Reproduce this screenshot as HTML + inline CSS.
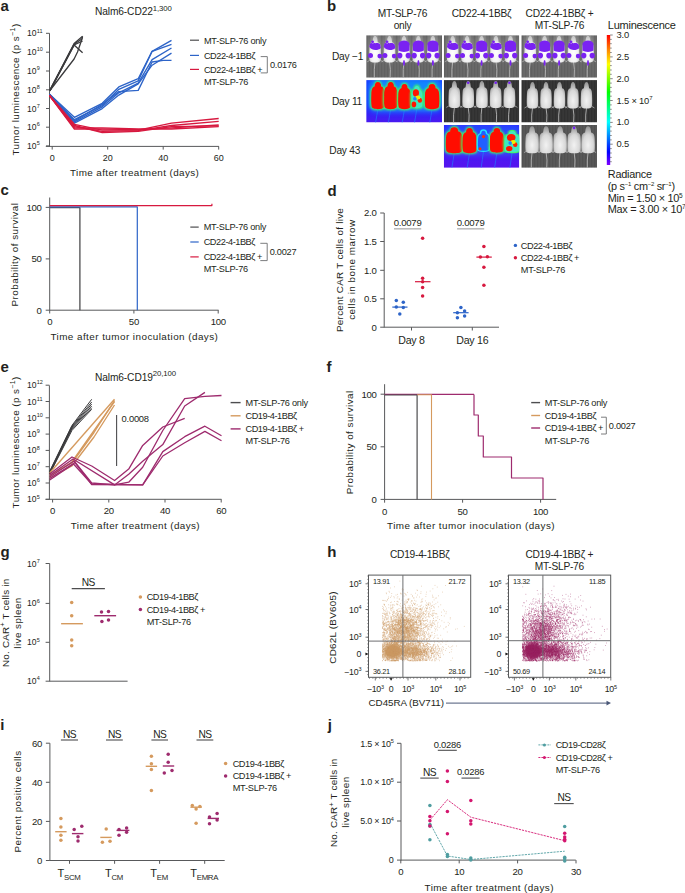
<!DOCTYPE html>
<html><head><meta charset="utf-8"><style>
html,body{margin:0;padding:0;background:#fff;width:685px;height:893px;overflow:hidden}
svg{display:block;font-family:"Liberation Sans",sans-serif;fill:#231f20}

</style></head><body>
<svg width="685" height="893" viewBox="0 0 685 893">
<text x="0.5" y="10.8" font-size="15" font-weight="bold">a</text>
<text x="94.9" y="15" font-size="10.2" letter-spacing="-0.1">Nalm6-CD22<tspan font-size="7.8" dy="-4.3">1,300</tspan></text>
<line x1="49.5" y1="33.3" x2="49.5" y2="146.9" stroke="#58595b" stroke-width="1"/>
<line x1="45.8" y1="146.4" x2="218.9" y2="146.4" stroke="#58595b" stroke-width="1"/>
<line x1="46.0" y1="33.3" x2="49.5" y2="33.3" stroke="#58595b" stroke-width="1"/>
<text x="36.5" y="36.3" font-size="8.6" text-anchor="end">10</text>
<text x="36.8" y="32.5" font-size="5.5">11</text>
<line x1="46.0" y1="52.2" x2="49.5" y2="52.2" stroke="#58595b" stroke-width="1"/>
<text x="36.5" y="55.2" font-size="8.6" text-anchor="end">10</text>
<text x="36.8" y="51.4" font-size="5.5">10</text>
<line x1="46.0" y1="71.0" x2="49.5" y2="71.0" stroke="#58595b" stroke-width="1"/>
<text x="36.5" y="74.0" font-size="8.6" text-anchor="end">10</text>
<text x="36.8" y="70.2" font-size="5.5">9</text>
<line x1="46.0" y1="89.8" x2="49.5" y2="89.8" stroke="#58595b" stroke-width="1"/>
<text x="36.5" y="92.8" font-size="8.6" text-anchor="end">10</text>
<text x="36.8" y="89.0" font-size="5.5">8</text>
<line x1="46.0" y1="108.5" x2="49.5" y2="108.5" stroke="#58595b" stroke-width="1"/>
<text x="36.5" y="111.5" font-size="8.6" text-anchor="end">10</text>
<text x="36.8" y="107.7" font-size="5.5">7</text>
<line x1="46.0" y1="127.2" x2="49.5" y2="127.2" stroke="#58595b" stroke-width="1"/>
<text x="36.5" y="130.2" font-size="8.6" text-anchor="end">10</text>
<text x="36.8" y="126.4" font-size="5.5">6</text>
<line x1="46.0" y1="145.9" x2="49.5" y2="145.9" stroke="#58595b" stroke-width="1"/>
<text x="36.5" y="148.9" font-size="8.6" text-anchor="end">10</text>
<text x="36.8" y="145.1" font-size="5.5">5</text>
<line x1="52.2" y1="146.4" x2="52.2" y2="149.6" stroke="#58595b" stroke-width="1"/>
<text x="52.2" y="161.0" font-size="9" text-anchor="middle">0</text>
<line x1="107.7" y1="146.4" x2="107.7" y2="149.6" stroke="#58595b" stroke-width="1"/>
<text x="107.7" y="161.0" font-size="9" text-anchor="middle">20</text>
<line x1="163.2" y1="146.4" x2="163.2" y2="149.6" stroke="#58595b" stroke-width="1"/>
<text x="163.2" y="161.0" font-size="9" text-anchor="middle">40</text>
<line x1="218.7" y1="146.4" x2="218.7" y2="149.6" stroke="#58595b" stroke-width="1"/>
<text x="218.7" y="161.0" font-size="9" text-anchor="middle">60</text>
<text transform="translate(18.5,89.7) rotate(-90)" x="0.20" y="0" font-size="9.9" letter-spacing="0.4" text-anchor="middle">Tumor luminescence (p s<tspan font-size="7" dy="-3.5">−1</tspan><tspan dy="3.5">)</tspan></text>
<text x="70.0" y="175.9" font-size="9.9" letter-spacing="0.39">Time after treatment (days)</text>
<polyline points="49.9,90.0 74.1,43.6 82.6,36.2" fill="none" stroke="#3a3a3c" stroke-width="1.3" stroke-linejoin="round"/>
<polyline points="49.9,90.3 74.1,44.2 82.6,38.5" fill="none" stroke="#3a3a3c" stroke-width="1.3" stroke-linejoin="round"/>
<polyline points="49.9,90.6 74.1,44.8 82.6,41.0" fill="none" stroke="#3a3a3c" stroke-width="1.3" stroke-linejoin="round"/>
<polyline points="49.9,91.0 74.1,45.1 82.6,52.8" fill="none" stroke="#3a3a3c" stroke-width="1.3" stroke-linejoin="round"/>
<polyline points="49.9,90.5 74.1,59.0 77.5,52.0 80.8,42.5 82.6,36.5" fill="none" stroke="#3a3a3c" stroke-width="1.3" stroke-linejoin="round"/>
<polyline points="49.5,94.3 74.4,117.3 102.2,103.3 118.8,86.9 138.2,78.7 152.1,51.3 171.5,40.4" fill="none" stroke="#2d64c8" stroke-width="1.35" stroke-linejoin="round"/>
<polyline points="49.5,94.3 74.4,119.6 102.2,105.6 118.8,89.3 138.2,80.9 152.1,51.3 171.5,44.4" fill="none" stroke="#2d64c8" stroke-width="1.35" stroke-linejoin="round"/>
<polyline points="49.5,94.3 74.4,121.9 102.2,106.8 118.8,92.8 138.2,83.1 152.1,59.7 171.5,48.0" fill="none" stroke="#2d64c8" stroke-width="1.35" stroke-linejoin="round"/>
<polyline points="49.5,94.3 74.4,123.1 102.2,108.6 118.8,95.1 138.2,83.8 152.1,65.2 171.5,53.1" fill="none" stroke="#2d64c8" stroke-width="1.35" stroke-linejoin="round"/>
<polyline points="49.5,94.3 74.4,120.8 102.2,104.4 118.8,91.6 138.2,90.4 152.1,62.0 163.2,60.4 171.5,60.4" fill="none" stroke="#2d64c8" stroke-width="1.35" stroke-linejoin="round"/>
<polyline points="49.5,95.5 74.4,124.3 102.2,130.1 138.2,130.1 171.5,123.1 218.7,118.5" fill="none" stroke="#d7193f" stroke-width="1.35" stroke-linejoin="round"/>
<polyline points="49.5,95.5 74.4,126.6 102.2,131.3 138.2,130.6 171.5,125.5 218.7,121.3" fill="none" stroke="#d7193f" stroke-width="1.35" stroke-linejoin="round"/>
<polyline points="49.5,95.5 74.4,129.0 102.2,129.0 138.2,129.7 171.5,127.8 218.7,125.0" fill="none" stroke="#d7193f" stroke-width="1.35" stroke-linejoin="round"/>
<polyline points="49.5,95.5 74.4,125.5 102.2,132.5 138.2,131.3 171.5,126.6 218.7,125.9" fill="none" stroke="#d7193f" stroke-width="1.35" stroke-linejoin="round"/>
<polyline points="49.5,95.5 74.4,127.8 102.2,127.8 138.2,129.0 171.5,129.0 218.7,126.6" fill="none" stroke="#d7193f" stroke-width="1.35" stroke-linejoin="round"/>
<line x1="190.0" y1="40.2" x2="199.0" y2="40.2" stroke="#4d4d4f" stroke-width="1.2"/>
<line x1="190.0" y1="55.4" x2="199.0" y2="55.4" stroke="#2d64c8" stroke-width="1.2"/>
<line x1="190.0" y1="69.4" x2="199.0" y2="69.4" stroke="#d7193f" stroke-width="1.2"/>
<text x="203.9" y="43.5" font-size="9.2" letter-spacing="-0.25">MT-SLP-76 only</text>
<text x="203.9" y="58.7" font-size="9.2" letter-spacing="-0.45">CD22-4-1BBζ</text>
<text x="203.9" y="72.7" font-size="9.2" letter-spacing="-0.45">CD22-4-1BBζ +</text>
<text x="203.9" y="85.0" font-size="9.2" letter-spacing="-0.25">MT-SLP-76</text>
<polyline points="260.7,56.6 267.3,56.6 267.3,72.9 260.7,72.9" fill="none" stroke="#6d6e71" stroke-width="0.9" stroke-linejoin="round"/>
<text x="270.0" y="68.3" font-size="9.2" letter-spacing="-0.25">0.0176</text>
<defs>
<filter id="bl05" x="-20%" y="-20%" width="140%" height="140%"><feGaussianBlur stdDeviation="0.45"/></filter>
<filter id="bl1" x="-30%" y="-30%" width="160%" height="160%"><feGaussianBlur stdDeviation="0.9"/></filter>
<filter id="bl2" x="-50%" y="-50%" width="200%" height="200%"><feGaussianBlur stdDeviation="2"/></filter>
<filter id="bl3" x="-50%" y="-50%" width="200%" height="200%"><feGaussianBlur stdDeviation="2.5"/></filter>
<pattern id="streak" x="0" y="0" width="3" height="10" patternUnits="userSpaceOnUse">
<rect x="0" y="0" width="1" height="10" fill="#000" opacity="0.05"/><rect x="1.8" y="0" width="0.8" height="10" fill="#fff" opacity="0.03"/></pattern>
<radialGradient id="mbody" cx="0.5" cy="0.7" r="0.7"><stop offset="0" stop-color="#f2f2f2"/><stop offset="0.55" stop-color="#d8d8d8"/><stop offset="1" stop-color="#909090"/></radialGradient>
<radialGradient id="mbody1" cx="0.5" cy="0.65" r="0.6"><stop offset="0" stop-color="#ffffff"/><stop offset="0.6" stop-color="#f2f2f2"/><stop offset="1" stop-color="#c8c8c8"/></radialGradient>
<linearGradient id="heat1" x1="0" x2="0" y1="0" y2="1"><stop offset="0" stop-color="#1a38ff"/><stop offset="0.55" stop-color="#1a30ff"/><stop offset="1" stop-color="#4a18f0"/></linearGradient>
<linearGradient id="heat2" x1="0" x2="0" y1="0" y2="1"><stop offset="0" stop-color="#3020ff"/><stop offset="1" stop-color="#5514ee"/></linearGradient>
<linearGradient id="cbar" x1="0" x2="0" y1="0" y2="1">
<stop offset="0" stop-color="#ff0000"/><stop offset="0.11" stop-color="#ff8000"/><stop offset="0.225" stop-color="#ffff00"/>
<stop offset="0.44" stop-color="#00ff00"/><stop offset="0.67" stop-color="#00ffff"/><stop offset="0.9" stop-color="#0000ff"/><stop offset="1" stop-color="#8000ff"/></linearGradient>
</defs>
<text x="327.0" y="10.8" font-size="15" font-weight="bold">b</text>
<text x="402.5" y="17.4" font-size="10.2" text-anchor="middle" letter-spacing="-0.25">MT-SLP-76</text>
<text x="402.5" y="29.3" font-size="10.2" text-anchor="middle" letter-spacing="-0.25">only</text>
<text x="481.5" y="17.4" font-size="10.2" text-anchor="middle" letter-spacing="-0.25">CD22-4-1BBζ</text>
<text x="559.5" y="17.4" font-size="10.2" text-anchor="middle" letter-spacing="-0.25">CD22-4-1BBζ +</text>
<text x="559.5" y="29.3" font-size="10.2" text-anchor="middle" letter-spacing="-0.25">MT-SLP-76</text>
<text x="332.0" y="60.2" font-size="10.2" letter-spacing="-0.25">Day −1</text>
<text x="332.0" y="105.2" font-size="10.2" letter-spacing="-0.25">Day 11</text>
<text x="329.3" y="154.1" font-size="10.2" letter-spacing="-0.25">Day 43</text>
<svg x="366.2" y="35.2" width="75.8" height="42.5" viewBox="366.2 35.2 75.8 42.5" overflow="hidden">
<rect x="366.2" y="35.2" width="75.8" height="42.5" fill="#666"/>
<rect x="366.2" y="35.2" width="75.8" height="42.5" fill="url(#streak)"/>
<path d="M375.1,61.5 q-1.2,7.6 -0.8,17.2" stroke="#b8b8b8" stroke-width="0.9" fill="none"/>
<ellipse cx="375.1" cy="47.9" rx="5.5" ry="14.6" fill="#fff" opacity="0.35" filter="url(#bl2)"/>
<path d="M369.6,60.4 l-2.5,1.5 M380.6,60.4 l2.5,1.5" stroke="#b0b0b0" stroke-width="0.8" fill="none"/>
<path transform="translate(375.1,36.0) scale(0.933,0.946)" d="M0,0 C1.4,0 2.4,1.8 2.5,4.2 L2.8,6.5 C5.2,7 5.9,9 6,12 C6.2,16 6.4,21 6.1,25 C5.7,27.5 3.5,28 0,28 C-3.5,28 -5.7,27.5 -6.1,25 C-6.4,21 -6.2,16 -6,12 C-5.9,9 -5.2,7 -2.8,6.5 L-2.5,4.2 C-2.4,1.8 -1.4,0 0,0 Z" fill="url(#mbody1)" filter="url(#bl05)"/>
<g filter="url(#bl05)" fill="#7a22f2">
<path d="M369.3,47.1 L369.9,44.0 C371.1,41.3 373.1,45.0 373.9,42.4 C375.1,44.5 377.1,41.3 380.3,44.5 L380.9,47.9 C378.1,50.8 372.1,50.8 369.3,47.1 Z"/>
<circle cx="372.6" cy="41.8" r="1.4"/>
<circle cx="370.5" cy="55.6" r="2.5"/>
<circle cx="379.7" cy="56.1" r="2.3"/>
</g>
<path d="M389.5,61.5 q1.5,7.6 0.6,17.2" stroke="#b8b8b8" stroke-width="0.9" fill="none"/>
<ellipse cx="389.5" cy="47.9" rx="5.5" ry="14.6" fill="#fff" opacity="0.35" filter="url(#bl2)"/>
<path d="M384.0,60.4 l-2.5,1.5 M395.0,60.4 l2.5,1.5" stroke="#b0b0b0" stroke-width="0.8" fill="none"/>
<path transform="translate(389.5,36.0) scale(0.933,0.946)" d="M0,0 C1.4,0 2.4,1.8 2.5,4.2 L2.8,6.5 C5.2,7 5.9,9 6,12 C6.2,16 6.4,21 6.1,25 C5.7,27.5 3.5,28 0,28 C-3.5,28 -5.7,27.5 -6.1,25 C-6.4,21 -6.2,16 -6,12 C-5.9,9 -5.2,7 -2.8,6.5 L-2.5,4.2 C-2.4,1.8 -1.4,0 0,0 Z" fill="url(#mbody1)" filter="url(#bl05)"/>
<g filter="url(#bl05)" fill="#7a22f2">
<path d="M383.7,47.1 L384.3,44.0 C385.5,41.3 387.5,45.0 388.3,42.4 C389.5,44.5 391.5,41.3 394.7,44.5 L395.3,47.9 C392.5,50.8 386.5,50.8 383.7,47.1 Z"/>
<circle cx="387.0" cy="41.8" r="1.4"/>
<circle cx="384.9" cy="55.6" r="2.5"/>
<circle cx="394.1" cy="56.1" r="2.3"/>
</g>
<path d="M404.0,61.5 q-1.2,7.6 -0.8,17.2" stroke="#b8b8b8" stroke-width="0.9" fill="none"/>
<ellipse cx="404.0" cy="47.9" rx="5.5" ry="14.6" fill="#fff" opacity="0.35" filter="url(#bl2)"/>
<path d="M398.5,60.4 l-2.5,1.5 M409.5,60.4 l2.5,1.5" stroke="#b0b0b0" stroke-width="0.8" fill="none"/>
<path transform="translate(404.0,36.0) scale(0.933,0.946)" d="M0,0 C1.4,0 2.4,1.8 2.5,4.2 L2.8,6.5 C5.2,7 5.9,9 6,12 C6.2,16 6.4,21 6.1,25 C5.7,27.5 3.5,28 0,28 C-3.5,28 -5.7,27.5 -6.1,25 C-6.4,21 -6.2,16 -6,12 C-5.9,9 -5.2,7 -2.8,6.5 L-2.5,4.2 C-2.4,1.8 -1.4,0 0,0 Z" fill="url(#mbody1)" filter="url(#bl05)"/>
<g filter="url(#bl05)" fill="#7a22f2">
<path d="M398.5,44.0 C399.0,39.2 409.0,39.2 409.5,44.0 L409.5,50.6 C407.0,52.4 401.0,52.4 398.5,50.6 Z"/>
<ellipse cx="399.8" cy="55.6" rx="2.6" ry="2.8"/>
<ellipse cx="408.2" cy="55.6" rx="2.6" ry="2.8"/>
<ellipse cx="404.0" cy="63.0" rx="1" ry="3"/>
</g>
<path d="M418.4,61.5 q1.5,7.6 0.6,17.2" stroke="#b8b8b8" stroke-width="0.9" fill="none"/>
<ellipse cx="418.4" cy="47.9" rx="5.5" ry="14.6" fill="#fff" opacity="0.35" filter="url(#bl2)"/>
<path d="M412.9,60.4 l-2.5,1.5 M423.9,60.4 l2.5,1.5" stroke="#b0b0b0" stroke-width="0.8" fill="none"/>
<path transform="translate(418.4,36.0) scale(0.933,0.946)" d="M0,0 C1.4,0 2.4,1.8 2.5,4.2 L2.8,6.5 C5.2,7 5.9,9 6,12 C6.2,16 6.4,21 6.1,25 C5.7,27.5 3.5,28 0,28 C-3.5,28 -5.7,27.5 -6.1,25 C-6.4,21 -6.2,16 -6,12 C-5.9,9 -5.2,7 -2.8,6.5 L-2.5,4.2 C-2.4,1.8 -1.4,0 0,0 Z" fill="url(#mbody1)" filter="url(#bl05)"/>
<g filter="url(#bl05)" fill="#7a22f2">
<path d="M412.9,44.0 C413.4,39.2 423.4,39.2 423.9,44.0 L423.9,50.6 C421.4,52.4 415.4,52.4 412.9,50.6 Z"/>
<ellipse cx="414.2" cy="55.6" rx="2.6" ry="2.8"/>
<ellipse cx="422.6" cy="55.6" rx="2.6" ry="2.8"/>
<ellipse cx="418.4" cy="63.0" rx="1" ry="3"/>
</g>
<path d="M432.9,61.5 q-1.2,7.6 -0.8,17.2" stroke="#b8b8b8" stroke-width="0.9" fill="none"/>
<ellipse cx="432.9" cy="47.9" rx="5.5" ry="14.6" fill="#fff" opacity="0.35" filter="url(#bl2)"/>
<path d="M427.4,60.4 l-2.5,1.5 M438.4,60.4 l2.5,1.5" stroke="#b0b0b0" stroke-width="0.8" fill="none"/>
<path transform="translate(432.9,36.0) scale(0.933,0.946)" d="M0,0 C1.4,0 2.4,1.8 2.5,4.2 L2.8,6.5 C5.2,7 5.9,9 6,12 C6.2,16 6.4,21 6.1,25 C5.7,27.5 3.5,28 0,28 C-3.5,28 -5.7,27.5 -6.1,25 C-6.4,21 -6.2,16 -6,12 C-5.9,9 -5.2,7 -2.8,6.5 L-2.5,4.2 C-2.4,1.8 -1.4,0 0,0 Z" fill="url(#mbody1)" filter="url(#bl05)"/>
<g filter="url(#bl05)" fill="#7a22f2">
<path d="M427.4,44.0 C427.9,39.2 437.9,39.2 438.4,44.0 L438.4,50.6 C435.9,52.4 429.9,52.4 427.4,50.6 Z"/>
<ellipse cx="428.7" cy="55.6" rx="2.6" ry="2.8"/>
<ellipse cx="437.1" cy="55.6" rx="2.6" ry="2.8"/>
<ellipse cx="432.9" cy="63.0" rx="1" ry="3"/>
</g>
</svg>
<svg x="443.8" y="35.2" width="75.5" height="42.5" viewBox="443.8 35.2 75.5 42.5" overflow="hidden">
<rect x="443.8" y="35.2" width="75.5" height="42.5" fill="#666"/>
<rect x="443.8" y="35.2" width="75.5" height="42.5" fill="url(#streak)"/>
<path d="M452.7,61.5 q-1.2,7.6 -0.8,17.2" stroke="#b8b8b8" stroke-width="0.9" fill="none"/>
<ellipse cx="452.7" cy="47.9" rx="5.5" ry="14.6" fill="#fff" opacity="0.35" filter="url(#bl2)"/>
<path d="M447.2,60.4 l-2.5,1.5 M458.2,60.4 l2.5,1.5" stroke="#b0b0b0" stroke-width="0.8" fill="none"/>
<path transform="translate(452.7,36.0) scale(0.933,0.946)" d="M0,0 C1.4,0 2.4,1.8 2.5,4.2 L2.8,6.5 C5.2,7 5.9,9 6,12 C6.2,16 6.4,21 6.1,25 C5.7,27.5 3.5,28 0,28 C-3.5,28 -5.7,27.5 -6.1,25 C-6.4,21 -6.2,16 -6,12 C-5.9,9 -5.2,7 -2.8,6.5 L-2.5,4.2 C-2.4,1.8 -1.4,0 0,0 Z" fill="url(#mbody1)" filter="url(#bl05)"/>
<g filter="url(#bl05)" fill="#7a22f2">
<path d="M446.9,47.1 L447.5,44.0 C448.7,41.3 450.7,45.0 451.5,42.4 C452.7,44.5 454.7,41.3 457.9,44.5 L458.5,47.9 C455.7,50.8 449.7,50.8 446.9,47.1 Z"/>
<circle cx="450.2" cy="41.8" r="1.4"/>
<circle cx="448.1" cy="55.6" r="2.5"/>
<circle cx="457.3" cy="56.1" r="2.3"/>
</g>
<path d="M467.1,61.5 q1.5,7.6 0.6,17.2" stroke="#b8b8b8" stroke-width="0.9" fill="none"/>
<ellipse cx="467.1" cy="47.9" rx="5.5" ry="14.6" fill="#fff" opacity="0.35" filter="url(#bl2)"/>
<path d="M461.6,60.4 l-2.5,1.5 M472.6,60.4 l2.5,1.5" stroke="#b0b0b0" stroke-width="0.8" fill="none"/>
<path transform="translate(467.1,36.0) scale(0.933,0.946)" d="M0,0 C1.4,0 2.4,1.8 2.5,4.2 L2.8,6.5 C5.2,7 5.9,9 6,12 C6.2,16 6.4,21 6.1,25 C5.7,27.5 3.5,28 0,28 C-3.5,28 -5.7,27.5 -6.1,25 C-6.4,21 -6.2,16 -6,12 C-5.9,9 -5.2,7 -2.8,6.5 L-2.5,4.2 C-2.4,1.8 -1.4,0 0,0 Z" fill="url(#mbody1)" filter="url(#bl05)"/>
<g filter="url(#bl05)" fill="#7a22f2">
<path d="M461.3,47.1 L461.9,44.0 C463.1,41.3 465.1,45.0 465.9,42.4 C467.1,44.5 469.1,41.3 472.3,44.5 L472.9,47.9 C470.1,50.8 464.1,50.8 461.3,47.1 Z"/>
<circle cx="464.6" cy="41.8" r="1.4"/>
<circle cx="462.5" cy="55.6" r="2.5"/>
<circle cx="471.8" cy="56.1" r="2.3"/>
</g>
<path d="M481.6,61.5 q-1.2,7.6 -0.8,17.2" stroke="#b8b8b8" stroke-width="0.9" fill="none"/>
<ellipse cx="481.6" cy="47.9" rx="5.5" ry="14.6" fill="#fff" opacity="0.35" filter="url(#bl2)"/>
<path d="M476.1,60.4 l-2.5,1.5 M487.1,60.4 l2.5,1.5" stroke="#b0b0b0" stroke-width="0.8" fill="none"/>
<path transform="translate(481.6,36.0) scale(0.933,0.946)" d="M0,0 C1.4,0 2.4,1.8 2.5,4.2 L2.8,6.5 C5.2,7 5.9,9 6,12 C6.2,16 6.4,21 6.1,25 C5.7,27.5 3.5,28 0,28 C-3.5,28 -5.7,27.5 -6.1,25 C-6.4,21 -6.2,16 -6,12 C-5.9,9 -5.2,7 -2.8,6.5 L-2.5,4.2 C-2.4,1.8 -1.4,0 0,0 Z" fill="url(#mbody1)" filter="url(#bl05)"/>
<g filter="url(#bl05)" fill="#7a22f2">
<path d="M476.1,44.0 C476.6,39.2 486.6,39.2 487.1,44.0 L487.1,50.6 C484.6,52.4 478.6,52.4 476.1,50.6 Z"/>
<ellipse cx="477.4" cy="55.6" rx="2.6" ry="2.8"/>
<ellipse cx="485.8" cy="55.6" rx="2.6" ry="2.8"/>
<ellipse cx="481.6" cy="63.0" rx="1" ry="3"/>
</g>
<path d="M496.0,61.5 q1.5,7.6 0.6,17.2" stroke="#b8b8b8" stroke-width="0.9" fill="none"/>
<ellipse cx="496.0" cy="47.9" rx="5.5" ry="14.6" fill="#fff" opacity="0.35" filter="url(#bl2)"/>
<path d="M490.5,60.4 l-2.5,1.5 M501.5,60.4 l2.5,1.5" stroke="#b0b0b0" stroke-width="0.8" fill="none"/>
<path transform="translate(496.0,36.0) scale(0.933,0.946)" d="M0,0 C1.4,0 2.4,1.8 2.5,4.2 L2.8,6.5 C5.2,7 5.9,9 6,12 C6.2,16 6.4,21 6.1,25 C5.7,27.5 3.5,28 0,28 C-3.5,28 -5.7,27.5 -6.1,25 C-6.4,21 -6.2,16 -6,12 C-5.9,9 -5.2,7 -2.8,6.5 L-2.5,4.2 C-2.4,1.8 -1.4,0 0,0 Z" fill="url(#mbody1)" filter="url(#bl05)"/>
<g filter="url(#bl05)" fill="#7a22f2">
<path d="M490.2,47.1 L490.8,44.0 C492.0,41.3 494.0,45.0 494.8,42.4 C496.0,44.5 498.0,41.3 501.2,44.5 L501.8,47.9 C499.0,50.8 493.0,50.8 490.2,47.1 Z"/>
<circle cx="493.5" cy="41.8" r="1.4"/>
<circle cx="491.4" cy="55.6" r="2.5"/>
<circle cx="500.6" cy="56.1" r="2.3"/>
</g>
<path d="M510.5,61.5 q-1.2,7.6 -0.8,17.2" stroke="#b8b8b8" stroke-width="0.9" fill="none"/>
<ellipse cx="510.5" cy="47.9" rx="5.5" ry="14.6" fill="#fff" opacity="0.35" filter="url(#bl2)"/>
<path d="M505.0,60.4 l-2.5,1.5 M516.0,60.4 l2.5,1.5" stroke="#b0b0b0" stroke-width="0.8" fill="none"/>
<path transform="translate(510.5,36.0) scale(0.933,0.946)" d="M0,0 C1.4,0 2.4,1.8 2.5,4.2 L2.8,6.5 C5.2,7 5.9,9 6,12 C6.2,16 6.4,21 6.1,25 C5.7,27.5 3.5,28 0,28 C-3.5,28 -5.7,27.5 -6.1,25 C-6.4,21 -6.2,16 -6,12 C-5.9,9 -5.2,7 -2.8,6.5 L-2.5,4.2 C-2.4,1.8 -1.4,0 0,0 Z" fill="url(#mbody1)" filter="url(#bl05)"/>
<g filter="url(#bl05)" fill="#7a22f2">
<path d="M505.0,44.0 C505.5,39.2 515.5,39.2 516.0,44.0 L516.0,50.6 C513.5,52.4 507.5,52.4 505.0,50.6 Z"/>
<ellipse cx="506.3" cy="55.6" rx="2.6" ry="2.8"/>
<ellipse cx="514.7" cy="55.6" rx="2.6" ry="2.8"/>
<ellipse cx="510.5" cy="63.0" rx="1" ry="3"/>
</g>
</svg>
<svg x="521.3" y="35.2" width="75.7" height="42.5" viewBox="521.3 35.2 75.7 42.5" overflow="hidden">
<rect x="521.3" y="35.2" width="75.7" height="42.5" fill="#666"/>
<rect x="521.3" y="35.2" width="75.7" height="42.5" fill="url(#streak)"/>
<path d="M530.2,61.5 q-1.2,7.6 -0.8,17.2" stroke="#b8b8b8" stroke-width="0.9" fill="none"/>
<ellipse cx="530.2" cy="47.9" rx="5.5" ry="14.6" fill="#fff" opacity="0.35" filter="url(#bl2)"/>
<path d="M524.7,60.4 l-2.5,1.5 M535.7,60.4 l2.5,1.5" stroke="#b0b0b0" stroke-width="0.8" fill="none"/>
<path transform="translate(530.2,36.0) scale(0.933,0.946)" d="M0,0 C1.4,0 2.4,1.8 2.5,4.2 L2.8,6.5 C5.2,7 5.9,9 6,12 C6.2,16 6.4,21 6.1,25 C5.7,27.5 3.5,28 0,28 C-3.5,28 -5.7,27.5 -6.1,25 C-6.4,21 -6.2,16 -6,12 C-5.9,9 -5.2,7 -2.8,6.5 L-2.5,4.2 C-2.4,1.8 -1.4,0 0,0 Z" fill="url(#mbody1)" filter="url(#bl05)"/>
<g filter="url(#bl05)" fill="#7a22f2">
<path d="M524.4,47.1 L525.0,44.0 C526.2,41.3 528.2,45.0 529.0,42.4 C530.2,44.5 532.2,41.3 535.4,44.5 L536.0,47.9 C533.2,50.8 527.2,50.8 524.4,47.1 Z"/>
<circle cx="527.7" cy="41.8" r="1.4"/>
<circle cx="525.6" cy="55.6" r="2.5"/>
<circle cx="534.8" cy="56.1" r="2.3"/>
</g>
<path d="M544.6,61.5 q1.5,7.6 0.6,17.2" stroke="#b8b8b8" stroke-width="0.9" fill="none"/>
<ellipse cx="544.6" cy="47.9" rx="5.5" ry="14.6" fill="#fff" opacity="0.35" filter="url(#bl2)"/>
<path d="M539.1,60.4 l-2.5,1.5 M550.1,60.4 l2.5,1.5" stroke="#b0b0b0" stroke-width="0.8" fill="none"/>
<path transform="translate(544.6,36.0) scale(0.933,0.946)" d="M0,0 C1.4,0 2.4,1.8 2.5,4.2 L2.8,6.5 C5.2,7 5.9,9 6,12 C6.2,16 6.4,21 6.1,25 C5.7,27.5 3.5,28 0,28 C-3.5,28 -5.7,27.5 -6.1,25 C-6.4,21 -6.2,16 -6,12 C-5.9,9 -5.2,7 -2.8,6.5 L-2.5,4.2 C-2.4,1.8 -1.4,0 0,0 Z" fill="url(#mbody1)" filter="url(#bl05)"/>
<g filter="url(#bl05)" fill="#7a22f2">
<path d="M539.1,44.0 C539.6,39.2 549.6,39.2 550.1,44.0 L550.1,50.6 C547.6,52.4 541.6,52.4 539.1,50.6 Z"/>
<ellipse cx="540.4" cy="55.6" rx="2.6" ry="2.8"/>
<ellipse cx="548.9" cy="55.6" rx="2.6" ry="2.8"/>
<ellipse cx="544.6" cy="63.0" rx="1" ry="3"/>
</g>
<path d="M559.1,61.5 q-1.2,7.6 -0.8,17.2" stroke="#b8b8b8" stroke-width="0.9" fill="none"/>
<ellipse cx="559.1" cy="47.9" rx="5.5" ry="14.6" fill="#fff" opacity="0.35" filter="url(#bl2)"/>
<path d="M553.6,60.4 l-2.5,1.5 M564.6,60.4 l2.5,1.5" stroke="#b0b0b0" stroke-width="0.8" fill="none"/>
<path transform="translate(559.1,36.0) scale(0.933,0.946)" d="M0,0 C1.4,0 2.4,1.8 2.5,4.2 L2.8,6.5 C5.2,7 5.9,9 6,12 C6.2,16 6.4,21 6.1,25 C5.7,27.5 3.5,28 0,28 C-3.5,28 -5.7,27.5 -6.1,25 C-6.4,21 -6.2,16 -6,12 C-5.9,9 -5.2,7 -2.8,6.5 L-2.5,4.2 C-2.4,1.8 -1.4,0 0,0 Z" fill="url(#mbody1)" filter="url(#bl05)"/>
<g filter="url(#bl05)" fill="#7a22f2">
<path d="M553.6,44.0 C554.1,39.2 564.1,39.2 564.6,44.0 L564.6,50.6 C562.1,52.4 556.1,52.4 553.6,50.6 Z"/>
<ellipse cx="554.9" cy="55.6" rx="2.6" ry="2.8"/>
<ellipse cx="563.3" cy="55.6" rx="2.6" ry="2.8"/>
<ellipse cx="559.1" cy="63.0" rx="1" ry="3"/>
</g>
<path d="M573.5,61.5 q1.5,7.6 0.6,17.2" stroke="#b8b8b8" stroke-width="0.9" fill="none"/>
<ellipse cx="573.5" cy="47.9" rx="5.5" ry="14.6" fill="#fff" opacity="0.35" filter="url(#bl2)"/>
<path d="M568.0,60.4 l-2.5,1.5 M579.0,60.4 l2.5,1.5" stroke="#b0b0b0" stroke-width="0.8" fill="none"/>
<path transform="translate(573.5,36.0) scale(0.933,0.946)" d="M0,0 C1.4,0 2.4,1.8 2.5,4.2 L2.8,6.5 C5.2,7 5.9,9 6,12 C6.2,16 6.4,21 6.1,25 C5.7,27.5 3.5,28 0,28 C-3.5,28 -5.7,27.5 -6.1,25 C-6.4,21 -6.2,16 -6,12 C-5.9,9 -5.2,7 -2.8,6.5 L-2.5,4.2 C-2.4,1.8 -1.4,0 0,0 Z" fill="url(#mbody1)" filter="url(#bl05)"/>
<g filter="url(#bl05)" fill="#7a22f2">
<path d="M567.8,47.1 L568.3,44.0 C569.5,41.3 571.5,45.0 572.3,42.4 C573.5,44.5 575.5,41.3 578.8,44.5 L579.3,47.9 C576.5,50.8 570.5,50.8 567.8,47.1 Z"/>
<circle cx="571.0" cy="41.8" r="1.4"/>
<circle cx="568.9" cy="55.6" r="2.5"/>
<circle cx="578.1" cy="56.1" r="2.3"/>
</g>
<path d="M588.0,61.5 q-1.2,7.6 -0.8,17.2" stroke="#b8b8b8" stroke-width="0.9" fill="none"/>
<ellipse cx="588.0" cy="47.9" rx="5.5" ry="14.6" fill="#fff" opacity="0.35" filter="url(#bl2)"/>
<path d="M582.5,60.4 l-2.5,1.5 M593.5,60.4 l2.5,1.5" stroke="#b0b0b0" stroke-width="0.8" fill="none"/>
<path transform="translate(588.0,36.0) scale(0.933,0.946)" d="M0,0 C1.4,0 2.4,1.8 2.5,4.2 L2.8,6.5 C5.2,7 5.9,9 6,12 C6.2,16 6.4,21 6.1,25 C5.7,27.5 3.5,28 0,28 C-3.5,28 -5.7,27.5 -6.1,25 C-6.4,21 -6.2,16 -6,12 C-5.9,9 -5.2,7 -2.8,6.5 L-2.5,4.2 C-2.4,1.8 -1.4,0 0,0 Z" fill="url(#mbody1)" filter="url(#bl05)"/>
<g filter="url(#bl05)" fill="#7a22f2">
<path d="M582.5,44.0 C583.0,39.2 593.0,39.2 593.5,44.0 L593.5,50.6 C591.0,52.4 585.0,52.4 582.5,50.6 Z"/>
<ellipse cx="583.8" cy="55.6" rx="2.6" ry="2.8"/>
<ellipse cx="592.2" cy="55.6" rx="2.6" ry="2.8"/>
<ellipse cx="588.0" cy="63.0" rx="1" ry="3"/>
</g>
</svg>
<svg x="366.2" y="80.1" width="75.8" height="42.4" viewBox="366.2 80.1 75.8 42.4" overflow="hidden">
<rect x="366.2" y="80.1" width="75.8" height="42.4" fill="url(#heat1)"/>
<rect x="368.5" y="79.0" width="73.5" height="33.0" rx="8" fill="#10c8ff" opacity="0.55" filter="url(#bl3)"/>
<path d="M377.9,109.0 q-1,6.2 -2.5,14.5" stroke="#1890ff" stroke-width="0.8" fill="none" opacity="0.7"/>
<path transform="translate(377.9,80.8) scale(1.162,1.079)" d="M0,0 C2.2,0 3.2,1.5 3.3,4.5 C5.8,5 6.6,8 6.7,12 C6.9,17 6.9,21 6.4,24.5 C5.8,28 -5.8,28 -6.4,24.5 C-6.9,21 -6.9,17 -6.7,12 C-6.6,8 -5.8,5 -3.3,4.5 C-3.2,1.5 -2.2,0 0,0 Z" fill="#40ff60" filter="url(#bl1)"/>
<path transform="translate(377.9,82.0) scale(0.977,1.000)" d="M0,0 C2.2,0 3.2,1.5 3.3,4.5 C5.8,5 6.6,8 6.7,12 C6.9,17 6.9,21 6.4,24.5 C5.8,28 -5.8,28 -6.4,24.5 C-6.9,21 -6.9,17 -6.7,12 C-6.6,8 -5.8,5 -3.3,4.5 C-3.2,1.5 -2.2,0 0,0 Z" fill="#ff0800" filter="url(#bl05)"/>
<path d="M390.7,109.0 q-1,6.2 -2.5,14.5" stroke="#1890ff" stroke-width="0.8" fill="none" opacity="0.7"/>
<path transform="translate(390.7,80.8) scale(1.154,1.079)" d="M0,0 C2.2,0 3.2,1.5 3.3,4.5 C5.8,5 6.6,8 6.7,12 C6.9,17 6.9,21 6.4,24.5 C5.8,28 -5.8,28 -6.4,24.5 C-6.9,21 -6.9,17 -6.7,12 C-6.6,8 -5.8,5 -3.3,4.5 C-3.2,1.5 -2.2,0 0,0 Z" fill="#40ff60" filter="url(#bl1)"/>
<path transform="translate(390.7,82.0) scale(0.969,1.000)" d="M0,0 C2.2,0 3.2,1.5 3.3,4.5 C5.8,5 6.6,8 6.7,12 C6.9,17 6.9,21 6.4,24.5 C5.8,28 -5.8,28 -6.4,24.5 C-6.9,21 -6.9,17 -6.7,12 C-6.6,8 -5.8,5 -3.3,4.5 C-3.2,1.5 -2.2,0 0,0 Z" fill="#ff0800" filter="url(#bl05)"/>
<path d="M404.5,109.0 q-1,6.2 -2.5,14.5" stroke="#1890ff" stroke-width="0.8" fill="none" opacity="0.7"/>
<path transform="translate(404.5,82.8) scale(1.108,1.007)" d="M0,0 C2.2,0 3.2,1.5 3.3,4.5 C5.8,5 6.6,8 6.7,12 C6.9,17 6.9,21 6.4,24.5 C5.8,28 -5.8,28 -6.4,24.5 C-6.9,21 -6.9,17 -6.7,12 C-6.6,8 -5.8,5 -3.3,4.5 C-3.2,1.5 -2.2,0 0,0 Z" fill="#40ff60" filter="url(#bl1)"/>
<path transform="translate(404.5,84.0) scale(0.923,0.929)" d="M0,0 C2.2,0 3.2,1.5 3.3,4.5 C5.8,5 6.6,8 6.7,12 C6.9,17 6.9,21 6.4,24.5 C5.8,28 -5.8,28 -6.4,24.5 C-6.9,21 -6.9,17 -6.7,12 C-6.6,8 -5.8,5 -3.3,4.5 C-3.2,1.5 -2.2,0 0,0 Z" fill="#ff0800" filter="url(#bl05)"/>
<path d="M416.9,108.0 q-1,6.8 -2.5,15.5" stroke="#1890ff" stroke-width="0.8" fill="none" opacity="0.7"/>
<path transform="translate(416.9,84.8) scale(0.992,0.900)" d="M0,0 C2.2,0 3.2,1.5 3.3,4.5 C5.8,5 6.6,8 6.7,12 C6.9,17 6.9,21 6.4,24.5 C5.8,28 -5.8,28 -6.4,24.5 C-6.9,21 -6.9,17 -6.7,12 C-6.6,8 -5.8,5 -3.3,4.5 C-3.2,1.5 -2.2,0 0,0 Z" fill="#40ff60" filter="url(#bl1)"/>
<path transform="translate(416.9,86.0) scale(0.808,0.821)" d="M0,0 C2.2,0 3.2,1.5 3.3,4.5 C5.8,5 6.6,8 6.7,12 C6.9,17 6.9,21 6.4,24.5 C5.8,28 -5.8,28 -6.4,24.5 C-6.9,21 -6.9,17 -6.7,12 C-6.6,8 -5.8,5 -3.3,4.5 C-3.2,1.5 -2.2,0 0,0 Z" fill="#40e8c0" filter="url(#bl05)"/>
<ellipse cx="415.9" cy="92.9" rx="3.1" ry="3.7" fill="#ff1800" filter="url(#bl05)"/>
<ellipse cx="413.9" cy="104.4" rx="2.3" ry="2.8" fill="#ff1800" filter="url(#bl05)"/>
<ellipse cx="419.9" cy="100.3" rx="2.2" ry="2.5" fill="#ff2000" filter="url(#bl05)"/>
<ellipse cx="417.9" cy="97.5" rx="2.6" ry="2" fill="#f0f000" filter="url(#bl05)"/>
<ellipse cx="414.9" cy="98.7" rx="1.8" ry="1.8" fill="#2080ff" filter="url(#bl05)"/>
<path d="M432.1,109.0 q-1,6.2 -2.5,14.5" stroke="#1890ff" stroke-width="0.8" fill="none" opacity="0.7"/>
<path transform="translate(432.1,82.8) scale(1.246,1.007)" d="M0,0 C2.2,0 3.2,1.5 3.3,4.5 C5.8,5 6.6,8 6.7,12 C6.9,17 6.9,21 6.4,24.5 C5.8,28 -5.8,28 -6.4,24.5 C-6.9,21 -6.9,17 -6.7,12 C-6.6,8 -5.8,5 -3.3,4.5 C-3.2,1.5 -2.2,0 0,0 Z" fill="#40ff60" filter="url(#bl1)"/>
<path transform="translate(432.1,84.0) scale(1.062,0.929)" d="M0,0 C2.2,0 3.2,1.5 3.3,4.5 C5.8,5 6.6,8 6.7,12 C6.9,17 6.9,21 6.4,24.5 C5.8,28 -5.8,28 -6.4,24.5 C-6.9,21 -6.9,17 -6.7,12 C-6.6,8 -5.8,5 -3.3,4.5 C-3.2,1.5 -2.2,0 0,0 Z" fill="#ff0800" filter="url(#bl05)"/>
</svg>
<svg x="443.8" y="80.1" width="75.5" height="42.4" viewBox="443.8 80.1 75.5 42.4" overflow="hidden">
<rect x="443.8" y="80.1" width="75.5" height="42.4" fill="#333"/>
<rect x="443.8" y="80.1" width="75.5" height="42.4" fill="url(#streak)"/>
<path d="M454.4,107.1 q-1.2,7.2 -0.8,16.4" stroke="#b8b8b8" stroke-width="0.9" fill="none"/>
<path d="M448.9,105.9 l-2.5,1.5 M459.9,105.9 l2.5,1.5" stroke="#b0b0b0" stroke-width="0.8" fill="none"/>
<path transform="translate(454.4,81.1) scale(0.942,0.964)" d="M0,0 C1.4,0 2.4,1.8 2.5,4.2 L2.8,6.5 C5.2,7 5.9,9 6,12 C6.2,16 6.4,21 6.1,25 C5.7,27.5 3.5,28 0,28 C-3.5,28 -5.7,27.5 -6.1,25 C-6.4,21 -6.2,16 -6,12 C-5.9,9 -5.2,7 -2.8,6.5 L-2.5,4.2 C-2.4,1.8 -1.4,0 0,0 Z" fill="url(#mbody)" filter="url(#bl05)"/>
<path d="M468.2,107.1 q1.5,7.2 0.6,16.4" stroke="#b8b8b8" stroke-width="0.9" fill="none"/>
<path d="M462.7,105.9 l-2.5,1.5 M473.7,105.9 l2.5,1.5" stroke="#b0b0b0" stroke-width="0.8" fill="none"/>
<path transform="translate(468.2,81.1) scale(0.942,0.964)" d="M0,0 C1.4,0 2.4,1.8 2.5,4.2 L2.8,6.5 C5.2,7 5.9,9 6,12 C6.2,16 6.4,21 6.1,25 C5.7,27.5 3.5,28 0,28 C-3.5,28 -5.7,27.5 -6.1,25 C-6.4,21 -6.2,16 -6,12 C-5.9,9 -5.2,7 -2.8,6.5 L-2.5,4.2 C-2.4,1.8 -1.4,0 0,0 Z" fill="url(#mbody)" filter="url(#bl05)"/>
<circle cx="468.2" cy="82.7" r="1.3" fill="#7320f0" filter="url(#bl05)"/>
<path d="M481.9,107.1 q-1.2,7.2 -0.8,16.4" stroke="#b8b8b8" stroke-width="0.9" fill="none"/>
<path d="M476.4,105.9 l-2.5,1.5 M487.4,105.9 l2.5,1.5" stroke="#b0b0b0" stroke-width="0.8" fill="none"/>
<path transform="translate(481.9,81.1) scale(0.942,0.964)" d="M0,0 C1.4,0 2.4,1.8 2.5,4.2 L2.8,6.5 C5.2,7 5.9,9 6,12 C6.2,16 6.4,21 6.1,25 C5.7,27.5 3.5,28 0,28 C-3.5,28 -5.7,27.5 -6.1,25 C-6.4,21 -6.2,16 -6,12 C-5.9,9 -5.2,7 -2.8,6.5 L-2.5,4.2 C-2.4,1.8 -1.4,0 0,0 Z" fill="url(#mbody)" filter="url(#bl05)"/>
<path d="M495.7,107.1 q1.5,7.2 0.6,16.4" stroke="#b8b8b8" stroke-width="0.9" fill="none"/>
<path d="M490.2,105.9 l-2.5,1.5 M501.2,105.9 l2.5,1.5" stroke="#b0b0b0" stroke-width="0.8" fill="none"/>
<path transform="translate(495.7,81.1) scale(0.942,0.964)" d="M0,0 C1.4,0 2.4,1.8 2.5,4.2 L2.8,6.5 C5.2,7 5.9,9 6,12 C6.2,16 6.4,21 6.1,25 C5.7,27.5 3.5,28 0,28 C-3.5,28 -5.7,27.5 -6.1,25 C-6.4,21 -6.2,16 -6,12 C-5.9,9 -5.2,7 -2.8,6.5 L-2.5,4.2 C-2.4,1.8 -1.4,0 0,0 Z" fill="url(#mbody)" filter="url(#bl05)"/>
<circle cx="495.7" cy="82.7" r="1.3" fill="#7320f0" filter="url(#bl05)"/>
<path d="M509.4,107.1 q-1.2,7.2 -0.8,16.4" stroke="#b8b8b8" stroke-width="0.9" fill="none"/>
<path d="M503.9,105.9 l-2.5,1.5 M514.9,105.9 l2.5,1.5" stroke="#b0b0b0" stroke-width="0.8" fill="none"/>
<path transform="translate(509.4,81.1) scale(0.942,0.964)" d="M0,0 C1.4,0 2.4,1.8 2.5,4.2 L2.8,6.5 C5.2,7 5.9,9 6,12 C6.2,16 6.4,21 6.1,25 C5.7,27.5 3.5,28 0,28 C-3.5,28 -5.7,27.5 -6.1,25 C-6.4,21 -6.2,16 -6,12 C-5.9,9 -5.2,7 -2.8,6.5 L-2.5,4.2 C-2.4,1.8 -1.4,0 0,0 Z" fill="url(#mbody)" filter="url(#bl05)"/>
<circle cx="509.4" cy="82.7" r="1.3" fill="#7320f0" filter="url(#bl05)"/>
</svg>
<svg x="521.3" y="80.1" width="75.7" height="42.4" viewBox="521.3 80.1 75.7 42.4" overflow="hidden">
<rect x="521.3" y="80.1" width="75.7" height="42.4" fill="#333"/>
<rect x="521.3" y="80.1" width="75.7" height="42.4" fill="url(#streak)"/>
<path d="M532.5,107.6 q-1.2,7.0 -0.8,15.9" stroke="#b8b8b8" stroke-width="0.9" fill="none"/>
<path d="M527.0,106.5 l-2.5,1.5 M538.0,106.5 l2.5,1.5" stroke="#b0b0b0" stroke-width="0.8" fill="none"/>
<path transform="translate(532.5,82.1) scale(0.917,0.946)" d="M0,0 C1.4,0 2.4,1.8 2.5,4.2 L2.8,6.5 C5.2,7 5.9,9 6,12 C6.2,16 6.4,21 6.1,25 C5.7,27.5 3.5,28 0,28 C-3.5,28 -5.7,27.5 -6.1,25 C-6.4,21 -6.2,16 -6,12 C-5.9,9 -5.2,7 -2.8,6.5 L-2.5,4.2 C-2.4,1.8 -1.4,0 0,0 Z" fill="url(#mbody)" filter="url(#bl05)"/>
<path d="M546.0,107.6 q1.5,7.0 0.6,15.9" stroke="#b8b8b8" stroke-width="0.9" fill="none"/>
<path d="M540.5,106.5 l-2.5,1.5 M551.5,106.5 l2.5,1.5" stroke="#b0b0b0" stroke-width="0.8" fill="none"/>
<path transform="translate(546.0,82.1) scale(0.917,0.946)" d="M0,0 C1.4,0 2.4,1.8 2.5,4.2 L2.8,6.5 C5.2,7 5.9,9 6,12 C6.2,16 6.4,21 6.1,25 C5.7,27.5 3.5,28 0,28 C-3.5,28 -5.7,27.5 -6.1,25 C-6.4,21 -6.2,16 -6,12 C-5.9,9 -5.2,7 -2.8,6.5 L-2.5,4.2 C-2.4,1.8 -1.4,0 0,0 Z" fill="url(#mbody)" filter="url(#bl05)"/>
<path d="M559.5,107.6 q-1.2,7.0 -0.8,15.9" stroke="#b8b8b8" stroke-width="0.9" fill="none"/>
<path d="M554.0,106.5 l-2.5,1.5 M565.0,106.5 l2.5,1.5" stroke="#b0b0b0" stroke-width="0.8" fill="none"/>
<path transform="translate(559.5,82.1) scale(0.917,0.946)" d="M0,0 C1.4,0 2.4,1.8 2.5,4.2 L2.8,6.5 C5.2,7 5.9,9 6,12 C6.2,16 6.4,21 6.1,25 C5.7,27.5 3.5,28 0,28 C-3.5,28 -5.7,27.5 -6.1,25 C-6.4,21 -6.2,16 -6,12 C-5.9,9 -5.2,7 -2.8,6.5 L-2.5,4.2 C-2.4,1.8 -1.4,0 0,0 Z" fill="url(#mbody)" filter="url(#bl05)"/>
<path d="M573.0,107.6 q1.5,7.0 0.6,15.9" stroke="#b8b8b8" stroke-width="0.9" fill="none"/>
<path d="M567.5,106.5 l-2.5,1.5 M578.5,106.5 l2.5,1.5" stroke="#b0b0b0" stroke-width="0.8" fill="none"/>
<path transform="translate(573.0,82.1) scale(0.917,0.946)" d="M0,0 C1.4,0 2.4,1.8 2.5,4.2 L2.8,6.5 C5.2,7 5.9,9 6,12 C6.2,16 6.4,21 6.1,25 C5.7,27.5 3.5,28 0,28 C-3.5,28 -5.7,27.5 -6.1,25 C-6.4,21 -6.2,16 -6,12 C-5.9,9 -5.2,7 -2.8,6.5 L-2.5,4.2 C-2.4,1.8 -1.4,0 0,0 Z" fill="url(#mbody)" filter="url(#bl05)"/>
<path d="M586.5,107.6 q-1.2,7.0 -0.8,15.9" stroke="#b8b8b8" stroke-width="0.9" fill="none"/>
<path d="M581.0,106.5 l-2.5,1.5 M592.0,106.5 l2.5,1.5" stroke="#b0b0b0" stroke-width="0.8" fill="none"/>
<path transform="translate(586.5,82.1) scale(0.917,0.946)" d="M0,0 C1.4,0 2.4,1.8 2.5,4.2 L2.8,6.5 C5.2,7 5.9,9 6,12 C6.2,16 6.4,21 6.1,25 C5.7,27.5 3.5,28 0,28 C-3.5,28 -5.7,27.5 -6.1,25 C-6.4,21 -6.2,16 -6,12 C-5.9,9 -5.2,7 -2.8,6.5 L-2.5,4.2 C-2.4,1.8 -1.4,0 0,0 Z" fill="url(#mbody)" filter="url(#bl05)"/>
</svg>
<svg x="443.8" y="124.9" width="75.5" height="42.9" viewBox="443.8 124.9 75.5 42.9" overflow="hidden">
<rect x="443.8" y="124.9" width="75.5" height="42.9" fill="url(#heat2)"/>
<rect x="443.2" y="124.3" width="79.3" height="31.7" rx="8" fill="#10c8ff" opacity="0.25" filter="url(#bl3)"/>
<path d="M454.2,153.0 q-1,6.9 -2.5,15.8" stroke="#1890ff" stroke-width="0.8" fill="none" opacity="0.7"/>
<path transform="translate(454.2,126.1) scale(1.415,1.032)" d="M0,0 C2.2,0 3.2,1.5 3.3,4.5 C5.8,5 6.6,8 6.7,12 C6.9,17 6.9,21 6.4,24.5 C5.8,28 -5.8,28 -6.4,24.5 C-6.9,21 -6.9,17 -6.7,12 C-6.6,8 -5.8,5 -3.3,4.5 C-3.2,1.5 -2.2,0 0,0 Z" fill="#40ff60" filter="url(#bl1)"/>
<path transform="translate(454.2,127.3) scale(1.231,0.954)" d="M0,0 C2.2,0 3.2,1.5 3.3,4.5 C5.8,5 6.6,8 6.7,12 C6.9,17 6.9,21 6.4,24.5 C5.8,28 -5.8,28 -6.4,24.5 C-6.9,21 -6.9,17 -6.7,12 C-6.6,8 -5.8,5 -3.3,4.5 C-3.2,1.5 -2.2,0 0,0 Z" fill="#ff0800" filter="url(#bl05)"/>
<path d="M469.5,153.0 q-1,6.9 -2.5,15.8" stroke="#1890ff" stroke-width="0.8" fill="none" opacity="0.7"/>
<path transform="translate(469.5,126.8) scale(1.215,1.007)" d="M0,0 C2.2,0 3.2,1.5 3.3,4.5 C5.8,5 6.6,8 6.7,12 C6.9,17 6.9,21 6.4,24.5 C5.8,28 -5.8,28 -6.4,24.5 C-6.9,21 -6.9,17 -6.7,12 C-6.6,8 -5.8,5 -3.3,4.5 C-3.2,1.5 -2.2,0 0,0 Z" fill="#40ff60" filter="url(#bl1)"/>
<path transform="translate(469.5,128.0) scale(1.031,0.929)" d="M0,0 C2.2,0 3.2,1.5 3.3,4.5 C5.8,5 6.6,8 6.7,12 C6.9,17 6.9,21 6.4,24.5 C5.8,28 -5.8,28 -6.4,24.5 C-6.9,21 -6.9,17 -6.7,12 C-6.6,8 -5.8,5 -3.3,4.5 C-3.2,1.5 -2.2,0 0,0 Z" fill="#ff0800" filter="url(#bl05)"/>
<path d="M483.5,151.0 q-1,7.9 -2.5,17.8" stroke="#1890ff" stroke-width="0.8" fill="none" opacity="0.7"/>
<path transform="translate(483.5,130.0) scale(0.923,0.786)" d="M0,0 C2.2,0 3.2,1.5 3.3,4.5 C5.8,5 6.6,8 6.7,12 C6.9,17 6.9,21 6.4,24.5 C5.8,28 -5.8,28 -6.4,24.5 C-6.9,21 -6.9,17 -6.7,12 C-6.6,8 -5.8,5 -3.3,4.5 C-3.2,1.5 -2.2,0 0,0 Z" fill="#2060ff" stroke="#20e0ff" stroke-width="1.6" filter="url(#bl05)"/>
<circle cx="483.5" cy="136.6" r="1.6" fill="#ff3000" filter="url(#bl05)"/>
<circle cx="480.0" cy="148.7" r="1.5" fill="#ff3000" filter="url(#bl05)"/>
<path d="M496.9,152.5 q-1,7.2 -2.5,16.3" stroke="#1890ff" stroke-width="0.8" fill="none" opacity="0.7"/>
<path transform="translate(496.9,126.8) scale(1.215,0.989)" d="M0,0 C2.2,0 3.2,1.5 3.3,4.5 C5.8,5 6.6,8 6.7,12 C6.9,17 6.9,21 6.4,24.5 C5.8,28 -5.8,28 -6.4,24.5 C-6.9,21 -6.9,17 -6.7,12 C-6.6,8 -5.8,5 -3.3,4.5 C-3.2,1.5 -2.2,0 0,0 Z" fill="#40ff60" filter="url(#bl1)"/>
<path transform="translate(496.9,128.0) scale(1.031,0.911)" d="M0,0 C2.2,0 3.2,1.5 3.3,4.5 C5.8,5 6.6,8 6.7,12 C6.9,17 6.9,21 6.4,24.5 C5.8,28 -5.8,28 -6.4,24.5 C-6.9,21 -6.9,17 -6.7,12 C-6.6,8 -5.8,5 -3.3,4.5 C-3.2,1.5 -2.2,0 0,0 Z" fill="#ff0800" filter="url(#bl05)"/>
<path d="M512.2,152.0 q-1,7.4 -2.5,16.8" stroke="#1890ff" stroke-width="0.8" fill="none" opacity="0.7"/>
<path transform="translate(512.2,129.8) scale(1.300,0.864)" d="M0,0 C2.2,0 3.2,1.5 3.3,4.5 C5.8,5 6.6,8 6.7,12 C6.9,17 6.9,21 6.4,24.5 C5.8,28 -5.8,28 -6.4,24.5 C-6.9,21 -6.9,17 -6.7,12 C-6.6,8 -5.8,5 -3.3,4.5 C-3.2,1.5 -2.2,0 0,0 Z" fill="#40ff60" filter="url(#bl1)"/>
<path transform="translate(512.2,131.0) scale(1.115,0.786)" d="M0,0 C2.2,0 3.2,1.5 3.3,4.5 C5.8,5 6.6,8 6.7,12 C6.9,17 6.9,21 6.4,24.5 C5.8,28 -5.8,28 -6.4,24.5 C-6.9,21 -6.9,17 -6.7,12 C-6.6,8 -5.8,5 -3.3,4.5 C-3.2,1.5 -2.2,0 0,0 Z" fill="#40e8c0" filter="url(#bl05)"/>
<ellipse cx="511.2" cy="137.6" rx="4.3" ry="3.5" fill="#ff1800" filter="url(#bl05)"/>
<ellipse cx="509.2" cy="148.6" rx="3.2" ry="2.6" fill="#ff1800" filter="url(#bl05)"/>
<ellipse cx="515.2" cy="144.6" rx="2.2" ry="2.5" fill="#ff2000" filter="url(#bl05)"/>
<ellipse cx="513.2" cy="142.0" rx="2.6" ry="2" fill="#f0f000" filter="url(#bl05)"/>
<ellipse cx="510.2" cy="143.1" rx="1.8" ry="1.8" fill="#2080ff" filter="url(#bl05)"/>
</svg>
<svg x="521.3" y="124.9" width="75.7" height="42.9" viewBox="521.3 124.9 75.7 42.9" overflow="hidden">
<rect x="521.3" y="124.9" width="75.7" height="42.9" fill="#555"/>
<rect x="521.3" y="124.9" width="75.7" height="42.9" fill="url(#streak)"/>
<path d="M532.1,152.3 q-1.2,7.2 -0.8,16.5" stroke="#b8b8b8" stroke-width="0.9" fill="none"/>
<path d="M526.6,151.1 l-2.5,1.5 M537.6,151.1 l2.5,1.5" stroke="#b0b0b0" stroke-width="0.8" fill="none"/>
<path transform="translate(532.1,126.3) scale(1.083,0.964)" d="M0,0 C1.4,0 2.4,1.8 2.5,4.2 L2.8,6.5 C5.2,7 5.9,9 6,12 C6.2,16 6.4,21 6.1,25 C5.7,27.5 3.5,28 0,28 C-3.5,28 -5.7,27.5 -6.1,25 C-6.4,21 -6.2,16 -6,12 C-5.9,9 -5.2,7 -2.8,6.5 L-2.5,4.2 C-2.4,1.8 -1.4,0 0,0 Z" fill="url(#mbody)" filter="url(#bl05)"/>
<path d="M546.1,152.3 q1.5,7.2 0.6,16.5" stroke="#b8b8b8" stroke-width="0.9" fill="none"/>
<path d="M540.6,151.1 l-2.5,1.5 M551.6,151.1 l2.5,1.5" stroke="#b0b0b0" stroke-width="0.8" fill="none"/>
<path transform="translate(546.1,126.3) scale(1.083,0.964)" d="M0,0 C1.4,0 2.4,1.8 2.5,4.2 L2.8,6.5 C5.2,7 5.9,9 6,12 C6.2,16 6.4,21 6.1,25 C5.7,27.5 3.5,28 0,28 C-3.5,28 -5.7,27.5 -6.1,25 C-6.4,21 -6.2,16 -6,12 C-5.9,9 -5.2,7 -2.8,6.5 L-2.5,4.2 C-2.4,1.8 -1.4,0 0,0 Z" fill="url(#mbody)" filter="url(#bl05)"/>
<path d="M560.1,152.3 q-1.2,7.2 -0.8,16.5" stroke="#b8b8b8" stroke-width="0.9" fill="none"/>
<path d="M554.6,151.1 l-2.5,1.5 M565.6,151.1 l2.5,1.5" stroke="#b0b0b0" stroke-width="0.8" fill="none"/>
<path transform="translate(560.1,126.3) scale(1.083,0.964)" d="M0,0 C1.4,0 2.4,1.8 2.5,4.2 L2.8,6.5 C5.2,7 5.9,9 6,12 C6.2,16 6.4,21 6.1,25 C5.7,27.5 3.5,28 0,28 C-3.5,28 -5.7,27.5 -6.1,25 C-6.4,21 -6.2,16 -6,12 C-5.9,9 -5.2,7 -2.8,6.5 L-2.5,4.2 C-2.4,1.8 -1.4,0 0,0 Z" fill="url(#mbody)" filter="url(#bl05)"/>
<path d="M574.1,152.3 q1.5,7.2 0.6,16.5" stroke="#b8b8b8" stroke-width="0.9" fill="none"/>
<path d="M568.6,151.1 l-2.5,1.5 M579.6,151.1 l2.5,1.5" stroke="#b0b0b0" stroke-width="0.8" fill="none"/>
<path transform="translate(574.1,126.3) scale(1.083,0.964)" d="M0,0 C1.4,0 2.4,1.8 2.5,4.2 L2.8,6.5 C5.2,7 5.9,9 6,12 C6.2,16 6.4,21 6.1,25 C5.7,27.5 3.5,28 0,28 C-3.5,28 -5.7,27.5 -6.1,25 C-6.4,21 -6.2,16 -6,12 C-5.9,9 -5.2,7 -2.8,6.5 L-2.5,4.2 C-2.4,1.8 -1.4,0 0,0 Z" fill="url(#mbody)" filter="url(#bl05)"/>
<circle cx="574.1" cy="127.9" r="1.3" fill="#7320f0" filter="url(#bl05)"/>
<path d="M588.1,152.3 q-1.2,7.2 -0.8,16.5" stroke="#b8b8b8" stroke-width="0.9" fill="none"/>
<path d="M582.6,151.1 l-2.5,1.5 M593.6,151.1 l2.5,1.5" stroke="#b0b0b0" stroke-width="0.8" fill="none"/>
<path transform="translate(588.1,126.3) scale(1.083,0.964)" d="M0,0 C1.4,0 2.4,1.8 2.5,4.2 L2.8,6.5 C5.2,7 5.9,9 6,12 C6.2,16 6.4,21 6.1,25 C5.7,27.5 3.5,28 0,28 C-3.5,28 -5.7,27.5 -6.1,25 C-6.4,21 -6.2,16 -6,12 C-5.9,9 -5.2,7 -2.8,6.5 L-2.5,4.2 C-2.4,1.8 -1.4,0 0,0 Z" fill="url(#mbody)" filter="url(#bl05)"/>
</svg>
<rect x="606.8" y="35" width="3.4" height="130" fill="url(#cbar)"/>
<line x1="610.1" y1="35.0" x2="612.7" y2="35.0" stroke="#555" stroke-width="0.7"/>
<line x1="610.1" y1="39.4" x2="611.7" y2="39.4" stroke="#555" stroke-width="0.7"/>
<line x1="610.1" y1="43.7" x2="611.7" y2="43.7" stroke="#555" stroke-width="0.7"/>
<line x1="610.1" y1="48.1" x2="611.7" y2="48.1" stroke="#555" stroke-width="0.7"/>
<line x1="610.1" y1="52.5" x2="611.7" y2="52.5" stroke="#555" stroke-width="0.7"/>
<line x1="610.1" y1="56.9" x2="612.7" y2="56.9" stroke="#555" stroke-width="0.7"/>
<line x1="610.1" y1="61.2" x2="611.7" y2="61.2" stroke="#555" stroke-width="0.7"/>
<line x1="610.1" y1="65.6" x2="611.7" y2="65.6" stroke="#555" stroke-width="0.7"/>
<line x1="610.1" y1="70.0" x2="611.7" y2="70.0" stroke="#555" stroke-width="0.7"/>
<line x1="610.1" y1="74.3" x2="611.7" y2="74.3" stroke="#555" stroke-width="0.7"/>
<line x1="610.1" y1="78.7" x2="612.7" y2="78.7" stroke="#555" stroke-width="0.7"/>
<line x1="610.1" y1="83.1" x2="611.7" y2="83.1" stroke="#555" stroke-width="0.7"/>
<line x1="610.1" y1="87.4" x2="611.7" y2="87.4" stroke="#555" stroke-width="0.7"/>
<line x1="610.1" y1="91.8" x2="611.7" y2="91.8" stroke="#555" stroke-width="0.7"/>
<line x1="610.1" y1="96.2" x2="611.7" y2="96.2" stroke="#555" stroke-width="0.7"/>
<line x1="610.1" y1="100.5" x2="612.7" y2="100.5" stroke="#555" stroke-width="0.7"/>
<line x1="610.1" y1="104.9" x2="611.7" y2="104.9" stroke="#555" stroke-width="0.7"/>
<line x1="610.1" y1="109.3" x2="611.7" y2="109.3" stroke="#555" stroke-width="0.7"/>
<line x1="610.1" y1="113.7" x2="611.7" y2="113.7" stroke="#555" stroke-width="0.7"/>
<line x1="610.1" y1="118.0" x2="611.7" y2="118.0" stroke="#555" stroke-width="0.7"/>
<line x1="610.1" y1="122.4" x2="612.7" y2="122.4" stroke="#555" stroke-width="0.7"/>
<line x1="610.1" y1="126.8" x2="611.7" y2="126.8" stroke="#555" stroke-width="0.7"/>
<line x1="610.1" y1="131.1" x2="611.7" y2="131.1" stroke="#555" stroke-width="0.7"/>
<line x1="610.1" y1="135.5" x2="611.7" y2="135.5" stroke="#555" stroke-width="0.7"/>
<line x1="610.1" y1="139.9" x2="611.7" y2="139.9" stroke="#555" stroke-width="0.7"/>
<line x1="610.1" y1="144.2" x2="612.7" y2="144.2" stroke="#555" stroke-width="0.7"/>
<line x1="610.1" y1="148.6" x2="611.7" y2="148.6" stroke="#555" stroke-width="0.7"/>
<line x1="610.1" y1="153.0" x2="611.7" y2="153.0" stroke="#555" stroke-width="0.7"/>
<line x1="610.1" y1="157.4" x2="611.7" y2="157.4" stroke="#555" stroke-width="0.7"/>
<line x1="610.1" y1="161.7" x2="611.7" y2="161.7" stroke="#555" stroke-width="0.7"/>
<text x="607.8" y="29.1" font-size="11" letter-spacing="-0.25">Luminescence</text>
<text x="616.6" y="38.1" font-size="9.4" letter-spacing="-0.2">3.0</text>
<text x="616.6" y="60.4" font-size="9.4" letter-spacing="-0.2">2.5</text>
<text x="616.6" y="82.2" font-size="9.4" letter-spacing="-0.2">2.0</text>
<text x="616.6" y="103.8" font-size="9.4" letter-spacing="-0.2">1.5 × 10<tspan font-size="6" dy="-3.5">7</tspan></text>
<text x="616.6" y="125.3" font-size="9.4" letter-spacing="-0.2">1.0</text>
<text x="616.6" y="147.2" font-size="9.4" letter-spacing="-0.2">0.5</text>
<text x="607.8" y="178.4" font-size="10.9" letter-spacing="-0.25">Radiance</text>
<text x="607.8" y="189.7" font-size="10.9" letter-spacing="-0.3">(p s<tspan font-size="6" dy="-3.5">−1</tspan><tspan dy="3.5"> cm</tspan><tspan font-size="6" dy="-3.5">−2</tspan><tspan dy="3.5"> sr</tspan><tspan font-size="6" dy="-3.5">−1</tspan><tspan dy="3.5">)</tspan></text>
<text x="607.8" y="201.5" font-size="10.9" letter-spacing="-0.3">Min = 1.50 × 10<tspan font-size="6.5" dy="-3.8">5</tspan></text>
<text x="607.8" y="213.0" font-size="10.9" letter-spacing="-0.3">Max = 3.00 × 10<tspan font-size="6.5" dy="-3.8">7</tspan></text>
<text x="0.5" y="195.4" font-size="15" font-weight="bold">c</text>
<line x1="49.7" y1="197.5" x2="49.7" y2="310.6" stroke="#58595b" stroke-width="1"/>
<line x1="49.7" y1="310.2" x2="218.6" y2="310.2" stroke="#58595b" stroke-width="1"/>
<line x1="45.7" y1="207.4" x2="49.7" y2="207.4" stroke="#58595b" stroke-width="1"/>
<text x="41.5" y="210.8" font-size="9.6" text-anchor="end" letter-spacing="-0.3">100</text>
<line x1="45.7" y1="258.9" x2="49.7" y2="258.9" stroke="#58595b" stroke-width="1"/>
<text x="41.5" y="262.3" font-size="9.6" text-anchor="end" letter-spacing="-0.3">50</text>
<line x1="45.7" y1="310.2" x2="49.7" y2="310.2" stroke="#58595b" stroke-width="1"/>
<text x="41.5" y="313.6" font-size="9.6" text-anchor="end" letter-spacing="-0.3">0</text>
<line x1="49.7" y1="310.2" x2="49.7" y2="313.5" stroke="#58595b" stroke-width="1"/>
<text x="49.7" y="325.4" font-size="9.6" text-anchor="middle" letter-spacing="-0.3">0</text>
<line x1="133.9" y1="310.2" x2="133.9" y2="313.5" stroke="#58595b" stroke-width="1"/>
<text x="133.9" y="325.4" font-size="9.6" text-anchor="middle" letter-spacing="-0.3">50</text>
<line x1="218.2" y1="310.2" x2="218.2" y2="313.5" stroke="#58595b" stroke-width="1"/>
<text x="218.2" y="325.4" font-size="9.6" text-anchor="middle" letter-spacing="-0.3">100</text>
<text transform="translate(18.1,254.8) rotate(-90)" x="0.23" y="0" font-size="9.9" letter-spacing="0.46" text-anchor="middle">Probability of survival</text>
<text x="50.4" y="339.9" font-size="9.9" letter-spacing="0.45">Time after tumor inoculation (days)</text>
<polyline points="49.7,207.7 79.9,207.7 79.9,310.2" fill="none" stroke="#4d4d4f" stroke-width="1.3" stroke-linejoin="round"/>
<polyline points="49.7,206.8 137.3,206.8 137.3,310.2" fill="none" stroke="#2d64c8" stroke-width="1.2" stroke-linejoin="round"/>
<polyline points="49.7,205.6 211.9,205.6 211.9,203.8" fill="none" stroke="#d7193f" stroke-width="1.2" stroke-linejoin="round"/>
<line x1="190.3" y1="227.1" x2="198.7" y2="227.1" stroke="#4d4d4f" stroke-width="1.2"/>
<text x="203.7" y="230.4" font-size="9.2" letter-spacing="-0.25">MT-SLP-76 only</text>
<line x1="190.3" y1="242.0" x2="198.7" y2="242.0" stroke="#2d64c8" stroke-width="1.2"/>
<text x="203.7" y="245.3" font-size="9.2" letter-spacing="-0.45">CD22-4-1BBζ</text>
<line x1="190.3" y1="256.9" x2="198.7" y2="256.9" stroke="#d7193f" stroke-width="1.2"/>
<text x="203.7" y="260.2" font-size="9.2" letter-spacing="-0.45">CD22-4-1BBζ +</text>
<text x="203.7" y="271.9" font-size="9.2" letter-spacing="-0.25">MT-SLP-76</text>
<polyline points="260.3,243.3 267.2,243.3 267.2,260.6 260.3,260.6" fill="none" stroke="#6d6e71" stroke-width="0.9" stroke-linejoin="round"/>
<text x="269.7" y="255.3" font-size="9.2" letter-spacing="-0.25">0.0027</text>
<text x="327.5" y="196.0" font-size="15" font-weight="bold">d</text>
<line x1="384.2" y1="213.0" x2="384.2" y2="327.6" stroke="#58595b" stroke-width="1"/>
<line x1="384.2" y1="327.2" x2="499.0" y2="327.2" stroke="#58595b" stroke-width="1"/>
<line x1="380.2" y1="213.0" x2="384.2" y2="213.0" stroke="#58595b" stroke-width="1"/>
<text x="376.5" y="216.4" font-size="9.6" text-anchor="end" letter-spacing="-0.3">2.0</text>
<line x1="380.2" y1="241.5" x2="384.2" y2="241.5" stroke="#58595b" stroke-width="1"/>
<text x="376.5" y="244.9" font-size="9.6" text-anchor="end" letter-spacing="-0.3">1.5</text>
<line x1="380.2" y1="270.3" x2="384.2" y2="270.3" stroke="#58595b" stroke-width="1"/>
<text x="376.5" y="273.7" font-size="9.6" text-anchor="end" letter-spacing="-0.3">1.0</text>
<line x1="380.2" y1="298.8" x2="384.2" y2="298.8" stroke="#58595b" stroke-width="1"/>
<text x="376.5" y="302.2" font-size="9.6" text-anchor="end" letter-spacing="-0.3">0.5</text>
<line x1="380.2" y1="327.2" x2="384.2" y2="327.2" stroke="#58595b" stroke-width="1"/>
<text x="376.5" y="330.6" font-size="9.6" text-anchor="end" letter-spacing="-0.3">0</text>
<line x1="411.5" y1="327.2" x2="411.5" y2="330.5" stroke="#58595b" stroke-width="1"/>
<text x="411.5" y="343.6" font-size="10.6" text-anchor="middle" letter-spacing="-0.25">Day 8</text>
<line x1="472.3" y1="327.2" x2="472.3" y2="330.5" stroke="#58595b" stroke-width="1"/>
<text x="472.3" y="343.6" font-size="10.6" text-anchor="middle" letter-spacing="-0.25">Day 16</text>
<text transform="translate(343.3,270.1) rotate(-90)" x="0.13" y="0" font-size="9.9" letter-spacing="0.26" text-anchor="middle">Percent CAR T cells of live</text>
<text transform="translate(355.2,269.8) rotate(-90)" x="0.25" y="0" font-size="9.9" letter-spacing="0.5" text-anchor="middle">cells in bone marrow</text>
<line x1="394.0" y1="228.8" x2="421.2" y2="228.8" stroke="#bdbdbd" stroke-width="1.6"/>
<text x="407.6" y="225.8" font-size="9.6" text-anchor="middle" letter-spacing="-0.25">0.0079</text>
<line x1="457.1" y1="228.8" x2="484.2" y2="228.8" stroke="#bdbdbd" stroke-width="1.6"/>
<text x="470.6" y="225.8" font-size="9.6" text-anchor="middle" letter-spacing="-0.25">0.0079</text>
<circle cx="396.3" cy="300.6" r="1.75" fill="#2d64c8"/>
<circle cx="403.3" cy="302.3" r="1.75" fill="#2d64c8"/>
<circle cx="396.3" cy="307.1" r="1.75" fill="#2d64c8"/>
<circle cx="403.3" cy="307.6" r="1.75" fill="#2d64c8"/>
<circle cx="399.8" cy="314.1" r="1.75" fill="#2d64c8"/>
<line x1="392.3" y1="307.1" x2="407.5" y2="307.1" stroke="#2d64c8" stroke-width="1.2"/>
<circle cx="422.6" cy="238.2" r="1.75" fill="#d7193f"/>
<circle cx="422.6" cy="278.3" r="1.75" fill="#d7193f"/>
<circle cx="422.6" cy="281.7" r="1.75" fill="#d7193f"/>
<circle cx="422.6" cy="287.6" r="1.75" fill="#d7193f"/>
<circle cx="422.6" cy="296.0" r="1.75" fill="#d7193f"/>
<line x1="415.0" y1="281.7" x2="430.5" y2="281.7" stroke="#d7193f" stroke-width="1.2"/>
<circle cx="460.9" cy="307.6" r="1.75" fill="#2d64c8"/>
<circle cx="457.4" cy="312.7" r="1.75" fill="#2d64c8"/>
<circle cx="464.6" cy="311.1" r="1.75" fill="#2d64c8"/>
<circle cx="457.4" cy="317.8" r="1.75" fill="#2d64c8"/>
<circle cx="464.6" cy="316.0" r="1.75" fill="#2d64c8"/>
<line x1="453.2" y1="312.7" x2="468.6" y2="312.7" stroke="#2d64c8" stroke-width="1.2"/>
<circle cx="483.9" cy="246.5" r="1.75" fill="#d7193f"/>
<circle cx="480.4" cy="257.1" r="1.75" fill="#d7193f"/>
<circle cx="487.4" cy="256.8" r="1.75" fill="#d7193f"/>
<circle cx="483.9" cy="267.3" r="1.75" fill="#d7193f"/>
<circle cx="483.9" cy="285.2" r="1.75" fill="#d7193f"/>
<line x1="476.4" y1="257.1" x2="491.8" y2="257.1" stroke="#d7193f" stroke-width="1.2"/>
<circle cx="515.4" cy="245.4" r="1.7" fill="#2d64c8"/>
<circle cx="515.4" cy="257.7" r="1.7" fill="#d7193f"/>
<text x="520.8" y="248.7" font-size="9.2" letter-spacing="-0.45">CD22-4-1BBζ</text>
<text x="520.8" y="261.0" font-size="9.2" letter-spacing="-0.45">CD22-4-1BBζ +</text>
<text x="520.8" y="273.1" font-size="9.2" letter-spacing="-0.25">MT-SLP-76</text>
<text x="0.5" y="372.3" font-size="15" font-weight="bold">e</text>
<text x="94.9" y="380.5" font-size="10.2" letter-spacing="-0.1">Nalm6-CD19<tspan font-size="7.8" dy="-4.3">20,100</tspan></text>
<line x1="49.4" y1="385.4" x2="49.4" y2="499.7" stroke="#58595b" stroke-width="1"/>
<line x1="45.6" y1="499.3" x2="221.5" y2="499.3" stroke="#58595b" stroke-width="1"/>
<line x1="45.6" y1="499.3" x2="49.4" y2="499.3" stroke="#58595b" stroke-width="1"/>
<text x="36.5" y="502.3" font-size="8.6" text-anchor="end">10</text>
<text x="36.8" y="498.5" font-size="5.5">5</text>
<line x1="45.6" y1="483.0" x2="49.4" y2="483.0" stroke="#58595b" stroke-width="1"/>
<text x="36.5" y="486.0" font-size="8.6" text-anchor="end">10</text>
<text x="36.8" y="482.2" font-size="5.5">6</text>
<line x1="45.6" y1="466.7" x2="49.4" y2="466.7" stroke="#58595b" stroke-width="1"/>
<text x="36.5" y="469.7" font-size="8.6" text-anchor="end">10</text>
<text x="36.8" y="465.9" font-size="5.5">7</text>
<line x1="45.6" y1="450.4" x2="49.4" y2="450.4" stroke="#58595b" stroke-width="1"/>
<text x="36.5" y="453.4" font-size="8.6" text-anchor="end">10</text>
<text x="36.8" y="449.6" font-size="5.5">8</text>
<line x1="45.6" y1="434.1" x2="49.4" y2="434.1" stroke="#58595b" stroke-width="1"/>
<text x="36.5" y="437.1" font-size="8.6" text-anchor="end">10</text>
<text x="36.8" y="433.3" font-size="5.5">9</text>
<line x1="45.6" y1="417.8" x2="49.4" y2="417.8" stroke="#58595b" stroke-width="1"/>
<text x="36.5" y="420.8" font-size="8.6" text-anchor="end">10</text>
<text x="36.8" y="417.0" font-size="5.5">10</text>
<line x1="45.6" y1="401.5" x2="49.4" y2="401.5" stroke="#58595b" stroke-width="1"/>
<text x="36.5" y="404.5" font-size="8.6" text-anchor="end">10</text>
<text x="36.8" y="400.7" font-size="5.5">11</text>
<line x1="45.6" y1="385.2" x2="49.4" y2="385.2" stroke="#58595b" stroke-width="1"/>
<text x="36.5" y="388.2" font-size="8.6" text-anchor="end">10</text>
<text x="36.8" y="384.4" font-size="5.5">12</text>
<line x1="52.6" y1="499.3" x2="52.6" y2="502.5" stroke="#58595b" stroke-width="1"/>
<text x="52.6" y="514.4" font-size="9.6" text-anchor="middle" letter-spacing="-0.3">0</text>
<line x1="108.8" y1="499.3" x2="108.8" y2="502.5" stroke="#58595b" stroke-width="1"/>
<text x="108.8" y="514.4" font-size="9.6" text-anchor="middle" letter-spacing="-0.3">20</text>
<line x1="165.0" y1="499.3" x2="165.0" y2="502.5" stroke="#58595b" stroke-width="1"/>
<text x="165.0" y="514.4" font-size="9.6" text-anchor="middle" letter-spacing="-0.3">40</text>
<line x1="221.2" y1="499.3" x2="221.2" y2="502.5" stroke="#58595b" stroke-width="1"/>
<text x="221.2" y="514.4" font-size="9.6" text-anchor="middle" letter-spacing="-0.3">60</text>
<text transform="translate(18.5,442.5) rotate(-90)" x="0.20" y="0" font-size="9.9" letter-spacing="0.4" text-anchor="middle">Tumor luminescence (p s<tspan font-size="7" dy="-3.5">−1</tspan><tspan dy="3.5">)</tspan></text>
<text x="70.8" y="528.7" font-size="9.9" letter-spacing="0.39">Time after treatment (days)</text>
<polyline points="49.7,471.2 71.9,425.5 91.7,399.3" fill="none" stroke="#3a3a3c" stroke-width="1.0" stroke-linejoin="round"/>
<polyline points="49.7,471.8 71.9,426.3 91.7,402.0" fill="none" stroke="#3a3a3c" stroke-width="1.0" stroke-linejoin="round"/>
<polyline points="49.7,472.4 71.9,427.2 91.7,404.0" fill="none" stroke="#3a3a3c" stroke-width="1.0" stroke-linejoin="round"/>
<polyline points="49.7,473.0 71.9,428.0 91.7,406.0" fill="none" stroke="#3a3a3c" stroke-width="1.0" stroke-linejoin="round"/>
<polyline points="49.7,473.5 71.9,429.0 91.7,407.8" fill="none" stroke="#3a3a3c" stroke-width="1.0" stroke-linejoin="round"/>
<polyline points="49.7,474.0 71.9,430.5 91.7,409.3" fill="none" stroke="#3a3a3c" stroke-width="1.0" stroke-linejoin="round"/>
<polyline points="49.7,473.0 114.5,399.3" fill="none" stroke="#d59a5e" stroke-width="1.35" stroke-linejoin="round"/>
<polyline points="49.7,476.0 71.9,462.0 114.5,401.5" fill="none" stroke="#d59a5e" stroke-width="1.35" stroke-linejoin="round"/>
<polyline points="49.7,478.0 71.9,466.0 94.0,437.0 114.5,405.0" fill="none" stroke="#d59a5e" stroke-width="1.35" stroke-linejoin="round"/>
<polyline points="49.7,475.0 71.9,463.0 94.0,432.5 114.5,400.5" fill="none" stroke="#d59a5e" stroke-width="1.35" stroke-linejoin="round"/>
<polyline points="49.7,474.0 72.0,457.0 91.7,466.0 114.6,480.5 128.7,469.1 142.7,445.4 162.8,427.0 184.7,418.3" fill="none" stroke="#9e2b6e" stroke-width="1.3" stroke-linejoin="round"/>
<polyline points="49.7,475.5 73.0,459.0 114.6,484.9 128.7,474.3 142.7,461.2 162.8,444.6 184.7,406.0 204.9,392.4" fill="none" stroke="#9e2b6e" stroke-width="1.3" stroke-linejoin="round"/>
<polyline points="49.7,477.0 74.0,461.0 91.7,483.0 114.6,484.9 128.7,482.2 142.7,467.3 162.8,430.5 184.7,398.7 204.9,396.4 221.5,395.5" fill="none" stroke="#9e2b6e" stroke-width="1.3" stroke-linejoin="round"/>
<polyline points="49.7,478.5 75.0,462.5 91.7,484.5 142.7,484.9 162.8,451.6 184.7,436.7 204.9,426.2 221.5,435.8" fill="none" stroke="#9e2b6e" stroke-width="1.3" stroke-linejoin="round"/>
<polyline points="49.7,480.0 73.5,464.0 91.7,484.0 142.7,484.9 162.8,456.0 184.7,442.8 204.9,431.4 221.5,440.7" fill="none" stroke="#9e2b6e" stroke-width="1.3" stroke-linejoin="round"/>
<line x1="116.6" y1="415.0" x2="116.6" y2="466.1" stroke="#4d4d4f" stroke-width="1.1"/>
<text x="121.6" y="421.6" font-size="9.4" letter-spacing="-0.25">0.0008</text>
<line x1="230.6" y1="402.6" x2="240.6" y2="402.6" stroke="#4d4d4f" stroke-width="1.4"/>
<text x="245.5" y="405.9" font-size="9.2" letter-spacing="-0.25">MT-SLP-76 only</text>
<line x1="230.6" y1="415.8" x2="240.6" y2="415.8" stroke="#d59a5e" stroke-width="1.4"/>
<text x="245.5" y="419.1" font-size="9.2" letter-spacing="-0.45">CD19-4-1BBζ</text>
<line x1="230.6" y1="428.9" x2="240.6" y2="428.9" stroke="#9e2b6e" stroke-width="1.4"/>
<text x="245.5" y="432.2" font-size="9.2" letter-spacing="-0.45">CD19-4-1BBζ +</text>
<text x="245.5" y="443.9" font-size="9.2" letter-spacing="-0.25">MT-SLP-76</text>
<text x="326.5" y="371.8" font-size="15" font-weight="bold">f</text>
<line x1="384.6" y1="384.2" x2="384.6" y2="499.8" stroke="#58595b" stroke-width="1"/>
<line x1="384.6" y1="499.4" x2="556.2" y2="499.4" stroke="#58595b" stroke-width="1"/>
<line x1="380.6" y1="394.2" x2="384.6" y2="394.2" stroke="#58595b" stroke-width="1"/>
<text x="376.5" y="397.6" font-size="9.6" text-anchor="end" letter-spacing="-0.3">100</text>
<line x1="380.6" y1="446.8" x2="384.6" y2="446.8" stroke="#58595b" stroke-width="1"/>
<text x="376.5" y="450.2" font-size="9.6" text-anchor="end" letter-spacing="-0.3">50</text>
<line x1="380.6" y1="499.4" x2="384.6" y2="499.4" stroke="#58595b" stroke-width="1"/>
<text x="376.5" y="502.8" font-size="9.6" text-anchor="end" letter-spacing="-0.3">0</text>
<line x1="384.6" y1="499.4" x2="384.6" y2="502.7" stroke="#58595b" stroke-width="1"/>
<text x="384.6" y="514.7" font-size="9.6" text-anchor="middle" letter-spacing="-0.3">0</text>
<line x1="462.6" y1="499.4" x2="462.6" y2="502.7" stroke="#58595b" stroke-width="1"/>
<text x="462.6" y="514.7" font-size="9.6" text-anchor="middle" letter-spacing="-0.3">50</text>
<line x1="540.6" y1="499.4" x2="540.6" y2="502.7" stroke="#58595b" stroke-width="1"/>
<text x="540.6" y="514.7" font-size="9.6" text-anchor="middle" letter-spacing="-0.3">100</text>
<text transform="translate(353.4,442.5) rotate(-90)" x="0.23" y="0" font-size="9.9" letter-spacing="0.46" text-anchor="middle">Probability of survival</text>
<text x="387.1" y="528.6" font-size="9.9" letter-spacing="0.45">Time after tumor inoculation (days)</text>
<polyline points="384.6,394.4 474.0,394.4" fill="none" stroke="#9e2b6e" stroke-width="1.2" stroke-linejoin="round"/>
<polyline points="384.6,395.0 417.1,395.0 417.1,499.4" fill="none" stroke="#4d4d4f" stroke-width="1.2" stroke-linejoin="round"/>
<polyline points="417.1,394.8 431.5,394.8 431.5,499.4" fill="none" stroke="#d59a5e" stroke-width="1.1" stroke-linejoin="round"/>
<polyline points="474.0,394.4 474.0,415.0 478.3,415.0 478.3,436.0 483.3,436.0 483.3,457.0 511.5,457.0 511.5,478.0 543.0,478.0 543.0,499.4" fill="none" stroke="#9e2b6e" stroke-width="1.2" stroke-linejoin="round"/>
<line x1="531.2" y1="402.6" x2="540.1" y2="402.6" stroke="#4d4d4f" stroke-width="1.4"/>
<text x="544.8" y="405.9" font-size="9.2" letter-spacing="-0.25">MT-SLP-76 only</text>
<line x1="531.2" y1="415.5" x2="540.1" y2="415.5" stroke="#d59a5e" stroke-width="1.4"/>
<text x="544.8" y="418.8" font-size="9.2" letter-spacing="-0.45">CD19-4-1BBζ</text>
<line x1="531.2" y1="428.0" x2="540.1" y2="428.0" stroke="#9e2b6e" stroke-width="1.4"/>
<text x="544.8" y="431.3" font-size="9.2" letter-spacing="-0.45">CD19-4-1BBζ +</text>
<text x="544.8" y="443.8" font-size="9.2" letter-spacing="-0.25">MT-SLP-76</text>
<polyline points="601.0,417.2 606.3,417.2 606.3,434.0 601.0,434.0" fill="none" stroke="#6d6e71" stroke-width="0.9" stroke-linejoin="round"/>
<text x="608.8" y="428.8" font-size="9.2" letter-spacing="-0.25">0.0027</text>
<text x="0.5" y="557.2" font-size="15" font-weight="bold">g</text>
<line x1="49.7" y1="563.5" x2="49.7" y2="681.6" stroke="#58595b" stroke-width="1"/>
<line x1="49.7" y1="681.2" x2="127.6" y2="681.2" stroke="#58595b" stroke-width="1"/>
<line x1="45.6" y1="563.5" x2="49.7" y2="563.5" stroke="#58595b" stroke-width="1"/>
<text x="36.5" y="566.5" font-size="8.6" text-anchor="end">10</text>
<text x="36.8" y="562.7" font-size="5.5">7</text>
<line x1="45.6" y1="603.4" x2="49.7" y2="603.4" stroke="#58595b" stroke-width="1"/>
<text x="36.5" y="606.4" font-size="8.6" text-anchor="end">10</text>
<text x="36.8" y="602.6" font-size="5.5">6</text>
<line x1="45.6" y1="642.3" x2="49.7" y2="642.3" stroke="#58595b" stroke-width="1"/>
<text x="36.5" y="645.3" font-size="8.6" text-anchor="end">10</text>
<text x="36.8" y="641.5" font-size="5.5">5</text>
<line x1="45.6" y1="681.2" x2="49.7" y2="681.2" stroke="#58595b" stroke-width="1"/>
<text x="36.5" y="684.2" font-size="8.6" text-anchor="end">10</text>
<text x="36.8" y="680.4" font-size="5.5">4</text>
<line x1="71.7" y1="588.6" x2="104.9" y2="588.6" stroke="#4d4d4f" stroke-width="1.1"/>
<text x="88.2" y="585.5" font-size="10.2" text-anchor="middle" letter-spacing="-0.6">NS</text>
<circle cx="71.7" cy="602.4" r="1.75" fill="#d59a5e"/>
<circle cx="71.7" cy="615.7" r="1.75" fill="#d59a5e"/>
<circle cx="71.7" cy="640.0" r="1.75" fill="#d59a5e"/>
<circle cx="71.7" cy="645.7" r="1.75" fill="#d59a5e"/>
<line x1="61.1" y1="623.7" x2="82.9" y2="623.7" stroke="#d59a5e" stroke-width="1.4"/>
<circle cx="101.5" cy="612.0" r="1.75" fill="#9e2b6e"/>
<circle cx="108.5" cy="611.4" r="1.75" fill="#9e2b6e"/>
<circle cx="101.9" cy="621.4" r="1.75" fill="#9e2b6e"/>
<circle cx="108.5" cy="619.9" r="1.75" fill="#9e2b6e"/>
<line x1="94.3" y1="615.7" x2="116.1" y2="615.7" stroke="#9e2b6e" stroke-width="1.4"/>
<text transform="translate(8.8,622.9) rotate(-90)" x="0.11" y="0" font-size="9.9" letter-spacing="0.22" text-anchor="middle">No. CAR<tspan font-size="7" dy="-3.5">+</tspan><tspan dy="3.5"> T cells in</tspan></text>
<text transform="translate(20.6,623.2) rotate(-90)" x="0.22" y="0" font-size="9.9" letter-spacing="0.44" text-anchor="middle">live spleen</text>
<circle cx="140.4" cy="597.1" r="1.75" fill="#d59a5e"/>
<circle cx="140.4" cy="609.5" r="1.75" fill="#9e2b6e"/>
<text x="146.7" y="600.4" font-size="9.2" letter-spacing="-0.45">CD19-4-1BBζ</text>
<text x="146.7" y="612.8" font-size="9.2" letter-spacing="-0.45">CD19-4-1BBζ +</text>
<text x="146.7" y="624.9" font-size="9.2" letter-spacing="-0.25">MT-SLP-76</text>
<text x="327.2" y="556.9" font-size="15" font-weight="bold">h</text>
<text x="419.7" y="557.7" font-size="10.2" text-anchor="middle" letter-spacing="-0.25">CD19-4-1BBζ</text>
<text x="559.3" y="557.8" font-size="10.2" text-anchor="middle" letter-spacing="-0.25">CD19-4-1BBζ +</text>
<text x="559.3" y="570.0" font-size="10.2" text-anchor="middle" letter-spacing="-0.25">MT-SLP-76</text>
<ellipse cx="393" cy="651" rx="8" ry="7" fill="#c9a070" opacity="0.85" filter="url(#bl1)"/>
<ellipse cx="410" cy="651" rx="10" ry="5.5" fill="#c9a070" opacity="0.5" filter="url(#bl1)"/>
<ellipse cx="403" cy="632" rx="12" ry="9" fill="#c9a070" opacity="0.2" filter="url(#bl1)"/>
<path d="M390.7 653.3h.6M390.9 649.6h.6M387.3 650.0h.6M397.6 652.9h.6M397.2 652.1h.6M394.0 651.8h.6M383.7 654.8h.6M394.5 653.2h.6M383.5 643.2h.6M387.6 648.9h.6M393.5 650.8h.6M394.6 648.1h.6M393.5 652.8h.6M388.7 658.7h.6M394.8 656.4h.6M388.9 647.7h.6M390.3 650.5h.6M395.2 652.1h.6M389.8 646.7h.6M389.4 656.5h.6M388.0 652.1h.6M394.1 644.3h.6M392.2 656.9h.6M382.0 649.6h.6M391.5 647.3h.6M394.5 650.7h.6M384.7 654.7h.6M395.3 655.3h.6M399.2 652.6h.6M392.6 645.2h.6M395.1 648.2h.6M389.7 645.3h.6M387.2 648.6h.6M398.4 641.9h.6M384.7 652.1h.6M399.2 653.6h.6M382.5 639.7h.6M393.8 647.7h.6M386.4 655.4h.6M397.5 651.7h.6M393.2 653.0h.6M400.0 653.8h.6M394.6 653.5h.6M384.2 656.8h.6M396.8 653.4h.6M382.1 648.1h.6M396.2 642.8h.6M391.1 655.6h.6M385.4 658.2h.6M394.8 650.3h.6M393.6 653.9h.6M392.6 656.2h.6M388.7 649.1h.6M397.2 651.1h.6M387.6 655.3h.6M399.3 649.0h.6M385.1 650.4h.6M391.3 649.7h.6M399.0 646.4h.6M398.3 645.3h.6M388.1 653.8h.6M397.6 654.9h.6M393.7 651.6h.6M392.8 653.6h.6M391.1 652.2h.6M394.9 651.0h.6M395.8 653.5h.6M402.1 652.5h.6M389.9 649.3h.6M391.9 655.2h.6M390.3 652.7h.6M401.2 639.5h.6M386.4 652.1h.6M394.0 652.1h.6M389.8 653.9h.6M393.4 648.7h.6M404.2 652.6h.6M389.2 650.6h.6M390.9 650.7h.6M384.2 648.8h.6M397.0 645.7h.6M391.7 655.3h.6M396.3 657.7h.6M383.5 649.4h.6M390.3 653.8h.6M397.5 638.9h.6M397.4 644.5h.6M395.4 644.3h.6M392.9 656.4h.6M391.3 651.9h.6M396.0 651.6h.6M391.6 657.9h.6M397.2 649.7h.6M405.7 645.8h.6M396.6 649.8h.6M392.7 654.2h.6M393.1 653.9h.6M384.4 644.2h.6M395.1 646.7h.6M386.9 644.4h.6M398.3 654.4h.6M399.4 646.8h.6M392.0 645.9h.6M395.8 658.2h.6M387.5 658.0h.6M396.9 650.2h.6M382.1 657.3h.6M391.5 648.3h.6M394.0 652.8h.6M399.5 646.4h.6M397.7 657.7h.6M399.3 650.2h.6M388.3 655.6h.6M392.6 651.6h.6M399.1 649.8h.6M382.9 649.3h.6M382.7 654.7h.6M393.6 648.2h.6M392.0 654.7h.6M392.4 657.0h.6M391.7 655.7h.6M399.5 658.2h.6M388.6 655.0h.6M382.6 646.1h.6M382.2 655.8h.6M385.8 650.9h.6M391.0 650.9h.6M389.0 652.1h.6M401.0 651.2h.6M394.7 655.5h.6M391.0 645.3h.6M389.2 655.8h.6M383.8 648.3h.6M397.0 654.6h.6M392.0 654.6h.6M392.8 645.7h.6M384.2 648.1h.6M396.6 648.5h.6M387.5 647.5h.6M384.3 650.5h.6M386.1 652.6h.6M383.1 652.5h.6M388.8 642.3h.6M395.6 649.8h.6M382.7 647.1h.6M393.5 648.9h.6M395.9 654.4h.6M395.3 652.5h.6M398.7 654.0h.6M394.3 641.6h.6M396.5 656.9h.6M390.5 648.9h.6M401.7 643.1h.6M394.3 660.6h.6M387.4 654.1h.6M401.4 650.5h.6M394.8 655.1h.6M387.5 650.6h.6M393.5 654.7h.6M391.8 650.1h.6M386.9 649.4h.6M396.5 651.5h.6M387.7 647.2h.6M405.3 656.1h.6M395.2 639.3h.6M395.1 653.2h.6M400.4 652.9h.6M391.7 653.4h.6M382.3 655.6h.6M393.6 647.8h.6M398.6 659.1h.6M385.0 648.0h.6M393.5 651.8h.6M390.0 646.6h.6M402.6 655.7h.6M386.0 644.9h.6M400.5 655.5h.6M401.1 654.6h.6M387.6 652.2h.6M382.5 647.6h.6M391.7 653.4h.6M388.4 650.4h.6M394.3 652.7h.6M395.2 651.9h.6M390.4 654.6h.6M392.2 647.3h.6M388.9 651.0h.6M391.5 651.7h.6M392.0 651.8h.6M391.3 645.3h.6M394.1 655.7h.6M394.2 650.1h.6M394.2 646.7h.6M382.5 651.3h.6M387.3 654.3h.6M386.6 639.2h.6M386.8 658.1h.6M390.1 644.8h.6M388.2 653.3h.6M394.5 651.8h.6M399.4 654.2h.6M391.9 653.7h.6M400.3 655.4h.6M397.1 646.1h.6M391.3 654.3h.6M390.5 655.8h.6M395.0 655.1h.6M390.9 660.3h.6M398.2 650.0h.6M392.5 660.2h.6M390.3 654.9h.6M396.9 651.0h.6M386.2 651.8h.6M393.8 656.1h.6M395.9 651.1h.6M396.3 653.4h.6M393.0 651.2h.6M390.8 654.1h.6M386.7 648.2h.6M392.0 644.4h.6M389.8 642.0h.6M388.6 653.6h.6M394.8 650.8h.6M390.8 644.6h.6M401.1 653.3h.6M397.5 647.0h.6M391.1 642.8h.6M395.9 655.2h.6M382.5 650.8h.6M395.2 643.1h.6M382.9 646.2h.6M388.9 644.7h.6M392.2 652.1h.6M395.2 654.2h.6M399.5 656.2h.6M385.4 648.7h.6M386.7 646.2h.6M391.6 651.0h.6M394.5 643.9h.6M385.8 650.9h.6M391.0 649.6h.6M391.7 647.6h.6M395.5 652.6h.6M391.6 648.0h.6M391.1 638.8h.6M387.1 651.2h.6M384.5 651.9h.6M392.7 644.8h.6M390.7 649.6h.6M394.3 653.8h.6M391.8 647.2h.6M391.3 650.7h.6M395.7 652.3h.6M388.4 644.9h.6M390.1 647.7h.6M386.4 650.5h.6M389.5 651.5h.6M394.6 649.1h.6M403.6 649.6h.6M397.5 651.5h.6M397.6 640.3h.6M388.2 652.1h.6M395.0 660.8h.6M393.6 656.8h.6M395.8 655.3h.6M394.6 650.3h.6M394.5 646.1h.6M397.9 646.4h.6M393.2 660.5h.6M390.9 651.1h.6M397.8 651.1h.6M388.0 652.2h.6M394.9 654.2h.6M388.1 658.9h.6M400.3 651.1h.6M393.3 649.1h.6M399.1 647.8h.6M395.4 648.8h.6M388.5 654.2h.6M398.7 651.0h.6M388.6 654.7h.6M391.8 652.4h.6M399.6 656.1h.6M389.4 660.9h.6M392.0 654.5h.6M388.8 650.8h.6M383.3 659.0h.6M398.8 645.5h.6M384.5 643.7h.6M397.9 648.9h.6M391.7 649.6h.6M391.4 646.1h.6M392.1 644.5h.6M391.6 652.4h.6M394.3 650.0h.6M387.5 651.7h.6M389.6 658.0h.6M395.8 650.5h.6M389.6 647.8h.6M387.3 649.4h.6M393.5 653.3h.6M394.8 660.4h.6M388.5 651.1h.6M406.0 642.6h.6M389.4 651.8h.6M392.8 652.8h.6M390.8 652.6h.6M392.3 654.5h.6M382.5 647.0h.6M392.0 646.4h.6M386.8 653.8h.6M388.8 653.9h.6M395.7 652.4h.6M394.5 650.5h.6M385.0 650.9h.6M394.3 648.6h.6M391.5 654.4h.6M387.6 653.9h.6M401.3 648.5h.6M392.7 650.3h.6M399.7 652.4h.6M396.5 647.9h.6M391.9 651.0h.6M383.1 657.5h.6M396.5 643.1h.6M395.7 650.4h.6M394.2 652.6h.6M384.5 650.0h.6M399.5 648.4h.6M386.9 644.9h.6M385.9 652.5h.6M400.5 652.9h.6M393.2 661.0h.6M389.4 648.0h.6M394.6 653.5h.6M386.9 645.7h.6M393.5 652.1h.6M385.5 650.1h.6M389.3 653.1h.6M391.4 650.6h.6M390.2 655.7h.6M399.0 649.3h.6M396.2 647.6h.6M392.4 654.4h.6M399.6 649.3h.6M391.6 651.9h.6M384.5 651.1h.6M388.6 652.7h.6M386.4 642.1h.6M392.2 652.2h.6M389.3 655.0h.6M390.6 648.3h.6M394.4 643.9h.6M388.6 650.9h.6M396.2 650.3h.6M393.5 648.1h.6M393.5 658.5h.6M388.6 660.7h.6M388.8 651.1h.6M392.9 655.6h.6M385.8 641.5h.6M395.0 654.6h.6M395.1 660.2h.6M393.0 652.1h.6M396.6 652.7h.6M400.3 645.4h.6M390.1 635.5h.6M396.1 649.3h.6M396.6 660.7h.6M392.0 649.9h.6M389.5 647.2h.6M388.8 653.9h.6M392.2 651.3h.6M391.1 655.1h.6M394.5 650.4h.6M395.3 650.3h.6M386.2 657.5h.6M394.3 646.7h.6M397.4 652.6h.6M384.2 658.2h.6M393.7 655.0h.6M393.0 650.3h.6M384.3 655.4h.6M392.2 649.7h.6M393.8 651.4h.6M395.4 649.3h.6M391.8 641.4h.6M389.9 654.0h.6M398.7 649.4h.6M391.4 658.1h.6M390.4 654.3h.6M400.4 651.2h.6M398.1 647.8h.6M393.0 650.7h.6M392.6 656.1h.6M403.9 648.0h.6M389.1 653.2h.6M386.7 653.2h.6M394.9 649.8h.6M394.7 644.0h.6M395.8 644.0h.6M388.5 648.5h.6M390.0 654.9h.6M392.4 649.2h.6M394.7 658.1h.6M392.0 652.6h.6M398.2 652.2h.6M385.6 660.5h.6M403.0 642.1h.6M391.8 652.9h.6M396.8 654.0h.6M390.6 646.3h.6M392.5 655.7h.6M386.6 646.4h.6M391.9 642.3h.6M390.7 649.0h.6M394.3 647.8h.6M387.6 649.2h.6M391.8 648.0h.6M392.1 654.4h.6M397.9 658.7h.6M388.1 649.1h.6M383.4 659.5h.6M388.4 650.8h.6M394.6 644.9h.6M394.3 650.9h.6M382.9 652.3h.6M398.0 642.6h.6M396.0 651.9h.6M394.4 653.0h.6M398.5 650.0h.6M396.4 649.2h.6M395.6 647.3h.6M391.5 658.8h.6M394.2 650.3h.6M386.3 647.4h.6M393.0 655.2h.6M394.1 653.4h.6M391.8 657.1h.6M390.0 648.5h.6M396.4 651.3h.6M390.6 648.4h.6M390.7 653.8h.6M393.8 645.6h.6M394.1 651.8h.6M387.0 654.5h.6M390.6 649.5h.6M396.0 656.9h.6M388.6 653.0h.6M387.6 660.8h.6M389.5 656.4h.6M388.8 654.7h.6M403.1 639.6h.6M389.8 653.3h.6M391.5 648.0h.6M402.8 651.4h.6M383.8 654.8h.6M383.4 656.2h.6M389.1 651.7h.6M398.3 651.5h.6M385.0 643.4h.6M397.9 654.3h.6M387.9 654.9h.6M394.5 653.9h.6M382.8 649.6h.6M396.5 654.3h.6M396.4 639.9h.6M392.8 653.2h.6M404.8 646.7h.6M390.4 651.2h.6M396.4 649.0h.6M397.7 647.5h.6M393.3 648.6h.6M392.8 647.9h.6M384.0 655.9h.6M393.5 648.5h.6M393.0 655.5h.6M387.1 650.5h.6M394.7 653.4h.6M390.3 641.5h.6M398.2 652.5h.6M392.1 649.7h.6M393.3 649.1h.6M386.9 647.7h.6M389.0 648.2h.6M386.2 653.9h.6M385.5 654.0h.6M386.9 652.6h.6M398.9 651.9h.6M388.3 651.2h.6M392.7 643.2h.6M389.0 651.7h.6M389.7 651.4h.6M395.7 654.4h.6M396.5 653.6h.6M390.6 650.9h.6M390.6 649.6h.6M391.1 643.2h.6M390.3 650.9h.6M387.1 650.9h.6M394.6 650.3h.6M402.4 639.3h.6M391.0 642.8h.6M396.9 660.1h.6M383.5 651.6h.6M394.6 649.6h.6M394.8 640.9h.6M396.3 652.7h.6M392.1 648.4h.6M395.2 648.8h.6M393.1 648.7h.6M382.7 650.9h.6M393.0 654.4h.6M387.6 650.9h.6M395.1 651.7h.6M398.2 660.0h.6M387.5 642.4h.6M396.3 657.9h.6M396.6 654.7h.6M388.9 647.8h.6M396.4 646.9h.6M382.9 646.5h.6M404.5 659.7h.6M388.6 647.7h.6M393.2 647.6h.6M398.6 650.6h.6M386.6 656.9h.6M389.1 652.0h.6M391.9 649.6h.6M393.6 647.9h.6M382.8 641.1h.6M385.7 647.6h.6M391.9 651.2h.6M394.8 651.5h.6M388.0 647.8h.6M382.4 650.2h.6M394.4 653.4h.6M391.4 650.2h.6M396.7 651.1h.6M395.7 653.6h.6M393.1 656.9h.6M389.1 649.4h.6M388.0 647.4h.6M399.8 658.9h.6M392.1 653.6h.6M397.9 654.6h.6M398.0 645.3h.6M388.8 653.0h.6M399.2 651.5h.6M387.7 649.4h.6M388.7 647.1h.6M399.5 648.2h.6M392.1 660.7h.6M397.9 652.5h.6M388.9 652.8h.6M400.1 653.8h.6M398.3 651.4h.6M394.6 650.1h.6M394.1 656.9h.6M384.8 650.7h.6M393.2 648.4h.6M390.5 654.5h.6M402.0 653.8h.6M393.6 644.0h.6M401.6 651.3h.6M391.8 646.0h.6M391.7 646.1h.6M392.4 653.1h.6M392.2 652.3h.6M387.7 657.4h.6M388.7 642.8h.6M391.1 647.6h.6M387.0 649.4h.6M393.5 645.7h.6M391.3 657.4h.6M395.4 650.3h.6M392.6 650.5h.6M391.8 654.3h.6M391.5 640.2h.6M391.9 647.0h.6M395.3 648.3h.6M392.7 660.8h.6M386.8 645.9h.6M384.9 640.2h.6M382.6 652.6h.6M388.8 642.6h.6M384.6 653.8h.6M388.1 649.3h.6M393.7 657.1h.6M401.7 655.6h.6M392.7 651.8h.6M401.0 657.4h.6M390.4 653.1h.6M393.4 651.2h.6M389.5 645.0h.6M389.3 644.1h.6M398.1 653.4h.6M386.0 657.3h.6M396.5 642.4h.6M401.2 654.6h.6M402.3 645.5h.6M394.7 652.9h.6M393.0 651.8h.6M397.3 644.3h.6M385.8 644.7h.6M389.2 648.3h.6M393.8 652.2h.6M392.2 648.0h.6M389.8 655.3h.6M395.8 651.5h.6M390.4 658.0h.6M389.0 653.9h.6M397.8 649.8h.6M396.1 646.0h.6M397.1 651.9h.6M384.1 654.0h.6M387.5 656.8h.6M388.6 650.3h.6M393.4 649.5h.6M393.3 648.5h.6M395.4 651.0h.6M393.1 638.6h.6M397.8 651.1h.6M383.1 651.4h.6M394.3 655.8h.6M386.6 658.0h.6M391.2 660.7h.6M391.3 654.1h.6M390.2 646.0h.6M397.5 655.1h.6M399.7 654.9h.6M389.1 643.5h.6M388.7 648.0h.6M387.9 653.6h.6M393.6 649.8h.6M392.9 650.3h.6M393.1 654.4h.6M396.8 647.9h.6M384.5 657.4h.6M392.6 656.0h.6M383.8 649.5h.6M392.1 644.5h.6M389.4 654.3h.6M397.4 658.2h.6M387.7 644.7h.6M394.6 655.2h.6M393.0 645.1h.6M395.9 654.6h.6M394.8 648.8h.6M393.5 654.6h.6M389.2 642.7h.6M393.6 653.2h.6M392.1 655.0h.6M389.1 650.6h.6M390.5 653.6h.6M400.0 649.9h.6M402.3 657.9h.6M396.0 653.6h.6M400.9 650.2h.6M391.4 646.2h.6M394.4 657.1h.6M394.7 652.9h.6M391.0 651.8h.6M384.9 655.7h.6M390.0 646.0h.6M388.2 647.3h.6M396.3 655.8h.6M385.2 655.2h.6M396.4 648.4h.6M384.6 647.6h.6M388.8 652.5h.6M390.2 641.9h.6M393.2 644.1h.6M396.5 645.6h.6M388.5 647.2h.6M389.3 656.8h.6M396.3 653.7h.6M393.6 644.0h.6M389.4 648.5h.6M387.1 653.3h.6M388.3 647.8h.6M386.8 641.7h.6M395.0 657.0h.6M392.9 646.6h.6M384.1 651.8h.6M398.1 652.3h.6M396.6 657.7h.6M397.6 649.0h.6M397.3 654.5h.6M384.3 649.2h.6M384.9 650.5h.6M394.9 646.2h.6M382.2 656.8h.6M393.9 657.6h.6M385.4 655.8h.6M402.4 660.0h.6M390.9 652.2h.6M391.2 655.5h.6M397.2 651.4h.6M385.2 654.3h.6M389.7 653.8h.6M393.3 658.3h.6M397.7 649.0h.6M393.7 658.9h.6M389.3 653.0h.6M398.0 656.7h.6M394.6 645.1h.6M385.7 652.1h.6M393.9 660.3h.6M387.7 656.1h.6M395.9 643.5h.6M387.9 651.7h.6M389.5 650.3h.6M394.4 647.4h.6M394.3 648.1h.6M389.3 653.4h.6M389.1 652.3h.6M400.0 651.1h.6M391.3 654.3h.6M390.2 655.9h.6M385.6 653.8h.6M389.4 647.4h.6M400.8 647.2h.6M400.8 654.0h.6M399.3 646.6h.6M398.0 657.6h.6M391.4 650.4h.6M404.3 651.8h.6M389.9 648.2h.6M394.2 652.5h.6M392.9 658.7h.6M390.4 653.1h.6M399.3 646.5h.6M397.2 659.2h.6M385.2 646.1h.6M386.8 642.7h.6M394.3 642.6h.6M394.5 657.5h.6M383.9 649.6h.6M382.4 654.5h.6M388.3 649.8h.6M392.3 653.5h.6M390.3 651.1h.6M389.3 651.5h.6M386.1 651.3h.6M382.3 648.8h.6M401.6 651.4h.6M385.7 652.2h.6M387.1 643.6h.6M388.3 654.3h.6M393.9 650.6h.6M387.4 646.1h.6M398.7 652.1h.6M387.2 641.5h.6M385.2 660.5h.6M386.3 650.7h.6M393.1 650.3h.6M390.6 644.8h.6M386.7 658.6h.6M388.2 654.8h.6M383.5 649.8h.6M393.3 655.7h.6M386.4 653.7h.6M393.9 647.7h.6M394.4 647.0h.6M388.0 650.9h.6M384.1 650.5h.6M387.0 644.4h.6M389.9 654.4h.6M390.0 656.7h.6M386.2 645.1h.6M399.8 652.8h.6M396.7 647.3h.6M396.0 652.2h.6M395.2 651.1h.6M398.0 648.1h.6M387.2 644.4h.6M397.8 647.7h.6M386.8 646.8h.6M389.8 645.3h.6M390.5 648.2h.6M389.2 646.7h.6M392.2 648.9h.6M392.6 652.1h.6M393.7 641.1h.6M389.3 647.4h.6M395.9 643.9h.6M388.4 649.7h.6M390.3 655.5h.6M389.8 655.3h.6M384.7 642.8h.6M398.1 653.0h.6M394.4 651.6h.6M394.4 645.5h.6M396.7 648.6h.6M396.9 651.4h.6M382.1 645.2h.6M397.6 650.4h.6M390.0 652.1h.6M389.9 648.5h.6M392.5 651.6h.6M399.6 651.2h.6M401.4 659.1h.6M400.6 655.8h.6M392.7 651.6h.6M391.3 647.7h.6M391.7 648.1h.6M400.2 653.4h.6M389.8 642.4h.6M391.7 649.1h.6M386.6 645.9h.6M382.8 653.6h.6M391.7 660.3h.6M391.8 650.3h.6M399.2 651.6h.6M392.8 649.3h.6M389.0 657.7h.6M397.0 658.7h.6M390.3 651.1h.6M387.6 655.4h.6M385.0 653.5h.6M397.5 657.4h.6M387.3 655.9h.6M388.4 647.6h.6M385.4 656.2h.6M400.2 648.3h.6M388.2 649.5h.6M404.5 655.5h.6M389.3 642.9h.6M388.6 656.3h.6M401.3 649.8h.6M388.5 648.7h.6M382.6 655.1h.6M386.6 655.8h.6M383.5 645.3h.6M393.4 647.6h.6M395.9 651.0h.6M386.1 653.8h.6M396.2 642.4h.6M401.1 653.2h.6M395.8 642.6h.6M388.4 649.4h.6M397.4 644.4h.6M387.6 641.9h.6M390.8 652.6h.6M383.6 648.3h.6M394.6 658.1h.6M395.3 649.6h.6M386.1 646.8h.6M388.7 651.7h.6M391.8 658.5h.6M393.4 646.2h.6M399.7 655.3h.6M392.5 647.8h.6M382.6 646.4h.6M396.6 647.4h.6M385.4 651.9h.6M393.2 653.7h.6M395.3 657.3h.6M387.8 655.4h.6M387.1 654.1h.6M392.9 652.1h.6M396.8 650.9h.6M397.6 654.9h.6M392.7 648.4h.6M388.2 648.6h.6M391.0 650.9h.6M406.9 653.9h.6M395.8 647.1h.6M388.4 649.6h.6M393.0 646.3h.6M400.1 648.5h.6M397.4 640.5h.6M392.0 652.3h.6M393.0 653.7h.6M393.4 651.7h.6M382.5 647.8h.6M383.0 653.8h.6M393.5 650.1h.6M387.9 648.4h.6M401.2 658.8h.6M391.7 656.8h.6M384.1 642.3h.6M389.6 647.1h.6M389.2 651.8h.6M407.1 648.0h.6M392.2 652.2h.6M391.8 655.2h.6M400.9 645.4h.6M392.8 649.8h.6M393.8 644.1h.6M383.2 640.6h.6M394.6 651.9h.6M392.4 640.4h.6M390.1 647.6h.6M384.9 646.9h.6M395.5 653.4h.6M391.9 653.3h.6M389.0 651.3h.6M392.2 653.5h.6M391.7 650.4h.6M391.3 648.1h.6M403.2 653.3h.6M394.1 660.9h.6M399.0 644.0h.6M395.5 654.8h.6M401.4 656.9h.6M395.9 645.7h.6M387.6 652.2h.6M394.5 646.4h.6M390.1 649.2h.6M392.3 652.5h.6M390.6 645.4h.6M398.2 658.2h.6M391.5 655.6h.6M394.2 654.0h.6M394.4 647.6h.6M394.9 655.5h.6M387.5 659.8h.6M402.4 659.2h.6M401.9 654.3h.6M390.3 648.3h.6M387.9 651.5h.6M391.8 654.0h.6M382.1 660.8h.6M403.4 650.9h.6M395.4 653.1h.6M393.4 650.1h.6M391.4 647.3h.6M392.9 650.9h.6M393.6 647.2h.6M392.2 651.2h.6M395.0 646.2h.6M394.1 655.4h.6M395.0 649.3h.6M389.5 649.9h.6M395.6 658.0h.6M391.2 648.1h.6M393.9 651.9h.6M387.5 647.7h.6M391.5 654.0h.6M386.0 646.4h.6M394.5 645.5h.6M392.5 652.6h.6M391.4 646.4h.6M391.7 649.5h.6M393.7 647.2h.6M397.5 643.5h.6M391.1 651.0h.6M396.8 648.3h.6M394.7 648.4h.6M395.7 658.8h.6M390.0 653.0h.6M387.4 655.4h.6M398.1 651.2h.6M386.3 652.8h.6M397.7 655.9h.6M396.1 642.8h.6M388.6 657.4h.6M385.9 656.1h.6M401.4 654.4h.6M397.6 649.5h.6M385.9 650.5h.6M391.0 650.8h.6M395.5 650.3h.6M393.0 652.9h.6M392.0 659.3h.6M394.2 651.4h.6M391.0 648.2h.6M398.7 651.7h.6M386.6 648.5h.6M391.3 649.0h.6M397.4 645.8h.6M394.5 651.6h.6M386.1 651.2h.6M391.5 653.3h.6M389.7 652.4h.6M383.7 646.1h.6M395.9 655.7h.6M391.9 648.3h.6M397.4 641.6h.6M388.0 654.0h.6M395.3 646.4h.6M382.6 657.5h.6M392.8 647.0h.6M392.3 655.1h.6M383.8 656.0h.6M395.7 641.6h.6M395.9 643.0h.6M397.7 652.8h.6M403.3 648.3h.6M392.0 655.7h.6M388.8 647.8h.6M390.1 650.7h.6M386.6 653.2h.6M394.7 651.3h.6M400.5 649.5h.6M398.5 648.5h.6M395.8 642.3h.6M393.0 650.2h.6M389.5 648.3h.6M390.3 647.8h.6M382.6 648.3h.6M389.3 648.6h.6M386.7 650.4h.6M395.9 649.9h.6M389.5 657.1h.6M396.9 655.1h.6M397.8 649.5h.6M391.4 656.0h.6M389.2 650.5h.6M393.9 652.7h.6M390.6 655.4h.6M391.1 654.3h.6M397.4 654.0h.6M395.7 645.8h.6M385.4 648.2h.6M394.4 657.8h.6M385.9 652.4h.6M387.7 647.7h.6M390.6 654.1h.6M393.1 656.3h.6M387.1 655.0h.6M396.7 651.3h.6M394.4 648.5h.6M386.6 649.2h.6M388.8 659.6h.6M389.6 658.4h.6M393.0 652.4h.6M395.7 647.5h.6M396.6 652.7h.6M384.4 653.7h.6M394.8 653.0h.6M399.9 649.1h.6M394.6 654.4h.6M387.5 656.4h.6M384.7 645.1h.6M394.6 646.1h.6M391.4 643.6h.6M392.3 645.9h.6M393.7 644.1h.6M394.2 649.8h.6M392.3 650.7h.6M392.7 645.1h.6M383.7 651.2h.6M387.3 649.0h.6M394.1 642.1h.6M388.2 648.3h.6M386.7 652.5h.6M391.3 647.3h.6M387.1 654.6h.6M388.7 653.6h.6M394.2 642.5h.6M386.6 651.0h.6M393.7 654.5h.6M396.0 655.7h.6M390.1 650.1h.6M395.9 649.1h.6M397.3 643.8h.6M395.3 650.2h.6M382.2 655.4h.6M393.6 651.1h.6M386.6 648.9h.6M399.6 647.3h.6M386.4 647.1h.6M386.0 650.4h.6M390.0 646.9h.6M387.8 655.7h.6M384.8 659.8h.6M389.3 646.1h.6M395.9 653.5h.6M386.8 654.4h.6M382.8 646.8h.6M397.6 649.8h.6M385.5 653.3h.6M396.6 650.9h.6M383.0 649.4h.6M394.1 654.5h.6M401.3 649.9h.6M389.6 650.8h.6M398.0 646.8h.6M398.5 638.6h.6M396.0 648.0h.6M394.3 654.1h.6M386.1 650.6h.6M393.2 653.6h.6M387.3 646.5h.6M382.4 660.4h.6M391.0 650.0h.6M384.5 655.2h.6M389.3 657.5h.6M396.3 651.1h.6M395.6 646.0h.6M390.4 648.4h.6M385.7 651.1h.6M391.3 657.5h.6M386.1 648.0h.6M387.4 648.9h.6M394.1 652.8h.6M392.1 648.9h.6M394.5 652.6h.6M382.8 649.8h.6M385.1 645.7h.6M392.7 651.3h.6M392.6 647.1h.6M391.0 646.9h.6M393.9 654.1h.6M400.8 656.7h.6M388.0 648.9h.6M387.3 652.4h.6M401.9 654.2h.6M382.6 645.3h.6M385.5 653.3h.6M392.0 652.3h.6M400.9 647.3h.6M387.8 659.8h.6M393.7 647.5h.6M382.1 644.1h.6M383.3 651.3h.6M392.2 655.5h.6M391.3 647.9h.6M388.3 659.6h.6M383.2 651.8h.6M392.1 653.8h.6M390.0 653.2h.6M396.1 650.3h.6M389.7 650.2h.6M387.2 650.1h.6M390.5 651.9h.6M398.7 656.9h.6M389.8 653.7h.6M393.5 654.4h.6M392.1 652.2h.6M389.7 647.5h.6M396.4 656.8h.6M395.3 653.0h.6M393.3 649.0h.6M383.1 654.0h.6M393.0 648.5h.6M387.2 656.8h.6M383.0 658.9h.6M395.2 660.7h.6M388.4 650.9h.6M389.5 651.7h.6M391.0 647.6h.6M397.4 647.5h.6M389.5 653.5h.6M389.3 649.0h.6M393.8 649.3h.6M385.8 650.5h.6M390.9 658.7h.6M386.5 655.4h.6M388.1 649.4h.6M390.4 652.2h.6M396.3 658.9h.6M388.8 657.0h.6M397.0 654.7h.6M388.2 655.1h.6M391.5 652.6h.6M390.7 654.0h.6M397.6 656.1h.6M391.0 655.5h.6M399.3 646.8h.6M399.4 645.0h.6M394.7 653.7h.6M399.4 652.3h.6M389.6 647.4h.6M385.7 654.4h.6M390.8 647.8h.6M394.7 647.6h.6M389.8 648.9h.6M400.3 657.6h.6M391.2 643.9h.6M393.4 651.3h.6M393.7 653.5h.6M390.4 655.2h.6M396.2 651.9h.6M390.0 648.8h.6M395.5 646.1h.6M391.2 647.6h.6M385.0 653.7h.6M391.9 651.2h.6M396.4 644.3h.6M391.7 652.3h.6M396.2 646.1h.6M395.6 652.0h.6M398.8 656.1h.6M394.7 660.7h.6M392.0 649.1h.6M390.3 646.8h.6M391.9 642.5h.6M391.6 652.9h.6M397.0 649.4h.6M398.9 648.1h.6M391.3 642.6h.6M388.2 647.4h.6M399.3 653.3h.6M386.6 653.3h.6M394.4 650.0h.6M392.1 649.7h.6M389.4 643.2h.6M391.6 656.6h.6M399.0 649.8h.6M388.4 650.1h.6M396.4 652.5h.6M389.2 652.6h.6M391.0 653.3h.6M390.0 644.5h.6M392.3 654.3h.6M386.6 650.5h.6M396.3 649.4h.6M388.8 659.9h.6M396.0 655.5h.6M387.4 658.2h.6M383.9 648.7h.6M395.6 656.8h.6M387.5 648.1h.6M393.0 642.6h.6M395.1 653.5h.6M389.8 653.4h.6M395.8 652.4h.6M394.5 657.6h.6M389.7 651.7h.6M389.5 655.5h.6M390.0 653.1h.6M392.7 651.3h.6M400.3 650.6h.6M398.9 654.6h.6M398.4 650.3h.6M396.5 654.3h.6M389.0 652.2h.6M391.4 650.8h.6M398.3 647.9h.6M383.9 643.4h.6M389.8 648.2h.6M392.1 653.5h.6M400.5 652.3h.6M394.2 647.8h.6M394.8 656.9h.6M398.5 642.5h.6M396.3 657.9h.6M396.0 644.5h.6M390.5 653.5h.6M394.0 647.5h.6M387.7 655.2h.6M385.6 657.2h.6M392.1 652.3h.6M385.6 648.4h.6M395.3 644.6h.6M402.0 644.9h.6M386.1 651.2h.6M394.3 654.2h.6M390.2 650.1h.6M390.9 648.5h.6M383.4 655.2h.6M393.2 651.7h.6M389.0 652.1h.6M391.9 650.7h.6M397.3 643.6h.6M393.2 646.4h.6M390.5 657.5h.6M386.8 650.6h.6M389.2 655.1h.6M387.3 643.7h.6M394.5 649.5h.6M390.5 655.7h.6M387.7 649.4h.6M392.7 652.8h.6M389.5 655.5h.6M402.8 649.2h.6M401.0 641.9h.6M398.8 649.5h.6M392.7 649.5h.6M388.9 645.5h.6M390.1 656.6h.6M397.5 649.5h.6M389.5 648.0h.6M386.2 658.8h.6M395.2 651.5h.6M389.6 646.6h.6M398.3 654.4h.6M387.4 655.3h.6M386.7 653.8h.6M387.4 649.2h.6M394.4 652.9h.6M396.9 647.4h.6M399.6 656.8h.6M392.0 653.0h.6M388.3 650.3h.6M385.7 651.4h.6M393.0 656.8h.6M396.5 654.5h.6M390.3 650.0h.6M390.4 652.0h.6M382.7 654.3h.6M384.5 648.8h.6M392.1 648.8h.6M400.0 650.6h.6M399.5 656.1h.6M389.6 652.7h.6M398.2 649.6h.6M392.4 648.6h.6M392.3 649.5h.6M392.4 655.3h.6M398.7 651.6h.6M393.0 654.7h.6M390.6 646.4h.6M397.3 647.0h.6M396.5 646.8h.6M400.8 646.5h.6M396.1 657.5h.6M387.4 657.4h.6M388.0 643.4h.6M395.5 654.0h.6M391.0 640.1h.6M391.7 649.7h.6M390.2 649.7h.6M383.4 648.6h.6M400.6 657.7h.6M390.3 647.9h.6M393.9 655.6h.6M395.5 645.9h.6M392.8 651.6h.6M398.9 656.2h.6M394.5 656.3h.6M390.1 657.6h.6M390.0 652.7h.6M396.4 647.1h.6M388.6 643.4h.6M392.8 650.8h.6M390.4 653.2h.6M382.1 650.9h.6M392.4 649.9h.6M395.8 658.6h.6M389.9 646.9h.6M389.1 651.4h.6M394.8 647.3h.6M396.8 646.6h.6M396.0 652.8h.6M394.2 660.3h.6M390.7 650.3h.6M394.3 654.7h.6M385.6 652.2h.6M388.4 653.7h.6M398.6 651.2h.6M391.5 651.8h.6M384.5 654.3h.6M394.7 651.7h.6M390.1 647.8h.6M391.1 656.2h.6M391.5 656.8h.6M383.4 649.0h.6M393.3 650.9h.6M384.0 648.1h.6M398.0 645.4h.6M387.2 646.3h.6M389.4 653.8h.6M394.9 642.2h.6M399.0 648.4h.6M389.2 658.2h.6M391.6 645.6h.6M388.9 647.9h.6M387.2 649.6h.6M396.2 652.5h.6M385.4 660.1h.6M387.2 651.5h.6M392.2 654.3h.6M390.4 653.0h.6M402.1 651.4h.6M386.8 652.4h.6M388.1 649.4h.6M392.9 652.5h.6M390.6 654.7h.6M391.1 645.4h.6M396.2 649.4h.6M397.8 648.2h.6M394.7 652.4h.6M383.8 644.5h.6M386.6 657.1h.6M382.9 654.9h.6M397.2 653.1h.6M395.2 648.9h.6M391.9 652.0h.6M394.0 654.1h.6M391.0 648.0h.6M389.3 652.8h.6M384.0 645.6h.6M390.0 648.6h.6M390.7 639.5h.6M390.4 649.9h.6M395.7 642.4h.6M390.5 653.1h.6M394.3 656.2h.6M397.1 646.5h.6M395.1 649.6h.6M388.1 657.6h.6M389.0 647.3h.6M390.0 647.3h.6M396.8 652.6h.6M398.7 652.8h.6M389.0 655.5h.6M388.9 649.0h.6M391.2 651.2h.6M397.7 648.4h.6M393.7 650.9h.6M385.9 646.3h.6M390.9 652.8h.6M393.5 653.1h.6M392.2 649.1h.6M394.1 646.7h.6M385.5 649.6h.6M385.1 648.8h.6M388.4 648.6h.6M391.8 647.5h.6M390.0 643.6h.6M392.7 647.2h.6M393.9 638.7h.6M388.1 652.1h.6M383.1 649.4h.6M392.5 651.4h.6M384.8 652.0h.6M392.7 646.8h.6M395.6 650.8h.6M392.1 649.0h.6M394.6 651.4h.6M397.5 653.0h.6M389.0 650.0h.6M396.4 649.4h.6M393.8 653.3h.6M391.1 640.9h.6M392.6 651.9h.6M392.7 647.7h.6M397.8 650.4h.6M389.0 647.9h.6M393.7 646.3h.6M387.2 659.7h.6M398.3 655.6h.6M398.6 653.6h.6M383.9 656.2h.6M398.0 653.1h.6M382.5 656.4h.6M398.6 648.9h.6M392.6 654.4h.6M391.6 655.8h.6M392.4 654.0h.6M392.4 644.6h.6M387.2 659.3h.6M393.4 656.7h.6M397.5 658.5h.6M394.7 648.4h.6M392.1 642.6h.6M391.1 655.0h.6M382.3 651.9h.6M396.0 656.8h.6M387.5 648.2h.6M382.9 646.6h.6M394.6 660.0h.6M386.4 657.0h.6M394.1 648.8h.6M402.6 640.0h.6M391.7 652.0h.6M402.3 658.9h.6M403.0 651.6h.6M396.8 657.0h.6M394.5 652.6h.6M391.1 649.2h.6M386.0 659.5h.6M389.8 641.9h.6M393.3 650.9h.6M392.9 658.9h.6M391.5 649.8h.6M388.4 650.9h.6M389.9 651.9h.6M407.2 652.7h.6M387.8 659.4h.6M396.2 654.6h.6M395.5 654.6h.6M395.3 657.2h.6M396.9 656.9h.6M389.6 651.0h.6M388.5 655.2h.6M396.0 649.0h.6M394.8 660.3h.6M398.0 646.1h.6M391.6 653.8h.6M391.8 652.7h.6M397.7 652.4h.6M386.7 654.1h.6M391.5 651.5h.6M389.2 644.9h.6M385.9 649.5h.6M386.8 639.1h.6M397.6 645.9h.6M388.5 653.3h.6M383.0 656.9h.6M388.3 653.9h.6M389.7 652.3h.6M392.5 651.0h.6M383.1 644.6h.6M391.8 657.2h.6M389.3 653.3h.6M392.8 653.1h.6M396.8 644.4h.6M393.3 650.2h.6M390.5 647.3h.6M388.2 646.5h.6M386.7 660.5h.6M400.3 651.0h.6M395.6 646.7h.6M384.1 643.0h.6M392.7 657.3h.6M391.8 646.6h.6M390.8 646.6h.6M385.2 650.0h.6M390.1 647.4h.6M387.7 646.9h.6M393.2 657.1h.6M391.0 660.8h.6M384.1 652.2h.6M386.4 650.3h.6M392.5 653.5h.6M397.5 648.6h.6M385.9 650.2h.6M393.4 647.9h.6M396.4 658.4h.6M385.1 652.6h.6M397.0 642.6h.6M393.0 650.0h.6M385.1 656.8h.6M393.1 648.9h.6M394.2 653.8h.6M395.7 653.5h.6M394.0 645.8h.6M389.9 651.6h.6M384.1 660.3h.6M390.2 646.4h.6M383.1 652.1h.6M392.2 648.4h.6M390.0 647.1h.6M388.3 650.6h.6M388.9 654.0h.6M391.3 651.6h.6M394.0 656.6h.6M394.9 652.0h.6M391.2 647.5h.6M390.3 654.0h.6M393.1 649.3h.6M385.5 644.3h.6M393.6 655.5h.6M393.8 645.0h.6M391.0 652.0h.6M387.5 652.5h.6M391.0 647.3h.6M385.9 654.6h.6M393.7 647.1h.6M387.1 654.9h.6M394.9 649.7h.6M399.8 649.7h.6M386.9 655.8h.6M391.1 652.5h.6M392.2 646.6h.6M386.2 650.1h.6M398.8 646.6h.6M398.6 652.0h.6M386.6 652.2h.6M394.8 647.1h.6M382.2 652.6h.6M386.6 652.9h.6M382.7 650.4h.6M388.1 644.5h.6M390.8 651.8h.6M389.3 645.8h.6M393.0 643.3h.6M394.6 653.1h.6M400.2 654.9h.6M393.7 652.2h.6M392.1 645.2h.6M399.1 653.3h.6M390.6 646.0h.6M399.2 653.3h.6M386.2 653.9h.6M401.2 650.9h.6M393.9 649.2h.6M388.9 655.7h.6M407.0 651.5h.6M391.4 654.5h.6M390.5 654.2h.6M396.0 646.6h.6M386.8 650.7h.6M396.0 652.2h.6M398.0 645.0h.6M394.4 648.3h.6M392.5 652.4h.6M387.3 650.0h.6M386.4 652.2h.6M387.9 648.8h.6M393.1 648.1h.6M397.6 648.2h.6M396.1 652.2h.6M387.0 650.0h.6M387.9 649.4h.6M390.7 658.9h.6M390.0 657.8h.6M394.2 645.3h.6M382.7 654.0h.6M382.4 654.1h.6M397.0 652.7h.6M391.0 649.9h.6M393.3 649.7h.6M389.4 649.4h.6M397.7 648.3h.6M393.8 646.0h.6M388.5 645.0h.6M391.0 654.0h.6M393.5 648.9h.6M395.0 649.5h.6M393.8 652.2h.6M394.6 640.2h.6M385.7 654.4h.6M391.5 660.8h.6M390.9 648.6h.6M399.2 653.4h.6M401.2 653.2h.6M391.0 654.2h.6M388.2 649.1h.6M389.3 650.0h.6M395.8 648.9h.6M393.6 648.8h.6M396.3 639.0h.6M391.0 651.7h.6M386.8 655.4h.6M393.0 656.6h.6M396.6 653.8h.6M391.3 646.3h.6M390.9 649.0h.6M393.2 649.0h.6M406.8 644.1h.6M397.7 649.0h.6M390.8 655.0h.6M392.0 645.7h.6M394.0 650.2h.6M382.1 651.9h.6M386.9 647.8h.6M394.3 652.3h.6M390.6 660.4h.6M394.0 648.3h.6M393.1 650.5h.6M382.4 644.2h.6M385.3 660.0h.6M391.1 649.8h.6M389.3 655.3h.6M392.1 658.4h.6M395.8 658.1h.6M391.4 652.6h.6M389.9 650.3h.6M383.7 648.5h.6M387.4 648.2h.6M397.9 652.1h.6M397.9 654.7h.6M396.4 655.4h.6M389.1 654.5h.6M390.4 648.7h.6M397.8 660.4h.6M387.3 658.5h.6M396.0 647.3h.6M393.3 652.6h.6M393.8 649.5h.6M385.8 651.1h.6M396.2 654.4h.6M395.2 655.8h.6M387.2 650.8h.6M393.6 655.3h.6M392.8 653.2h.6M392.6 660.1h.6M382.3 650.9h.6M403.9 652.0h.6M383.2 651.6h.6M385.1 648.1h.6M393.1 658.4h.6M394.2 653.9h.6M396.9 651.9h.6M387.9 650.6h.6M393.6 649.8h.6M388.8 649.4h.6M384.8 646.6h.6M391.6 649.4h.6M392.2 657.1h.6M393.4 650.9h.6M386.4 646.3h.6M393.8 647.2h.6M394.1 646.3h.6M392.6 650.7h.6M396.8 649.3h.6M390.2 652.1h.6M392.3 658.3h.6M390.8 648.7h.6M390.5 653.1h.6M393.1 654.0h.6M385.3 660.7h.6M400.9 650.9h.6M386.2 651.7h.6M394.0 641.3h.6M392.1 644.6h.6M394.2 657.0h.6M397.0 644.5h.6M398.6 654.9h.6M390.3 653.2h.6M399.3 649.6h.6M391.9 648.6h.6M397.6 641.7h.6M398.8 646.8h.6M396.5 644.0h.6M387.5 648.4h.6M396.0 644.0h.6M394.9 648.2h.6M398.0 649.7h.6M394.3 650.3h.6M400.6 649.4h.6M391.9 659.6h.6M392.4 654.0h.6M388.5 651.9h.6M382.5 651.5h.6M388.9 644.5h.6M385.2 655.9h.6M394.1 644.4h.6M400.7 648.0h.6M390.2 652.1h.6M386.5 644.0h.6M388.4 656.1h.6M396.6 644.2h.6M397.8 651.1h.6M394.4 651.2h.6M394.0 646.7h.6M387.6 648.0h.6M390.2 653.7h.6M386.1 657.9h.6M389.0 648.5h.6M395.4 652.9h.6M390.4 646.4h.6M387.2 644.1h.6M397.5 655.7h.6M401.0 653.2h.6M393.6 654.3h.6M396.6 649.9h.6M393.7 660.3h.6M383.8 644.9h.6M387.4 654.3h.6M426.7 650.4h.6M420.8 651.8h.6M416.5 649.4h.6M412.7 652.0h.6M426.1 660.2h.6M392.0 654.6h.6M412.9 656.7h.6M425.3 655.8h.6M422.3 647.4h.6M393.3 660.0h.6M427.0 647.4h.6M427.9 655.2h.6M384.6 656.3h.6M401.6 657.6h.6M405.1 648.4h.6M395.1 651.0h.6M424.8 648.8h.6M391.5 660.4h.6M434.3 655.3h.6M406.8 646.2h.6M394.1 654.7h.6M428.0 646.9h.6M413.0 650.7h.6M410.0 654.4h.6M437.2 648.9h.6M422.8 657.2h.6M409.7 651.3h.6M397.5 657.2h.6M406.9 648.8h.6M413.8 647.9h.6M400.9 650.6h.6M430.2 651.0h.6M419.1 644.9h.6M390.5 660.8h.6M408.4 644.6h.6M411.8 654.9h.6M393.0 647.7h.6M416.0 647.6h.6M422.2 656.6h.6M418.1 649.9h.6M412.5 648.9h.6M411.5 653.5h.6M409.5 656.7h.6M443.0 649.4h.6M417.0 656.0h.6M420.5 650.9h.6M407.4 656.8h.6M420.2 654.4h.6M403.7 655.0h.6M422.2 651.1h.6M420.5 660.3h.6M391.2 654.9h.6M399.4 645.4h.6M410.3 654.6h.6M413.6 646.4h.6M396.3 649.3h.6M413.2 648.0h.6M395.6 660.5h.6M403.3 651.2h.6M406.6 649.2h.6M413.5 650.6h.6M420.2 646.3h.6M395.7 660.8h.6M412.1 655.7h.6M426.7 654.7h.6M413.4 644.5h.6M394.4 656.7h.6M420.9 654.8h.6M393.7 641.7h.6M400.7 646.3h.6M414.9 647.1h.6M431.4 649.0h.6M406.5 656.2h.6M416.8 647.6h.6M422.6 660.9h.6M398.7 650.8h.6M400.5 642.6h.6M420.3 655.4h.6M424.3 654.1h.6M389.5 651.9h.6M405.2 646.3h.6M400.1 655.7h.6M409.5 660.8h.6M418.5 642.7h.6M423.4 658.1h.6M413.4 646.1h.6M433.6 645.6h.6M412.0 642.7h.6M398.4 643.7h.6M425.7 657.7h.6M408.3 645.4h.6M412.3 653.8h.6M395.2 646.4h.6M411.8 655.4h.6M413.9 654.2h.6M398.4 639.9h.6M416.6 647.5h.6M411.5 650.2h.6M418.6 648.2h.6M429.9 652.2h.6M419.2 655.1h.6M425.1 654.0h.6M392.5 648.9h.6M434.8 654.3h.6M419.6 654.3h.6M405.5 648.7h.6M405.4 657.7h.6M417.3 660.7h.6M418.8 660.9h.6M418.4 646.2h.6M433.4 653.7h.6M427.0 653.1h.6M409.2 652.8h.6M399.8 646.1h.6M402.6 649.4h.6M397.0 651.5h.6M416.6 660.6h.6M434.7 651.8h.6M423.4 650.9h.6M417.6 651.8h.6M406.6 652.4h.6M395.6 654.2h.6M409.6 646.7h.6M408.8 654.7h.6M405.0 654.3h.6M419.7 659.7h.6M400.2 651.5h.6M419.0 659.4h.6M416.1 655.7h.6M395.7 649.1h.6M432.6 650.6h.6M438.6 648.4h.6M409.7 644.1h.6M420.5 653.3h.6M436.9 652.8h.6M410.0 645.1h.6M412.0 656.7h.6M421.8 658.1h.6M423.2 651.8h.6M420.2 652.9h.6M397.2 660.4h.6M417.4 646.8h.6M417.6 653.4h.6M424.8 659.1h.6M385.0 654.7h.6M431.2 647.3h.6M391.0 653.4h.6M417.0 653.7h.6M399.8 649.7h.6M415.3 655.7h.6M439.0 653.5h.6M405.8 640.3h.6M425.8 651.3h.6M411.7 647.1h.6M421.7 643.1h.6M414.3 652.6h.6M416.6 658.5h.6M411.8 652.5h.6M423.2 644.3h.6M409.5 652.3h.6M424.4 648.0h.6M422.6 653.9h.6M395.3 644.7h.6M395.9 652.7h.6M415.5 655.6h.6M422.8 649.3h.6M425.7 656.1h.6M418.6 654.4h.6M397.7 653.8h.6M400.7 646.1h.6M408.8 652.7h.6M412.4 650.4h.6M401.1 652.9h.6M404.2 645.0h.6M414.1 659.2h.6M408.2 646.7h.6M429.5 660.5h.6M409.5 651.0h.6M415.5 658.4h.6M414.6 656.9h.6M418.3 642.9h.6M399.8 645.9h.6M418.2 652.5h.6M434.4 650.7h.6M416.7 652.4h.6M414.7 659.9h.6M416.4 659.3h.6M428.5 649.0h.6M421.2 650.1h.6M414.3 652.8h.6M413.3 649.7h.6M431.6 650.7h.6M421.4 660.4h.6M420.5 657.1h.6M429.6 657.4h.6M433.6 644.9h.6M436.4 652.1h.6M392.1 648.8h.6M396.3 651.9h.6M395.2 647.0h.6M416.5 652.8h.6M403.5 650.8h.6M411.8 652.4h.6M412.9 650.9h.6M423.5 644.0h.6M407.1 652.7h.6M408.2 649.2h.6M407.8 653.0h.6M427.9 651.1h.6M409.8 653.8h.6M410.1 642.3h.6M416.2 650.1h.6M406.1 655.1h.6M413.5 649.2h.6M386.9 643.4h.6M413.2 651.4h.6M418.3 653.1h.6M407.3 645.7h.6M399.9 651.3h.6M399.2 655.8h.6M397.1 643.0h.6M410.7 643.1h.6M432.5 647.0h.6M412.4 650.8h.6M403.2 643.2h.6M390.7 656.3h.6M425.3 660.2h.6M395.5 654.8h.6M412.8 656.2h.6M406.8 655.6h.6M423.7 655.0h.6M430.4 651.1h.6M431.5 648.5h.6M433.0 638.3h.6M413.2 648.0h.6M413.0 657.2h.6M421.6 652.5h.6M433.4 644.6h.6M403.2 659.5h.6M416.9 641.6h.6M417.1 646.1h.6M430.7 657.7h.6M406.4 658.5h.6M403.0 656.6h.6M419.9 651.4h.6M395.9 650.6h.6M385.5 649.2h.6M390.8 658.1h.6M401.4 639.8h.6M420.0 653.8h.6M406.9 660.3h.6M422.3 652.3h.6M405.3 637.2h.6M418.8 656.8h.6M405.9 644.9h.6M412.5 643.6h.6M413.1 655.9h.6M431.1 653.3h.6M415.4 655.7h.6M429.8 650.4h.6M398.3 648.0h.6M397.9 647.6h.6M411.6 653.7h.6M414.9 652.3h.6M408.7 654.1h.6M423.6 655.8h.6M431.0 650.5h.6M410.0 660.5h.6M415.4 654.1h.6M409.0 656.8h.6M408.2 647.0h.6M412.3 649.8h.6M423.0 650.1h.6M414.5 650.9h.6M417.1 648.8h.6M426.3 644.9h.6M408.4 648.5h.6M420.8 652.2h.6M418.8 650.3h.6M404.4 646.4h.6M409.0 649.3h.6M416.4 653.8h.6M424.7 651.5h.6M404.0 646.7h.6M413.7 653.8h.6M436.4 652.9h.6M434.1 660.8h.6M400.4 658.1h.6M426.6 658.7h.6M412.9 656.8h.6M407.2 651.6h.6M413.2 660.9h.6M410.4 656.8h.6M413.8 648.5h.6M415.9 655.3h.6M404.5 655.2h.6M404.5 647.6h.6M415.6 650.8h.6M401.2 643.9h.6M413.3 653.2h.6M407.5 652.9h.6M394.7 654.0h.6M418.0 653.4h.6M405.6 652.4h.6M414.6 657.3h.6M416.3 653.3h.6M404.3 656.3h.6M427.1 649.5h.6M420.7 653.5h.6M412.4 645.6h.6M434.1 642.7h.6M416.6 650.1h.6M426.7 649.9h.6M413.5 655.1h.6M418.5 649.4h.6M421.2 654.0h.6M424.9 649.4h.6M412.4 650.0h.6M403.0 653.3h.6M417.9 659.1h.6M409.1 653.9h.6M426.7 651.4h.6M413.8 652.7h.6M404.7 647.1h.6M426.4 652.9h.6M412.1 645.8h.6M414.4 657.8h.6M399.2 647.6h.6M426.3 659.1h.6M431.6 649.2h.6M420.2 648.3h.6M419.2 650.2h.6M415.3 658.7h.6M417.0 650.8h.6M413.7 653.3h.6M406.9 653.0h.6M420.2 659.8h.6M388.4 646.1h.6M398.2 656.4h.6M442.1 653.0h.6M414.4 657.7h.6M383.9 651.1h.6M385.7 652.8h.6M406.9 649.6h.6M417.1 649.1h.6M426.3 652.0h.6M417.5 659.4h.6M407.7 656.6h.6M403.1 658.2h.6M424.5 652.7h.6M424.8 660.0h.6M429.4 652.0h.6M412.3 657.5h.6M395.5 649.0h.6M418.8 654.8h.6M435.1 660.7h.6M416.9 654.2h.6M397.3 651.1h.6M416.1 650.9h.6M413.7 655.0h.6M401.7 649.2h.6M391.9 657.7h.6M400.5 643.6h.6M422.2 650.9h.6M424.5 650.2h.6M438.2 655.5h.6M414.8 652.6h.6M410.6 656.0h.6M436.7 649.9h.6M400.1 655.0h.6M425.7 644.6h.6M404.8 647.1h.6M419.7 654.5h.6M404.3 646.4h.6M421.1 641.8h.6M420.6 651.2h.6M435.7 656.9h.6M406.1 650.6h.6M409.7 648.4h.6M414.0 656.8h.6M395.2 650.9h.6M430.7 655.7h.6M403.4 648.0h.6M402.9 644.1h.6M426.6 652.3h.6M404.8 644.9h.6M408.5 649.5h.6M433.3 649.7h.6M414.4 657.3h.6M420.9 651.1h.6M387.2 658.9h.6M420.1 649.9h.6M412.0 647.3h.6M402.4 644.7h.6M418.9 654.5h.6M415.1 655.8h.6M419.3 652.6h.6M402.6 654.9h.6M427.0 655.1h.6M427.7 649.7h.6M401.5 658.1h.6M406.1 653.2h.6M410.8 652.1h.6M409.8 649.4h.6M392.0 660.8h.6M415.4 642.6h.6M402.3 646.5h.6M404.3 639.5h.6M419.8 660.0h.6M410.1 655.6h.6M420.1 645.9h.6M427.3 643.7h.6M406.2 650.2h.6M427.8 652.6h.6M411.5 648.1h.6M414.1 652.2h.6M421.6 658.8h.6M421.7 652.1h.6M411.2 659.8h.6M415.4 651.9h.6M434.1 659.7h.6M419.7 651.5h.6M405.5 657.2h.6M407.7 656.7h.6M403.8 652.5h.6M417.7 652.7h.6M415.7 653.9h.6M399.8 646.6h.6M411.3 660.8h.6M411.5 647.5h.6M405.3 652.2h.6M426.9 649.2h.6M419.6 652.9h.6M408.8 647.4h.6M411.2 648.5h.6M419.3 643.4h.6M426.2 655.7h.6M419.8 659.3h.6M420.1 643.7h.6M413.6 654.2h.6M405.0 646.5h.6M418.1 654.5h.6M408.0 650.8h.6M407.1 649.2h.6M412.3 657.2h.6M394.1 650.3h.6M431.9 653.5h.6M414.8 656.1h.6M401.3 646.1h.6M393.6 644.9h.6M415.9 656.1h.6M408.1 648.7h.6M417.7 655.0h.6M416.0 642.7h.6M406.6 639.7h.6M415.8 647.9h.6M405.3 659.3h.6M428.5 654.3h.6M416.2 652.8h.6M406.2 651.8h.6M435.3 647.7h.6M405.3 652.8h.6M423.4 656.1h.6M401.7 651.4h.6M409.9 646.0h.6M413.9 649.7h.6M423.7 654.1h.6M403.9 652.4h.6M408.8 648.9h.6M407.3 657.2h.6M408.2 643.7h.6M404.0 655.9h.6M438.1 646.9h.6M408.9 650.4h.6M396.6 654.0h.6M412.4 653.4h.6M439.1 650.7h.6M422.3 656.1h.6M405.6 649.1h.6M431.2 655.5h.6M414.7 646.7h.6M423.3 654.6h.6M438.6 659.2h.6M422.4 653.3h.6M413.7 649.3h.6M416.6 653.2h.6M420.6 657.3h.6M416.6 649.4h.6M422.4 659.5h.6M403.3 654.0h.6M419.4 654.6h.6M418.9 651.6h.6M411.8 660.2h.6M433.2 645.2h.6M383.4 654.1h.6M405.1 649.5h.6M394.4 653.7h.6M412.4 649.4h.6M423.5 659.7h.6M430.2 657.7h.6M408.2 655.2h.6M412.6 657.6h.6M419.8 651.8h.6M419.4 648.5h.6M422.2 659.3h.6M408.8 654.7h.6M393.6 656.6h.6M423.2 647.0h.6M433.3 652.6h.6M392.8 645.4h.6M423.2 650.7h.6M425.9 644.5h.6M411.9 656.7h.6M405.1 655.3h.6M408.8 653.7h.6M416.8 660.2h.6M398.6 655.8h.6M428.3 646.5h.6M414.0 660.0h.6M425.2 637.6h.6M410.2 643.7h.6M416.5 648.5h.6M406.5 647.9h.6M416.4 649.7h.6M402.5 650.9h.6M417.7 647.8h.6M426.0 643.9h.6M417.8 650.1h.6M431.3 648.9h.6M405.3 645.5h.6M436.2 655.0h.6M400.4 650.4h.6M401.8 659.4h.6M417.9 642.1h.6M415.4 656.4h.6M413.0 654.3h.6M411.7 653.0h.6M415.5 648.6h.6M417.1 652.8h.6M412.6 648.7h.6M401.2 653.2h.6M422.6 640.3h.6M406.8 658.6h.6M423.7 648.5h.6M428.8 647.2h.6M403.8 660.8h.6M407.9 650.9h.6M393.8 647.1h.6M399.3 651.3h.6M391.6 657.2h.6M408.9 649.1h.6M405.6 655.6h.6M430.9 650.0h.6M431.8 659.8h.6M428.7 653.5h.6M395.6 655.3h.6M408.2 652.9h.6M391.0 650.6h.6M415.7 647.4h.6M416.4 660.1h.6M415.7 648.7h.6M440.8 641.5h.6M402.3 654.0h.6M406.1 640.8h.6M416.0 656.0h.6M403.7 659.1h.6M418.8 657.8h.6M395.2 652.0h.6M431.7 660.6h.6M428.4 652.0h.6M415.1 648.9h.6M425.8 648.6h.6M414.4 641.9h.6M395.4 660.7h.6M413.7 653.0h.6M387.3 651.8h.6M437.2 644.7h.6M385.2 651.2h.6M406.8 651.0h.6M398.3 645.4h.6M398.5 655.1h.6M412.4 656.0h.6M400.4 654.9h.6M407.8 652.4h.6M423.9 652.2h.6M408.9 643.9h.6M413.7 655.8h.6M405.6 651.7h.6M392.3 645.5h.6M417.7 658.3h.6M409.4 643.8h.6M408.5 644.3h.6M409.8 660.8h.6M416.5 651.3h.6M425.2 650.1h.6M416.9 653.0h.6M418.2 644.8h.6M421.4 656.3h.6M386.2 638.7h.6M402.5 659.3h.6M413.2 655.3h.6M419.5 656.4h.6M405.5 649.1h.6M417.4 655.0h.6M419.8 653.7h.6M407.3 657.4h.6M418.6 657.2h.6M383.0 657.0h.6M384.2 653.0h.6M405.2 652.6h.6M407.4 650.5h.6M415.3 653.7h.6M403.6 639.5h.6M403.8 654.7h.6M403.0 654.1h.6M408.6 647.4h.6M426.8 660.2h.6M411.8 651.8h.6M424.3 645.5h.6M402.7 657.6h.6M423.7 649.6h.6M403.8 653.7h.6M396.3 649.5h.6M410.3 639.8h.6M420.0 655.8h.6M425.7 644.9h.6M397.8 648.0h.6M397.5 660.5h.6M401.4 650.5h.6M415.4 654.3h.6M430.2 646.6h.6M423.5 652.7h.6M399.1 652.7h.6M396.3 660.0h.6M404.3 657.0h.6M428.5 648.9h.6M402.3 652.6h.6M400.5 656.5h.6M415.1 648.2h.6M404.8 655.6h.6M395.7 660.4h.6M403.6 651.0h.6M402.0 660.1h.6M422.8 658.5h.6M420.8 652.4h.6M433.2 655.3h.6M418.2 654.9h.6M421.8 653.4h.6M411.0 644.1h.6M437.6 645.5h.6M387.3 648.5h.6M436.1 658.1h.6M405.8 653.3h.6M412.7 642.1h.6M409.0 653.5h.6M427.0 646.0h.6M386.0 644.1h.6M417.0 652.4h.6M414.8 652.7h.6M408.6 645.2h.6M418.4 653.9h.6M419.9 658.2h.6M398.2 640.3h.6M391.6 660.2h.6M402.0 654.0h.6M412.8 655.6h.6M451.5 649.4h.6M411.0 649.0h.6M415.9 654.6h.6M401.4 658.6h.6M426.8 654.2h.6M411.7 650.8h.6M393.3 655.3h.6M401.3 649.5h.6M425.0 647.4h.6M406.7 656.3h.6M435.3 648.5h.6M426.2 648.7h.6M417.7 654.4h.6M399.3 657.1h.6M434.6 652.3h.6M416.2 646.1h.6M434.5 652.3h.6M397.7 655.8h.6M395.5 648.6h.6M387.4 658.9h.6M439.5 648.8h.6M405.2 649.1h.6M406.2 654.8h.6M430.5 647.0h.6M418.3 643.0h.6M431.3 651.6h.6M404.6 659.7h.6M411.7 658.8h.6M425.9 660.3h.6M403.4 652.3h.6M417.4 651.0h.6M431.3 648.4h.6M425.0 658.8h.6M389.6 647.2h.6M402.2 649.3h.6M417.7 651.1h.6M413.9 649.7h.6M412.0 654.4h.6M421.9 648.1h.6M411.6 648.2h.6M410.9 644.8h.6M424.5 655.4h.6M411.5 648.6h.6M407.5 648.7h.6M394.5 660.2h.6M452.5 645.9h.6M399.0 654.9h.6M420.3 644.1h.6M389.9 654.7h.6M389.1 659.1h.6M407.1 652.4h.6M413.0 649.2h.6M411.3 650.5h.6M427.9 651.5h.6M412.6 649.4h.6M405.4 648.3h.6M413.1 660.9h.6M426.4 653.2h.6M433.0 657.1h.6M415.5 651.2h.6M399.8 653.2h.6M409.2 644.1h.6M397.6 660.7h.6M415.6 654.5h.6M415.4 649.7h.6M418.5 657.4h.6M409.3 654.6h.6M425.3 649.6h.6M415.0 648.3h.6M420.2 650.2h.6M426.8 648.2h.6M433.3 650.4h.6M402.9 647.5h.6M421.0 647.7h.6M434.7 658.4h.6M419.2 644.9h.6M412.7 648.4h.6M391.3 654.1h.6M439.4 649.3h.6M422.7 658.4h.6M401.5 650.3h.6M416.2 654.4h.6M399.3 653.1h.6M411.7 656.8h.6M393.8 649.2h.6M407.0 650.4h.6M421.7 648.9h.6M445.9 648.5h.6M423.1 657.1h.6M424.6 651.0h.6M403.0 650.7h.6M421.0 652.6h.6M420.0 654.9h.6M402.4 647.3h.6M430.3 649.6h.6M394.0 660.9h.6M403.0 647.3h.6M424.6 646.3h.6M402.5 657.2h.6M403.2 659.4h.6M414.2 659.0h.6M414.6 652.3h.6M405.3 650.9h.6M407.0 651.9h.6M422.3 645.6h.6M402.0 641.5h.6M431.0 651.6h.6M412.8 651.7h.6M425.1 653.6h.6M423.2 651.2h.6M411.5 651.7h.6M390.7 657.4h.6M394.1 647.0h.6M421.1 652.3h.6M422.8 660.5h.6M435.3 658.9h.6M410.3 660.4h.6M402.4 651.6h.6M425.0 650.9h.6M411.5 650.2h.6M429.4 639.7h.6M428.3 657.3h.6M412.1 654.8h.6M401.4 657.5h.6M449.7 647.4h.6M429.8 651.7h.6M408.9 649.6h.6M410.7 645.7h.6M396.7 660.3h.6M412.8 654.8h.6M416.7 654.4h.6M394.7 647.3h.6M420.6 657.0h.6M399.3 649.1h.6M400.2 655.3h.6M417.1 652.2h.6M405.2 653.7h.6M413.4 648.3h.6M417.0 648.7h.6M424.4 655.1h.6M404.7 654.9h.6M413.8 648.5h.6M402.0 643.7h.6M399.4 653.7h.6M427.5 648.9h.6M414.9 653.7h.6M422.4 654.2h.6M427.7 655.8h.6M403.9 654.0h.6M384.9 651.1h.6M413.2 654.9h.6M409.4 656.2h.6M428.9 647.8h.6M406.5 653.3h.6M418.9 652.7h.6M423.0 646.1h.6M422.3 657.8h.6M426.3 654.1h.6M410.1 654.0h.6M412.1 644.1h.6M405.7 651.8h.6M406.8 647.3h.6M410.2 650.1h.6M413.8 651.8h.6M415.1 657.0h.6M414.6 654.0h.6M398.3 637.3h.6M408.2 655.4h.6M408.9 648.9h.6M398.1 656.5h.6M406.7 653.2h.6M426.6 654.7h.6M439.9 651.3h.6M424.5 655.5h.6M405.1 652.2h.6M406.2 646.9h.6M416.6 648.1h.6M433.2 648.3h.6M406.5 652.5h.6M406.8 652.3h.6M405.7 644.9h.6M384.0 645.6h.6M431.3 654.2h.6M414.8 649.7h.6M411.3 653.5h.6M396.3 648.0h.6M402.3 658.3h.6M400.3 657.9h.6M407.4 658.9h.6M412.1 652.2h.6M429.2 656.4h.6M424.3 646.7h.6M426.6 660.4h.6M411.8 649.6h.6M399.9 657.1h.6M416.5 652.0h.6M398.2 660.1h.6M423.5 651.9h.6M430.7 647.2h.6M423.6 647.0h.6M429.9 650.6h.6M427.7 649.9h.6M417.8 657.7h.6M402.2 652.5h.6M402.9 656.3h.6M405.8 650.1h.6M410.6 657.8h.6M400.5 651.9h.6M409.1 649.3h.6M403.6 651.2h.6M415.4 644.3h.6M415.8 646.1h.6M413.2 659.9h.6M401.4 651.7h.6M409.9 656.9h.6M407.3 643.1h.6M393.7 652.9h.6M416.0 657.3h.6M406.6 655.3h.6M400.2 658.5h.6M412.1 648.6h.6M415.1 660.7h.6M402.8 645.8h.6M400.8 646.2h.6M412.4 653.8h.6M411.0 653.0h.6M427.2 650.6h.6M398.0 640.6h.6M415.9 648.6h.6M410.0 654.0h.6M418.6 644.2h.6M401.5 652.4h.6M411.3 657.7h.6M407.0 641.7h.6M427.0 643.8h.6M401.4 653.9h.6M400.3 659.5h.6M415.9 654.7h.6M407.8 660.1h.6M419.5 648.4h.6M428.1 643.6h.6M406.0 653.4h.6M414.7 647.2h.6M432.0 659.4h.6M401.8 653.9h.6M405.4 649.8h.6M424.8 652.6h.6M411.7 652.5h.6M398.9 658.1h.6M404.0 658.5h.6M407.5 649.7h.6M430.8 653.0h.6M405.3 649.3h.6M420.3 660.8h.6M420.4 650.0h.6M399.5 648.6h.6M411.6 653.2h.6M405.1 658.4h.6M401.5 648.4h.6M419.0 654.4h.6M408.3 656.8h.6M396.1 660.2h.6M439.2 660.7h.6M414.4 660.6h.6M413.6 658.6h.6M410.6 653.0h.6M419.3 643.3h.6M410.5 660.6h.6M384.4 653.9h.6M424.1 653.6h.6M415.3 658.9h.6M417.0 642.5h.6M401.7 650.5h.6M414.7 649.8h.6M411.7 660.3h.6M384.5 657.8h.6M424.2 655.0h.6M413.2 652.3h.6M417.4 653.2h.6M404.3 655.9h.6M403.1 651.8h.6M408.7 646.2h.6M420.3 651.7h.6M399.0 651.6h.6M396.5 659.2h.6M419.2 660.6h.6M406.2 655.5h.6M401.4 647.7h.6M411.9 654.1h.6M424.1 650.7h.6M426.2 656.8h.6M402.5 651.1h.6M402.0 660.5h.6M406.4 656.4h.6M423.9 650.7h.6M407.2 653.7h.6M403.7 645.7h.6M401.4 653.7h.6M415.3 660.8h.6M391.2 654.5h.6M399.2 657.8h.6M421.3 652.6h.6M430.6 650.1h.6M406.7 646.8h.6M405.2 652.6h.6M421.0 658.4h.6M409.8 648.4h.6M409.0 649.9h.6M407.4 650.0h.6M402.6 651.7h.6M406.9 651.2h.6M396.5 652.7h.6M419.8 655.2h.6M406.5 646.3h.6M397.5 646.2h.6M405.3 650.5h.6M391.9 655.3h.6M394.7 648.6h.6M404.4 656.1h.6M434.9 650.2h.6M409.7 650.1h.6M410.6 651.2h.6M442.4 646.6h.6M411.7 648.1h.6M417.2 649.4h.6M419.8 646.6h.6M438.1 653.0h.6M392.0 655.5h.6M407.4 646.3h.6M418.2 649.4h.6M421.8 649.3h.6M423.7 652.7h.6M417.2 652.8h.6M408.7 650.2h.6M418.4 655.5h.6M408.2 660.1h.6M433.1 646.3h.6M425.9 651.7h.6M415.8 648.1h.6M432.6 647.9h.6M412.0 648.4h.6M435.9 658.2h.6M397.4 649.8h.6M417.3 649.9h.6M408.8 646.7h.6M416.0 646.6h.6M422.9 659.7h.6M409.1 660.1h.6M417.4 648.7h.6M408.9 647.3h.6M414.4 655.5h.6M424.0 650.6h.6M398.9 651.6h.6M432.8 653.4h.6M412.3 641.8h.6M407.9 654.7h.6M401.8 658.6h.6M406.3 647.7h.6M406.1 651.6h.6M424.8 649.2h.6M391.9 651.6h.6M419.2 659.6h.6M399.7 659.3h.6M421.0 654.2h.6M403.9 647.7h.6M401.7 656.6h.6M415.6 657.3h.6M434.5 652.1h.6M412.4 660.8h.6M397.6 649.8h.6M408.6 650.2h.6M414.7 647.9h.6M426.7 645.3h.6M403.4 643.7h.6M396.5 654.9h.6M420.4 651.1h.6M423.0 655.0h.6M406.2 651.8h.6M417.3 660.6h.6M407.8 653.8h.6M419.4 658.0h.6M418.0 657.3h.6M400.4 650.7h.6M390.2 651.8h.6M440.5 653.2h.6M414.1 653.3h.6M414.7 645.5h.6M404.8 651.2h.6M415.0 647.8h.6M411.8 648.4h.6M397.4 648.8h.6M403.5 656.1h.6M428.8 654.9h.6M410.5 649.3h.6M394.5 649.5h.6M431.5 657.7h.6M415.7 650.8h.6M413.1 654.1h.6M412.9 654.1h.6M403.9 652.3h.6M408.9 657.3h.6M398.4 658.4h.6M412.0 649.6h.6M413.3 652.6h.6M410.3 654.1h.6M406.2 643.8h.6M421.2 651.9h.6M432.6 653.9h.6M389.4 658.1h.6M404.9 654.7h.6M439.2 657.4h.6M400.1 651.6h.6M394.1 655.3h.6M419.6 647.0h.6M418.3 656.6h.6M422.5 648.8h.6M404.8 646.6h.6M397.8 653.6h.6M413.5 658.4h.6M416.2 650.5h.6M396.2 659.6h.6M414.9 651.9h.6M401.2 646.9h.6M420.5 647.3h.6M419.9 655.1h.6M408.5 644.1h.6M417.8 658.9h.6M403.3 645.9h.6M425.8 652.7h.6M405.7 658.0h.6M409.7 654.2h.6M408.3 648.4h.6M415.6 647.9h.6M392.1 649.4h.6M427.5 657.4h.6M438.6 656.9h.6M432.0 653.3h.6M407.9 654.3h.6M401.8 655.6h.6M407.7 653.3h.6M403.0 651.4h.6M424.5 651.0h.6M405.1 653.4h.6M423.4 651.1h.6M399.2 644.5h.6M397.2 657.2h.6M412.0 654.4h.6M425.6 653.4h.6M418.7 649.6h.6M394.0 655.1h.6M411.9 654.8h.6M400.5 651.4h.6M436.7 648.0h.6M414.2 658.4h.6M410.3 652.7h.6M387.9 655.8h.6M407.8 658.3h.6M411.9 650.3h.6M418.1 650.9h.6M406.9 659.5h.6M424.6 652.6h.6M422.5 656.0h.6M419.8 652.3h.6M413.9 654.0h.6M419.6 653.8h.6M406.5 651.7h.6M418.4 647.3h.6M412.9 655.7h.6M415.0 650.7h.6M412.7 649.7h.6M424.6 650.3h.6M393.4 646.3h.6M416.5 653.1h.6M407.5 645.8h.6M411.2 648.0h.6M405.3 652.1h.6M404.0 653.6h.6M404.3 649.8h.6M410.3 659.1h.6M431.5 656.6h.6M404.4 652.1h.6M423.7 655.9h.6M393.9 651.8h.6M404.3 655.7h.6M420.5 649.5h.6M438.2 650.7h.6M441.7 651.3h.6M412.0 660.9h.6M406.8 649.8h.6M430.3 651.9h.6M418.6 646.1h.6M434.0 656.8h.6M417.2 655.5h.6M407.1 649.8h.6M394.5 653.8h.6M427.5 656.2h.6M423.8 655.5h.6M402.2 645.8h.6M420.5 652.9h.6M424.6 650.8h.6M402.6 654.2h.6M406.5 644.3h.6M405.9 647.9h.6M399.9 649.5h.6M424.1 660.0h.6M433.3 650.1h.6M426.4 651.7h.6M417.7 648.9h.6M412.1 644.1h.6M434.0 648.4h.6M419.9 649.3h.6M416.2 646.5h.6M408.6 656.4h.6M420.0 642.8h.6M423.0 645.8h.6M416.4 654.6h.6M405.5 650.6h.6M410.1 654.0h.6M423.7 658.6h.6M416.8 660.7h.6M401.9 660.5h.6M409.9 655.7h.6M411.5 652.5h.6M402.2 653.9h.6M436.8 652.8h.6M412.8 652.1h.6M421.4 651.1h.6M413.0 653.1h.6M428.3 656.6h.6M400.6 649.1h.6M413.2 656.1h.6M424.4 651.1h.6M438.0 651.3h.6M429.5 658.8h.6M431.7 653.0h.6M419.8 644.8h.6M392.1 649.2h.6M421.5 657.1h.6M411.8 657.0h.6M419.8 659.3h.6M394.3 648.1h.6M401.8 647.1h.6M432.4 647.7h.6M403.3 650.2h.6M423.4 649.9h.6M421.7 654.7h.6M405.5 640.9h.6M402.2 646.2h.6M432.2 648.7h.6M400.4 653.9h.6M413.6 647.6h.6M425.9 656.4h.6M416.3 648.5h.6M402.7 642.3h.6M417.5 653.9h.6M402.2 652.2h.6M451.5 646.7h.6M392.9 655.0h.6M408.0 649.7h.6M420.3 651.5h.6M424.7 654.5h.6M426.7 652.6h.6M387.6 658.5h.6M393.0 657.0h.6M416.0 645.5h.6M413.8 656.3h.6M401.0 652.3h.6M404.3 647.3h.6M405.7 658.1h.6M421.1 651.9h.6M412.0 652.7h.6M416.4 652.9h.6M392.8 656.4h.6M402.9 639.7h.6M421.3 646.3h.6M411.3 651.6h.6M406.0 654.6h.6M409.8 650.7h.6M401.8 650.7h.6M400.8 652.3h.6M428.6 656.9h.6M418.0 645.6h.6M425.1 656.5h.6M437.3 641.4h.6M413.2 650.5h.6M425.8 646.9h.6M408.5 660.1h.6M424.7 642.6h.6M413.2 658.6h.6M405.7 654.9h.6M414.2 645.1h.6M405.6 657.4h.6M427.0 649.2h.6M426.3 648.7h.6M415.9 651.9h.6M398.3 653.6h.6M408.4 639.0h.6M403.2 648.0h.6M403.1 647.4h.6M404.9 640.4h.6M423.5 652.4h.6M416.0 650.8h.6M413.8 650.8h.6M400.1 644.8h.6M413.9 656.9h.6M415.8 659.7h.6M396.9 650.8h.6M405.7 657.9h.6M433.0 649.5h.6M421.6 650.9h.6M401.2 651.5h.6M400.7 659.4h.6M420.0 657.7h.6M417.2 640.4h.6M422.5 652.5h.6M384.9 652.5h.6M424.9 660.2h.6M400.9 655.8h.6M416.9 651.2h.6M409.7 654.6h.6M419.8 655.2h.6M408.2 645.7h.6M428.6 658.2h.6M406.3 651.9h.6M422.5 643.6h.6M418.9 659.8h.6M416.2 648.6h.6M437.1 652.1h.6M415.5 650.0h.6M415.1 643.4h.6M397.9 645.0h.6M423.6 651.6h.6M426.6 642.3h.6M405.9 659.0h.6M403.7 643.1h.6M404.2 650.4h.6M412.8 658.3h.6M428.7 659.4h.6M419.9 649.6h.6M407.2 644.9h.6M428.0 658.0h.6M414.1 647.7h.6M421.0 654.4h.6M414.8 646.4h.6M415.8 649.3h.6M421.7 654.9h.6M418.2 650.0h.6M431.0 655.7h.6M428.0 656.0h.6M420.8 653.9h.6M400.4 643.3h.6M402.0 655.0h.6M423.7 652.9h.6M414.1 660.8h.6M408.3 643.5h.6M394.8 650.5h.6M421.3 655.5h.6M410.4 655.9h.6M412.4 648.5h.6M408.5 655.6h.6M424.2 646.6h.6M401.4 652.6h.6M438.0 646.4h.6M398.2 654.0h.6M419.0 649.1h.6M412.7 654.3h.6M392.5 651.9h.6M420.1 656.4h.6M426.7 651.7h.6M396.0 658.4h.6M422.1 649.0h.6M425.2 657.0h.6M411.4 640.7h.6M407.5 648.4h.6M403.2 651.6h.6M400.3 653.9h.6M435.2 646.3h.6M425.2 649.5h.6M419.4 651.4h.6M428.1 648.6h.6M421.6 648.3h.6M415.7 651.9h.6M425.8 644.4h.6M397.1 658.7h.6M417.5 660.1h.6M400.9 653.0h.6M420.1 660.5h.6M412.4 649.9h.6M421.4 651.5h.6M404.2 655.7h.6M390.6 647.1h.6M429.0 649.6h.6M409.2 653.8h.6M426.2 654.5h.6M401.7 649.3h.6M425.3 651.4h.6M405.6 656.2h.6M426.4 660.4h.6M400.4 648.6h.6M404.9 653.7h.6M407.4 657.3h.6M382.3 656.6h.6M405.5 650.7h.6M419.7 653.0h.6M401.1 659.2h.6M419.8 649.6h.6M415.5 646.7h.6M398.6 650.6h.6M417.3 652.5h.6M403.9 645.4h.6M393.3 659.7h.6M417.3 648.2h.6M426.9 654.6h.6M408.2 649.1h.6M426.3 653.6h.6M432.2 653.7h.6M406.2 649.1h.6M404.8 653.2h.6M416.0 654.9h.6M418.3 647.0h.6M410.6 647.5h.6M418.6 645.7h.6M406.2 647.9h.6M405.8 650.8h.6M430.7 650.8h.6M396.2 650.6h.6M421.8 654.7h.6M415.8 660.8h.6M426.0 652.4h.6M427.2 645.6h.6M411.0 647.8h.6M415.1 659.8h.6M407.2 659.6h.6M401.1 658.8h.6M393.2 647.9h.6M424.7 651.6h.6M414.7 651.9h.6M415.1 651.1h.6M401.6 650.6h.6M414.3 647.7h.6M418.5 660.5h.6M393.9 649.4h.6M409.7 652.1h.6M414.1 648.5h.6M412.6 652.0h.6M412.0 659.4h.6M414.5 644.9h.6M394.7 654.8h.6M409.0 649.0h.6M397.2 650.5h.6M411.9 648.7h.6M408.9 656.3h.6M422.2 654.6h.6M411.0 645.5h.6M422.1 659.2h.6M427.9 657.6h.6M416.2 653.8h.6M412.8 658.0h.6M409.9 660.4h.6M422.1 650.5h.6M413.0 644.3h.6M404.5 650.6h.6M441.6 648.1h.6M423.7 652.4h.6M409.6 655.0h.6M389.8 656.5h.6M435.6 653.4h.6M412.3 652.8h.6M420.7 649.7h.6M414.4 654.4h.6M408.9 653.9h.6M416.9 655.4h.6M401.5 649.4h.6M408.0 657.7h.6M415.9 644.1h.6M398.1 660.9h.6M417.0 645.8h.6M402.4 652.7h.6M429.6 659.8h.6M408.8 650.6h.6M435.4 647.3h.6M431.2 653.6h.6M414.1 658.2h.6M418.6 648.0h.6M395.2 652.1h.6M419.0 658.6h.6M382.6 658.4h.6M420.2 659.3h.6M422.3 653.0h.6M418.0 653.9h.6M405.7 651.5h.6M414.5 649.8h.6M395.9 645.1h.6M418.9 654.5h.6M414.3 646.4h.6M422.9 650.1h.6M388.8 659.5h.6M395.6 660.2h.6M419.2 649.9h.6M385.6 648.6h.6M430.3 658.5h.6M416.0 643.8h.6M408.6 650.6h.6M418.4 651.4h.6M417.0 644.2h.6M405.5 658.9h.6M396.1 656.4h.6M439.9 655.1h.6M396.8 658.0h.6M391.4 653.6h.6M408.2 658.0h.6M426.7 652.9h.6M433.9 656.7h.6M407.4 647.3h.6M441.7 650.1h.6M417.8 651.4h.6M407.5 644.3h.6M411.3 651.4h.6M424.4 649.5h.6M394.8 646.8h.6M412.5 653.2h.6M421.4 650.2h.6M419.3 652.7h.6M432.7 651.7h.6M414.7 654.7h.6M427.2 647.6h.6M407.5 650.7h.6M388.2 658.3h.6M425.5 652.1h.6M452.2 658.1h.6M436.6 659.6h.6M423.6 645.2h.6M430.9 654.0h.6M399.1 652.3h.6M421.8 656.7h.6M415.0 649.5h.6M421.9 648.3h.6M412.1 655.7h.6M396.2 653.8h.6M390.2 647.5h.6M398.7 651.6h.6M421.3 651.8h.6M423.7 652.5h.6M410.6 654.4h.6M410.2 652.7h.6M425.1 649.3h.6M426.4 646.7h.6M410.4 643.6h.6M406.8 659.7h.6M417.2 658.1h.6M395.9 647.1h.6M418.4 656.0h.6M422.8 643.9h.6M419.0 651.7h.6M414.4 654.3h.6M409.7 643.8h.6M400.5 645.0h.6M397.7 651.4h.6M428.3 648.6h.6M404.1 646.5h.6M392.8 652.3h.6M407.3 650.8h.6M401.8 654.3h.6M399.0 654.6h.6M405.3 655.8h.6M402.6 654.1h.6M418.1 651.6h.6M432.1 652.8h.6M402.6 655.3h.6M403.4 649.4h.6M413.1 652.9h.6M421.3 615.8h.6M400.2 640.8h.6M401.3 633.8h.6M419.3 620.3h.6M403.5 637.9h.6M396.7 615.8h.6M392.3 632.7h.6M405.0 647.0h.6M417.2 617.6h.6M414.1 639.0h.6M420.4 629.7h.6M397.0 632.3h.6M419.6 636.4h.6M421.2 637.8h.6M396.7 622.2h.6M422.8 617.8h.6M399.3 628.2h.6M393.2 626.0h.6M403.1 651.7h.6M402.3 626.4h.6M404.3 639.2h.6M394.3 627.5h.6M384.3 637.1h.6M410.3 644.1h.6M390.2 649.9h.6M412.4 628.6h.6M398.8 628.3h.6M390.0 637.7h.6M396.5 624.7h.6M408.5 632.0h.6M396.7 629.0h.6M397.7 642.7h.6M413.7 624.7h.6M402.6 642.9h.6M399.9 646.5h.6M407.8 636.8h.6M382.8 638.4h.6M406.6 636.1h.6M408.2 635.6h.6M397.6 638.8h.6M403.7 621.9h.6M392.1 632.4h.6M406.6 611.8h.6M382.7 640.2h.6M402.9 655.8h.6M386.6 628.8h.6M396.6 635.9h.6M418.1 645.1h.6M392.2 641.8h.6M390.0 633.7h.6M404.8 636.4h.6M394.4 642.7h.6M402.3 630.8h.6M400.1 621.7h.6M410.7 633.9h.6M407.9 647.3h.6M393.7 628.5h.6M403.1 638.5h.6M401.1 639.2h.6M407.9 615.7h.6M395.7 613.3h.6M399.9 627.4h.6M409.3 632.5h.6M402.3 642.0h.6M409.4 620.3h.6M395.6 633.9h.6M421.3 629.3h.6M401.2 633.3h.6M411.4 630.2h.6M406.2 627.3h.6M397.1 624.1h.6M410.1 626.1h.6M408.9 634.5h.6M413.5 607.6h.6M392.6 620.3h.6M401.2 638.0h.6M430.2 644.5h.6M417.6 634.3h.6M398.8 635.7h.6M383.4 639.1h.6M403.1 636.4h.6M391.9 621.4h.6M396.1 630.6h.6M406.8 627.9h.6M406.8 636.9h.6M390.5 630.1h.6M386.3 626.2h.6M412.7 624.8h.6M423.0 635.4h.6M412.6 631.9h.6M412.3 640.6h.6M404.2 626.4h.6M397.1 647.9h.6M401.0 627.0h.6M395.4 616.3h.6M397.6 633.8h.6M397.8 624.4h.6M407.4 635.0h.6M398.3 633.7h.6M392.5 638.5h.6M392.4 628.1h.6M404.5 627.3h.6M390.7 649.4h.6M419.3 615.7h.6M404.3 619.9h.6M406.4 619.6h.6M409.2 635.7h.6M421.4 641.5h.6M398.1 639.3h.6M398.1 630.0h.6M397.6 615.6h.6M409.5 613.2h.6M400.5 635.6h.6M404.2 617.2h.6M396.0 637.0h.6M414.8 645.0h.6M383.5 635.0h.6M397.8 637.7h.6M384.9 629.8h.6M410.6 625.4h.6M399.1 622.4h.6M415.0 619.4h.6M393.2 628.1h.6M399.6 649.5h.6M406.0 623.7h.6M409.2 634.0h.6M406.0 630.4h.6M408.0 620.7h.6M390.1 627.3h.6M391.1 637.1h.6M423.9 641.8h.6M407.8 634.0h.6M395.6 619.6h.6M408.9 618.0h.6M406.2 629.8h.6M411.1 631.4h.6M404.1 625.9h.6M384.5 628.0h.6M410.5 640.2h.6M417.8 622.3h.6M392.9 637.1h.6M398.1 653.5h.6M406.4 617.7h.6M397.0 644.8h.6M383.4 632.3h.6M388.1 645.0h.6M398.2 622.0h.6M384.6 624.8h.6M385.9 626.8h.6M426.4 631.9h.6M400.1 620.8h.6M406.7 626.9h.6M393.9 643.1h.6M407.7 623.2h.6M418.9 630.5h.6M408.4 632.3h.6M415.7 636.4h.6M399.3 637.3h.6M398.8 632.2h.6M420.6 621.7h.6M391.9 627.5h.6M397.6 642.4h.6M385.9 651.1h.6M420.0 627.1h.6M405.0 627.8h.6M410.2 636.8h.6M411.1 637.7h.6M423.8 629.5h.6M410.5 629.4h.6M403.4 632.9h.6M402.4 634.0h.6M393.8 629.7h.6M396.5 620.8h.6M395.4 626.6h.6M401.4 617.3h.6M400.2 621.1h.6M394.2 632.7h.6M414.9 633.5h.6M397.7 627.1h.6M417.4 616.7h.6M415.3 617.8h.6M396.2 631.4h.6M400.6 645.6h.6M408.3 630.6h.6M413.3 631.3h.6M394.3 640.9h.6M419.1 642.2h.6M390.4 647.7h.6M398.5 637.7h.6M415.8 651.9h.6M385.6 622.0h.6M415.7 635.3h.6M399.6 605.3h.6M407.7 629.4h.6M386.3 654.5h.6M385.6 626.1h.6M402.9 633.0h.6M411.1 628.7h.6M393.3 627.8h.6M383.0 621.2h.6M424.3 625.0h.6M402.1 647.7h.6M414.3 632.1h.6M410.9 628.6h.6M393.2 639.8h.6M404.4 645.1h.6M400.2 627.7h.6M406.7 629.3h.6M399.6 623.1h.6M405.7 633.8h.6M422.7 630.8h.6M384.1 635.1h.6M427.7 627.1h.6M394.4 629.5h.6M387.9 628.1h.6M401.0 617.7h.6M409.2 623.3h.6M383.1 624.7h.6M409.8 647.9h.6M416.5 632.7h.6M397.5 628.7h.6M413.4 626.4h.6M407.5 639.5h.6M393.2 625.8h.6M407.8 631.1h.6M401.7 626.3h.6M402.3 647.3h.6M417.7 616.8h.6M403.5 631.8h.6M403.4 618.8h.6M401.6 632.3h.6M395.6 633.8h.6M385.2 617.7h.6M404.1 634.4h.6M401.2 627.0h.6M405.0 640.5h.6M412.7 630.3h.6M398.0 640.4h.6M408.8 638.8h.6M400.0 623.4h.6M405.0 625.5h.6M415.4 638.5h.6M383.5 636.9h.6M417.4 640.1h.6M397.9 623.4h.6M413.5 639.9h.6M403.6 620.8h.6M386.5 633.4h.6M394.1 625.0h.6M407.8 640.2h.6M382.8 625.1h.6M417.0 630.6h.6M399.3 636.6h.6M390.7 620.2h.6M403.2 644.8h.6M414.0 631.0h.6M413.9 627.4h.6M390.3 616.2h.6M405.9 638.9h.6M407.0 630.7h.6M398.7 640.6h.6M402.5 618.3h.6M417.8 625.3h.6M407.2 631.0h.6M414.4 633.2h.6M416.2 632.9h.6M398.0 626.5h.6M410.0 623.7h.6M413.0 628.9h.6M393.0 623.3h.6M401.4 646.6h.6M411.3 631.2h.6M393.2 647.8h.6M400.0 631.0h.6M398.4 642.8h.6M404.9 627.0h.6M405.0 622.2h.6M391.6 629.6h.6M388.1 641.4h.6M424.5 621.2h.6M401.5 617.1h.6M404.9 632.9h.6M411.0 619.2h.6M396.5 625.3h.6M400.3 651.2h.6M400.8 630.6h.6M397.5 638.0h.6M430.7 641.3h.6M419.6 621.5h.6M414.4 631.2h.6M416.5 640.3h.6M410.1 616.2h.6M404.4 626.6h.6M407.8 631.3h.6M414.3 616.9h.6M395.0 630.3h.6M406.5 627.4h.6M402.7 631.5h.6M414.3 630.0h.6M405.6 615.0h.6M386.4 618.1h.6M406.9 610.6h.6M407.4 630.2h.6M403.0 624.6h.6M398.5 638.3h.6M406.9 630.8h.6M397.7 632.9h.6M415.9 630.8h.6M399.0 620.6h.6M404.1 622.9h.6M387.5 638.7h.6M396.3 613.0h.6M395.2 647.3h.6M401.8 619.3h.6M391.1 637.4h.6M407.4 632.9h.6M400.9 635.3h.6M419.7 635.3h.6M401.2 618.6h.6M407.8 644.9h.6M410.0 619.9h.6M405.0 642.5h.6M396.1 635.4h.6M416.1 645.5h.6M385.8 615.6h.6M407.1 637.2h.6M399.2 630.8h.6M398.6 641.6h.6M383.8 633.3h.6M389.1 625.0h.6M386.4 623.0h.6M402.7 631.2h.6M422.4 629.0h.6M406.7 634.1h.6M405.8 644.0h.6M404.5 632.3h.6M401.8 631.0h.6M402.4 639.8h.6M403.2 631.6h.6M402.5 637.7h.6M397.9 639.3h.6M396.8 637.1h.6M423.8 633.1h.6M402.1 620.5h.6M411.0 631.1h.6M412.9 625.2h.6M408.6 647.0h.6M407.4 628.1h.6M388.9 630.9h.6M410.1 636.3h.6M390.9 621.9h.6M392.4 622.0h.6M400.0 633.4h.6M423.9 632.7h.6M418.8 616.3h.6M419.7 638.1h.6M407.8 638.3h.6M409.7 648.0h.6M411.7 615.6h.6M384.0 645.3h.6M402.1 642.7h.6M399.3 625.2h.6M399.3 633.8h.6M405.0 625.5h.6M408.8 636.5h.6M393.0 621.1h.6M382.2 628.3h.6M403.1 624.8h.6M396.5 629.8h.6M403.3 636.1h.6M412.0 634.9h.6M415.2 622.4h.6M409.6 634.3h.6M391.7 625.0h.6M407.8 631.7h.6M389.3 626.1h.6M419.6 638.5h.6M403.9 643.0h.6M393.1 629.5h.6M413.4 628.0h.6M390.9 636.2h.6M420.4 608.4h.6M404.7 619.9h.6M399.8 618.4h.6M431.3 625.0h.6M403.5 624.7h.6M392.2 627.0h.6M405.3 646.6h.6M406.1 644.9h.6M391.4 631.6h.6M398.2 617.1h.6M443.5 628.8h.6M405.7 624.3h.6M396.7 621.8h.6M414.1 627.4h.6M401.4 632.6h.6M389.7 633.1h.6M401.1 635.0h.6M398.8 631.3h.6M408.6 639.6h.6M395.5 639.6h.6M392.3 629.3h.6M404.4 632.3h.6M385.7 622.3h.6M401.0 639.2h.6M395.3 644.4h.6M383.4 631.7h.6M408.9 631.2h.6M405.9 639.3h.6M394.2 636.2h.6M414.6 628.9h.6M384.5 620.4h.6M393.7 621.6h.6M407.7 623.8h.6M430.0 636.1h.6M388.8 628.5h.6M419.6 637.0h.6M391.9 640.2h.6M397.8 650.7h.6M397.0 636.3h.6M409.1 627.0h.6M401.3 641.3h.6M408.4 630.5h.6M407.8 646.5h.6M413.1 635.2h.6M406.6 617.1h.6M404.5 626.7h.6M411.0 625.6h.6M407.9 621.6h.6M412.7 624.5h.6M402.7 636.1h.6M399.5 631.1h.6M414.5 646.7h.6M383.4 623.0h.6M410.3 639.4h.6M397.8 631.8h.6M400.9 651.2h.6M400.8 620.4h.6M386.1 619.6h.6M417.2 627.5h.6M424.2 636.7h.6M407.2 636.7h.6M411.6 639.2h.6M392.4 626.0h.6M397.0 631.9h.6M400.3 620.0h.6M395.5 646.9h.6M426.1 623.4h.6M407.1 630.7h.6M393.8 637.3h.6M402.2 645.8h.6M408.0 628.2h.6M386.7 630.1h.6M412.2 624.7h.6M412.6 637.1h.6M383.8 629.3h.6M406.5 637.7h.6M404.7 630.9h.6M399.2 628.4h.6M403.0 621.6h.6M410.0 628.1h.6M408.7 626.5h.6M407.5 632.1h.6M412.7 635.1h.6M413.1 629.5h.6M402.4 628.7h.6M389.4 629.9h.6M414.8 637.8h.6M393.8 633.7h.6M411.2 618.9h.6M406.8 633.9h.6M411.1 633.3h.6M384.1 613.1h.6M424.6 627.5h.6M416.8 642.2h.6M404.0 620.8h.6M417.9 630.7h.6M408.6 635.2h.6M413.4 640.0h.6M387.6 618.5h.6M404.5 631.1h.6M411.5 629.8h.6M401.0 649.0h.6M417.9 641.3h.6M414.3 624.0h.6M402.1 630.4h.6M391.1 623.3h.6M404.7 620.2h.6M408.9 635.2h.6M400.4 628.0h.6M409.5 635.3h.6M407.0 620.2h.6M385.4 649.2h.6M395.9 627.8h.6M383.2 623.9h.6M395.0 638.1h.6M386.6 618.6h.6M398.5 626.6h.6M394.6 627.1h.6M385.9 633.4h.6M416.0 632.4h.6M397.2 642.2h.6M408.3 621.9h.6M396.8 625.6h.6M402.5 641.7h.6M395.3 629.7h.6M404.2 620.5h.6M397.8 636.4h.6M415.3 614.4h.6M410.7 628.4h.6M417.0 636.5h.6M424.4 633.7h.6M398.7 623.6h.6M387.4 635.9h.6M408.6 638.2h.6M406.8 617.8h.6M398.6 628.9h.6M404.7 637.8h.6M418.4 633.5h.6M382.9 622.0h.6M383.3 624.2h.6M390.0 633.1h.6M400.6 640.9h.6M414.7 627.0h.6M413.3 631.1h.6M408.0 642.9h.6M390.5 630.4h.6M419.7 624.3h.6M405.3 632.2h.6M398.5 619.4h.6M395.5 622.3h.6M414.8 633.2h.6M410.6 620.5h.6M408.5 632.3h.6M414.4 624.6h.6M411.8 643.1h.6M422.6 622.8h.6M390.8 618.1h.6M413.5 636.3h.6M406.7 623.4h.6M416.6 645.2h.6M402.6 629.9h.6M415.9 635.5h.6M417.6 627.4h.6M406.7 628.0h.6M396.8 628.4h.6M399.9 635.5h.6M399.7 631.6h.6M394.2 620.2h.6M418.5 622.3h.6M422.7 639.3h.6M384.3 625.4h.6M398.5 631.2h.6M401.1 625.7h.6M416.6 629.9h.6M413.5 625.0h.6M395.5 642.8h.6M399.9 621.3h.6M401.2 640.3h.6M401.3 624.7h.6M409.9 639.7h.6M400.8 628.2h.6M399.0 654.8h.6M401.0 646.4h.6M401.4 634.6h.6M382.7 632.6h.6M403.6 628.2h.6M398.6 619.0h.6M386.8 632.5h.6M396.1 630.2h.6M401.1 626.5h.6M395.1 647.4h.6M391.0 626.5h.6M399.8 620.8h.6M392.6 638.6h.6M413.1 632.2h.6M438.2 638.3h.6M416.4 623.8h.6M414.8 645.8h.6M398.9 646.9h.6M394.3 621.0h.6M402.5 623.9h.6M409.9 621.3h.6M403.9 613.8h.6M402.7 640.3h.6M400.2 633.8h.6M414.9 621.4h.6M389.2 631.7h.6M406.0 628.7h.6M392.5 641.7h.6M390.4 628.7h.6M402.6 637.4h.6M398.2 623.8h.6M424.9 623.6h.6M411.7 629.7h.6M397.9 630.6h.6M400.3 633.7h.6M386.0 630.8h.6M403.8 622.5h.6M398.8 651.6h.6M423.1 636.6h.6M405.6 628.3h.6M418.1 627.1h.6M394.1 637.1h.6M392.5 624.1h.6M418.8 616.9h.6M402.3 632.1h.6M405.8 618.2h.6M400.6 628.1h.6M423.9 639.8h.6M394.8 638.7h.6M410.1 630.0h.6M400.4 628.6h.6M386.3 625.5h.6M413.2 643.7h.6M423.2 627.7h.6M409.7 609.9h.6M400.1 619.9h.6M412.0 616.4h.6M391.7 621.3h.6M407.3 638.4h.6M393.1 646.8h.6M404.8 623.7h.6M406.8 630.9h.6M412.1 634.0h.6M426.8 641.3h.6M396.1 637.9h.6M411.3 622.2h.6M394.9 623.9h.6M385.5 636.6h.6M400.7 641.8h.6M397.0 631.7h.6M410.9 639.5h.6M406.5 621.9h.6M427.0 638.6h.6M417.8 645.2h.6M418.3 634.7h.6M408.2 636.6h.6M386.7 638.1h.6M392.5 634.7h.6M392.1 637.3h.6M397.8 652.8h.6M405.1 635.5h.6M393.2 628.5h.6M402.4 628.5h.6M398.3 623.3h.6M411.3 627.6h.6M394.2 634.2h.6M394.3 629.5h.6M397.5 622.9h.6M400.6 623.8h.6M389.5 634.1h.6M399.9 618.2h.6M398.8 632.6h.6M407.7 634.3h.6M405.8 636.2h.6M397.7 624.0h.6M409.7 627.4h.6M403.2 636.7h.6M413.3 641.7h.6M395.6 627.8h.6M409.1 618.5h.6M389.4 636.3h.6M396.4 622.9h.6M411.8 635.7h.6M413.0 628.1h.6M400.0 628.0h.6M406.3 613.2h.6M395.6 637.2h.6M394.6 630.4h.6M404.4 635.6h.6M397.9 621.1h.6M430.1 624.7h.6M421.6 615.6h.6M404.3 629.3h.6M423.6 648.9h.6M413.7 622.1h.6M394.4 624.4h.6M397.5 633.3h.6M394.6 628.9h.6M419.0 643.6h.6M382.9 622.7h.6M399.1 642.4h.6M399.5 647.7h.6M407.0 643.6h.6M393.8 628.3h.6M414.1 636.0h.6M382.9 628.6h.6M405.0 636.5h.6M396.2 646.2h.6M404.7 643.7h.6M407.5 631.7h.6M399.7 620.8h.6M412.5 637.6h.6M413.2 627.7h.6M392.2 627.7h.6M399.7 630.9h.6M413.7 623.0h.6M397.8 637.0h.6M412.9 650.3h.6M408.8 623.6h.6M391.9 624.1h.6M403.9 633.2h.6M402.4 625.7h.6M401.1 630.3h.6M409.5 631.7h.6M394.4 620.8h.6M419.1 630.3h.6M401.2 630.8h.6M415.3 628.3h.6M405.0 628.9h.6M409.4 622.2h.6M405.3 640.0h.6M415.9 636.4h.6M406.3 644.7h.6M410.8 643.2h.6M390.2 621.4h.6M411.8 628.7h.6M398.5 622.7h.6M419.2 620.6h.6M404.3 618.9h.6M401.3 650.6h.6M429.4 626.7h.6M392.2 645.2h.6M393.9 615.5h.6M406.9 621.6h.6M387.5 640.8h.6M395.3 621.7h.6M405.0 629.4h.6M415.3 631.8h.6M420.3 640.9h.6M422.3 640.8h.6M403.9 635.8h.6M403.4 617.5h.6M390.5 637.5h.6M384.6 623.8h.6M389.3 630.5h.6M392.0 633.2h.6M401.0 626.9h.6M394.0 611.7h.6M404.0 619.8h.6M400.0 634.2h.6M414.5 637.1h.6M419.1 618.7h.6M410.4 644.7h.6M407.4 621.4h.6M407.4 626.5h.6M396.2 640.3h.6M401.3 621.3h.6M395.9 648.1h.6M394.1 636.9h.6M405.1 641.2h.6M400.2 622.8h.6M396.3 622.1h.6M431.1 632.7h.6M399.7 642.0h.6M410.2 629.4h.6M409.9 633.4h.6M415.3 645.4h.6M399.8 630.7h.6M401.2 641.7h.6M407.3 637.8h.6M412.8 625.5h.6M404.6 643.1h.6M413.1 638.1h.6M400.2 627.9h.6M394.0 628.7h.6M402.5 618.6h.6M415.7 624.4h.6M405.9 636.3h.6M397.3 615.3h.6M413.6 634.6h.6M400.5 640.9h.6M412.8 622.7h.6M402.3 615.7h.6M400.4 643.3h.6M394.2 638.2h.6M387.0 628.5h.6M413.3 646.0h.6M408.1 637.6h.6M421.6 609.8h.6M384.8 647.5h.6M429.7 636.2h.6M403.9 633.3h.6M403.5 625.7h.6M403.0 629.9h.6M410.4 636.9h.6M413.7 636.1h.6M392.8 643.1h.6M386.5 632.0h.6M406.7 626.4h.6M423.3 621.5h.6M390.6 626.6h.6M407.7 637.9h.6M404.4 636.8h.6M395.7 625.8h.6M404.6 619.3h.6M405.2 627.6h.6M410.5 622.2h.6M397.5 626.1h.6M399.3 622.3h.6M400.4 619.3h.6M408.9 636.9h.6M403.0 629.4h.6M393.7 622.7h.6M400.8 623.2h.6M390.6 632.5h.6M403.0 627.5h.6M394.5 630.6h.6M395.8 627.3h.6M405.2 637.3h.6M411.3 625.7h.6M416.1 621.0h.6M401.3 642.4h.6M428.5 632.1h.6M399.3 627.8h.6M390.2 629.8h.6M398.7 624.5h.6M416.0 624.3h.6M421.2 638.3h.6M410.0 625.9h.6M397.8 613.7h.6M406.1 628.7h.6M407.3 625.2h.6M408.4 618.0h.6M383.3 635.2h.6M414.6 603.7h.6M416.9 628.0h.6M401.4 617.6h.6M392.5 637.2h.6M395.3 630.7h.6M401.5 648.3h.6M412.7 619.5h.6M398.1 621.0h.6M388.4 625.1h.6M414.9 631.4h.6M410.3 629.8h.6M398.7 631.7h.6M402.4 647.8h.6M422.3 634.3h.6M409.6 613.7h.6M401.9 651.8h.6M394.7 638.1h.6M416.1 627.6h.6M400.8 627.1h.6M411.6 631.2h.6M419.1 641.3h.6M403.1 653.6h.6M399.9 625.7h.6M400.6 623.4h.6M398.7 630.4h.6M412.6 617.3h.6M388.3 624.3h.6M399.9 635.0h.6M394.8 644.2h.6M397.5 629.1h.6M403.7 641.2h.6M406.3 631.2h.6M397.4 632.5h.6M407.4 628.0h.6M402.9 615.0h.6M397.5 641.3h.6M418.2 630.4h.6M383.1 647.0h.6M401.3 653.4h.6M398.8 639.8h.6M396.6 643.0h.6M415.4 621.7h.6M416.9 655.9h.6M400.8 620.5h.6M406.1 627.5h.6M387.2 621.9h.6M405.7 617.7h.6M414.6 634.9h.6M401.2 643.2h.6M393.3 637.0h.6M388.8 628.2h.6M409.9 626.3h.6M401.9 636.7h.6M419.3 642.4h.6M408.0 628.7h.6M387.8 646.0h.6M423.0 612.2h.6M412.3 630.6h.6M410.6 633.8h.6M401.1 631.0h.6M402.7 641.2h.6M400.3 626.3h.6M410.0 636.6h.6M407.7 633.5h.6M418.7 640.7h.6M405.4 629.2h.6M410.1 614.7h.6M397.6 624.8h.6M404.9 627.6h.6M429.2 637.5h.6M407.4 650.7h.6M403.1 628.2h.6M416.1 638.3h.6M412.9 641.6h.6M399.3 625.2h.6M395.5 631.9h.6M413.7 621.8h.6M397.5 619.3h.6M424.3 638.0h.6M405.4 620.4h.6M392.2 625.4h.6M403.5 619.9h.6M400.7 641.7h.6M403.2 631.9h.6M382.6 628.6h.6M401.6 624.9h.6M388.5 630.4h.6M392.3 626.2h.6M386.2 630.2h.6M412.7 623.6h.6M406.5 617.7h.6M409.2 635.8h.6M399.0 638.8h.6M393.8 631.4h.6M420.9 630.8h.6M391.2 641.1h.6M408.8 628.6h.6M383.9 614.5h.6M387.0 644.0h.6M406.2 623.5h.6M415.3 643.8h.6M394.2 635.2h.6M385.7 634.3h.6M422.3 618.6h.6M403.7 625.4h.6M402.1 631.8h.6M406.1 638.8h.6M408.5 640.2h.6M413.8 640.6h.6M396.0 634.6h.6M399.2 623.6h.6M423.8 633.6h.6M403.6 612.5h.6M400.7 637.8h.6M401.0 626.2h.6M418.7 628.3h.6M399.6 630.1h.6M400.6 640.2h.6M409.1 630.4h.6M399.3 629.0h.6M420.9 628.3h.6M410.0 617.2h.6M406.5 637.0h.6M416.5 633.8h.6M409.2 633.8h.6M414.4 649.0h.6M405.2 623.8h.6M409.4 630.0h.6M409.8 637.8h.6M404.7 627.1h.6M406.3 620.1h.6M406.0 623.2h.6M407.8 632.1h.6M400.8 620.4h.6M403.6 625.0h.6M401.6 637.1h.6M413.1 619.7h.6M413.0 643.0h.6M415.0 633.4h.6M402.2 646.3h.6M399.7 617.6h.6M404.1 633.5h.6M392.2 620.3h.6M424.0 632.0h.6M411.3 625.9h.6M387.2 629.4h.6M417.2 625.1h.6M384.3 629.5h.6M400.2 631.1h.6M392.1 628.3h.6M397.4 638.8h.6M404.7 638.7h.6M402.6 612.3h.6M382.5 635.7h.6M412.3 638.7h.6M402.3 615.3h.6M397.9 634.6h.6M417.6 628.0h.6M397.2 624.2h.6M413.8 638.6h.6M383.9 641.7h.6M393.4 618.1h.6M386.3 624.6h.6M427.5 653.4h.6M390.0 625.1h.6M404.8 634.7h.6M398.1 617.1h.6M398.8 625.0h.6M384.3 632.3h.6M387.7 615.7h.6M419.1 639.3h.6M418.4 632.0h.6M398.8 630.2h.6M388.7 637.5h.6M406.0 628.3h.6M383.4 630.0h.6M420.3 643.7h.6M412.3 627.9h.6M404.6 635.9h.6M405.2 640.2h.6M396.1 610.6h.6M384.6 623.0h.6M388.6 636.8h.6M414.5 631.0h.6M408.8 631.7h.6M405.0 626.9h.6M398.9 641.5h.6M400.3 630.6h.6M415.7 639.7h.6M399.0 633.2h.6M392.5 632.2h.6M406.4 631.0h.6M404.8 634.2h.6M385.3 623.8h.6M403.9 626.7h.6M393.0 628.9h.6M420.1 629.0h.6M396.3 626.8h.6M390.6 635.3h.6M392.7 639.0h.6M412.7 636.0h.6M414.1 630.3h.6M384.6 630.4h.6M409.9 617.4h.6M390.3 640.6h.6M407.7 642.9h.6M410.2 631.6h.6M407.6 638.5h.6M402.8 629.2h.6M406.4 628.2h.6M428.5 624.3h.6M387.1 619.6h.6M414.2 627.4h.6M404.8 629.1h.6M406.1 618.2h.6M404.0 626.0h.6M414.6 636.5h.6M389.8 622.5h.6M409.1 641.5h.6M411.2 629.7h.6M414.9 610.3h.6M397.5 622.4h.6M392.2 636.0h.6M406.1 633.5h.6M401.7 636.5h.6M411.4 626.0h.6M413.0 622.8h.6M421.8 619.5h.6M400.1 621.5h.6M403.6 642.6h.6M395.2 646.6h.6M418.1 634.4h.6M396.9 639.0h.6M387.5 624.3h.6M413.3 630.7h.6M429.5 625.1h.6M389.0 629.1h.6M409.3 646.0h.6M384.4 632.4h.6M416.6 625.1h.6M398.3 620.3h.6M411.3 638.3h.6M409.4 633.2h.6M413.7 629.9h.6M410.8 638.2h.6M417.0 635.5h.6M404.0 637.2h.6M386.7 615.5h.6M420.4 632.2h.6M391.9 625.9h.6M401.6 631.6h.6M395.0 639.8h.6M385.0 655.8h.6M391.6 645.7h.6M410.3 616.1h.6M390.1 631.5h.6M406.1 627.3h.6M403.3 632.4h.6M390.9 631.5h.6M427.4 625.3h.6M392.3 636.9h.6M417.5 640.2h.6M396.4 630.3h.6M405.3 629.1h.6M407.4 640.6h.6M409.0 630.9h.6M401.0 646.8h.6M390.0 648.7h.6M411.1 631.8h.6M395.2 647.3h.6M416.2 639.1h.6M425.5 615.1h.6M404.2 628.3h.6M395.3 631.7h.6M408.9 635.7h.6M401.7 619.3h.6M409.2 636.4h.6M426.0 639.3h.6M403.3 620.8h.6M432.5 625.0h.6M405.3 637.6h.6M408.6 642.8h.6M392.0 624.9h.6M405.0 620.1h.6M396.5 643.3h.6M406.3 630.1h.6M397.0 631.4h.6M402.8 621.4h.6M411.7 619.6h.6M417.0 628.0h.6M384.1 617.2h.6M406.3 623.3h.6M422.8 643.3h.6M426.0 638.9h.6M417.8 625.6h.6M417.3 627.1h.6M402.6 618.9h.6M403.8 634.6h.6M402.5 621.1h.6M413.0 639.1h.6M402.2 638.0h.6M413.9 622.2h.6M402.8 614.4h.6M391.9 634.8h.6M393.6 634.5h.6M407.1 612.6h.6M397.8 644.5h.6M403.3 632.1h.6M395.5 616.7h.6M385.8 656.7h.6M401.1 623.2h.6M404.4 613.7h.6M418.4 646.3h.6M394.9 633.9h.6M393.3 638.7h.6M393.9 629.7h.6M417.4 635.7h.6M399.6 617.4h.6M385.7 641.8h.6M408.8 631.5h.6M416.9 632.3h.6M395.2 630.1h.6M402.1 630.9h.6M430.5 636.2h.6M406.1 628.8h.6M395.7 622.1h.6M382.5 626.9h.6M386.5 614.4h.6M392.8 612.8h.6M418.2 642.2h.6M392.5 649.4h.6M410.4 608.4h.6M403.4 622.0h.6M384.0 628.7h.6M415.8 635.0h.6M387.1 625.1h.6M394.8 641.3h.6M402.1 622.2h.6M393.1 613.3h.6M393.8 639.0h.6M382.1 632.7h.6M401.9 638.3h.6M390.5 639.2h.6M420.2 651.6h.6M385.2 630.7h.6M400.8 632.1h.6M392.2 638.7h.6M428.9 644.5h.6M392.6 625.8h.6M411.1 632.2h.6M394.7 642.1h.6M408.8 640.2h.6M401.2 642.5h.6M398.0 620.9h.6M403.0 618.4h.6M416.9 637.6h.6M384.5 632.5h.6M412.4 627.8h.6M407.7 625.7h.6M402.3 630.2h.6M408.4 622.3h.6M390.6 634.0h.6M397.5 635.7h.6M397.5 619.2h.6M411.2 633.4h.6M411.2 627.9h.6M399.1 642.4h.6M384.4 646.7h.6M408.7 630.5h.6M404.1 636.4h.6M394.5 633.5h.6M392.5 614.3h.6M405.3 631.9h.6M410.2 636.0h.6M410.8 638.1h.6M391.4 642.0h.6M432.7 625.9h.6M389.1 637.2h.6M413.2 640.1h.6M420.0 618.5h.6M407.2 635.2h.6M416.9 623.0h.6M403.3 627.7h.6M401.3 629.7h.6M401.4 615.0h.6M402.6 631.6h.6M398.8 599.0h.6M395.4 625.1h.6M393.4 645.5h.6M413.3 629.3h.6M409.7 660.7h.6M392.3 635.3h.6M396.4 644.4h.6M415.3 629.9h.6M409.8 623.8h.6M385.5 638.6h.6M421.1 628.3h.6M397.2 614.8h.6M426.8 620.2h.6M392.3 629.2h.6M416.4 631.5h.6M402.8 631.2h.6M412.4 630.7h.6M404.8 630.3h.6M390.7 643.1h.6M395.4 619.1h.6M398.2 631.3h.6M412.1 617.7h.6M389.0 632.6h.6M407.3 621.1h.6M390.5 632.6h.6M401.4 616.4h.6M393.3 644.4h.6M391.3 640.5h.6M386.1 644.4h.6M420.7 625.3h.6M395.5 636.7h.6M389.3 636.0h.6M416.5 633.4h.6M406.6 629.6h.6M414.1 623.6h.6M420.6 630.8h.6M399.4 616.2h.6M398.2 633.1h.6M416.8 616.4h.6M401.6 624.8h.6M389.8 631.0h.6M394.6 638.9h.6M387.3 637.7h.6M382.0 613.4h.6M408.8 627.9h.6M404.4 622.3h.6M391.4 624.3h.6M402.4 623.4h.6M398.4 623.2h.6M405.6 620.7h.6M383.2 607.3h.6M402.8 631.9h.6M413.6 624.3h.6M390.4 617.5h.6M411.4 625.4h.6M413.9 630.3h.6M400.0 614.2h.6M395.5 638.1h.6M396.3 637.1h.6M384.8 640.2h.6M433.8 641.1h.6M406.6 619.8h.6M397.2 625.1h.6M405.1 612.8h.6M393.5 638.2h.6M404.6 637.7h.6M412.4 620.7h.6M388.1 635.2h.6M403.4 631.7h.6M394.0 640.2h.6M408.5 641.3h.6M399.1 637.3h.6M402.4 622.5h.6M402.1 616.0h.6M401.0 632.6h.6M410.7 621.5h.6M388.3 624.4h.6M383.1 625.1h.6M431.9 632.3h.6M394.6 624.9h.6M422.5 620.5h.6M401.7 630.3h.6M394.9 624.5h.6M384.5 623.4h.6M417.3 643.8h.6M399.9 637.4h.6M408.1 632.0h.6M401.5 642.0h.6M409.3 629.0h.6M400.4 639.4h.6M396.4 624.5h.6M400.0 626.5h.6M416.9 634.2h.6M402.0 626.2h.6M418.6 635.0h.6M426.0 639.2h.6M400.6 626.0h.6M399.9 632.6h.6M411.7 635.4h.6M420.3 617.3h.6M403.3 618.2h.6M391.6 625.6h.6M395.8 622.2h.6M386.2 641.3h.6M399.5 639.7h.6M390.8 610.1h.6M396.4 638.9h.6M396.8 634.6h.6M391.1 643.6h.6M407.8 640.5h.6M399.9 642.6h.6M403.8 626.6h.6M395.9 631.5h.6M393.0 620.2h.6M404.4 637.4h.6M399.8 638.6h.6M420.5 619.6h.6M405.8 622.3h.6M395.9 632.6h.6M385.1 636.5h.6M412.3 635.9h.6M410.1 647.4h.6M399.0 640.9h.6M419.0 635.4h.6M383.3 629.6h.6M399.8 616.4h.6M402.3 637.8h.6M400.1 629.4h.6M419.2 625.4h.6M392.6 631.3h.6M415.4 636.3h.6M403.8 626.5h.6M416.6 639.0h.6M383.9 634.0h.6M385.3 644.5h.6M409.7 625.3h.6M388.8 628.3h.6M383.7 636.1h.6M397.4 615.0h.6M402.8 641.7h.6M389.0 627.8h.6M423.0 632.7h.6M396.9 632.7h.6M411.6 621.9h.6M401.9 616.3h.6M385.5 617.1h.6M412.3 633.8h.6M411.1 642.0h.6M403.5 633.1h.6M407.5 635.2h.6M391.3 628.5h.6M401.3 631.3h.6M394.7 629.8h.6M406.2 632.7h.6M409.5 638.4h.6M409.1 639.7h.6M412.3 643.6h.6M409.9 625.4h.6M428.7 641.2h.6M416.8 637.6h.6M403.5 620.7h.6M407.8 627.8h.6M398.6 611.7h.6M420.1 620.5h.6M390.9 635.2h.6M409.2 623.8h.6M402.9 633.3h.6M404.7 635.7h.6M411.5 627.7h.6M385.1 650.5h.6M398.7 622.1h.6M411.3 636.3h.6M396.2 652.2h.6M385.0 642.5h.6M402.6 633.8h.6M406.5 628.9h.6M406.5 619.2h.6M398.6 647.7h.6M386.5 642.1h.6M384.2 623.3h.6M412.7 627.3h.6M396.6 617.4h.6M401.7 629.4h.6M395.9 616.9h.6M404.7 634.8h.6M415.6 635.6h.6M419.8 641.8h.6M388.1 646.0h.6M401.8 621.5h.6M407.8 639.7h.6M385.9 619.8h.6M410.6 626.0h.6M419.1 632.9h.6M396.9 619.0h.6M409.6 615.5h.6M388.6 619.1h.6M421.8 646.4h.6M400.5 627.5h.6M410.7 642.2h.6M394.1 650.9h.6M400.7 641.2h.6M385.1 630.5h.6M395.3 648.9h.6M400.6 619.5h.6M424.5 624.8h.6M403.0 619.7h.6M410.5 632.7h.6M399.8 627.4h.6M396.7 624.5h.6M387.4 641.9h.6M412.9 618.4h.6M390.1 634.7h.6M428.0 629.1h.6M399.5 628.7h.6M405.7 629.4h.6M415.0 639.9h.6M409.1 645.2h.6M400.4 626.0h.6M435.9 613.5h.6M385.8 609.7h.6M406.9 621.3h.6M414.7 612.0h.6M401.5 627.5h.6M391.1 641.1h.6M398.6 635.1h.6M397.2 632.3h.6M398.0 631.7h.6M401.9 624.8h.6M407.8 629.3h.6M392.3 621.5h.6M407.9 643.0h.6M388.5 627.2h.6M408.0 640.4h.6M410.9 620.3h.6M403.4 639.1h.6M405.6 629.0h.6M389.9 632.5h.6M402.3 631.3h.6M419.6 641.7h.6M394.2 633.1h.6M399.6 631.9h.6M421.0 639.3h.6M403.4 625.0h.6M401.2 634.3h.6M397.5 640.9h.6M403.2 620.3h.6M425.6 604.8h.6M400.0 629.9h.6M413.9 641.1h.6M419.1 645.1h.6M406.5 632.0h.6M414.2 630.8h.6M389.1 626.9h.6M410.3 636.5h.6M390.8 641.8h.6M406.4 617.4h.6M408.2 640.1h.6M408.9 628.2h.6M394.1 641.1h.6M405.5 630.9h.6M398.6 621.7h.6M382.3 627.9h.6M415.2 637.9h.6M395.5 644.8h.6M400.5 621.9h.6M413.8 643.5h.6M398.7 620.0h.6M402.3 609.1h.6M403.6 644.8h.6M406.0 624.4h.6M410.8 626.5h.6M417.0 627.8h.6M425.5 627.8h.6M405.1 622.5h.6M388.9 634.1h.6M406.9 622.2h.6M409.2 627.3h.6M396.9 630.3h.6M407.4 637.6h.6M416.7 634.4h.6M395.0 624.8h.6M407.1 620.2h.6M401.1 627.5h.6M401.9 632.6h.6M414.5 645.8h.6M412.8 640.1h.6M391.2 640.4h.6M417.3 618.8h.6M430.9 625.9h.6M385.2 646.9h.6M403.7 623.8h.6M396.7 640.7h.6M405.8 627.6h.6M415.7 622.5h.6M393.6 625.9h.6M394.7 637.2h.6M400.5 621.5h.6M397.9 613.1h.6M404.8 631.9h.6M409.7 628.9h.6M407.4 622.6h.6M403.3 632.4h.6M389.6 636.3h.6M404.6 631.5h.6M397.7 649.1h.6M403.0 624.1h.6M393.6 636.3h.6M400.7 623.9h.6M395.0 639.4h.6M403.9 640.5h.6M402.8 620.3h.6M412.6 633.9h.6M395.8 628.2h.6M392.3 638.5h.6M398.4 635.3h.6M405.9 628.7h.6M407.1 628.8h.6M390.0 627.2h.6M390.0 637.8h.6M410.2 625.7h.6M409.8 633.2h.6M413.7 622.6h.6M403.3 622.1h.6M395.5 643.3h.6M382.7 622.8h.6M408.4 638.0h.6M394.4 612.7h.6M384.1 634.3h.6M415.1 639.2h.6M394.9 643.2h.6M400.9 636.5h.6M400.9 645.3h.6M397.3 611.7h.6M399.5 632.7h.6M406.1 624.5h.6M400.4 620.8h.6M400.4 631.8h.6M405.6 645.8h.6M382.6 635.7h.6M407.8 620.6h.6M403.8 630.9h.6M392.0 637.5h.6M424.0 637.1h.6M411.5 640.6h.6M401.6 639.7h.6M394.1 632.6h.6M410.7 642.7h.6M399.8 628.4h.6M408.1 630.3h.6M404.5 638.2h.6M394.6 638.9h.6M407.2 628.6h.6M389.3 625.3h.6M402.5 639.4h.6M382.4 637.4h.6M405.1 620.9h.6M412.4 634.6h.6M407.8 622.2h.6M390.9 639.1h.6M418.4 634.3h.6M400.9 627.0h.6M384.2 639.8h.6M402.0 642.0h.6M395.1 640.4h.6M395.2 636.2h.6M418.0 624.7h.6M412.9 630.9h.6M392.7 632.8h.6M410.1 624.6h.6M400.1 625.9h.6M394.6 629.1h.6M412.0 626.6h.6M416.6 627.6h.6M395.5 640.6h.6M418.3 625.2h.6M409.4 620.6h.6M398.6 627.7h.6M410.7 619.8h.6M397.4 624.8h.6M404.1 620.0h.6M388.4 656.2h.6M405.3 617.6h.6M412.1 619.3h.6M382.5 645.9h.6M416.6 623.5h.6M391.1 635.2h.6M425.1 636.3h.6M410.2 620.4h.6M383.6 634.4h.6M414.0 632.2h.6M402.9 643.3h.6M393.8 640.8h.6M412.0 625.4h.6M404.3 632.0h.6M409.3 622.3h.6M400.5 631.8h.6M403.3 631.2h.6M405.7 629.3h.6M397.6 640.2h.6M396.0 628.2h.6M393.4 620.8h.6M407.9 630.6h.6M401.5 635.0h.6M401.1 637.0h.6M422.6 634.1h.6M400.1 645.7h.6M410.7 616.2h.6M417.4 632.9h.6M412.2 620.8h.6M393.8 625.2h.6M409.0 621.0h.6M395.3 639.4h.6M396.0 632.0h.6M393.3 615.9h.6M402.1 629.9h.6M387.5 639.6h.6M411.9 638.8h.6M397.5 620.8h.6M402.0 632.5h.6M401.1 625.8h.6M392.2 624.5h.6M402.1 626.7h.6M421.0 628.6h.6M407.9 626.9h.6M401.0 622.4h.6M397.8 617.7h.6M382.9 642.8h.6M391.6 634.8h.6M401.6 626.0h.6M410.8 626.1h.6M407.7 627.7h.6M413.5 639.4h.6M403.7 640.7h.6M408.4 644.7h.6M401.7 617.3h.6M405.3 633.1h.6M399.1 629.2h.6M400.1 619.9h.6M421.5 624.1h.6M391.4 617.0h.6M393.9 630.6h.6M418.9 636.3h.6M395.1 620.0h.6M390.9 630.3h.6M412.3 626.7h.6M420.3 648.0h.6M404.7 611.9h.6M414.7 630.1h.6M410.2 639.7h.6M392.1 631.6h.6M404.9 624.3h.6M410.5 629.8h.6M398.6 647.6h.6M404.8 645.4h.6M401.3 640.1h.6M394.9 632.3h.6M414.6 611.8h.6M408.8 628.6h.6M414.7 632.6h.6M402.2 619.7h.6M434.6 624.5h.6M399.5 624.6h.6M399.7 632.9h.6M388.6 640.3h.6M400.2 636.3h.6M383.0 626.4h.6M399.8 627.6h.6M395.8 633.7h.6M407.3 622.3h.6M382.1 637.4h.6M399.5 640.4h.6M412.3 630.1h.6M387.6 627.8h.6M395.1 641.9h.6M384.7 639.0h.6M386.4 625.9h.6M387.8 624.8h.6M398.2 634.2h.6M396.6 637.0h.6M421.8 632.4h.6M390.6 629.4h.6M401.8 627.8h.6M415.3 641.2h.6M424.5 635.6h.6M386.6 629.8h.6M410.1 623.9h.6M396.5 639.0h.6M404.5 621.1h.6M396.7 603.8h.6M402.9 620.2h.6M402.4 620.5h.6M393.0 626.4h.6M432.8 620.5h.6M390.2 626.2h.6M414.3 638.0h.6M410.4 628.1h.6M404.3 624.2h.6M401.0 623.9h.6M387.3 622.2h.6M423.6 634.5h.6M394.9 630.0h.6M398.1 641.7h.6M402.6 625.4h.6M410.2 633.8h.6M395.6 624.2h.6M404.4 616.5h.6M393.1 639.9h.6M412.2 640.8h.6M398.1 625.7h.6M400.0 626.7h.6M416.6 629.0h.6M417.4 624.7h.6M406.9 645.3h.6M394.9 625.2h.6M396.5 616.8h.6M399.7 625.3h.6M426.6 626.8h.6M383.2 639.3h.6M413.1 630.7h.6M406.0 637.3h.6M396.9 631.3h.6M404.4 645.6h.6M418.0 632.4h.6M388.5 638.7h.6M402.3 641.3h.6M403.5 632.6h.6M409.9 624.5h.6M395.8 651.2h.6M393.6 639.2h.6M410.2 638.2h.6M417.5 619.2h.6M413.1 612.8h.6M403.4 633.9h.6M413.9 640.5h.6M392.9 628.6h.6M401.2 624.8h.6M394.1 625.1h.6M415.2 643.0h.6M410.9 645.8h.6M403.8 621.4h.6M395.9 632.8h.6M413.9 641.7h.6M393.3 639.4h.6M397.2 636.2h.6M412.7 644.0h.6M397.2 633.1h.6M407.4 627.3h.6M403.8 636.2h.6M385.2 625.3h.6M427.6 635.0h.6M396.9 614.8h.6M392.6 635.5h.6M410.1 634.9h.6M409.2 625.7h.6M419.9 621.1h.6M408.3 628.6h.6M384.6 638.9h.6M399.9 637.2h.6M416.5 632.4h.6M395.8 629.1h.6M402.1 643.7h.6M412.0 645.0h.6M411.0 624.2h.6M412.8 639.5h.6M401.5 635.1h.6M399.4 619.9h.6M401.9 637.7h.6M399.0 611.2h.6M394.3 640.6h.6M405.3 640.9h.6M394.8 627.3h.6M392.1 624.1h.6M408.3 632.2h.6M397.7 633.6h.6M388.9 627.5h.6M386.8 617.7h.6M388.3 621.3h.6M419.7 643.1h.6M416.3 625.9h.6M409.5 621.0h.6M397.0 633.1h.6M385.7 632.7h.6M409.4 612.7h.6M385.2 628.5h.6M401.5 632.3h.6M390.7 636.0h.6M404.1 624.5h.6M420.4 633.3h.6M410.8 647.4h.6M397.6 629.0h.6M384.2 629.0h.6M407.5 653.2h.6M408.8 632.8h.6M389.3 623.4h.6M383.0 618.8h.6M404.0 633.6h.6M393.0 629.1h.6M394.2 636.5h.6M409.7 626.0h.6M397.9 620.1h.6M397.8 650.4h.6M402.7 638.6h.6M409.0 644.1h.6M399.3 623.0h.6M413.9 639.2h.6M395.7 640.7h.6M402.7 630.6h.6M422.5 635.7h.6M406.2 628.2h.6M405.0 640.4h.6M407.7 624.3h.6M407.6 629.9h.6M406.1 629.3h.6M383.5 616.7h.6M398.7 611.4h.6M386.7 649.0h.6M410.2 626.9h.6M406.3 611.1h.6M405.5 639.7h.6M404.8 619.3h.6M413.2 626.3h.6M396.7 632.7h.6M399.6 649.1h.6M401.3 650.1h.6M407.7 619.9h.6M402.8 631.5h.6M418.2 642.4h.6M430.2 625.1h.6M398.1 651.8h.6M393.2 634.2h.6M420.1 622.0h.6M399.1 624.3h.6M408.5 634.6h.6M402.4 636.9h.6M394.4 627.6h.6M407.8 649.0h.6M402.4 631.5h.6M416.9 631.7h.6M416.8 633.1h.6M415.2 632.6h.6M392.9 623.4h.6M407.4 647.8h.6M422.9 628.2h.6M429.7 621.0h.6M393.7 639.3h.6M386.4 639.2h.6M406.9 636.6h.6M389.9 634.4h.6M412.9 630.5h.6M413.9 631.2h.6M406.5 628.2h.6M388.2 629.6h.6M408.2 624.2h.6M382.1 617.1h.6M417.0 629.0h.6M394.6 642.1h.6M401.0 617.5h.6M398.1 623.1h.6M400.8 622.8h.6M403.6 635.1h.6M396.7 629.2h.6M401.1 638.4h.6M395.1 637.7h.6M416.3 629.3h.6M392.4 628.2h.6M383.7 626.1h.6M389.9 629.5h.6M398.8 635.6h.6M404.1 634.8h.6M402.3 633.5h.6M390.6 636.9h.6M416.9 641.0h.6M388.3 634.8h.6M385.3 637.8h.6M400.6 626.9h.6M394.8 628.9h.6M402.8 622.3h.6M403.5 633.3h.6M408.5 630.6h.6M402.8 651.8h.6M413.7 633.9h.6M387.8 636.6h.6M409.0 607.1h.6M401.1 634.4h.6M403.2 631.9h.6M401.2 643.4h.6M407.0 628.5h.6M400.4 649.8h.6M393.5 626.3h.6M406.4 632.3h.6M406.1 643.2h.6M415.1 634.8h.6M403.3 630.4h.6M400.3 640.0h.6M389.2 621.7h.6M397.9 622.3h.6M394.9 641.7h.6M384.1 636.2h.6M388.6 628.8h.6M396.6 622.1h.6M386.8 631.6h.6M388.7 611.9h.6M398.6 640.9h.6M422.9 628.4h.6M394.2 628.4h.6M407.9 639.4h.6M392.5 635.3h.6M402.5 641.3h.6M398.4 629.1h.6M393.6 619.1h.6M405.8 637.4h.6M415.1 633.4h.6M397.9 622.7h.6M390.3 624.5h.6M406.5 631.8h.6M384.4 630.1h.6M399.7 621.6h.6M402.6 635.8h.6M391.6 618.8h.6M399.4 633.4h.6M400.1 644.9h.6M404.5 622.0h.6M411.3 625.2h.6M410.4 631.9h.6M416.3 622.0h.6M410.7 634.8h.6M393.1 637.3h.6M427.5 634.2h.6M394.6 629.6h.6M417.0 633.3h.6M419.0 625.1h.6M417.1 616.8h.6M401.1 628.3h.6M397.6 642.0h.6M396.3 634.2h.6M423.1 638.4h.6M398.4 624.4h.6M382.6 634.4h.6M412.6 641.0h.6M405.5 650.4h.6M411.3 610.2h.6M393.3 638.2h.6M398.6 638.5h.6M430.9 624.1h.6M427.0 630.3h.6M386.9 631.9h.6M412.8 625.8h.6M420.1 623.1h.6M400.8 639.3h.6M400.6 626.0h.6M402.7 636.9h.6M421.8 643.2h.6M423.4 630.7h.6M384.8 630.6h.6M398.4 622.0h.6M397.3 630.4h.6M403.5 639.3h.6M392.9 641.3h.6M403.4 637.6h.6M416.5 619.9h.6M420.4 624.5h.6M407.3 640.8h.6M413.0 616.9h.6M404.7 641.2h.6M401.6 630.3h.6M403.7 645.8h.6M397.0 622.5h.6M390.8 626.2h.6M400.4 634.1h.6M402.0 615.5h.6M385.7 637.1h.6M410.9 618.8h.6M413.2 609.1h.6M428.4 636.3h.6M384.8 635.6h.6M402.6 626.9h.6M398.9 629.0h.6M401.9 622.9h.6M396.7 636.0h.6M408.8 619.0h.6M397.6 645.1h.6M410.8 645.9h.6M388.1 621.6h.6M383.7 613.5h.6M398.8 621.5h.6M391.0 624.7h.6M400.9 638.5h.6M409.1 615.2h.6M419.4 628.0h.6M392.0 630.7h.6M398.6 618.5h.6M420.1 625.8h.6M396.4 635.9h.6M421.4 635.4h.6M393.1 635.0h.6M415.2 634.4h.6M410.1 626.7h.6M402.2 615.8h.6M395.1 620.8h.6M403.1 644.5h.6M384.3 619.1h.6M392.8 630.2h.6M415.8 624.0h.6M394.3 641.9h.6M407.1 635.8h.6M412.2 624.3h.6M405.5 625.1h.6M395.0 632.2h.6M407.8 619.5h.6M394.5 636.5h.6M404.8 637.0h.6M399.5 623.8h.6M411.6 636.4h.6M388.2 638.8h.6M394.6 637.0h.6M420.3 628.5h.6M392.3 633.3h.6M404.0 636.1h.6M387.5 633.2h.6M412.8 637.3h.6M409.9 641.8h.6M393.9 642.0h.6M405.3 622.0h.6M399.7 633.5h.6M406.6 643.2h.6M405.1 626.4h.6M427.1 628.0h.6M393.9 639.4h.6M398.4 623.9h.6M391.3 641.7h.6M391.3 631.9h.6M398.0 629.3h.6M394.0 632.4h.6M409.7 640.5h.6M399.0 620.5h.6M386.6 631.1h.6M385.8 643.0h.6M403.3 632.1h.6M387.6 625.2h.6M394.8 637.1h.6M398.5 636.6h.6M408.7 613.7h.6M400.4 642.4h.6M397.3 632.2h.6M401.6 620.0h.6M427.1 629.8h.6M410.0 627.0h.6M418.5 641.4h.6M416.0 639.6h.6M410.8 643.6h.6M407.4 632.3h.6M411.9 623.0h.6M386.2 638.4h.6M404.7 624.7h.6M400.0 622.5h.6M393.7 632.8h.6M404.3 638.6h.6M402.0 636.8h.6M410.5 624.7h.6M384.4 624.9h.6M400.2 626.3h.6M427.4 624.9h.6M408.2 624.2h.6M410.6 619.7h.6M413.5 632.7h.6M398.6 620.3h.6M421.4 625.9h.6M418.9 609.4h.6M389.7 647.4h.6M422.7 631.2h.6M414.0 636.6h.6M399.0 632.3h.6M390.3 619.0h.6M404.4 637.7h.6M404.8 620.1h.6M412.4 631.9h.6M411.3 628.5h.6M400.1 640.6h.6M418.1 620.3h.6M390.8 639.8h.6M407.0 631.6h.6M392.2 640.2h.6M405.1 633.1h.6M407.3 626.4h.6M416.0 617.7h.6M420.8 620.7h.6M390.7 607.7h.6M406.0 630.1h.6M400.2 629.7h.6M426.2 626.6h.6M443.9 616.0h.6M414.8 630.8h.6M416.1 628.1h.6M408.0 633.1h.6M415.3 593.2h.6M426.3 613.9h.6M396.7 612.6h.6M405.8 629.9h.6M415.0 615.3h.6M409.8 605.4h.6M400.4 610.6h.6M406.6 602.2h.6M404.0 628.2h.6M416.8 616.2h.6M415.2 613.3h.6M392.1 626.7h.6M443.8 622.3h.6M420.3 645.6h.6M391.8 622.5h.6M404.9 612.9h.6M385.1 615.2h.6M416.0 597.1h.6M406.7 610.3h.6M394.9 623.7h.6M434.7 621.2h.6M425.5 625.3h.6M409.0 623.1h.6M430.0 611.1h.6M407.8 599.7h.6M382.0 606.4h.6M423.5 620.5h.6M413.9 631.9h.6M383.4 632.6h.6M411.3 625.4h.6M430.8 606.5h.6M396.9 621.0h.6M409.1 609.2h.6M408.1 607.5h.6M412.0 611.6h.6M435.6 603.7h.6M418.7 617.1h.6M433.8 604.6h.6M403.0 636.8h.6M400.1 611.6h.6M404.1 604.5h.6M428.4 634.2h.6M407.7 607.2h.6M389.6 624.0h.6M402.0 622.7h.6M387.0 611.1h.6M419.4 621.1h.6M391.1 619.7h.6M411.9 615.9h.6M404.9 610.9h.6M412.2 622.2h.6M393.8 616.0h.6M424.0 613.5h.6M428.4 605.1h.6M438.8 627.6h.6M403.9 648.9h.6M431.7 635.0h.6M392.0 614.8h.6M417.1 628.7h.6M411.1 600.7h.6M428.4 614.2h.6M416.6 612.4h.6M408.3 599.8h.6M420.1 608.7h.6M383.3 621.1h.6M409.5 627.6h.6M422.4 601.7h.6M407.3 616.1h.6M411.3 603.6h.6M411.1 627.8h.6M428.7 633.5h.6M421.4 586.2h.6M405.9 609.7h.6M391.4 634.5h.6M423.7 616.1h.6M415.4 621.9h.6M406.7 632.5h.6M437.5 625.9h.6M401.6 619.1h.6M424.7 624.7h.6M399.7 627.5h.6M420.9 623.1h.6M403.7 615.8h.6M382.4 615.8h.6M403.3 612.6h.6M405.8 612.3h.6M411.3 617.3h.6M400.8 614.6h.6M408.6 622.0h.6M416.6 611.9h.6M397.6 596.7h.6M391.2 621.0h.6M396.2 635.2h.6M407.6 611.6h.6M407.6 609.7h.6M400.5 616.9h.6M388.2 617.7h.6M408.6 605.4h.6M425.5 620.4h.6M426.3 608.2h.6M391.3 602.1h.6M386.3 593.7h.6M433.6 610.5h.6M412.9 609.8h.6M407.8 634.8h.6M383.9 604.4h.6M412.0 605.4h.6M420.4 631.5h.6M423.4 625.0h.6M407.6 628.0h.6M397.9 602.0h.6M406.1 613.1h.6M428.4 604.4h.6M427.2 606.9h.6M391.0 596.0h.6M409.5 599.0h.6M413.2 616.7h.6M404.0 593.3h.6M402.2 621.4h.6M383.2 624.3h.6M410.3 609.7h.6M413.1 623.8h.6M409.7 606.9h.6M421.8 608.0h.6M415.4 627.6h.6M429.7 635.0h.6M425.4 617.8h.6M407.0 618.3h.6M417.9 651.5h.6M419.9 606.3h.6M432.9 597.2h.6M425.1 600.9h.6M393.6 610.1h.6M405.7 600.1h.6M419.3 614.7h.6M430.2 604.0h.6M382.8 624.2h.6M406.6 627.6h.6M386.3 601.3h.6M411.4 639.2h.6M391.5 593.5h.6M403.2 632.8h.6M433.8 599.9h.6M400.8 594.2h.6M397.3 604.6h.6M416.4 629.6h.6M445.9 611.8h.6M422.3 618.7h.6M411.9 639.0h.6M420.6 634.6h.6M414.5 626.3h.6M417.6 614.9h.6M399.5 611.3h.6M410.2 611.5h.6M404.9 607.7h.6M422.9 613.2h.6M408.2 613.5h.6M429.7 609.7h.6M431.2 605.8h.6M433.0 623.3h.6M402.6 621.5h.6M427.1 604.8h.6M406.6 619.8h.6M406.9 612.6h.6M410.3 619.8h.6M421.7 633.6h.6M405.2 650.9h.6M405.1 637.1h.6M408.1 598.8h.6M403.5 612.0h.6M426.1 592.1h.6M400.5 614.5h.6M419.9 620.7h.6M422.9 614.2h.6M406.5 630.4h.6M435.9 620.6h.6M412.4 605.9h.6M441.6 620.8h.6M419.3 597.0h.6M419.1 644.9h.6M407.6 613.6h.6M433.1 613.8h.6M422.7 639.1h.6M392.5 606.2h.6M420.2 617.4h.6M410.7 614.1h.6M412.0 620.3h.6M402.9 612.8h.6M413.5 603.2h.6M416.7 590.0h.6M419.6 614.6h.6M392.4 632.1h.6M392.5 640.6h.6M399.1 630.4h.6M409.1 635.2h.6M406.7 628.3h.6M405.3 593.8h.6M415.9 621.7h.6M416.1 635.9h.6M399.0 599.1h.6M413.9 607.8h.6M408.5 616.0h.6M397.8 629.0h.6M408.3 637.3h.6M413.8 628.6h.6M405.7 608.2h.6M402.2 605.6h.6M416.8 617.7h.6M393.9 597.8h.6M397.2 594.4h.6M396.8 598.0h.6M420.6 602.3h.6M401.3 614.6h.6M410.6 621.1h.6M421.5 623.7h.6M404.9 630.9h.6M415.6 607.6h.6M432.4 602.0h.6M417.1 631.0h.6M411.8 620.2h.6M411.9 624.0h.6M413.4 616.1h.6M420.6 593.5h.6M413.8 612.5h.6M439.3 619.5h.6M400.3 623.8h.6M404.4 601.9h.6M405.9 622.0h.6M427.8 628.5h.6M413.5 614.1h.6M413.1 630.4h.6M408.2 629.8h.6M398.3 615.9h.6M421.6 624.4h.6M413.1 609.9h.6M383.4 610.8h.6M397.5 611.3h.6M433.5 606.9h.6M422.7 615.8h.6M393.7 617.3h.6M421.2 601.9h.6M392.9 611.5h.6M420.8 608.9h.6M416.3 621.5h.6M410.3 621.4h.6M428.9 613.8h.6M414.9 603.4h.6M399.4 614.9h.6M422.1 608.1h.6M389.5 627.0h.6M445.2 585.5h.6M394.4 617.5h.6M417.3 604.8h.6M415.0 629.1h.6M406.0 624.7h.6M412.0 605.0h.6M401.0 608.8h.6M429.7 629.8h.6M413.6 597.5h.6M402.8 611.3h.6M382.2 615.8h.6M414.3 600.3h.6M403.8 610.6h.6M437.3 623.9h.6M421.4 617.1h.6M391.2 627.0h.6M400.1 593.2h.6M420.8 611.9h.6M410.1 622.1h.6M406.6 620.9h.6M429.0 612.2h.6M404.8 616.2h.6M419.6 611.3h.6M411.3 607.9h.6M408.9 622.5h.6M398.0 613.9h.6M388.6 607.7h.6M411.2 622.3h.6M394.9 614.8h.6M396.4 619.8h.6M413.9 621.3h.6M407.0 599.2h.6M401.8 600.2h.6M400.1 615.3h.6M425.9 608.4h.6M398.7 618.4h.6M383.3 639.6h.6M387.5 628.0h.6M424.4 627.4h.6M408.5 624.7h.6M405.0 627.4h.6M400.5 606.4h.6M415.6 610.7h.6M419.9 605.9h.6M414.0 604.4h.6M408.5 641.4h.6M394.3 601.5h.6M386.6 613.3h.6M433.7 610.7h.6M423.6 613.8h.6M400.8 639.8h.6M425.8 594.3h.6M395.8 620.9h.6M419.5 613.4h.6M414.6 622.4h.6M404.9 627.8h.6M397.6 624.9h.6M423.4 618.4h.6M405.0 615.8h.6M384.6 619.0h.6M389.3 592.2h.6M421.2 605.2h.6M415.2 616.6h.6M384.4 605.4h.6M406.1 621.6h.6M411.1 601.1h.6M402.3 617.3h.6M391.5 610.8h.6M402.1 590.9h.6M435.1 626.4h.6M403.3 627.2h.6M394.8 634.1h.6M404.6 617.7h.6M401.6 617.1h.6M414.8 616.4h.6M398.0 625.0h.6M418.1 616.0h.6M425.3 607.3h.6M428.6 614.1h.6M432.1 610.8h.6M406.3 618.5h.6M425.9 633.0h.6M403.4 607.4h.6M421.1 630.7h.6M420.3 612.1h.6M428.5 615.7h.6M412.5 623.4h.6M401.8 589.3h.6M413.2 624.5h.6M416.4 622.4h.6M412.4 628.3h.6M411.7 633.6h.6M410.8 625.4h.6M402.0 619.6h.6M416.2 617.7h.6M432.4 616.5h.6M426.3 620.2h.6M425.9 605.4h.6M404.7 627.4h.6M398.2 620.7h.6M418.3 618.3h.6M416.4 622.4h.6M406.6 620.9h.6M402.5 610.7h.6M387.0 614.8h.6M385.3 616.4h.6M413.1 603.2h.6M411.0 619.4h.6M405.0 605.2h.6M408.4 620.9h.6M423.5 638.9h.6M382.4 620.1h.6M416.3 608.5h.6M414.7 640.8h.6M411.7 632.2h.6M425.5 610.8h.6M385.3 629.7h.6M432.4 595.2h.6M407.1 607.8h.6M413.0 616.7h.6M426.6 609.0h.6M438.0 595.8h.6M413.2 647.7h.6M408.6 623.5h.6M403.2 655.1h.6M423.0 611.9h.6M382.2 618.5h.6M420.7 591.8h.6M402.9 622.6h.6M386.1 613.7h.6M387.0 600.1h.6M415.9 629.5h.6M426.9 608.2h.6M417.4 595.0h.6M388.5 622.5h.6M404.2 603.9h.6M382.9 613.2h.6M442.4 592.1h.6M394.8 629.3h.6M382.2 608.6h.6M411.0 629.4h.6M408.9 637.6h.6M409.6 614.7h.6M416.4 620.2h.6M388.2 604.8h.6M406.6 620.1h.6M392.2 607.5h.6M399.2 620.0h.6M403.8 623.2h.6M415.7 605.1h.6M405.7 601.3h.6M411.6 625.6h.6M395.7 595.0h.6M417.5 612.6h.6M409.6 621.5h.6M415.5 627.0h.6M403.4 589.8h.6M402.9 612.4h.6M404.0 620.7h.6M406.4 631.4h.6M400.8 615.9h.6M404.8 641.2h.6M396.1 604.1h.6M404.5 625.1h.6M410.2 613.9h.6M388.7 591.3h.6M406.9 613.2h.6M435.7 620.4h.6M416.2 627.5h.6M396.9 601.3h.6M404.6 633.7h.6M424.4 609.0h.6M391.9 627.1h.6M426.0 602.9h.6M433.5 606.8h.6M421.0 613.5h.6M405.2 608.7h.6M420.1 623.4h.6M421.8 612.7h.6M397.6 641.6h.6M435.1 613.7h.6M393.2 633.9h.6M412.0 616.7h.6M422.5 620.2h.6M411.6 639.7h.6M382.3 623.7h.6M395.6 616.9h.6M407.5 619.2h.6M386.4 624.3h.6M444.2 611.1h.6M423.2 623.5h.6M414.4 610.0h.6M419.3 619.2h.6M431.3 625.9h.6M399.6 581.1h.6M432.2 621.8h.6M412.5 608.8h.6M446.9 632.0h.6M411.4 611.6h.6M418.5 632.2h.6M417.7 627.3h.6M413.9 620.3h.6M391.3 617.5h.6M410.8 615.1h.6M406.5 619.7h.6M401.5 613.7h.6M390.7 643.6h.6M396.8 601.6h.6M402.1 611.0h.6M394.1 586.8h.6M434.3 628.2h.6M404.4 622.7h.6M393.6 596.6h.6M415.0 622.9h.6M399.9 616.0h.6M392.5 614.4h.6M425.6 618.0h.6M412.7 622.9h.6M383.7 600.6h.6M391.2 618.9h.6M400.7 593.4h.6M423.2 613.8h.6M424.7 640.0h.6M385.5 600.7h.6M426.0 632.9h.6M415.9 620.3h.6M420.3 623.8h.6M391.1 624.9h.6M424.7 611.2h.6M396.4 610.2h.6M401.3 622.3h.6M421.5 616.3h.6M405.4 594.8h.6M403.7 604.1h.6M401.8 620.1h.6M412.4 657.9h.6M397.0 609.6h.6M393.0 612.9h.6M405.7 628.0h.6M382.6 626.9h.6M419.6 609.7h.6M399.8 618.3h.6M417.8 614.1h.6M407.7 616.2h.6M393.9 619.2h.6M418.6 616.6h.6M393.0 616.0h.6M408.4 619.8h.6M403.8 625.9h.6M426.1 625.8h.6M413.5 630.5h.6M409.4 614.0h.6M388.6 616.2h.6M428.1 604.7h.6M421.6 600.9h.6M414.4 637.7h.6M410.6 602.1h.6M414.2 614.3h.6M421.8 609.8h.6M384.2 610.4h.6M418.7 628.2h.6M414.1 616.3h.6M420.2 613.7h.6M403.2 618.7h.6M426.2 610.1h.6M417.3 608.4h.6M399.0 618.1h.6M390.1 606.0h.6M392.2 608.9h.6M396.4 643.5h.6M419.0 616.9h.6M390.0 588.0h.6M416.5 608.6h.6M425.5 611.4h.6M390.5 608.5h.6M387.2 599.4h.6M420.5 609.8h.6M420.2 609.4h.6M406.4 609.6h.6M401.8 608.3h.6M432.2 615.4h.6M382.7 636.0h.6M428.6 629.2h.6M408.3 614.2h.6M402.8 617.5h.6M416.9 616.0h.6M397.6 604.7h.6M434.7 635.8h.6M391.4 608.5h.6M409.3 622.9h.6M408.2 618.8h.6M415.3 629.4h.6M390.4 628.9h.6M416.4 622.3h.6M387.4 613.3h.6M406.0 623.5h.6M420.1 624.1h.6M390.6 630.7h.6M410.8 626.9h.6M409.7 607.8h.6M449.0 623.7h.6M421.2 610.6h.6M406.5 629.0h.6M416.5 636.4h.6M427.8 603.5h.6M386.8 629.6h.6M418.8 613.0h.6M405.5 609.6h.6M436.6 614.1h.6M389.2 626.6h.6M408.5 620.2h.6M404.1 615.6h.6M382.2 622.3h.6M399.6 611.6h.6M414.5 630.9h.6M384.6 614.5h.6M418.0 627.8h.6M396.2 619.8h.6M415.8 626.9h.6M400.5 613.9h.6M402.1 629.3h.6M426.0 610.9h.6M407.7 618.6h.6M396.3 614.8h.6M422.7 625.0h.6M399.6 608.6h.6M408.0 599.1h.6M414.4 617.5h.6M389.8 613.4h.6M399.9 613.0h.6M396.7 631.8h.6M395.3 624.9h.6M412.9 632.7h.6M408.9 616.1h.6M410.8 594.4h.6M445.7 613.7h.6M405.0 603.1h.6M407.7 634.6h.6M398.4 621.2h.6M425.2 627.0h.6M403.7 596.1h.6M415.8 622.7h.6M404.9 611.2h.6M436.0 598.0h.6M402.1 609.2h.6M386.4 608.2h.6M397.8 630.4h.6M383.6 600.4h.6M413.6 598.4h.6M383.4 609.0h.6M391.7 605.0h.6M407.3 621.3h.6M400.1 613.0h.6M420.4 614.4h.6M420.7 609.4h.6M417.0 630.7h.6M389.0 650.3h.6M404.9 612.3h.6M407.3 621.4h.6M391.6 616.6h.6M401.0 632.4h.6M383.9 623.5h.6M405.0 607.6h.6M411.8 613.4h.6M410.3 618.9h.6M427.7 611.5h.6M434.7 585.4h.6M437.0 630.0h.6M433.1 618.4h.6M414.0 604.6h.6M429.7 603.0h.6M397.8 616.1h.6M413.2 620.0h.6M392.3 612.2h.6M417.0 629.6h.6M421.2 620.9h.6M405.8 610.0h.6M402.0 615.1h.6M417.6 610.4h.6M440.5 604.8h.6M421.9 613.9h.6M407.6 611.8h.6M432.7 612.8h.6M418.0 617.5h.6M420.9 622.8h.6M434.4 607.9h.6M397.4 635.4h.6M428.8 617.0h.6M405.4 619.0h.6M429.2 607.5h.6M431.4 615.5h.6M404.3 611.7h.6M384.2 619.8h.6M390.0 609.8h.6M396.3 618.8h.6M420.5 616.6h.6M412.6 620.8h.6M433.7 622.7h.6M433.2 615.5h.6M415.0 608.8h.6M418.6 606.5h.6M416.8 609.0h.6M404.4 630.0h.6M411.9 625.2h.6M406.1 595.0h.6M431.7 614.1h.6M400.0 626.9h.6M392.8 607.7h.6M426.9 608.3h.6M426.6 612.7h.6M406.6 617.0h.6M402.3 628.3h.6M426.1 616.9h.6M418.8 622.3h.6M434.9 598.2h.6M425.0 626.5h.6M405.0 616.3h.6M404.6 630.2h.6M392.6 623.0h.6M428.9 622.7h.6M402.6 611.0h.6M384.4 604.6h.6M426.1 605.5h.6M385.2 613.4h.6M387.5 621.4h.6M396.7 627.0h.6M408.0 600.2h.6M398.2 608.9h.6M397.1 630.2h.6M394.7 620.3h.6M401.0 622.9h.6M388.4 598.5h.6M417.4 632.3h.6M389.1 612.7h.6M402.1 605.6h.6M424.2 616.8h.6M389.0 613.8h.6M429.7 608.2h.6M402.0 606.9h.6M412.2 609.9h.6M423.1 606.8h.6M388.0 621.3h.6M393.8 605.5h.6M414.0 619.0h.6M401.1 611.2h.6M417.6 658.3h.6M397.7 614.2h.6M402.9 622.4h.6M409.9 622.5h.6M434.2 613.1h.6M405.4 620.4h.6M441.1 612.1h.6M435.0 629.6h.6M389.9 605.0h.6M395.1 620.7h.6M429.6 616.8h.6M412.2 640.7h.6M415.1 640.5h.6M396.4 634.8h.6M402.2 588.8h.6M397.4 610.8h.6M409.1 624.8h.6M420.1 622.1h.6M398.6 636.4h.6M427.7 616.6h.6M401.2 615.7h.6M406.4 608.3h.6M409.6 608.7h.6M419.4 608.8h.6M417.1 619.8h.6M412.3 622.1h.6M394.4 645.3h.6M399.4 624.5h.6M410.1 611.3h.6M435.8 628.7h.6M405.7 622.6h.6M420.0 634.1h.6M425.0 614.3h.6M406.0 603.0h.6M413.7 626.0h.6M403.9 623.7h.6M411.8 611.0h.6M391.5 628.8h.6M447.8 622.4h.6M393.6 604.5h.6M413.6 623.6h.6M432.6 588.8h.6M437.5 618.1h.6M411.9 620.6h.6M404.5 612.9h.6M425.6 596.5h.6M408.1 622.5h.6M385.1 614.4h.6M432.8 620.4h.6M420.4 624.2h.6M413.1 620.2h.6M397.6 613.8h.6M437.5 602.2h.6M407.3 601.8h.6M401.8 607.4h.6M391.5 618.9h.6M395.7 622.2h.6M436.9 587.1h.6M407.4 592.4h.6M408.0 620.4h.6M413.0 629.9h.6M412.2 596.6h.6M432.4 605.4h.6M408.5 619.9h.6M396.7 617.2h.6M432.3 597.0h.6M384.9 611.1h.6M407.4 601.6h.6M386.0 626.6h.6M415.7 601.1h.6M418.5 615.4h.6M412.3 600.9h.6M406.6 621.6h.6M383.6 604.2h.6M424.4 638.9h.6M419.8 615.4h.6M393.6 611.5h.6M406.1 621.2h.6M406.1 644.4h.6M429.8 591.1h.6M392.4 616.1h.6M424.7 620.8h.6M390.0 597.4h.6M430.2 622.9h.6M448.4 625.3h.6M416.9 633.6h.6M403.2 609.9h.6M394.7 619.0h.6M416.5 626.9h.6M431.7 623.3h.6M428.4 613.3h.6M395.5 624.5h.6M425.2 631.5h.6M407.5 610.8h.6M404.5 620.3h.6M409.2 614.0h.6M413.8 612.8h.6M415.0 609.3h.6M386.7 612.6h.6M438.4 606.8h.6M423.7 631.6h.6M401.8 619.1h.6M385.8 622.7h.6M433.1 618.3h.6M383.2 609.5h.6M398.8 617.4h.6M414.3 611.4h.6M405.3 606.7h.6M418.6 618.4h.6M415.2 610.3h.6M417.4 612.7h.6M414.4 614.3h.6M400.0 603.5h.6M382.0 600.4h.6M416.9 653.6h.6M385.3 606.7h.6M409.8 657.2h.6M406.9 602.7h.6M416.3 640.1h.6M390.4 602.6h.6M428.6 602.7h.6M408.4 608.8h.6M421.5 599.3h.6M414.6 618.6h.6M418.5 621.0h.6M412.3 595.6h.6M405.1 605.2h.6M418.0 613.4h.6M412.3 628.8h.6M408.4 635.5h.6M422.5 598.9h.6M401.2 630.2h.6M402.5 629.9h.6M403.7 638.3h.6M435.6 617.3h.6M416.5 633.5h.6M418.4 659.3h.6M424.8 620.5h.6M434.2 633.5h.6M418.3 656.8h.6M408.8 653.9h.6M418.6 627.0h.6M408.8 620.4h.6M438.7 642.4h.6M434.4 623.9h.6M432.0 622.8h.6M420.6 639.9h.6M403.2 644.5h.6M415.7 627.5h.6M400.1 621.2h.6M442.4 642.2h.6M407.7 650.1h.6M397.7 623.2h.6M422.1 660.1h.6M421.0 642.3h.6M449.9 617.6h.6M413.5 620.6h.6M390.7 636.6h.6M463.9 626.4h.6M402.7 643.9h.6M394.6 636.3h.6M431.4 608.4h.6M409.0 635.8h.6M404.7 638.3h.6M383.8 633.6h.6M404.6 625.1h.6M440.3 657.4h.6M431.0 627.4h.6M443.4 647.3h.6M398.6 648.8h.6M403.4 648.3h.6M433.4 656.8h.6M393.9 638.2h.6M415.1 622.3h.6M423.3 650.1h.6M387.4 632.0h.6M392.9 621.5h.6M393.7 660.0h.6M401.7 634.3h.6M434.8 654.9h.6M443.1 609.8h.6M430.1 614.5h.6M402.3 634.0h.6M403.6 657.6h.6M411.7 657.1h.6M411.4 639.1h.6M425.2 646.4h.6M425.0 614.8h.6M425.2 644.7h.6M427.0 639.2h.6M423.2 621.0h.6M437.7 622.3h.6M443.1 654.7h.6M413.7 635.7h.6M430.5 635.6h.6M391.2 644.1h.6M390.6 633.4h.6M450.9 651.8h.6M406.0 639.0h.6M402.0 639.8h.6M386.0 649.9h.6M415.3 631.1h.6M402.7 653.2h.6M406.1 633.1h.6M403.3 632.8h.6M441.2 649.9h.6M423.4 645.3h.6M392.3 604.8h.6M445.2 650.4h.6M419.3 644.1h.6M419.0 640.3h.6M409.8 607.5h.6M426.4 640.7h.6M434.6 644.5h.6M409.3 648.8h.6M418.8 633.5h.6M407.5 633.8h.6M409.0 633.5h.6M434.7 651.3h.6M412.7 656.3h.6M385.9 592.9h.6M405.5 637.7h.6M400.2 620.2h.6M398.0 632.5h.6M418.1 635.1h.6M391.0 634.6h.6M445.3 627.1h.6M416.3 654.7h.6M398.9 631.7h.6M404.5 642.3h.6M417.0 642.1h.6M424.3 635.6h.6M388.8 626.0h.6M418.0 620.1h.6M408.5 660.6h.6M419.8 630.4h.6M417.8 655.3h.6M382.7 621.8h.6M401.7 633.6h.6M413.2 631.5h.6M417.2 641.3h.6M391.7 630.9h.6M390.2 644.2h.6M420.2 649.5h.6M397.5 632.2h.6M388.8 640.2h.6M382.7 645.0h.6M436.6 646.5h.6M427.5 643.3h.6M422.4 653.7h.6M440.2 657.2h.6M409.7 652.1h.6M432.3 646.2h.6M420.3 621.6h.6M436.8 627.1h.6M402.0 627.6h.6M426.2 625.9h.6M424.1 648.2h.6M417.0 635.0h.6M426.9 659.1h.6M405.8 624.7h.6M403.0 627.2h.6M410.2 637.7h.6M389.8 660.9h.6M398.7 633.8h.6M385.7 611.3h.6M394.7 643.3h.6M432.0 613.7h.6M419.4 660.5h.6M409.4 653.4h.6M421.2 626.5h.6M434.8 631.1h.6M422.1 634.2h.6M410.7 642.2h.6M441.4 615.5h.6M392.7 641.5h.6M434.4 637.3h.6M411.2 647.7h.6M446.4 626.8h.6M383.1 635.9h.6M430.3 620.9h.6M437.5 653.7h.6M430.7 627.7h.6M389.2 649.5h.6M420.2 650.0h.6M388.1 597.0h.6M437.3 654.5h.6M409.5 639.9h.6M424.0 650.9h.6M411.2 632.5h.6M395.5 654.9h.6M417.0 590.5h.6M421.8 631.7h.6M389.6 632.6h.6M389.5 633.4h.6M404.1 647.4h.6M394.8 613.5h.6M402.9 620.0h.6M429.8 637.0h.6M382.2 627.3h.6M414.4 639.4h.6M384.3 638.1h.6M420.9 654.3h.6M436.9 638.2h.6M389.0 634.6h.6M427.9 626.6h.6M440.1 626.0h.6M392.5 652.0h.6M413.0 644.6h.6M408.9 640.4h.6M403.3 658.1h.6M428.1 638.2h.6M424.4 652.1h.6M404.5 642.5h.6M419.1 631.8h.6M399.5 637.1h.6M409.0 634.1h.6M385.5 641.1h.6M428.0 641.0h.6M449.2 652.5h.6M407.9 630.2h.6M425.0 634.6h.6M382.7 641.7h.6M409.1 636.7h.6M427.2 642.8h.6M455.3 629.2h.6M413.0 644.5h.6M406.2 632.5h.6M449.9 618.9h.6M421.9 614.5h.6M421.7 612.1h.6M391.7 656.5h.6M445.7 641.8h.6M394.7 654.7h.6M419.9 623.9h.6M407.9 620.8h.6M413.1 638.7h.6M417.4 651.4h.6M402.1 608.0h.6M391.7 621.7h.6M407.6 633.6h.6M414.1 659.8h.6M415.5 624.4h.6M408.9 627.3h.6M410.2 648.4h.6M392.4 650.2h.6M450.6 660.5h.6M447.4 641.3h.6M388.1 657.4h.6M414.0 643.3h.6M407.9 626.4h.6M427.3 619.8h.6M387.6 648.0h.6M407.5 627.8h.6M424.9 660.5h.6M409.3 638.0h.6M426.2 653.5h.6M435.6 649.8h.6M401.8 647.7h.6M415.1 615.5h.6M439.6 648.3h.6M442.3 639.1h.6M429.5 639.0h.6M418.2 653.1h.6M416.1 648.8h.6M414.3 657.7h.6M428.0 616.1h.6M448.1 646.3h.6M404.8 631.0h.6M454.6 641.3h.6M425.1 648.6h.6M403.1 659.1h.6M456.9 628.8h.6M437.6 616.5h.6M408.3 640.9h.6M416.0 648.2h.6M423.0 645.4h.6M412.3 644.4h.6M404.0 657.7h.6M416.2 657.9h.6M417.1 637.9h.6M411.4 621.4h.6M456.3 646.0h.6M417.6 633.3h.6M440.5 635.3h.6M405.9 632.2h.6M445.7 644.5h.6M412.1 630.8h.6M440.6 644.2h.6M408.5 652.9h.6M432.4 625.7h.6M437.9 655.7h.6M410.2 620.9h.6M436.8 635.1h.6M411.0 635.9h.6M409.7 652.0h.6M393.4 647.7h.6M438.0 655.2h.6M429.4 643.8h.6M411.2 638.3h.6M397.7 659.6h.6M412.8 625.5h.6M431.6 660.7h.6M420.6 635.5h.6M393.0 649.3h.6M410.3 630.5h.6M427.0 621.5h.6M429.7 605.2h.6M402.9 619.6h.6M410.3 651.5h.6" stroke="#cc9a64" stroke-width="0.6" fill="none"/>
<rect x="368.5" y="575.1" width="102.2" height="102.2" fill="none" stroke="#58595b" stroke-width="1"/>
<line x1="402.9" y1="575.1" x2="402.9" y2="677.3" stroke="#6d6e71" stroke-width="1.0"/>
<line x1="368.5" y1="641.1" x2="470.7" y2="641.1" stroke="#6d6e71" stroke-width="1.0"/>
<text x="373.0" y="583.5" font-size="7.3" letter-spacing="-0.3">13.91</text>
<text x="465.2" y="583.5" font-size="7.3" text-anchor="end" letter-spacing="-0.3">21.72</text>
<text x="373.0" y="673.9" font-size="7.3" letter-spacing="-0.3">36.21</text>
<text x="465.2" y="673.9" font-size="7.3" text-anchor="end" letter-spacing="-0.3">28.16</text>
<ellipse cx="533" cy="651" rx="8" ry="7" fill="#9c2a66" opacity="0.9" filter="url(#bl1)"/>
<ellipse cx="550" cy="651" rx="10" ry="5.5" fill="#9c2a66" opacity="0.55" filter="url(#bl1)"/>
<ellipse cx="543" cy="632" rx="12" ry="10" fill="#9c2a66" opacity="0.15" filter="url(#bl1)"/>
<path d="M525.9 652.7h.6M537.0 648.7h.6M525.4 650.7h.6M534.4 655.9h.6M525.9 645.2h.6M535.5 653.1h.6M539.7 655.4h.6M531.5 649.8h.6M544.9 649.7h.6M528.1 645.9h.6M532.5 651.7h.6M530.3 650.7h.6M533.4 654.1h.6M537.5 651.9h.6M523.1 654.2h.6M524.9 650.2h.6M524.6 651.0h.6M528.1 652.0h.6M548.5 650.8h.6M536.2 645.0h.6M530.6 654.0h.6M531.5 652.7h.6M532.5 646.5h.6M534.8 647.3h.6M541.4 648.7h.6M535.4 651.0h.6M536.8 648.3h.6M537.0 650.4h.6M538.3 653.8h.6M532.7 647.5h.6M535.8 653.1h.6M540.2 649.3h.6M534.8 653.3h.6M533.4 651.9h.6M532.9 648.3h.6M526.9 649.2h.6M535.0 657.8h.6M536.9 655.7h.6M535.9 654.1h.6M532.9 654.5h.6M540.9 649.5h.6M528.5 659.8h.6M533.2 655.4h.6M536.4 645.9h.6M544.2 659.0h.6M532.9 654.4h.6M532.6 647.0h.6M531.4 652.7h.6M537.6 654.2h.6M532.3 657.1h.6M528.2 654.6h.6M537.6 649.7h.6M523.0 646.9h.6M533.2 653.4h.6M539.7 646.5h.6M532.0 653.9h.6M531.2 640.3h.6M536.0 660.8h.6M537.0 646.9h.6M529.9 652.0h.6M544.4 653.8h.6M532.6 658.0h.6M531.6 659.4h.6M528.6 648.9h.6M535.6 657.4h.6M535.3 652.4h.6M522.9 647.8h.6M528.9 648.6h.6M534.9 649.5h.6M535.9 651.4h.6M530.3 651.5h.6M534.1 654.9h.6M529.6 650.0h.6M525.2 658.2h.6M539.3 650.2h.6M529.6 645.4h.6M532.8 651.9h.6M542.9 652.1h.6M528.1 640.0h.6M539.0 651.9h.6M524.0 651.8h.6M524.0 658.5h.6M537.6 653.6h.6M531.1 641.4h.6M531.4 644.0h.6M535.0 641.4h.6M527.5 656.5h.6M540.2 645.7h.6M524.3 655.0h.6M536.3 646.6h.6M528.5 647.9h.6M526.1 647.9h.6M538.3 654.1h.6M542.3 650.6h.6M531.3 646.6h.6M531.4 645.1h.6M523.1 654.1h.6M539.2 654.8h.6M538.7 652.1h.6M528.4 651.4h.6M530.1 646.0h.6M523.5 644.3h.6M532.0 651.7h.6M529.6 657.4h.6M532.9 653.6h.6M538.1 647.3h.6M522.2 654.4h.6M528.6 656.9h.6M533.7 655.5h.6M535.8 641.6h.6M535.6 648.0h.6M528.2 649.0h.6M535.8 655.0h.6M537.1 643.5h.6M529.0 640.3h.6M531.5 653.7h.6M528.2 652.1h.6M533.2 655.5h.6M527.9 647.3h.6M528.2 658.9h.6M537.5 650.4h.6M533.1 651.5h.6M533.0 650.1h.6M530.3 645.3h.6M528.8 658.4h.6M534.7 651.3h.6M530.9 651.3h.6M533.8 648.1h.6M533.0 652.1h.6M528.3 647.4h.6M527.0 646.2h.6M536.4 640.4h.6M530.7 648.2h.6M528.9 651.4h.6M537.6 651.3h.6M531.3 648.2h.6M531.4 655.1h.6M530.0 645.8h.6M525.7 646.0h.6M525.1 655.9h.6M533.8 649.9h.6M539.3 648.0h.6M535.8 654.6h.6M524.3 644.0h.6M527.4 655.1h.6M538.5 645.5h.6M537.2 649.3h.6M530.0 648.5h.6M530.4 642.8h.6M527.0 645.4h.6M534.5 660.4h.6M545.7 649.5h.6M523.4 649.2h.6M527.3 659.9h.6M534.9 647.7h.6M536.7 653.4h.6M523.9 648.6h.6M530.8 651.1h.6M532.7 649.5h.6M532.9 648.4h.6M527.5 657.8h.6M533.8 653.0h.6M524.0 650.3h.6M536.1 645.2h.6M537.5 649.2h.6M534.0 650.4h.6M533.1 656.4h.6M530.0 658.0h.6M528.1 646.8h.6M535.6 646.2h.6M530.1 655.1h.6M538.1 643.0h.6M534.5 659.5h.6M538.0 649.9h.6M529.0 649.7h.6M526.2 649.8h.6M531.1 650.3h.6M537.9 650.0h.6M524.7 655.7h.6M526.6 649.0h.6M531.3 649.5h.6M527.0 649.9h.6M542.9 648.3h.6M531.3 656.1h.6M535.7 654.4h.6M536.3 642.1h.6M527.7 651.6h.6M534.5 656.8h.6M534.3 649.9h.6M532.2 650.1h.6M533.2 654.0h.6M530.3 647.3h.6M527.7 655.9h.6M538.4 655.5h.6M536.3 654.7h.6M532.0 654.0h.6M526.7 650.1h.6M528.3 654.3h.6M529.1 650.5h.6M534.0 657.1h.6M528.0 646.8h.6M536.1 646.0h.6M534.3 648.4h.6M531.5 642.8h.6M535.6 648.7h.6M527.5 660.3h.6M535.6 658.4h.6M534.0 649.4h.6M532.5 658.2h.6M531.9 653.0h.6M534.6 646.9h.6M532.6 648.7h.6M525.8 654.9h.6M535.3 651.3h.6M527.5 642.0h.6M534.4 650.6h.6M523.6 650.7h.6M524.4 650.9h.6M532.7 652.6h.6M533.1 651.8h.6M526.3 649.3h.6M529.4 649.9h.6M533.4 653.8h.6M540.2 639.4h.6M534.0 650.1h.6M543.4 655.2h.6M523.7 652.8h.6M529.4 655.5h.6M526.7 650.5h.6M531.3 650.6h.6M529.1 642.7h.6M534.3 655.5h.6M531.7 646.4h.6M533.0 653.5h.6M531.1 650.9h.6M539.0 646.0h.6M529.2 642.4h.6M528.5 647.7h.6M527.2 647.9h.6M541.0 650.1h.6M531.4 660.9h.6M531.7 643.2h.6M534.0 646.8h.6M540.2 645.4h.6M529.1 643.8h.6M532.5 646.4h.6M531.7 649.3h.6M528.9 655.2h.6M536.7 651.3h.6M527.5 646.2h.6M533.3 660.7h.6M529.7 647.5h.6M528.5 646.1h.6M527.1 650.1h.6M539.2 651.0h.6M529.4 643.7h.6M533.1 650.9h.6M525.9 646.1h.6M531.8 655.6h.6M535.1 651.9h.6M530.4 652.4h.6M531.9 660.8h.6M526.3 649.3h.6M538.3 649.8h.6M539.1 650.8h.6M532.7 649.3h.6M525.1 646.6h.6M543.1 653.9h.6M535.0 655.3h.6M534.8 655.6h.6M530.7 650.0h.6M536.9 649.4h.6M525.3 650.0h.6M529.3 653.8h.6M528.4 646.2h.6M530.3 658.0h.6M531.8 651.7h.6M532.0 652.3h.6M536.6 657.3h.6M523.8 657.1h.6M532.0 649.6h.6M544.0 650.2h.6M541.7 655.4h.6M526.9 653.2h.6M535.7 650.4h.6M523.0 649.5h.6M531.0 646.0h.6M541.1 649.9h.6M530.0 649.7h.6M528.1 647.5h.6M532.5 652.4h.6M529.5 650.6h.6M525.0 653.3h.6M528.3 652.0h.6M527.5 648.7h.6M533.1 645.5h.6M544.3 650.8h.6M531.6 647.7h.6M540.0 657.2h.6M533.5 644.8h.6M529.5 653.8h.6M529.4 645.7h.6M526.1 647.5h.6M532.1 648.1h.6M532.1 659.8h.6M540.9 646.3h.6M533.7 651.4h.6M531.3 655.7h.6M530.3 649.5h.6M530.1 650.5h.6M538.4 654.5h.6M525.3 649.0h.6M528.0 654.7h.6M533.1 655.0h.6M531.7 642.4h.6M534.3 652.0h.6M534.5 645.1h.6M532.4 647.9h.6M528.6 652.6h.6M533.8 647.0h.6M523.4 639.9h.6M529.1 656.1h.6M531.7 640.9h.6M527.7 652.9h.6M540.4 656.3h.6M533.8 651.9h.6M526.7 649.0h.6M530.3 647.5h.6M532.3 649.2h.6M533.7 657.5h.6M535.7 652.9h.6M530.8 644.2h.6M531.4 653.4h.6M527.0 656.6h.6M530.3 652.7h.6M530.4 645.3h.6M542.3 645.8h.6M536.6 648.5h.6M533.4 647.4h.6M529.9 655.1h.6M541.7 647.2h.6M532.1 655.3h.6M528.8 654.2h.6M528.1 653.7h.6M534.2 656.5h.6M533.8 645.6h.6M535.3 646.0h.6M535.8 657.8h.6M535.0 648.5h.6M538.0 651.8h.6M525.8 649.4h.6M539.1 649.6h.6M532.6 649.5h.6M523.6 648.7h.6M533.8 651.9h.6M531.1 641.4h.6M538.1 654.2h.6M537.1 656.9h.6M529.8 648.3h.6M533.6 658.5h.6M523.6 650.0h.6M528.4 653.5h.6M539.3 649.7h.6M525.8 651.2h.6M530.6 644.1h.6M536.4 648.6h.6M535.4 645.1h.6M537.5 644.5h.6M537.3 642.8h.6M538.9 649.3h.6M524.2 649.9h.6M533.7 646.5h.6M529.5 652.2h.6M531.2 637.2h.6M529.9 652.9h.6M533.5 655.5h.6M528.5 660.3h.6M536.0 652.4h.6M537.4 655.3h.6M532.5 648.2h.6M537.1 652.9h.6M522.5 646.0h.6M534.3 651.5h.6M533.4 653.9h.6M532.7 658.1h.6M529.1 649.2h.6M533.6 654.4h.6M535.9 657.7h.6M529.6 656.3h.6M534.3 646.3h.6M531.3 660.4h.6M535.9 648.9h.6M523.2 647.7h.6M528.5 651.3h.6M543.6 654.4h.6M533.6 646.8h.6M526.1 650.1h.6M529.7 659.4h.6M530.0 648.2h.6M537.6 651.3h.6M525.8 656.8h.6M530.4 645.0h.6M533.6 653.2h.6M530.3 654.1h.6M536.1 647.0h.6M522.2 640.2h.6M531.4 656.5h.6M537.0 657.3h.6M541.3 651.1h.6M537.3 644.1h.6M535.4 652.8h.6M531.5 649.0h.6M526.4 651.6h.6M538.4 649.3h.6M534.7 648.0h.6M533.3 646.5h.6M533.9 650.0h.6M533.6 648.3h.6M526.1 649.5h.6M537.2 658.1h.6M530.4 654.6h.6M535.8 652.8h.6M524.2 652.5h.6M527.2 656.3h.6M535.9 653.8h.6M523.6 653.8h.6M535.5 645.3h.6M536.9 651.3h.6M531.1 647.8h.6M526.9 649.0h.6M547.4 651.9h.6M533.0 648.1h.6M528.9 648.5h.6M527.6 654.9h.6M530.6 654.9h.6M526.2 655.2h.6M531.9 654.0h.6M531.5 647.0h.6M538.1 649.0h.6M531.3 647.0h.6M533.0 649.2h.6M533.4 652.6h.6M528.6 644.7h.6M534.2 655.1h.6M535.5 645.8h.6M535.0 652.7h.6M533.4 652.9h.6M530.4 652.0h.6M536.6 648.7h.6M524.8 650.5h.6M533.0 642.7h.6M528.6 653.7h.6M531.2 651.4h.6M525.7 655.1h.6M540.8 650.1h.6M528.3 645.8h.6M536.5 651.5h.6M528.0 656.5h.6M535.8 653.7h.6M523.2 650.5h.6M535.1 645.5h.6M536.6 657.4h.6M537.2 647.8h.6M528.5 655.2h.6M537.0 656.5h.6M538.0 650.6h.6M530.0 642.7h.6M535.9 660.9h.6M529.7 648.9h.6M535.2 652.7h.6M525.1 647.8h.6M526.5 660.1h.6M528.4 654.8h.6M541.6 659.5h.6M539.1 658.3h.6M525.8 649.4h.6M528.4 649.7h.6M545.1 643.4h.6M534.8 645.4h.6M538.7 656.8h.6M529.4 660.3h.6M532.4 656.9h.6M533.6 648.5h.6M530.1 650.5h.6M535.1 651.6h.6M543.8 650.1h.6M529.7 647.8h.6M528.1 644.5h.6M527.1 655.1h.6M532.3 650.2h.6M533.8 655.8h.6M535.1 654.5h.6M529.2 649.8h.6M528.1 650.6h.6M527.9 649.3h.6M531.1 650.0h.6M530.7 648.8h.6M538.5 649.5h.6M526.9 651.9h.6M526.6 646.2h.6M532.4 643.5h.6M525.7 652.3h.6M537.2 643.5h.6M527.5 653.6h.6M522.1 647.1h.6M526.0 650.1h.6M522.1 655.0h.6M531.3 652.4h.6M530.4 641.5h.6M531.2 645.0h.6M532.1 647.2h.6M530.4 650.1h.6M535.9 654.5h.6M527.0 650.9h.6M539.3 653.2h.6M528.4 650.5h.6M530.3 655.2h.6M532.2 652.7h.6M543.1 644.8h.6M526.9 643.2h.6M524.0 654.9h.6M533.5 658.3h.6M522.1 647.0h.6M539.2 655.6h.6M536.4 654.9h.6M532.2 651.0h.6M532.2 654.8h.6M531.2 652.4h.6M539.3 645.9h.6M528.2 653.5h.6M530.7 650.3h.6M542.5 652.9h.6M529.9 655.9h.6M544.6 646.0h.6M528.6 651.5h.6M528.8 660.8h.6M534.6 649.2h.6M534.5 647.4h.6M529.0 651.5h.6M543.9 640.9h.6M534.1 657.1h.6M535.7 659.7h.6M534.3 651.7h.6M531.3 647.1h.6M540.2 645.7h.6M531.4 648.6h.6M528.1 641.0h.6M530.1 651.6h.6M532.7 654.8h.6M531.2 648.1h.6M533.5 654.0h.6M527.5 644.2h.6M526.9 655.8h.6M537.0 647.0h.6M532.6 654.8h.6M538.6 648.0h.6M530.8 657.3h.6M544.1 657.9h.6M526.3 653.0h.6M530.5 650.7h.6M528.7 648.8h.6M531.9 659.1h.6M535.5 652.9h.6M532.1 647.6h.6M530.9 656.6h.6M536.2 659.8h.6M533.3 650.9h.6M523.9 652.8h.6M523.4 657.9h.6M528.9 651.0h.6M525.2 648.8h.6M527.3 656.1h.6M533.2 645.7h.6M522.3 650.7h.6M529.6 646.0h.6M534.9 650.2h.6M532.6 648.3h.6M529.1 648.9h.6M524.0 653.8h.6M534.0 643.2h.6M532.5 656.2h.6M533.2 656.8h.6M530.7 651.0h.6M525.5 646.9h.6M522.9 647.0h.6M533.2 653.3h.6M537.8 651.6h.6M527.1 652.9h.6M531.3 659.0h.6M541.8 655.3h.6M526.3 648.6h.6M533.0 647.8h.6M534.6 654.1h.6M536.2 652.0h.6M527.6 647.2h.6M531.4 657.0h.6M539.9 655.4h.6M533.8 654.0h.6M536.1 656.8h.6M536.3 644.1h.6M536.8 652.7h.6M529.7 653.4h.6M533.4 650.8h.6M523.6 651.5h.6M534.8 650.8h.6M524.1 653.1h.6M535.6 651.8h.6M534.1 649.4h.6M528.7 653.4h.6M530.2 651.8h.6M548.3 654.2h.6M532.7 643.7h.6M532.5 654.4h.6M528.5 649.9h.6M522.8 653.5h.6M529.0 654.1h.6M538.8 650.3h.6M536.9 652.1h.6M531.0 649.7h.6M527.7 656.8h.6M536.4 646.5h.6M536.2 647.7h.6M524.5 656.4h.6M525.6 656.3h.6M533.0 655.1h.6M534.6 656.2h.6M533.7 653.6h.6M533.2 655.9h.6M530.0 655.6h.6M539.5 650.7h.6M534.2 648.7h.6M530.6 652.2h.6M530.3 647.0h.6M531.9 651.9h.6M533.6 654.2h.6M523.1 657.4h.6M531.1 647.5h.6M530.1 653.0h.6M536.4 649.4h.6M532.8 643.8h.6M532.8 650.5h.6M529.8 655.0h.6M541.0 655.6h.6M528.1 657.9h.6M530.3 650.8h.6M529.1 653.1h.6M534.8 651.7h.6M531.0 650.4h.6M530.0 655.4h.6M529.4 650.3h.6M531.0 647.6h.6M530.9 644.4h.6M534.0 653.4h.6M530.5 658.0h.6M527.9 653.5h.6M534.4 648.6h.6M530.8 655.0h.6M532.3 652.3h.6M539.0 652.0h.6M523.7 647.7h.6M536.2 650.4h.6M526.6 642.1h.6M533.6 657.7h.6M525.8 641.3h.6M534.5 648.6h.6M530.5 649.6h.6M527.5 653.0h.6M536.6 652.6h.6M529.2 655.7h.6M531.5 653.6h.6M527.4 653.9h.6M535.7 656.8h.6M532.1 653.0h.6M529.1 655.0h.6M535.9 655.8h.6M530.1 645.6h.6M531.7 650.1h.6M528.3 653.7h.6M536.7 652.8h.6M537.5 652.8h.6M527.2 648.4h.6M530.3 654.1h.6M536.6 651.6h.6M537.0 647.3h.6M531.4 657.7h.6M534.2 655.7h.6M522.7 643.6h.6M527.7 655.5h.6M540.0 648.3h.6M527.1 646.5h.6M527.6 653.5h.6M530.5 659.4h.6M535.6 648.0h.6M533.2 650.3h.6M535.9 655.0h.6M530.3 655.0h.6M534.8 650.6h.6M533.3 654.0h.6M530.4 648.0h.6M538.3 651.0h.6M529.1 653.1h.6M524.8 651.3h.6M525.3 649.1h.6M523.2 647.8h.6M536.4 650.2h.6M526.0 658.7h.6M528.9 657.6h.6M529.4 644.5h.6M541.1 649.1h.6M535.8 656.3h.6M525.6 651.3h.6M529.2 653.7h.6M532.0 645.4h.6M532.3 654.4h.6M530.6 653.5h.6M529.4 650.8h.6M533.7 651.7h.6M538.3 655.2h.6M536.2 654.2h.6M532.8 645.9h.6M537.2 658.7h.6M533.1 649.9h.6M531.9 656.4h.6M533.4 646.7h.6M531.2 647.7h.6M531.0 647.1h.6M527.8 657.6h.6M537.2 643.9h.6M527.2 649.1h.6M530.1 644.9h.6M536.4 643.9h.6M535.4 654.1h.6M530.2 648.1h.6M532.3 651.7h.6M522.1 645.5h.6M534.6 650.6h.6M530.0 646.7h.6M528.6 647.7h.6M545.7 645.5h.6M539.5 653.1h.6M533.1 651.9h.6M530.2 658.1h.6M534.5 650.9h.6M531.4 651.9h.6M526.5 649.6h.6M529.0 653.8h.6M535.0 642.8h.6M531.0 655.4h.6M525.7 645.8h.6M536.9 650.5h.6M529.8 645.7h.6M532.9 648.6h.6M533.1 652.9h.6M535.5 649.6h.6M529.5 651.2h.6M531.6 651.8h.6M529.5 650.0h.6M529.2 648.4h.6M532.8 656.1h.6M529.4 653.6h.6M533.7 651.5h.6M535.4 648.6h.6M534.8 652.4h.6M526.2 652.6h.6M535.0 659.6h.6M526.9 651.5h.6M533.8 646.8h.6M537.9 653.0h.6M528.1 645.8h.6M530.0 660.8h.6M542.6 640.1h.6M523.1 654.0h.6M531.5 648.2h.6M535.0 651.5h.6M533.4 652.2h.6M526.7 656.8h.6M529.8 656.0h.6M535.4 651.2h.6M532.7 650.8h.6M523.0 649.6h.6M534.1 643.9h.6M524.7 655.8h.6M536.0 644.2h.6M534.3 650.8h.6M536.8 649.6h.6M530.9 647.7h.6M532.9 650.5h.6M528.8 649.5h.6M528.3 653.8h.6M527.0 644.2h.6M527.3 655.8h.6M529.5 653.9h.6M535.6 648.8h.6M535.7 653.3h.6M531.8 647.9h.6M531.7 645.3h.6M530.7 648.5h.6M534.2 652.5h.6M528.9 654.9h.6M537.9 651.3h.6M528.4 653.3h.6M523.2 648.4h.6M534.9 659.9h.6M528.4 657.8h.6M543.5 659.4h.6M523.0 655.9h.6M533.0 655.5h.6M531.1 648.3h.6M530.9 657.7h.6M536.2 649.7h.6M533.9 654.9h.6M534.8 650.8h.6M528.8 647.7h.6M529.9 648.6h.6M524.2 644.7h.6M536.4 646.0h.6M525.5 650.8h.6M539.2 656.6h.6M530.0 646.4h.6M529.4 647.0h.6M529.3 653.2h.6M526.7 647.5h.6M530.7 650.9h.6M528.2 647.5h.6M526.4 647.7h.6M534.6 649.9h.6M525.3 653.8h.6M531.7 647.1h.6M530.7 637.5h.6M523.8 656.2h.6M542.6 660.8h.6M528.4 651.2h.6M535.9 645.5h.6M540.7 647.8h.6M533.8 645.9h.6M533.8 650.9h.6M537.4 645.8h.6M532.0 659.2h.6M526.1 652.6h.6M534.2 648.8h.6M530.7 657.4h.6M537.7 653.6h.6M533.3 645.9h.6M532.5 659.1h.6M537.3 644.9h.6M522.2 648.0h.6M532.8 648.5h.6M530.5 652.5h.6M536.5 652.0h.6M538.3 644.6h.6M534.3 652.9h.6M524.6 656.6h.6M524.0 644.5h.6M545.4 656.8h.6M533.9 657.1h.6M537.8 645.9h.6M534.4 657.3h.6M531.2 651.3h.6M529.7 654.3h.6M529.2 648.4h.6M525.9 646.8h.6M533.1 653.1h.6M530.1 646.3h.6M533.7 652.6h.6M538.4 648.8h.6M529.9 653.3h.6M539.7 650.8h.6M531.6 646.8h.6M530.1 655.3h.6M536.3 656.1h.6M523.8 654.8h.6M527.4 653.7h.6M523.1 650.6h.6M527.6 656.8h.6M532.6 656.9h.6M529.8 659.9h.6M529.8 659.6h.6M529.6 646.6h.6M536.5 649.2h.6M531.7 644.9h.6M530.3 651.5h.6M528.4 652.8h.6M522.9 655.1h.6M529.9 657.7h.6M530.2 648.0h.6M529.7 652.3h.6M535.0 648.9h.6M528.0 653.0h.6M536.2 643.1h.6M526.7 647.9h.6M540.6 656.6h.6M536.0 653.3h.6M526.4 656.1h.6M529.8 647.4h.6M541.8 644.4h.6M539.0 651.9h.6M527.4 651.8h.6M527.7 651.9h.6M528.7 645.6h.6M545.5 648.7h.6M537.0 650.8h.6M535.4 645.3h.6M526.7 636.1h.6M537.1 653.0h.6M526.1 654.8h.6M535.0 659.5h.6M533.2 655.2h.6M535.1 654.5h.6M531.9 649.1h.6M535.6 656.6h.6M526.1 645.8h.6M531.8 659.2h.6M531.0 643.3h.6M536.1 654.5h.6M541.9 651.9h.6M542.0 647.7h.6M536.6 651.6h.6M526.0 649.8h.6M538.8 656.1h.6M530.1 656.1h.6M536.6 655.1h.6M533.5 652.4h.6M527.8 650.7h.6M532.6 647.7h.6M530.6 651.8h.6M533.1 655.8h.6M526.8 649.2h.6M533.4 649.3h.6M533.7 648.9h.6M538.0 650.0h.6M526.3 654.4h.6M540.4 642.2h.6M531.4 651.3h.6M537.3 657.8h.6M531.2 643.9h.6M535.4 655.6h.6M534.4 651.4h.6M527.9 660.5h.6M526.0 644.2h.6M537.0 652.3h.6M535.4 652.7h.6M540.6 657.5h.6M529.2 655.6h.6M526.1 643.3h.6M538.1 649.1h.6M522.5 650.9h.6M528.7 653.3h.6M531.7 647.5h.6M528.4 654.5h.6M527.3 651.6h.6M527.0 653.1h.6M541.0 653.6h.6M537.7 653.1h.6M527.2 649.7h.6M532.4 653.0h.6M529.0 653.8h.6M528.4 651.3h.6M532.0 645.8h.6M537.1 651.3h.6M532.6 650.9h.6M522.4 644.7h.6M527.5 655.5h.6M529.1 653.8h.6M526.8 647.2h.6M529.7 655.8h.6M523.7 650.2h.6M534.1 651.6h.6M532.0 654.6h.6M533.5 646.5h.6M535.2 647.5h.6M530.3 657.6h.6M544.4 657.6h.6M534.2 647.5h.6M528.2 658.6h.6M533.7 644.7h.6M540.0 653.7h.6M538.7 652.9h.6M522.5 647.7h.6M531.3 650.3h.6M539.7 648.0h.6M531.5 650.8h.6M531.6 646.3h.6M525.9 639.3h.6M533.7 650.1h.6M533.1 646.2h.6M532.0 646.6h.6M526.9 652.6h.6M535.2 653.7h.6M531.8 649.3h.6M539.1 656.7h.6M528.8 646.1h.6M533.9 652.5h.6M527.4 660.8h.6M522.3 647.2h.6M533.3 655.5h.6M522.7 649.1h.6M539.3 657.4h.6M530.8 651.2h.6M527.6 652.8h.6M526.7 641.8h.6M524.4 651.3h.6M525.4 656.1h.6M538.5 655.6h.6M535.3 656.2h.6M533.4 655.0h.6M534.4 654.6h.6M526.9 648.0h.6M527.0 654.8h.6M534.6 647.5h.6M527.1 648.4h.6M536.4 650.5h.6M530.8 647.9h.6M531.4 658.3h.6M528.6 649.4h.6M540.6 654.3h.6M526.3 656.0h.6M525.7 653.6h.6M523.6 646.5h.6M536.7 648.3h.6M528.4 651.3h.6M532.0 648.9h.6M528.6 659.2h.6M539.6 652.5h.6M526.2 648.6h.6M530.6 653.2h.6M540.1 648.7h.6M532.8 649.1h.6M532.7 647.9h.6M533.9 656.3h.6M530.0 649.5h.6M532.6 645.1h.6M541.2 645.0h.6M530.2 647.0h.6M539.6 648.8h.6M529.5 659.6h.6M531.4 647.5h.6M532.0 651.9h.6M528.3 650.2h.6M531.0 654.3h.6M535.9 654.8h.6M531.4 654.6h.6M531.0 656.3h.6M534.1 649.1h.6M538.2 644.2h.6M527.2 647.4h.6M531.4 645.5h.6M526.0 642.5h.6M532.6 647.6h.6M543.1 654.5h.6M526.3 657.0h.6M532.6 655.9h.6M526.4 656.3h.6M537.6 649.1h.6M527.8 649.3h.6M533.4 660.6h.6M541.1 657.8h.6M530.9 649.6h.6M533.9 649.8h.6M529.7 650.1h.6M536.3 650.7h.6M533.2 649.8h.6M531.1 649.5h.6M538.4 652.1h.6M539.6 650.3h.6M537.4 644.8h.6M530.0 650.8h.6M528.9 650.5h.6M527.4 650.3h.6M528.7 651.0h.6M530.6 646.5h.6M530.0 651.2h.6M525.6 651.5h.6M538.3 650.0h.6M534.8 653.9h.6M528.0 657.0h.6M544.7 646.4h.6M542.8 647.8h.6M539.4 642.8h.6M537.8 651.7h.6M525.6 647.3h.6M526.8 647.0h.6M533.9 650.2h.6M523.5 649.6h.6M534.4 651.4h.6M540.5 642.7h.6M533.3 651.2h.6M535.7 645.0h.6M525.5 650.3h.6M532.4 642.8h.6M533.9 651.0h.6M535.7 639.2h.6M534.6 647.0h.6M529.6 654.6h.6M540.5 651.7h.6M531.5 657.0h.6M527.5 650.3h.6M529.5 646.6h.6M533.0 660.3h.6M533.3 653.3h.6M531.9 656.1h.6M532.9 647.0h.6M532.5 657.5h.6M531.6 656.5h.6M531.7 660.2h.6M533.5 654.0h.6M530.6 654.8h.6M530.9 644.3h.6M533.6 645.6h.6M539.5 654.6h.6M532.1 654.2h.6M523.8 658.0h.6M528.8 654.1h.6M544.9 643.7h.6M530.0 652.6h.6M534.2 643.4h.6M527.4 657.8h.6M529.0 653.5h.6M525.1 646.9h.6M522.9 652.3h.6M537.9 651.5h.6M530.7 652.1h.6M534.4 649.7h.6M534.8 659.9h.6M543.2 648.4h.6M525.7 659.7h.6M537.0 656.5h.6M535.1 650.0h.6M537.0 656.1h.6M538.0 646.1h.6M537.2 649.4h.6M530.2 652.6h.6M530.3 660.8h.6M534.9 652.3h.6M531.1 652.2h.6M530.9 653.7h.6M536.4 654.8h.6M525.7 649.5h.6M532.5 645.5h.6M533.9 650.4h.6M532.3 652.8h.6M528.9 658.1h.6M537.3 648.6h.6M534.4 654.4h.6M528.2 649.4h.6M535.6 639.4h.6M525.4 652.5h.6M535.2 646.9h.6M536.4 661.0h.6M533.1 650.9h.6M532.4 646.5h.6M534.8 651.9h.6M535.8 657.5h.6M532.2 651.9h.6M533.7 658.9h.6M524.7 651.0h.6M528.9 651.6h.6M536.2 651.4h.6M535.8 651.9h.6M528.5 648.1h.6M525.1 652.1h.6M530.1 654.9h.6M536.9 647.0h.6M526.6 653.8h.6M527.6 652.0h.6M535.1 649.3h.6M541.0 647.5h.6M534.2 649.2h.6M524.7 650.3h.6M531.3 653.7h.6M531.4 647.8h.6M529.5 649.7h.6M535.9 649.8h.6M538.3 654.9h.6M528.3 655.7h.6M522.8 651.2h.6M527.1 650.6h.6M537.9 651.1h.6M531.2 656.8h.6M528.2 647.3h.6M537.0 653.8h.6M524.9 651.7h.6M536.0 650.3h.6M530.0 651.7h.6M533.1 647.9h.6M536.3 643.9h.6M531.7 660.7h.6M526.7 650.9h.6M522.8 647.3h.6M526.3 651.3h.6M529.6 659.4h.6M527.4 650.9h.6M533.1 654.0h.6M536.5 644.0h.6M543.1 649.7h.6M528.5 643.6h.6M529.8 643.0h.6M533.0 648.3h.6M533.7 647.5h.6M532.4 661.0h.6M537.9 651.8h.6M527.1 657.6h.6M523.5 644.7h.6M538.6 648.3h.6M538.8 653.6h.6M543.0 659.1h.6M535.0 648.2h.6M535.0 657.4h.6M532.7 638.0h.6M530.1 649.4h.6M531.7 649.5h.6M537.8 645.3h.6M534.2 642.1h.6M522.5 646.5h.6M528.3 647.0h.6M528.5 653.8h.6M534.9 651.4h.6M533.0 647.9h.6M527.1 644.6h.6M529.9 645.9h.6M530.4 654.3h.6M534.8 657.0h.6M527.3 641.1h.6M526.5 660.0h.6M535.5 649.0h.6M538.6 649.1h.6M540.4 649.2h.6M530.0 654.2h.6M526.3 650.3h.6M541.7 653.0h.6M526.5 649.9h.6M531.9 647.6h.6M534.1 656.6h.6M532.2 655.0h.6M533.5 651.6h.6M528.2 655.3h.6M538.8 649.0h.6M527.6 653.4h.6M532.5 656.1h.6M534.5 650.4h.6M525.1 653.8h.6M532.5 645.3h.6M524.5 642.8h.6M535.1 649.0h.6M526.0 647.0h.6M528.8 650.5h.6M532.2 649.5h.6M535.7 655.6h.6M530.9 658.1h.6M531.4 647.1h.6M532.8 644.5h.6M530.5 646.2h.6M529.8 651.9h.6M523.4 652.8h.6M533.3 650.0h.6M535.6 652.5h.6M530.2 646.5h.6M535.7 654.4h.6M524.6 647.7h.6M526.1 654.7h.6M529.1 645.3h.6M539.5 653.0h.6M533.2 652.1h.6M531.1 651.1h.6M536.5 653.0h.6M529.7 651.4h.6M541.4 648.5h.6M525.4 651.5h.6M526.3 660.2h.6M535.1 653.6h.6M533.8 659.9h.6M526.9 650.7h.6M523.6 656.6h.6M531.6 659.0h.6M530.6 646.3h.6M528.4 654.6h.6M527.8 652.1h.6M528.3 647.7h.6M529.2 658.3h.6M526.6 652.4h.6M536.0 647.6h.6M524.4 657.8h.6M540.7 649.8h.6M525.9 654.9h.6M531.8 647.2h.6M530.0 640.1h.6M527.9 645.4h.6M525.3 653.6h.6M533.3 658.6h.6M524.1 647.9h.6M527.7 657.0h.6M537.2 651.5h.6M532.4 647.5h.6M529.3 648.9h.6M523.7 659.5h.6M535.6 660.4h.6M538.2 653.2h.6M536.1 643.3h.6M526.8 654.8h.6M530.0 643.6h.6M531.9 645.1h.6M531.9 658.0h.6M526.2 648.9h.6M534.7 650.8h.6M532.8 647.1h.6M530.2 640.1h.6M531.0 656.8h.6M526.2 650.1h.6M535.5 656.5h.6M537.8 646.9h.6M529.8 658.9h.6M529.5 652.2h.6M527.6 647.9h.6M525.1 648.4h.6M522.7 646.3h.6M526.9 657.1h.6M535.8 652.7h.6M529.3 644.6h.6M534.3 647.1h.6M531.3 655.2h.6M530.9 650.8h.6M526.8 655.7h.6M534.6 654.1h.6M540.1 643.5h.6M532.0 653.8h.6M533.6 652.3h.6M534.2 643.9h.6M531.5 656.2h.6M531.6 650.0h.6M536.2 642.9h.6M533.9 657.8h.6M530.6 647.1h.6M534.5 648.8h.6M527.7 651.6h.6M523.5 653.9h.6M525.8 648.4h.6M535.5 650.7h.6M533.2 657.2h.6M539.6 660.4h.6M529.1 655.1h.6M523.5 654.5h.6M538.5 647.6h.6M534.2 654.7h.6M531.1 648.0h.6M539.5 644.9h.6M532.7 655.2h.6M533.1 658.1h.6M539.4 653.0h.6M540.9 654.3h.6M525.6 649.4h.6M533.2 651.8h.6M523.3 660.8h.6M523.9 645.7h.6M534.1 651.8h.6M539.7 651.9h.6M533.8 654.2h.6M528.2 645.0h.6M529.5 655.5h.6M530.4 656.6h.6M529.1 654.3h.6M532.0 654.7h.6M531.9 651.8h.6M529.5 656.6h.6M531.7 653.2h.6M535.2 646.8h.6M527.7 650.7h.6M538.4 646.1h.6M526.7 646.4h.6M529.9 646.0h.6M527.8 653.3h.6M526.4 650.9h.6M525.9 650.0h.6M534.5 641.8h.6M532.2 651.9h.6M531.6 652.1h.6M534.0 645.0h.6M531.3 653.9h.6M538.4 644.7h.6M528.9 644.7h.6M531.8 646.0h.6M526.9 654.4h.6M543.3 641.5h.6M540.2 646.7h.6M535.4 652.5h.6M538.2 650.0h.6M527.7 650.6h.6M535.9 646.9h.6M534.0 650.9h.6M532.8 651.0h.6M535.0 654.6h.6M530.5 649.3h.6M522.6 646.9h.6M524.2 654.0h.6M526.5 647.8h.6M534.6 655.5h.6M538.1 647.1h.6M533.1 655.8h.6M527.6 649.9h.6M525.8 648.0h.6M535.5 651.4h.6M530.1 648.4h.6M539.6 654.4h.6M525.7 660.8h.6M529.8 650.2h.6M529.5 648.3h.6M535.2 644.4h.6M532.1 649.5h.6M540.7 652.7h.6M534.1 653.3h.6M534.9 651.5h.6M523.5 652.9h.6M530.3 654.1h.6M533.5 648.5h.6M527.4 646.3h.6M533.4 650.5h.6M527.5 649.3h.6M533.7 647.9h.6M531.3 648.2h.6M523.9 651.4h.6M532.3 654.6h.6M538.5 647.7h.6M534.9 652.2h.6M532.3 654.7h.6M536.3 645.2h.6M539.4 650.1h.6M528.6 647.8h.6M530.8 645.9h.6M537.4 652.9h.6M527.4 654.7h.6M533.1 651.3h.6M536.8 650.5h.6M530.6 653.2h.6M522.7 645.5h.6M534.5 655.8h.6M523.5 651.0h.6M528.6 649.7h.6M535.0 657.7h.6M540.8 655.2h.6M535.2 651.6h.6M522.6 652.7h.6M526.0 645.9h.6M532.6 643.8h.6M540.9 653.7h.6M533.8 653.1h.6M533.2 651.3h.6M535.5 647.9h.6M533.3 651.7h.6M535.9 646.0h.6M533.2 650.4h.6M535.1 653.4h.6M532.9 653.0h.6M534.2 657.1h.6M533.5 653.4h.6M527.3 650.0h.6M535.8 655.7h.6M527.1 650.8h.6M530.6 651.2h.6M529.5 649.0h.6M531.6 651.5h.6M537.1 647.1h.6M527.1 654.5h.6M534.5 650.1h.6M526.2 655.7h.6M526.6 656.1h.6M533.2 650.3h.6M531.1 654.7h.6M532.0 643.1h.6M528.4 641.3h.6M534.0 655.1h.6M537.1 644.9h.6M542.6 659.2h.6M531.4 642.0h.6M527.6 655.7h.6M542.3 648.5h.6M522.7 646.6h.6M541.6 650.9h.6M524.9 641.5h.6M535.1 654.6h.6M529.6 650.1h.6M532.3 649.4h.6M529.2 648.4h.6M529.0 656.5h.6M534.0 655.6h.6M541.2 640.6h.6M531.6 655.3h.6M530.9 648.3h.6M533.9 648.6h.6M527.7 649.6h.6M532.2 651.0h.6M536.5 651.0h.6M529.6 659.3h.6M530.8 649.7h.6M531.2 647.8h.6M524.0 651.8h.6M539.3 642.7h.6M528.2 652.9h.6M528.5 653.3h.6M531.7 646.0h.6M530.9 648.6h.6M534.7 639.5h.6M534.0 657.0h.6M532.7 652.0h.6M529.3 652.5h.6M531.2 645.2h.6M526.0 640.5h.6M534.1 651.7h.6M537.4 652.1h.6M535.4 644.9h.6M522.6 648.4h.6M530.3 652.6h.6M531.3 650.2h.6M532.2 652.1h.6M533.0 652.4h.6M529.4 650.5h.6M524.6 645.9h.6M530.6 652.9h.6M528.2 644.6h.6M536.7 647.2h.6M523.3 646.6h.6M526.0 640.0h.6M530.0 658.6h.6M528.2 647.3h.6M537.7 651.3h.6M531.4 657.1h.6M526.0 650.7h.6M534.5 651.9h.6M526.1 646.8h.6M540.9 650.5h.6M530.6 655.8h.6M523.0 650.7h.6M523.1 657.2h.6M527.0 651.5h.6M527.3 651.5h.6M533.5 651.0h.6M530.4 652.1h.6M530.7 648.7h.6M535.1 654.8h.6M525.2 646.4h.6M528.1 652.3h.6M524.9 658.0h.6M532.2 651.7h.6M536.3 647.6h.6M533.8 652.8h.6M538.4 646.2h.6M538.9 653.7h.6M533.2 655.8h.6M530.7 650.1h.6M536.2 649.4h.6M537.4 657.2h.6M533.1 651.8h.6M528.7 646.9h.6M539.2 646.3h.6M532.4 652.3h.6M527.5 647.9h.6M528.5 660.5h.6M533.9 657.2h.6M542.2 655.5h.6M538.6 649.0h.6M528.6 657.5h.6M539.3 646.4h.6M537.7 652.3h.6M536.0 655.4h.6M541.5 648.2h.6M532.0 656.7h.6M530.8 653.5h.6M531.7 643.4h.6M529.3 655.0h.6M529.3 644.1h.6M529.6 651.5h.6M534.5 652.6h.6M534.7 646.3h.6M529.1 647.6h.6M529.9 653.1h.6M538.7 650.0h.6M537.4 656.1h.6M526.4 647.4h.6M532.9 644.9h.6M541.4 642.7h.6M526.0 654.6h.6M528.4 654.3h.6M527.2 655.8h.6M529.2 654.4h.6M537.1 644.4h.6M527.7 643.2h.6M526.6 655.2h.6M532.0 654.9h.6M539.2 655.8h.6M535.7 649.2h.6M530.2 652.6h.6M536.5 656.0h.6M533.6 649.8h.6M531.8 658.6h.6M533.5 660.1h.6M528.6 655.1h.6M533.2 654.6h.6M528.4 652.7h.6M531.8 649.9h.6M526.2 644.8h.6M530.5 653.6h.6M533.5 652.2h.6M533.8 645.1h.6M537.5 651.5h.6M528.4 648.7h.6M537.1 652.0h.6M523.9 660.6h.6M524.8 658.9h.6M536.4 646.7h.6M538.4 656.8h.6M537.4 654.1h.6M533.8 652.1h.6M529.5 652.4h.6M538.6 650.7h.6M542.0 644.2h.6M532.4 644.5h.6M523.5 652.3h.6M530.6 648.7h.6M526.9 650.1h.6M524.1 650.3h.6M529.6 645.6h.6M534.3 642.8h.6M534.3 652.4h.6M534.8 651.8h.6M536.2 650.0h.6M526.8 652.9h.6M528.3 649.6h.6M532.8 647.0h.6M537.1 644.3h.6M538.3 651.0h.6M540.7 656.2h.6M535.6 652.5h.6M532.8 645.0h.6M529.4 647.0h.6M528.7 650.6h.6M528.3 651.8h.6M530.9 649.1h.6M534.2 653.3h.6M525.5 649.8h.6M546.8 651.2h.6M534.5 647.2h.6M537.1 658.1h.6M535.1 650.6h.6M532.3 642.7h.6M535.2 649.8h.6M534.2 652.9h.6M533.3 660.6h.6M536.8 648.3h.6M535.2 654.0h.6M532.4 657.5h.6M530.4 643.4h.6M526.9 652.9h.6M527.3 651.9h.6M524.7 652.9h.6M530.9 647.1h.6M529.4 650.0h.6M536.7 652.2h.6M531.2 651.9h.6M536.6 653.3h.6M540.9 648.0h.6M536.3 651.7h.6M529.1 653.9h.6M536.4 655.6h.6M534.6 647.3h.6M533.1 652.9h.6M540.5 651.7h.6M533.0 658.2h.6M532.5 649.2h.6M533.6 654.6h.6M533.0 643.7h.6M530.2 655.7h.6M528.5 655.0h.6M533.1 647.6h.6M536.2 641.6h.6M522.1 644.3h.6M534.8 650.0h.6M535.3 650.8h.6M532.9 648.8h.6M530.2 655.6h.6M536.0 645.2h.6M535.1 660.2h.6M536.0 647.0h.6M535.9 652.2h.6M530.6 655.5h.6M538.3 648.9h.6M532.8 649.4h.6M532.2 658.3h.6M530.1 653.7h.6M533.5 651.6h.6M526.6 654.0h.6M526.8 654.4h.6M531.8 651.8h.6M529.9 647.4h.6M527.1 651.2h.6M531.8 652.5h.6M530.8 654.6h.6M532.9 651.7h.6M531.0 651.1h.6M535.4 648.1h.6M526.3 652.9h.6M534.3 651.3h.6M533.4 645.4h.6M527.4 651.2h.6M532.0 645.7h.6M534.5 642.7h.6M538.3 646.5h.6M529.4 646.6h.6M525.6 649.8h.6M522.9 649.7h.6M533.0 649.9h.6M532.1 644.8h.6M523.1 645.3h.6M537.4 652.6h.6M523.4 658.7h.6M535.3 656.0h.6M537.2 656.9h.6M523.9 651.5h.6M528.4 659.7h.6M535.6 651.1h.6M530.9 641.8h.6M532.7 647.4h.6M538.9 654.4h.6M531.8 649.4h.6M537.6 648.8h.6M537.6 652.1h.6M530.8 652.8h.6M540.8 644.1h.6M535.9 654.4h.6M530.9 657.6h.6M535.5 653.6h.6M527.2 653.7h.6M525.8 653.4h.6M542.8 647.2h.6M539.8 646.4h.6M532.5 654.3h.6M525.0 652.6h.6M528.4 648.4h.6M536.3 650.8h.6M534.2 651.2h.6M534.0 658.1h.6M532.8 649.9h.6M532.3 654.3h.6M534.4 641.6h.6M531.8 653.1h.6M545.0 648.5h.6M530.8 646.0h.6M531.8 643.3h.6M528.0 650.8h.6M524.7 650.0h.6M528.8 656.7h.6M540.0 660.5h.6M532.9 654.1h.6M543.9 648.3h.6M540.6 647.1h.6M537.4 644.2h.6M530.2 650.3h.6M530.9 642.5h.6M532.8 649.9h.6M539.5 653.7h.6M522.3 651.7h.6M537.4 650.7h.6M528.7 645.1h.6M530.3 647.0h.6M530.8 649.7h.6M538.5 646.8h.6M533.8 646.3h.6M533.5 655.7h.6M529.3 645.9h.6M532.3 651.2h.6M529.0 653.0h.6M532.5 654.2h.6M525.3 654.5h.6M538.4 647.5h.6M542.0 652.2h.6M525.7 646.4h.6M528.5 648.2h.6M531.0 652.5h.6M531.1 649.7h.6M527.4 642.0h.6M528.6 645.7h.6M536.5 640.3h.6M537.8 638.4h.6M531.2 651.2h.6M526.6 646.8h.6M536.5 646.3h.6M531.7 651.3h.6M535.4 645.5h.6M538.7 650.4h.6M537.2 644.8h.6M537.6 650.7h.6M536.0 648.3h.6M536.4 651.3h.6M522.7 660.4h.6M528.8 653.2h.6M531.2 649.1h.6M530.3 655.2h.6M536.8 655.3h.6M524.0 654.8h.6M524.7 660.8h.6M534.1 656.2h.6M532.1 651.8h.6M528.6 660.1h.6M530.5 656.0h.6M528.1 650.5h.6M530.2 650.6h.6M529.6 654.0h.6M535.4 643.9h.6M530.0 645.2h.6M537.5 645.5h.6M534.5 651.8h.6M531.9 642.4h.6M540.6 650.5h.6M535.5 655.9h.6M527.2 646.7h.6M540.7 659.8h.6M528.1 650.8h.6M536.9 650.5h.6M538.7 653.8h.6M531.8 654.2h.6M529.8 656.8h.6M528.9 657.0h.6M544.7 643.3h.6M540.6 644.5h.6M531.8 659.4h.6M537.6 654.2h.6M534.0 651.9h.6M534.5 650.3h.6M530.7 645.6h.6M540.9 651.1h.6M541.7 654.5h.6M534.4 646.2h.6M530.9 651.4h.6M531.6 649.8h.6M522.7 649.3h.6M530.9 649.0h.6M530.6 644.1h.6M527.9 657.8h.6M527.5 648.8h.6M528.0 650.4h.6M529.6 660.2h.6M527.0 657.3h.6M529.8 653.2h.6M544.9 651.1h.6M532.1 638.3h.6M530.5 650.1h.6M532.8 652.2h.6M526.7 646.9h.6M536.0 650.0h.6M532.4 654.2h.6M532.7 651.9h.6M526.8 651.2h.6M523.7 659.2h.6M528.3 658.8h.6M529.7 650.6h.6M538.7 652.1h.6M533.1 650.0h.6M530.9 647.9h.6M528.4 643.1h.6M531.5 647.7h.6M539.3 660.8h.6M541.8 645.8h.6M530.4 650.6h.6M524.5 658.3h.6M535.8 652.5h.6M541.9 653.4h.6M530.7 652.5h.6M529.9 653.4h.6M525.7 653.5h.6M530.8 649.3h.6M530.3 650.7h.6M523.5 653.9h.6M531.3 659.3h.6M532.2 655.5h.6M532.1 650.6h.6M526.2 649.1h.6M529.3 640.3h.6M530.8 648.0h.6M533.8 655.9h.6M530.8 656.6h.6M538.5 654.7h.6M530.6 651.7h.6M540.5 658.2h.6M538.0 643.5h.6M522.7 659.3h.6M535.9 657.3h.6M535.2 649.9h.6M534.6 651.1h.6M539.8 655.1h.6M527.5 647.8h.6M537.4 655.3h.6M533.7 652.8h.6M526.0 647.4h.6M534.9 643.0h.6M534.8 653.9h.6M535.6 655.1h.6M541.9 652.6h.6M528.2 643.6h.6M522.6 651.7h.6M536.8 643.7h.6M533.2 648.1h.6M531.0 652.3h.6M532.5 645.9h.6M536.1 650.7h.6M522.9 654.8h.6M540.2 649.5h.6M540.4 644.1h.6M531.1 657.2h.6M538.9 653.6h.6M537.7 649.4h.6M536.0 655.6h.6M537.1 653.0h.6M536.6 653.3h.6M535.4 644.3h.6M535.3 647.0h.6M530.4 651.5h.6M533.6 645.3h.6M529.7 652.4h.6M530.3 651.4h.6M533.5 652.3h.6M529.6 652.1h.6M535.2 645.5h.6M536.3 646.8h.6M534.2 654.1h.6M535.5 646.0h.6M527.7 645.9h.6M535.2 651.9h.6M523.2 654.6h.6M538.3 648.9h.6M531.9 652.4h.6M527.2 649.3h.6M535.1 649.7h.6M532.3 651.8h.6M540.9 652.5h.6M534.0 649.1h.6M538.5 651.6h.6M532.2 657.2h.6M539.1 647.1h.6M530.7 657.0h.6M529.9 658.4h.6M531.5 660.1h.6M527.4 642.5h.6M525.0 660.2h.6M528.6 649.3h.6M529.4 647.9h.6M533.1 651.8h.6M529.1 648.9h.6M539.0 655.6h.6M537.3 656.9h.6M531.3 655.2h.6M540.6 647.5h.6M539.1 640.1h.6M522.7 644.6h.6M527.3 646.9h.6M529.8 654.9h.6M528.6 649.6h.6M525.7 644.0h.6M531.3 647.8h.6M536.7 651.7h.6M523.1 654.5h.6M526.2 649.4h.6M527.0 647.5h.6M529.2 645.8h.6M528.5 649.9h.6M535.8 654.4h.6M541.2 643.9h.6M530.2 656.7h.6M526.5 650.4h.6M535.8 658.1h.6M535.1 652.7h.6M531.4 654.0h.6M532.7 652.7h.6M529.0 650.6h.6M527.8 646.2h.6M527.9 647.4h.6M528.8 648.6h.6M524.6 652.5h.6M533.8 658.1h.6M523.0 644.8h.6M527.3 647.2h.6M532.5 647.3h.6M528.3 654.4h.6M531.2 643.9h.6M536.9 660.9h.6M537.8 650.4h.6M539.0 650.8h.6M530.4 652.3h.6M538.6 651.7h.6M530.6 644.9h.6M533.1 646.3h.6M531.7 644.9h.6M527.8 646.8h.6M528.8 646.0h.6M538.3 654.6h.6M530.5 646.4h.6M537.6 650.0h.6M535.0 655.7h.6M530.1 653.1h.6M534.4 649.2h.6M531.3 648.3h.6M526.1 649.4h.6M540.4 655.7h.6M545.8 651.5h.6M536.6 648.3h.6M528.4 647.2h.6M534.4 654.6h.6M522.6 654.3h.6M536.7 654.7h.6M525.8 652.0h.6M533.8 645.1h.6M526.5 661.0h.6M528.8 648.9h.6M522.4 648.3h.6M538.9 652.9h.6M527.9 651.3h.6M534.0 653.8h.6M527.2 652.8h.6M528.8 648.9h.6M527.9 647.5h.6M534.6 643.2h.6M533.1 660.0h.6M527.7 649.8h.6M531.8 658.1h.6M525.0 653.6h.6M531.6 659.9h.6M531.1 660.1h.6M527.3 652.7h.6M526.6 648.4h.6M525.9 649.3h.6M539.8 648.7h.6M544.4 658.3h.6M533.6 651.1h.6M533.7 647.7h.6M535.1 651.5h.6M522.4 651.3h.6M535.0 651.3h.6M533.7 651.1h.6M529.7 655.8h.6M539.1 649.7h.6M536.1 646.2h.6M538.3 647.4h.6M532.3 655.3h.6M529.6 651.3h.6M537.1 648.6h.6M533.8 656.0h.6M533.4 647.6h.6M530.1 650.0h.6M532.2 653.9h.6M524.4 650.8h.6M533.1 657.8h.6M524.9 647.1h.6M536.5 650.9h.6M537.5 650.9h.6M528.9 650.8h.6M538.2 654.3h.6M533.1 651.7h.6M537.4 653.8h.6M533.3 654.3h.6M532.6 646.1h.6M536.5 656.4h.6M539.0 650.8h.6M526.2 652.9h.6M529.2 642.8h.6M532.8 647.7h.6M532.4 648.9h.6M536.1 654.9h.6M534.6 656.3h.6M529.5 660.8h.6M523.6 654.4h.6M537.2 649.3h.6M532.7 645.8h.6M529.9 652.4h.6M525.9 642.5h.6M530.3 647.4h.6M527.4 650.3h.6M525.3 655.9h.6M537.7 651.2h.6M529.2 650.8h.6M531.6 647.6h.6M528.9 652.9h.6M527.7 648.3h.6M529.9 646.7h.6M533.3 645.4h.6M536.6 654.2h.6M531.9 654.8h.6M537.4 649.4h.6M531.8 648.4h.6M530.3 649.4h.6M532.5 653.3h.6M542.8 652.5h.6M536.7 650.0h.6M540.1 651.6h.6M531.2 649.8h.6M532.2 649.3h.6M532.9 658.8h.6M532.4 647.7h.6M523.0 650.6h.6M527.1 647.7h.6M532.7 652.5h.6M534.3 656.1h.6M527.4 648.2h.6M527.8 646.6h.6M528.9 647.3h.6M535.4 646.4h.6M542.7 642.0h.6M536.0 644.2h.6M529.7 645.7h.6M532.0 653.1h.6M530.0 648.1h.6M527.2 647.3h.6M527.9 648.0h.6M532.3 654.8h.6M528.6 642.1h.6M530.2 654.5h.6M527.0 652.5h.6M526.3 645.4h.6M533.0 642.9h.6M529.9 639.1h.6M526.8 652.6h.6M529.5 647.8h.6M534.5 646.9h.6M526.3 649.1h.6M531.5 651.5h.6M531.0 656.0h.6M534.6 650.3h.6M543.0 644.1h.6M533.0 647.5h.6M542.2 652.1h.6M535.8 652.6h.6M538.9 648.5h.6M536.2 643.4h.6M534.6 655.8h.6M536.0 653.5h.6M522.8 651.2h.6M530.2 657.5h.6M534.4 653.7h.6M538.2 653.1h.6M525.2 647.3h.6M522.2 656.1h.6M530.9 645.3h.6M534.2 649.0h.6M530.3 656.5h.6M522.1 644.4h.6M531.3 649.7h.6M537.3 649.3h.6M534.3 658.3h.6M525.2 644.6h.6M528.4 649.9h.6M526.5 651.9h.6M543.5 657.3h.6M558.4 655.1h.6M555.1 652.8h.6M533.6 650.7h.6M531.8 658.2h.6M539.3 647.4h.6M547.2 660.4h.6M539.6 659.9h.6M554.1 659.5h.6M549.9 649.1h.6M552.2 649.1h.6M544.2 655.2h.6M547.2 656.1h.6M559.5 656.3h.6M570.8 656.9h.6M541.5 658.3h.6M523.8 657.9h.6M566.6 646.6h.6M567.4 642.7h.6M564.2 649.8h.6M549.2 651.0h.6M546.0 655.4h.6M551.9 651.6h.6M553.1 650.0h.6M540.8 654.7h.6M562.3 646.1h.6M563.7 657.9h.6M554.6 658.9h.6M527.3 658.5h.6M543.9 653.3h.6M541.9 659.8h.6M547.8 655.0h.6M535.6 650.4h.6M557.6 651.3h.6M543.8 659.0h.6M534.6 652.2h.6M550.6 650.0h.6M560.1 653.0h.6M550.5 655.0h.6M551.6 654.4h.6M567.4 653.0h.6M553.3 649.1h.6M569.1 656.5h.6M558.8 653.3h.6M542.9 652.2h.6M556.1 646.2h.6M541.5 651.3h.6M574.9 653.6h.6M535.7 658.0h.6M563.0 655.3h.6M546.3 651.3h.6M578.1 657.3h.6M606.0 643.0h.6M534.3 649.8h.6M542.0 648.6h.6M561.1 658.3h.6M536.1 654.6h.6M562.7 653.1h.6M568.5 657.5h.6M543.2 652.5h.6M555.9 646.1h.6M550.0 656.8h.6M557.2 652.0h.6M582.8 654.9h.6M563.9 647.7h.6M566.9 649.7h.6M550.6 649.9h.6M537.8 654.7h.6M538.3 655.9h.6M543.3 658.1h.6M556.6 657.6h.6M539.8 654.7h.6M561.4 653.3h.6M551.4 649.1h.6M526.4 654.4h.6M537.9 646.8h.6M557.1 639.0h.6M543.8 655.3h.6M553.1 650.9h.6M543.6 652.8h.6M534.7 649.2h.6M562.2 647.4h.6M551.3 650.1h.6M538.1 642.3h.6M542.6 648.2h.6M540.7 651.6h.6M556.4 655.0h.6M557.0 646.2h.6M569.1 653.7h.6M561.5 645.7h.6M565.5 660.0h.6M558.9 657.4h.6M546.0 652.7h.6M552.2 655.2h.6M554.7 653.3h.6M542.1 646.1h.6M552.7 659.5h.6M541.3 654.6h.6M568.6 648.8h.6M533.6 653.8h.6M552.4 647.7h.6M570.6 655.4h.6M552.8 645.2h.6M567.7 657.5h.6M562.7 660.0h.6M540.7 647.1h.6M563.2 654.2h.6M552.4 649.6h.6M565.0 653.2h.6M563.2 646.4h.6M553.6 654.0h.6M565.0 643.8h.6M550.5 648.8h.6M553.0 651.3h.6M557.9 655.9h.6M556.1 651.6h.6M563.4 658.9h.6M553.7 648.1h.6M573.9 656.5h.6M578.8 650.0h.6M548.4 651.2h.6M551.9 644.8h.6M562.9 644.6h.6M523.1 651.8h.6M540.3 653.3h.6M539.2 645.3h.6M528.7 645.8h.6M549.5 660.3h.6M561.0 648.8h.6M569.0 653.2h.6M530.8 643.3h.6M535.0 649.1h.6M553.4 649.0h.6M546.6 647.3h.6M555.0 655.9h.6M540.3 658.2h.6M543.0 650.6h.6M572.9 655.0h.6M553.6 642.5h.6M554.0 650.2h.6M550.4 657.5h.6M546.5 660.9h.6M553.6 652.8h.6M549.3 652.5h.6M569.1 653.2h.6M541.1 648.2h.6M566.9 654.7h.6M542.9 651.4h.6M554.2 654.9h.6M541.6 652.5h.6M537.6 648.2h.6M550.3 658.7h.6M552.0 660.3h.6M557.6 658.4h.6M551.1 643.1h.6M527.0 649.9h.6M574.2 651.2h.6M547.0 655.1h.6M548.6 650.1h.6M555.4 654.0h.6M546.1 648.0h.6M572.2 647.7h.6M542.3 651.1h.6M551.3 653.5h.6M571.7 658.5h.6M552.5 652.6h.6M564.6 651.4h.6M555.0 646.6h.6M557.8 651.6h.6M535.9 653.2h.6M579.5 653.7h.6M543.5 658.4h.6M557.3 653.0h.6M571.1 656.6h.6M578.0 648.0h.6M547.8 651.6h.6M555.4 646.1h.6M556.4 645.1h.6M546.3 650.8h.6M556.1 653.6h.6M544.0 653.7h.6M556.6 651.6h.6M553.4 649.5h.6M574.6 658.8h.6M556.1 658.6h.6M542.6 649.4h.6M549.1 654.2h.6M549.1 647.5h.6M535.1 646.5h.6M564.2 654.4h.6M536.2 660.9h.6M547.2 649.7h.6M551.0 652.2h.6M548.5 651.8h.6M562.3 656.5h.6M544.9 651.2h.6M544.0 649.8h.6M551.8 650.4h.6M560.1 647.4h.6M557.6 655.7h.6M549.3 650.4h.6M560.2 650.1h.6M549.1 653.0h.6M523.5 655.5h.6M555.9 654.9h.6M536.6 649.9h.6M558.3 654.8h.6M546.0 649.7h.6M571.2 653.3h.6M567.7 645.3h.6M558.1 649.3h.6M547.0 658.3h.6M540.4 647.3h.6M544.7 650.8h.6M553.4 654.1h.6M567.8 654.3h.6M574.0 657.3h.6M559.5 651.3h.6M569.4 650.5h.6M564.8 652.2h.6M546.4 655.3h.6M561.2 653.5h.6M566.0 652.6h.6M544.3 652.4h.6M575.2 647.2h.6M531.4 652.0h.6M540.9 658.7h.6M554.9 647.4h.6M552.3 647.4h.6M558.8 656.6h.6M567.4 657.2h.6M552.8 657.9h.6M558.8 645.7h.6M569.2 647.6h.6M546.0 644.3h.6M543.2 641.6h.6M538.4 647.9h.6M538.9 650.1h.6M562.5 650.5h.6M558.2 657.5h.6M545.8 659.3h.6M552.5 651.8h.6M557.3 658.7h.6M538.6 656.6h.6M547.3 652.5h.6M541.0 639.5h.6M566.9 655.8h.6M540.5 647.5h.6M538.7 651.8h.6M577.3 651.3h.6M532.8 655.7h.6M542.2 644.1h.6M557.6 652.0h.6M555.1 655.5h.6M564.4 641.7h.6M555.0 657.7h.6M567.8 646.9h.6M531.3 646.5h.6M557.7 651.0h.6M562.7 651.1h.6M537.9 646.5h.6M550.2 656.1h.6M570.6 647.0h.6M558.3 651.7h.6M539.2 646.2h.6M571.6 649.8h.6M552.0 654.3h.6M557.3 655.4h.6M543.4 650.1h.6M556.0 653.7h.6M544.3 643.6h.6M563.3 656.2h.6M564.3 651.4h.6M531.6 650.0h.6M577.1 653.5h.6M556.0 643.9h.6M545.3 656.9h.6M557.0 651.4h.6M567.9 655.5h.6M559.5 651.2h.6M558.0 657.1h.6M556.7 645.8h.6M550.9 650.6h.6M558.0 658.3h.6M552.2 649.8h.6M561.8 654.3h.6M543.7 654.3h.6M555.3 653.7h.6M534.8 642.2h.6M535.1 643.6h.6M564.6 656.9h.6M537.6 659.3h.6M539.5 648.0h.6M578.7 645.6h.6M561.4 656.1h.6M566.2 655.3h.6M556.0 659.6h.6M552.1 652.5h.6M557.8 650.3h.6M551.3 658.0h.6M572.3 655.0h.6M551.7 649.6h.6M548.4 650.2h.6M547.8 651.6h.6M550.4 657.4h.6M536.2 650.0h.6M562.7 650.0h.6M548.2 654.8h.6M552.1 647.2h.6M554.9 655.2h.6M532.9 656.6h.6M532.7 655.5h.6M537.4 653.2h.6M552.6 657.1h.6M552.2 649.9h.6M544.2 653.1h.6M550.2 656.4h.6M558.0 658.2h.6M561.6 652.9h.6M552.3 655.1h.6M562.2 645.4h.6M557.9 650.3h.6M557.0 656.0h.6M530.3 651.5h.6M565.1 643.5h.6M555.8 652.1h.6M546.4 656.5h.6M564.1 652.2h.6M570.0 659.3h.6M555.6 656.2h.6M563.6 660.6h.6M562.8 655.5h.6M554.7 655.7h.6M572.0 651.7h.6M552.0 647.3h.6M583.8 650.2h.6M547.3 649.3h.6M567.4 653.9h.6M529.2 652.8h.6M575.1 651.9h.6M554.7 658.6h.6M550.5 651.1h.6M560.9 659.6h.6M558.6 644.1h.6M551.6 651.1h.6M562.3 650.4h.6M555.0 645.8h.6M538.4 652.5h.6M572.9 647.4h.6M534.5 658.0h.6M558.0 656.1h.6M551.4 653.4h.6M552.4 652.2h.6M574.7 650.2h.6M548.8 652.2h.6M551.3 660.6h.6M551.6 654.1h.6M538.9 654.9h.6M561.2 655.5h.6M534.4 649.1h.6M522.1 660.5h.6M552.3 660.3h.6M576.4 657.3h.6M545.9 651.1h.6M562.9 642.5h.6M570.0 659.5h.6M563.9 650.8h.6M557.8 644.3h.6M542.2 650.0h.6M544.5 660.5h.6M558.9 640.2h.6M567.2 654.7h.6M550.7 648.6h.6M578.2 653.4h.6M556.6 644.2h.6M546.6 656.7h.6M555.0 650.0h.6M549.8 644.3h.6M524.1 654.9h.6M536.1 644.4h.6M557.2 656.8h.6M549.3 657.7h.6M554.0 636.6h.6M572.9 646.8h.6M572.3 650.8h.6M552.6 649.8h.6M541.4 655.2h.6M573.4 658.6h.6M546.8 654.7h.6M566.0 655.1h.6M537.9 660.4h.6M544.5 648.0h.6M555.1 653.3h.6M546.7 645.6h.6M538.8 652.2h.6M530.9 657.8h.6M561.2 653.2h.6M555.9 647.8h.6M546.7 656.6h.6M547.2 660.1h.6M565.6 655.6h.6M550.6 647.5h.6M551.6 647.4h.6M549.0 650.4h.6M546.7 657.8h.6M542.8 648.4h.6M567.5 653.4h.6M559.3 649.0h.6M557.3 658.7h.6M553.6 654.3h.6M568.0 655.1h.6M568.2 646.2h.6M532.3 646.6h.6M558.5 648.8h.6M529.2 660.9h.6M569.1 649.5h.6M545.5 648.7h.6M562.0 654.4h.6M555.0 659.0h.6M543.5 646.2h.6M553.4 651.9h.6M554.5 654.2h.6M534.8 660.1h.6M531.9 653.8h.6M557.6 656.3h.6M556.0 648.0h.6M551.0 645.3h.6M551.4 651.0h.6M530.9 660.0h.6M546.1 654.9h.6M569.0 652.0h.6M548.4 646.6h.6M544.5 648.5h.6M551.5 656.1h.6M555.6 659.6h.6M558.1 653.3h.6M525.2 651.3h.6M556.5 644.7h.6M552.6 648.6h.6M550.7 651.9h.6M550.0 651.8h.6M557.6 653.7h.6M545.3 656.7h.6M554.0 654.0h.6M574.2 660.5h.6M579.4 651.0h.6M558.3 654.5h.6M554.5 651.4h.6M563.3 657.8h.6M579.7 649.5h.6M558.9 648.4h.6M550.1 640.3h.6M578.8 644.2h.6M554.6 643.2h.6M549.3 647.0h.6M528.2 646.9h.6M550.5 651.5h.6M530.0 655.3h.6M549.5 646.5h.6M571.5 648.6h.6M556.0 659.7h.6M553.9 651.6h.6M564.8 650.0h.6M554.1 651.4h.6M548.7 655.9h.6M556.6 659.2h.6M557.9 645.1h.6M558.0 650.7h.6M550.2 656.9h.6M558.2 644.1h.6M577.3 651.4h.6M533.7 650.4h.6M559.1 646.5h.6M542.9 643.2h.6M556.5 649.5h.6M571.5 653.5h.6M556.1 649.0h.6M565.0 645.2h.6M556.6 654.5h.6M543.8 646.2h.6M567.1 660.9h.6M557.9 660.9h.6M558.7 651.2h.6M548.4 646.0h.6M564.2 649.3h.6M545.6 653.9h.6M559.0 648.4h.6M555.7 651.3h.6M554.8 651.4h.6M548.1 639.9h.6M546.0 658.0h.6M549.2 652.9h.6M560.4 647.1h.6M554.0 650.7h.6M557.5 655.1h.6M554.1 651.0h.6M564.6 652.7h.6M535.4 658.3h.6M558.6 649.1h.6M552.4 647.3h.6M554.8 644.7h.6M565.2 654.4h.6M541.2 654.6h.6M535.7 649.4h.6M541.1 655.5h.6M561.5 645.3h.6M555.3 654.6h.6M549.0 659.6h.6M534.3 658.7h.6M571.1 650.3h.6M539.5 658.1h.6M523.4 651.9h.6M535.9 651.9h.6M546.2 645.5h.6M559.8 657.8h.6M536.7 655.3h.6M554.2 648.6h.6M546.7 654.8h.6M566.5 650.6h.6M523.5 656.0h.6M557.8 642.3h.6M546.8 651.9h.6M549.5 653.5h.6M542.4 655.2h.6M523.2 653.8h.6M545.9 651.4h.6M560.8 658.8h.6M540.7 651.5h.6M540.7 652.2h.6M546.0 646.0h.6M566.4 653.8h.6M553.0 658.6h.6M533.2 654.0h.6M572.3 650.2h.6M542.5 648.0h.6M567.7 657.3h.6M556.8 656.6h.6M544.9 650.0h.6M562.9 647.2h.6M555.5 651.8h.6M542.7 653.0h.6M537.5 648.7h.6M529.1 645.6h.6M542.2 653.7h.6M553.0 645.6h.6M549.8 660.0h.6M553.7 654.0h.6M527.4 649.4h.6M566.5 644.7h.6M542.0 648.2h.6M551.2 654.9h.6M531.7 655.3h.6M522.6 647.3h.6M557.6 646.0h.6M542.5 649.2h.6M571.9 646.8h.6M564.2 660.7h.6M548.0 647.8h.6M552.6 646.8h.6M548.1 646.4h.6M534.6 643.7h.6M563.6 648.4h.6M538.6 657.2h.6M550.3 650.1h.6M543.3 651.8h.6M548.7 649.6h.6M550.3 655.6h.6M550.1 658.3h.6M564.2 646.6h.6M540.7 645.3h.6M543.2 655.3h.6M548.3 649.2h.6M553.5 640.7h.6M556.2 650.8h.6M560.4 650.2h.6M564.4 657.1h.6M548.7 654.6h.6M541.4 648.1h.6M539.0 650.6h.6M537.5 646.2h.6M549.6 644.3h.6M559.3 647.0h.6M549.2 650.1h.6M564.5 654.7h.6M549.3 648.7h.6M562.6 651.0h.6M539.5 652.3h.6M559.8 651.5h.6M552.8 659.1h.6M545.9 655.5h.6M571.1 660.2h.6M538.3 654.3h.6M553.8 659.8h.6M567.6 656.8h.6M566.5 654.5h.6M539.6 660.1h.6M531.7 655.6h.6M561.7 652.7h.6M564.5 651.6h.6M562.0 652.9h.6M543.4 656.6h.6M545.5 654.9h.6M539.7 652.9h.6M558.9 657.5h.6M539.1 649.0h.6M552.2 646.5h.6M559.6 659.8h.6M560.5 654.9h.6M542.3 654.6h.6M558.8 660.7h.6M548.1 658.0h.6M548.1 650.3h.6M547.2 653.1h.6M534.3 649.9h.6M570.3 642.6h.6M563.1 655.6h.6M547.2 647.8h.6M566.2 650.0h.6M556.1 650.6h.6M538.8 657.0h.6M560.3 647.0h.6M565.8 645.4h.6M536.9 656.1h.6M547.2 651.7h.6M571.7 646.3h.6M559.8 649.7h.6M553.6 650.6h.6M542.8 652.0h.6M541.2 651.8h.6M540.8 650.4h.6M554.0 644.7h.6M551.6 655.3h.6M553.8 656.4h.6M540.3 654.7h.6M556.2 637.9h.6M552.3 656.2h.6M551.6 651.9h.6M550.8 651.0h.6M539.7 648.3h.6M525.8 660.4h.6M552.1 652.9h.6M560.0 654.3h.6M551.5 643.8h.6M537.9 660.2h.6M557.5 655.1h.6M539.6 649.3h.6M555.6 647.8h.6M566.8 647.9h.6M547.2 645.9h.6M556.7 658.3h.6M555.0 651.7h.6M548.0 655.8h.6M552.4 660.6h.6M549.2 649.8h.6M546.1 642.2h.6M555.2 652.4h.6M533.1 645.9h.6M539.5 650.2h.6M540.1 655.6h.6M566.8 648.5h.6M552.7 646.4h.6M568.3 646.3h.6M542.8 651.8h.6M542.6 659.1h.6M550.1 650.5h.6M540.4 651.3h.6M545.0 649.6h.6M564.4 648.8h.6M557.4 648.6h.6M564.5 647.9h.6M540.7 650.5h.6M567.4 649.7h.6M541.9 651.0h.6M543.8 653.0h.6M544.2 653.3h.6M563.1 654.2h.6M570.5 653.3h.6M574.5 658.1h.6M549.1 655.6h.6M543.5 650.7h.6M551.3 647.8h.6M556.1 651.3h.6M576.3 655.6h.6M549.5 648.4h.6M545.9 648.3h.6M543.4 651.8h.6M536.2 650.2h.6M558.2 648.8h.6M538.9 649.2h.6M562.6 647.9h.6M571.0 643.4h.6M542.7 654.8h.6M568.5 650.7h.6M532.6 650.3h.6M541.5 648.3h.6M547.9 648.7h.6M551.9 652.5h.6M548.9 642.8h.6M550.2 638.7h.6M553.2 649.6h.6M541.2 660.5h.6M572.2 658.4h.6M555.0 649.3h.6M557.9 659.9h.6M551.3 651.0h.6M545.4 651.4h.6M562.4 647.2h.6M565.0 652.4h.6M579.0 652.7h.6M567.5 646.8h.6M581.3 652.2h.6M551.5 659.2h.6M554.3 645.6h.6M559.7 654.5h.6M552.3 649.4h.6M533.2 660.1h.6M547.2 653.6h.6M546.5 648.2h.6M555.8 647.4h.6M563.7 643.8h.6M559.6 657.7h.6M547.2 652.9h.6M562.4 649.6h.6M549.8 650.9h.6M585.0 647.7h.6M550.4 649.6h.6M546.0 647.2h.6M544.7 652.6h.6M566.4 659.9h.6M537.2 647.0h.6M552.2 646.9h.6M543.3 650.7h.6M545.8 647.6h.6M555.1 647.9h.6M549.3 653.4h.6M561.1 652.8h.6M565.5 652.6h.6M535.0 659.1h.6M586.5 655.8h.6M571.7 657.3h.6M547.3 654.9h.6M544.4 649.0h.6M559.3 652.3h.6M544.8 644.8h.6M562.2 651.8h.6M554.3 647.5h.6M543.4 651.6h.6M530.4 657.8h.6M552.9 657.3h.6M564.0 649.0h.6M558.7 646.3h.6M541.8 658.5h.6M546.3 648.0h.6M558.3 652.0h.6M564.2 645.5h.6M549.6 646.5h.6M553.0 650.5h.6M541.4 643.2h.6M536.5 656.5h.6M548.3 646.4h.6M554.7 646.3h.6M563.6 656.2h.6M553.1 649.0h.6M530.9 654.3h.6M576.8 652.8h.6M546.2 655.8h.6M548.0 645.8h.6M551.4 654.8h.6M530.9 657.0h.6M572.1 651.7h.6M546.9 644.8h.6M559.1 650.5h.6M567.2 659.6h.6M567.5 652.8h.6M531.0 658.4h.6M546.9 649.5h.6M565.5 654.2h.6M540.2 650.2h.6M549.3 651.1h.6M538.7 659.3h.6M551.1 655.1h.6M565.3 660.3h.6M561.3 648.3h.6M547.5 656.2h.6M572.4 644.6h.6M575.6 649.1h.6M550.5 649.7h.6M559.8 650.9h.6M552.2 647.3h.6M570.1 653.7h.6M552.2 660.3h.6M560.5 658.7h.6M549.6 652.6h.6M550.9 656.2h.6M556.2 643.5h.6M559.6 650.8h.6M555.8 656.7h.6M549.5 655.1h.6M553.0 651.5h.6M546.8 651.4h.6M549.1 655.8h.6M525.4 654.8h.6M551.9 646.7h.6M562.2 651.8h.6M559.5 658.6h.6M555.4 644.0h.6M533.8 651.6h.6M538.5 660.3h.6M551.7 643.0h.6M527.0 649.2h.6M524.1 654.3h.6M525.4 656.3h.6M547.0 657.5h.6M538.9 649.7h.6M565.9 643.9h.6M560.8 659.1h.6M540.9 651.2h.6M572.6 659.3h.6M572.2 651.4h.6M548.5 651.1h.6M548.4 656.0h.6M563.0 654.5h.6M544.7 655.8h.6M558.8 653.1h.6M567.6 650.1h.6M554.4 657.4h.6M544.0 656.4h.6M561.8 659.4h.6M568.4 649.1h.6M574.3 649.7h.6M538.8 650.6h.6M548.8 647.5h.6M564.7 654.5h.6M560.3 645.2h.6M574.8 654.3h.6M566.9 653.8h.6M557.5 655.8h.6M555.0 658.9h.6M546.9 641.9h.6M548.8 651.9h.6M557.9 652.5h.6M558.2 654.2h.6M551.0 654.7h.6M559.7 648.2h.6M532.1 653.1h.6M559.0 657.3h.6M566.4 653.5h.6M567.0 649.2h.6M547.5 658.7h.6M538.9 651.9h.6M540.6 646.0h.6M578.4 643.3h.6M574.2 649.8h.6M544.2 643.8h.6M555.7 655.1h.6M560.1 647.5h.6M572.7 653.1h.6M559.4 655.0h.6M559.8 650.5h.6M557.4 648.5h.6M556.2 647.3h.6M536.2 649.1h.6M551.4 648.7h.6M549.6 649.3h.6M553.7 660.7h.6M560.1 656.2h.6M565.0 656.3h.6M558.1 656.2h.6M565.9 651.3h.6M549.9 652.0h.6M552.5 654.4h.6M547.9 650.0h.6M556.0 654.5h.6M552.0 644.7h.6M550.3 656.2h.6M550.5 658.2h.6M547.2 650.9h.6M562.6 657.8h.6M549.7 659.3h.6M555.5 654.0h.6M574.4 656.2h.6M550.7 651.8h.6M542.5 657.6h.6M557.4 660.9h.6M567.7 652.2h.6M546.1 650.5h.6M568.0 651.5h.6M566.7 658.1h.6M570.9 653.3h.6M561.7 645.9h.6M557.3 652.3h.6M564.2 643.5h.6M549.6 659.9h.6M555.2 649.8h.6M554.5 651.5h.6M549.3 655.1h.6M556.5 657.7h.6M582.9 655.7h.6M557.5 659.3h.6M537.0 661.0h.6M540.0 649.8h.6M554.0 645.6h.6M545.9 652.9h.6M558.2 645.3h.6M524.3 655.4h.6M533.8 653.8h.6M558.9 656.0h.6M546.7 649.2h.6M589.6 651.6h.6M541.3 645.7h.6M550.3 660.5h.6M561.5 647.7h.6M537.0 649.1h.6M553.0 653.5h.6M559.1 657.6h.6M537.6 644.5h.6M552.2 655.0h.6M546.7 653.4h.6M552.2 657.8h.6M550.7 649.8h.6M559.2 657.0h.6M545.6 651.6h.6M544.7 646.6h.6M582.0 649.1h.6M549.4 650.5h.6M543.5 651.4h.6M552.1 654.0h.6M546.7 645.2h.6M551.7 655.6h.6M568.2 651.7h.6M550.1 648.4h.6M570.9 649.2h.6M547.2 651.9h.6M550.5 652.4h.6M558.2 660.5h.6M559.2 654.2h.6M535.9 660.1h.6M559.4 656.5h.6M549.4 651.7h.6M548.8 651.3h.6M548.5 656.0h.6M565.9 651.9h.6M549.7 656.3h.6M550.8 654.8h.6M545.6 659.0h.6M547.8 654.9h.6M573.5 654.1h.6M550.2 655.8h.6M571.3 641.2h.6M548.7 651.4h.6M563.5 644.7h.6M562.8 652.4h.6M559.9 647.1h.6M568.5 659.2h.6M554.8 655.1h.6M540.9 638.2h.6M552.4 651.0h.6M561.3 652.4h.6M537.5 641.1h.6M566.3 656.9h.6M551.7 650.9h.6M561.5 649.5h.6M538.0 658.3h.6M536.8 650.1h.6M568.7 654.5h.6M566.2 659.5h.6M555.6 644.8h.6M532.9 641.2h.6M562.1 645.0h.6M551.8 652.6h.6M557.4 652.0h.6M568.5 653.8h.6M566.0 651.7h.6M553.6 653.0h.6M559.0 656.0h.6M547.5 655.2h.6M586.3 638.8h.6M560.9 651.6h.6M550.7 649.2h.6M539.3 653.4h.6M544.6 660.0h.6M557.1 660.8h.6M554.7 645.0h.6M558.4 653.2h.6M563.5 640.2h.6M554.2 659.4h.6M554.2 641.9h.6M558.3 654.6h.6M570.0 655.0h.6M541.3 658.0h.6M561.7 658.1h.6M551.2 657.3h.6M528.2 645.4h.6M560.5 660.2h.6M560.1 653.0h.6M551.4 650.0h.6M566.6 643.2h.6M556.6 659.7h.6M533.4 640.9h.6M541.5 652.1h.6M559.8 649.3h.6M562.7 649.5h.6M534.0 657.2h.6M553.3 648.8h.6M533.5 639.4h.6M540.6 655.7h.6M542.3 645.4h.6M543.9 655.1h.6M560.4 658.3h.6M542.8 659.7h.6M572.5 654.3h.6M565.9 660.5h.6M558.0 647.8h.6M559.7 654.0h.6M561.7 659.0h.6M553.9 651.0h.6M568.3 652.3h.6M538.4 653.8h.6M565.4 644.0h.6M573.9 660.6h.6M539.9 653.4h.6M558.2 655.0h.6M556.8 655.7h.6M544.1 650.9h.6M552.3 654.4h.6M576.9 656.6h.6M540.8 654.1h.6M576.5 660.3h.6M574.0 652.7h.6M562.5 653.1h.6M539.8 652.5h.6M548.6 645.8h.6M551.7 650.2h.6M550.4 655.9h.6M540.6 652.6h.6M557.9 653.6h.6M556.7 652.6h.6M534.4 641.7h.6M546.4 650.2h.6M542.2 648.3h.6M548.5 660.8h.6M552.2 656.3h.6M561.6 653.0h.6M565.1 649.3h.6M551.2 646.2h.6M551.9 656.7h.6M542.7 651.8h.6M550.3 651.9h.6M548.5 653.6h.6M538.4 652.8h.6M573.6 646.6h.6M563.2 648.6h.6M546.5 660.9h.6M561.6 655.3h.6M573.3 655.5h.6M552.2 640.6h.6M562.0 660.8h.6M548.1 646.1h.6M532.6 655.1h.6M524.4 654.1h.6M563.2 649.8h.6M540.7 650.7h.6M572.2 646.3h.6M543.7 654.8h.6M545.7 658.7h.6M544.5 646.0h.6M535.3 651.0h.6M566.7 652.2h.6M546.3 644.4h.6M556.4 648.7h.6M581.3 646.1h.6M536.8 645.6h.6M555.5 655.0h.6M556.0 658.0h.6M561.7 649.1h.6M573.7 648.2h.6M555.8 652.3h.6M567.1 651.9h.6M557.3 642.2h.6M552.3 652.8h.6M571.6 643.4h.6M538.8 656.3h.6M581.3 652.9h.6M527.7 643.1h.6M548.7 647.6h.6M559.2 657.4h.6M562.8 647.4h.6M544.8 651.1h.6M558.3 654.9h.6M548.5 657.3h.6M561.9 650.6h.6M555.7 660.1h.6M561.1 650.6h.6M549.3 656.9h.6M557.9 652.8h.6M544.5 650.8h.6M555.3 661.0h.6M537.6 652.7h.6M542.0 645.2h.6M581.0 645.7h.6M568.0 657.3h.6M559.0 652.4h.6M552.8 654.6h.6M558.0 655.0h.6M561.1 643.9h.6M537.8 651.9h.6M552.8 645.3h.6M564.8 654.6h.6M557.0 657.4h.6M560.9 651.5h.6M546.0 657.9h.6M547.5 648.4h.6M541.9 655.6h.6M556.5 651.3h.6M564.8 647.9h.6M563.3 649.5h.6M551.5 651.1h.6M556.0 659.1h.6M546.1 657.3h.6M568.3 651.3h.6M545.5 646.4h.6M552.5 658.5h.6M551.1 652.8h.6M541.9 654.3h.6M556.5 657.1h.6M578.6 657.2h.6M543.2 651.5h.6M537.7 650.0h.6M536.2 657.8h.6M526.9 655.1h.6M554.9 644.4h.6M562.8 658.7h.6M574.8 650.8h.6M562.4 653.1h.6M570.7 652.1h.6M566.8 647.0h.6M545.3 646.6h.6M551.1 645.8h.6M555.1 649.2h.6M536.4 653.3h.6M567.0 654.7h.6M557.4 650.9h.6M551.1 644.1h.6M577.1 643.7h.6M542.5 646.9h.6M540.2 652.9h.6M544.3 649.3h.6M557.5 646.0h.6M539.8 654.4h.6M547.2 642.8h.6M560.5 644.8h.6M553.0 652.1h.6M556.7 653.4h.6M548.2 651.9h.6M533.1 653.4h.6M530.3 655.7h.6M544.2 656.4h.6M552.4 654.6h.6M547.5 650.8h.6M559.0 655.3h.6M548.4 638.2h.6M554.8 655.6h.6M568.5 650.7h.6M566.0 634.0h.6M548.1 648.8h.6M578.2 650.8h.6M584.5 652.2h.6M547.8 649.1h.6M543.0 652.7h.6M554.9 647.0h.6M574.6 657.4h.6M549.4 654.7h.6M551.0 649.5h.6M542.7 648.7h.6M574.6 660.6h.6M551.6 650.4h.6M566.9 647.8h.6M562.1 644.3h.6M558.0 655.8h.6M563.3 660.1h.6M567.8 649.9h.6M536.4 640.2h.6M540.2 651.3h.6M546.2 658.6h.6M558.6 654.3h.6M554.7 651.1h.6M557.7 657.8h.6M554.0 656.9h.6M570.6 653.2h.6M561.9 653.9h.6M567.9 656.6h.6M556.1 658.2h.6M568.2 653.3h.6M538.6 660.9h.6M556.5 655.9h.6M555.9 650.7h.6M539.2 652.3h.6M551.1 654.9h.6M550.1 652.0h.6M562.8 652.2h.6M546.3 654.7h.6M549.9 647.0h.6M540.6 647.8h.6M546.2 640.8h.6M535.9 649.1h.6M548.5 651.3h.6M560.4 646.7h.6M572.2 654.0h.6M523.9 651.9h.6M541.3 654.8h.6M574.9 645.0h.6M554.7 646.6h.6M535.2 655.4h.6M563.6 648.7h.6M548.5 645.9h.6M545.1 650.9h.6M551.2 655.8h.6M555.7 651.9h.6M554.6 655.3h.6M560.2 645.2h.6M551.0 654.2h.6M543.8 644.7h.6M541.0 645.8h.6M550.6 651.3h.6M559.8 642.3h.6M558.8 656.3h.6M585.7 650.6h.6M562.4 643.2h.6M566.5 660.5h.6M556.5 649.0h.6M571.7 647.2h.6M575.2 646.6h.6M559.1 653.7h.6M555.5 649.1h.6M540.8 659.2h.6M558.9 647.6h.6M537.2 656.0h.6M569.9 651.8h.6M547.9 655.0h.6M559.3 658.3h.6M551.4 648.5h.6M552.4 645.2h.6M539.8 649.3h.6M551.2 652.5h.6M535.8 650.3h.6M577.5 643.3h.6M548.7 649.6h.6M560.8 648.0h.6M581.1 649.3h.6M556.3 652.9h.6M570.1 654.3h.6M536.2 652.4h.6M545.7 658.0h.6M559.7 653.9h.6M552.1 648.4h.6M566.1 656.7h.6M580.9 650.8h.6M567.0 646.7h.6M560.0 652.1h.6M540.1 649.0h.6M554.6 650.9h.6M549.7 650.6h.6M553.2 649.8h.6M532.4 652.7h.6M574.3 651.2h.6M555.0 647.9h.6M543.4 647.2h.6M536.9 652.2h.6M542.0 653.7h.6M554.4 644.8h.6M580.1 650.2h.6M554.8 649.7h.6M538.9 651.9h.6M559.6 641.4h.6M553.6 652.7h.6M575.4 642.0h.6M544.4 657.8h.6M544.1 655.2h.6M541.0 646.2h.6M562.3 649.2h.6M539.9 652.2h.6M567.4 651.5h.6M580.5 645.5h.6M573.3 653.5h.6M563.7 655.8h.6M549.7 650.5h.6M536.8 648.4h.6M544.4 657.1h.6M547.5 653.7h.6M552.1 659.7h.6M543.2 647.3h.6M560.8 643.1h.6M553.5 646.9h.6M542.7 650.9h.6M578.1 656.5h.6M563.1 654.3h.6M559.2 648.5h.6M555.1 651.5h.6M560.7 656.4h.6M539.0 645.3h.6M570.7 646.4h.6M567.6 658.7h.6M565.9 653.6h.6M551.5 652.9h.6M564.1 658.2h.6M563.8 651.1h.6M572.7 652.0h.6M569.0 653.4h.6M555.7 655.9h.6M551.3 648.7h.6M552.2 652.4h.6M548.6 655.8h.6M557.1 653.5h.6M548.9 653.1h.6M561.5 650.5h.6M550.1 653.3h.6M556.0 649.0h.6M563.2 654.2h.6M575.9 646.2h.6M537.5 653.4h.6M576.2 656.8h.6M553.2 648.2h.6M556.8 649.5h.6M543.2 652.4h.6M544.7 650.4h.6M544.1 651.0h.6M558.9 652.2h.6M556.1 646.7h.6M535.4 651.4h.6M552.7 655.2h.6M536.2 656.6h.6M551.5 646.5h.6M545.8 649.6h.6M569.2 649.7h.6M556.8 647.5h.6M536.4 648.3h.6M533.1 650.3h.6M550.1 660.7h.6M547.0 657.5h.6M560.6 656.0h.6M555.2 651.2h.6M558.7 657.8h.6M543.0 645.6h.6M545.6 644.6h.6M547.5 650.3h.6M543.6 650.9h.6M567.3 652.2h.6M566.3 651.1h.6M554.1 645.0h.6M567.7 653.5h.6M570.4 651.5h.6M545.3 660.4h.6M539.5 641.8h.6M562.2 646.6h.6M538.6 653.2h.6M543.1 660.9h.6M578.2 660.2h.6M546.1 656.6h.6M545.0 649.3h.6M549.9 650.9h.6M556.9 650.3h.6M569.6 644.9h.6M557.6 643.9h.6M559.0 658.0h.6M571.4 655.1h.6M554.9 648.7h.6M548.1 652.8h.6M543.8 645.3h.6M568.4 654.5h.6M558.4 649.8h.6M561.0 649.8h.6M558.0 652.2h.6M553.3 648.7h.6M561.2 647.9h.6M572.2 656.6h.6M550.0 654.3h.6M563.2 652.1h.6M539.4 653.4h.6M548.7 651.0h.6M578.1 652.2h.6M535.9 655.6h.6M565.7 647.9h.6M552.5 648.5h.6M556.4 657.8h.6M584.8 650.8h.6M555.0 659.0h.6M550.2 656.6h.6M545.3 657.8h.6M543.0 655.7h.6M572.9 657.0h.6M572.4 656.8h.6M553.6 655.7h.6M563.8 653.2h.6M563.9 650.7h.6M543.2 659.2h.6M555.5 660.3h.6M576.1 649.9h.6M573.3 654.2h.6M558.2 643.4h.6M548.0 650.9h.6M546.0 646.1h.6M532.6 652.8h.6M557.8 656.4h.6M535.7 644.1h.6M578.0 651.4h.6M552.0 657.2h.6M539.8 651.1h.6M563.1 654.3h.6M563.6 650.0h.6M571.4 644.8h.6M526.4 651.0h.6M554.6 651.9h.6M527.9 645.3h.6M548.8 656.4h.6M567.3 660.4h.6M538.2 649.4h.6M532.0 645.9h.6M537.9 651.3h.6M542.7 653.5h.6M570.0 650.6h.6M547.8 652.1h.6M550.7 650.8h.6M544.9 652.6h.6M546.4 654.2h.6M555.1 657.3h.6M559.7 654.6h.6M552.0 649.7h.6M560.0 647.8h.6M557.9 660.4h.6M544.8 655.4h.6M560.5 652.0h.6M565.9 649.8h.6M538.3 654.6h.6M558.8 653.5h.6M564.0 646.6h.6M543.0 661.0h.6M549.7 657.3h.6M558.1 642.5h.6M546.5 658.8h.6M555.3 655.8h.6M537.6 651.4h.6M540.0 650.6h.6M554.7 648.3h.6M536.5 655.0h.6M560.1 649.6h.6M544.7 656.5h.6M551.4 658.0h.6M561.1 650.7h.6M565.3 642.8h.6M541.9 652.3h.6M564.2 656.3h.6M559.6 647.9h.6M552.3 660.8h.6M561.5 657.4h.6M554.5 646.1h.6M548.7 658.5h.6M543.8 658.4h.6M559.1 643.4h.6M553.9 649.5h.6M550.8 659.4h.6M536.4 644.0h.6M549.1 652.6h.6M556.4 652.7h.6M542.7 650.9h.6M578.5 654.5h.6M563.2 653.8h.6M555.8 644.5h.6M559.0 659.4h.6M531.9 655.0h.6M537.7 655.4h.6M557.0 651.5h.6M538.4 649.2h.6M568.9 650.6h.6M552.5 654.7h.6M546.2 651.0h.6M535.1 660.5h.6M556.3 655.1h.6M546.1 646.8h.6M562.0 649.6h.6M553.6 646.8h.6M579.9 651.6h.6M557.0 656.5h.6M539.7 652.9h.6M537.6 647.8h.6M563.3 657.8h.6M558.5 647.4h.6M551.9 655.8h.6M548.3 650.4h.6M555.4 656.1h.6M545.6 644.4h.6M546.5 651.2h.6M550.4 653.4h.6M566.3 651.9h.6M557.7 648.8h.6M551.9 654.7h.6M539.1 656.9h.6M543.0 650.6h.6M559.6 654.9h.6M553.9 648.9h.6M575.8 651.5h.6M553.4 652.3h.6M554.6 650.7h.6M546.1 646.8h.6M539.5 655.5h.6M572.9 652.9h.6M554.8 650.8h.6M548.4 660.8h.6M555.2 654.6h.6M565.3 637.7h.6M560.9 651.8h.6M554.2 652.5h.6M560.9 655.0h.6M572.5 649.9h.6M558.1 656.6h.6M546.3 651.1h.6M560.3 653.2h.6M552.0 653.3h.6M584.9 649.9h.6M540.4 652.9h.6M531.5 648.9h.6M530.2 658.0h.6M562.3 650.9h.6M526.6 646.1h.6M540.6 658.5h.6M535.1 652.0h.6M562.9 654.8h.6M548.5 649.2h.6M564.9 651.1h.6M534.0 648.4h.6M545.8 659.2h.6M550.8 643.4h.6M548.5 656.1h.6M541.7 649.3h.6M537.7 653.1h.6M553.4 649.2h.6M554.5 654.5h.6M544.9 651.6h.6M560.4 650.6h.6M533.6 654.8h.6M552.0 654.0h.6M555.2 659.8h.6M536.1 660.6h.6M558.7 655.5h.6M542.2 652.2h.6M551.4 654.2h.6M533.1 651.7h.6M529.5 660.3h.6M544.8 648.7h.6M546.5 655.0h.6M564.2 655.2h.6M532.1 650.1h.6M555.6 652.6h.6M562.5 649.4h.6M549.1 641.9h.6M551.6 655.1h.6M554.9 647.8h.6M552.5 652.0h.6M541.8 649.3h.6M555.0 655.2h.6M576.0 647.2h.6M549.1 656.1h.6M547.1 655.9h.6M530.4 660.5h.6M564.3 652.5h.6M537.3 649.9h.6M543.4 658.9h.6M546.8 653.2h.6M559.9 650.2h.6M545.2 641.0h.6M562.8 659.3h.6M554.9 647.5h.6M558.7 650.6h.6M523.3 650.4h.6M528.8 650.4h.6M538.9 656.2h.6M534.2 652.7h.6M551.2 644.1h.6M553.5 648.5h.6M540.8 644.7h.6M552.8 648.9h.6M551.0 651.7h.6M570.1 650.7h.6M553.4 658.8h.6M547.1 657.9h.6M558.4 642.4h.6M570.5 651.2h.6M539.0 650.6h.6M554.8 653.1h.6M577.9 643.3h.6M556.7 649.2h.6M547.4 649.7h.6M543.7 659.9h.6M554.7 651.7h.6M556.5 644.3h.6M550.8 649.3h.6M541.3 658.7h.6M555.1 654.9h.6M545.7 652.4h.6M552.4 654.9h.6M554.3 654.3h.6M543.7 654.4h.6M557.8 654.4h.6M549.2 653.1h.6M551.9 653.4h.6M552.6 649.5h.6M546.6 652.5h.6M539.7 639.7h.6M551.6 650.0h.6M555.4 654.8h.6M556.8 650.6h.6M554.7 643.5h.6M559.4 647.4h.6M543.3 654.3h.6M545.1 647.3h.6M549.5 646.8h.6M561.9 646.4h.6M551.4 657.2h.6M556.0 660.1h.6M564.6 653.5h.6M538.2 654.9h.6M567.3 656.5h.6M559.5 655.0h.6M551.2 653.8h.6M557.3 652.0h.6M568.0 647.6h.6M552.1 626.8h.6M529.6 629.1h.6M531.5 629.5h.6M545.9 642.7h.6M547.5 608.2h.6M551.4 625.3h.6M543.6 643.0h.6M550.4 647.2h.6M540.3 623.3h.6M530.7 648.9h.6M536.3 633.4h.6M534.8 623.8h.6M554.6 643.9h.6M541.6 637.7h.6M532.6 630.8h.6M534.5 640.5h.6M552.1 626.9h.6M522.8 639.0h.6M560.0 623.1h.6M557.9 634.6h.6M542.5 618.0h.6M537.9 618.9h.6M546.2 652.1h.6M542.0 625.6h.6M533.7 630.8h.6M541.3 644.6h.6M540.8 632.9h.6M529.8 623.6h.6M542.0 630.8h.6M538.1 636.2h.6M555.5 623.7h.6M546.5 640.3h.6M534.8 620.4h.6M527.6 633.2h.6M540.9 635.1h.6M546.5 641.0h.6M552.9 646.6h.6M539.6 633.4h.6M531.0 621.4h.6M539.6 622.2h.6M553.0 625.2h.6M556.3 625.5h.6M538.4 641.5h.6M543.8 644.3h.6M531.5 638.5h.6M535.8 636.2h.6M526.4 624.3h.6M536.9 635.8h.6M529.5 623.7h.6M522.1 626.9h.6M555.8 626.5h.6M522.7 619.6h.6M528.9 627.8h.6M542.4 639.6h.6M534.8 637.3h.6M539.0 637.7h.6M550.1 639.0h.6M523.4 638.4h.6M536.4 611.5h.6M544.1 629.7h.6M527.5 614.8h.6M544.7 634.4h.6M546.2 632.7h.6M559.4 625.9h.6M540.6 632.7h.6M555.7 643.2h.6M534.2 642.5h.6M533.4 639.3h.6M524.3 615.9h.6M549.6 635.7h.6M536.0 616.6h.6M534.3 626.8h.6M547.1 633.1h.6M523.0 625.0h.6M528.5 625.6h.6M527.6 642.0h.6M551.1 630.1h.6M532.3 623.3h.6M539.5 651.6h.6M549.3 636.3h.6M551.6 626.6h.6M534.7 635.9h.6M528.5 642.7h.6M534.2 620.6h.6M549.1 629.3h.6M537.0 644.3h.6M554.2 626.0h.6M551.7 618.8h.6M554.1 633.8h.6M540.4 645.6h.6M544.2 616.2h.6M543.5 640.1h.6M550.3 646.1h.6M536.4 620.9h.6M524.4 627.6h.6M534.0 633.6h.6M556.5 627.6h.6M527.2 632.3h.6M541.9 638.3h.6M553.9 636.4h.6M543.0 625.5h.6M543.6 641.0h.6M536.5 646.8h.6M540.1 639.0h.6M523.6 642.0h.6M538.8 627.6h.6M542.1 634.3h.6M532.9 620.6h.6M544.1 638.3h.6M541.9 629.7h.6M537.8 615.2h.6M535.0 625.5h.6M538.5 611.7h.6M527.0 627.5h.6M522.3 619.7h.6M554.6 629.8h.6M534.9 632.3h.6M529.5 632.7h.6M535.1 622.6h.6M540.3 638.0h.6M539.9 620.3h.6M540.8 626.2h.6M535.3 633.5h.6M544.3 639.4h.6M536.2 654.0h.6M549.5 638.6h.6M557.4 642.3h.6M555.7 642.7h.6M536.2 639.8h.6M551.4 639.3h.6M553.4 637.9h.6M532.1 630.5h.6M530.7 620.6h.6M560.3 639.9h.6M552.7 620.6h.6M548.1 628.2h.6M547.3 638.9h.6M553.1 625.3h.6M552.9 641.5h.6M544.0 622.7h.6M527.9 617.4h.6M524.3 639.3h.6M524.1 625.3h.6M543.2 627.8h.6M545.0 643.1h.6M535.2 638.2h.6M550.8 632.0h.6M550.2 631.9h.6M542.1 640.5h.6M538.1 630.8h.6M545.9 641.6h.6M529.9 642.4h.6M542.5 634.4h.6M554.2 624.1h.6M531.6 622.4h.6M542.0 636.8h.6M525.7 636.6h.6M528.5 634.5h.6M561.4 642.5h.6M540.7 640.9h.6M548.2 611.5h.6M532.6 639.3h.6M546.2 623.2h.6M545.1 636.3h.6M539.6 632.6h.6M559.5 639.4h.6M549.4 617.4h.6M536.9 639.9h.6M543.0 630.9h.6M531.3 635.5h.6M539.4 618.3h.6M566.0 631.1h.6M522.5 619.5h.6M534.4 628.5h.6M532.1 631.6h.6M555.1 623.3h.6M551.6 639.8h.6M529.4 619.8h.6M548.0 641.5h.6M548.2 638.0h.6M534.0 638.5h.6M529.9 637.9h.6M549.4 639.1h.6M553.8 638.4h.6M551.2 634.3h.6M557.4 632.4h.6M555.5 626.8h.6M529.3 634.8h.6M540.1 628.4h.6M533.0 640.1h.6M545.1 640.8h.6M536.8 636.0h.6M530.9 626.9h.6M548.7 639.9h.6M542.0 643.5h.6M533.3 645.0h.6M539.4 631.6h.6M531.3 645.0h.6M531.1 645.2h.6M554.7 616.3h.6M540.1 622.5h.6M535.8 632.5h.6M537.9 638.7h.6M545.2 616.9h.6M528.4 620.8h.6M527.1 637.5h.6M539.0 633.2h.6M523.4 629.4h.6M524.1 632.3h.6M534.2 636.5h.6M545.7 640.0h.6M538.2 636.0h.6M530.5 652.6h.6M542.0 622.8h.6M541.1 642.5h.6M533.1 642.8h.6M537.3 644.3h.6M540.9 624.7h.6M542.3 643.5h.6M522.3 623.8h.6M544.3 622.8h.6M522.4 632.6h.6M535.5 629.9h.6M536.4 635.0h.6M531.6 618.3h.6M537.8 629.7h.6M538.4 632.9h.6M533.2 618.3h.6M544.8 645.6h.6M545.3 633.5h.6M546.3 629.2h.6M526.1 615.1h.6M541.1 622.1h.6M530.9 636.0h.6M549.9 645.0h.6M523.2 630.1h.6M532.7 632.9h.6M539.7 636.5h.6M537.7 621.6h.6M523.5 648.2h.6M533.8 638.3h.6M541.4 639.2h.6M540.1 642.8h.6M530.1 636.9h.6M544.8 624.8h.6M530.6 625.3h.6M552.7 628.1h.6M548.6 628.4h.6M542.4 637.8h.6M542.1 628.0h.6M535.1 648.9h.6M554.4 637.4h.6M534.4 636.0h.6M558.7 626.1h.6M541.2 636.7h.6M536.3 630.8h.6M548.4 629.3h.6M538.6 634.8h.6M527.2 632.8h.6M550.8 642.0h.6M522.3 630.6h.6M557.7 623.2h.6M531.4 635.1h.6M533.3 625.0h.6M532.8 633.9h.6M542.8 635.4h.6M525.3 617.2h.6M547.8 631.2h.6M541.2 635.7h.6M554.7 642.2h.6M534.6 639.1h.6M545.2 645.2h.6M548.9 652.8h.6M562.6 635.0h.6M530.9 637.2h.6M532.6 631.9h.6M550.5 626.5h.6M522.9 627.0h.6M529.9 617.4h.6M546.2 637.2h.6M542.8 642.5h.6M538.4 651.2h.6M542.5 640.6h.6M532.8 636.4h.6M537.0 621.9h.6M542.7 624.0h.6M549.8 617.4h.6M522.8 644.1h.6M546.4 629.2h.6M522.7 626.3h.6M542.7 649.9h.6M533.9 647.8h.6M522.8 647.1h.6M547.0 625.9h.6M553.8 633.0h.6M532.3 628.9h.6M549.0 627.3h.6M533.0 630.8h.6M538.5 620.9h.6M554.4 648.9h.6M539.1 636.8h.6M538.2 622.7h.6M543.6 623.1h.6M525.0 627.2h.6M544.2 628.2h.6M548.7 638.7h.6M550.1 645.2h.6M534.9 639.1h.6M546.9 635.7h.6M534.9 637.4h.6M542.0 639.1h.6M539.2 627.5h.6M525.5 631.6h.6M558.3 634.3h.6M540.4 625.3h.6M543.6 633.3h.6M542.1 630.1h.6M529.7 624.5h.6M534.0 623.8h.6M529.4 635.1h.6M540.2 627.9h.6M538.6 642.4h.6M528.1 638.3h.6M523.5 646.7h.6M545.0 651.8h.6M558.2 633.7h.6M546.6 636.5h.6M522.9 641.0h.6M548.0 639.9h.6M542.9 621.9h.6M533.5 598.6h.6M542.5 625.5h.6M534.2 642.1h.6M540.1 606.7h.6M550.0 619.2h.6M527.8 623.0h.6M552.4 620.3h.6M543.4 637.7h.6M524.1 644.9h.6M532.8 647.2h.6M535.7 645.6h.6M560.9 612.5h.6M527.9 626.7h.6M549.6 647.3h.6M541.2 636.5h.6M547.8 623.6h.6M533.7 633.4h.6M553.5 625.6h.6M546.6 625.3h.6M528.1 633.3h.6M541.7 633.0h.6M532.2 627.3h.6M549.3 619.2h.6M533.6 621.7h.6M540.7 643.9h.6M536.1 626.0h.6M536.3 632.7h.6M535.1 623.5h.6M543.1 645.9h.6M542.1 626.0h.6M553.2 632.5h.6M544.1 630.9h.6M544.4 620.4h.6M539.6 630.6h.6M537.6 633.6h.6M568.1 623.3h.6M536.8 620.3h.6M540.8 627.3h.6M549.8 631.1h.6M538.6 632.6h.6M560.0 642.0h.6M544.0 642.0h.6M537.5 617.6h.6M525.7 637.0h.6M543.4 626.8h.6M530.2 639.8h.6M535.4 621.1h.6M547.3 633.3h.6M527.5 646.1h.6M534.1 627.2h.6M532.3 628.9h.6M555.1 629.1h.6M547.2 625.8h.6M552.0 643.6h.6M548.2 648.0h.6M542.2 614.1h.6M527.1 626.3h.6M548.0 633.3h.6M542.6 634.2h.6M536.5 631.3h.6M534.2 632.2h.6M546.8 647.0h.6M554.1 630.9h.6M535.3 628.3h.6M522.4 640.6h.6M548.8 635.8h.6M540.3 638.4h.6M549.5 643.9h.6M524.6 654.2h.6M533.2 644.7h.6M528.7 643.6h.6M566.7 641.5h.6M540.2 646.8h.6M539.2 633.5h.6M535.0 630.9h.6M541.4 625.9h.6M551.8 635.4h.6M527.7 625.4h.6M539.3 629.2h.6M555.0 622.8h.6M540.0 631.0h.6M538.3 637.9h.6M545.9 627.2h.6M534.5 635.7h.6M539.4 627.5h.6M523.6 635.2h.6M535.4 636.9h.6M533.5 631.5h.6M537.4 615.7h.6M540.3 634.9h.6M538.9 633.0h.6M554.4 613.9h.6M529.8 626.0h.6M532.0 627.5h.6M526.6 628.9h.6M544.8 625.8h.6M546.5 639.8h.6M548.2 634.4h.6M523.0 630.9h.6M526.2 618.0h.6M546.3 606.6h.6M546.6 626.6h.6M546.6 644.6h.6M539.3 622.8h.6M546.2 620.3h.6M540.3 631.5h.6M550.9 616.3h.6M541.9 649.1h.6M538.3 649.5h.6M549.4 617.3h.6M545.4 635.3h.6M533.0 630.0h.6M522.3 647.6h.6M545.1 629.2h.6M548.6 645.6h.6M538.8 631.5h.6M546.2 630.6h.6M557.9 641.6h.6M542.1 628.3h.6M523.9 622.0h.6M561.9 631.5h.6M552.5 614.1h.6M527.3 640.4h.6M551.4 618.9h.6M524.3 622.1h.6M541.1 611.7h.6M556.9 621.9h.6M543.6 639.5h.6M539.1 632.0h.6M535.8 649.8h.6M551.5 630.4h.6M535.2 631.5h.6M524.8 627.2h.6M534.7 644.3h.6M544.5 622.9h.6M525.6 637.9h.6M544.0 639.3h.6M540.4 635.3h.6M540.8 649.0h.6M539.9 622.9h.6M549.0 639.1h.6M536.8 644.4h.6M545.9 625.3h.6M531.3 646.9h.6M549.6 621.2h.6M528.3 649.7h.6M567.5 642.5h.6M539.4 628.8h.6M548.6 646.0h.6M544.2 630.4h.6M525.5 619.9h.6M528.5 614.1h.6M544.5 628.1h.6M558.2 641.7h.6M540.5 650.4h.6M549.5 629.6h.6M540.7 625.8h.6M534.9 631.7h.6M536.1 628.4h.6M538.0 632.9h.6M553.7 630.3h.6M536.2 637.5h.6M542.4 621.8h.6M537.3 630.9h.6M532.6 639.6h.6M543.6 626.9h.6M551.8 635.4h.6M540.6 634.5h.6M548.9 638.5h.6M533.0 635.1h.6M539.1 629.2h.6M536.8 642.1h.6M540.9 655.4h.6M534.2 640.4h.6M551.5 628.7h.6M541.2 642.2h.6M558.8 631.1h.6M538.5 635.3h.6M547.5 628.6h.6M549.1 636.6h.6M540.8 623.4h.6M547.7 612.0h.6M530.3 615.6h.6M536.4 630.0h.6M536.6 625.8h.6M547.7 614.1h.6M524.7 635.0h.6M552.5 635.6h.6M528.0 615.0h.6M546.0 634.5h.6M540.9 619.6h.6M526.4 639.4h.6M558.2 639.8h.6M545.7 636.3h.6M538.2 629.6h.6M540.8 624.3h.6M543.9 620.3h.6M539.4 647.9h.6M555.4 624.2h.6M549.0 637.4h.6M550.0 636.0h.6M537.5 642.8h.6M551.1 621.0h.6M540.9 629.1h.6M529.7 632.9h.6M536.8 613.4h.6M559.9 632.8h.6M538.7 634.0h.6M530.9 624.4h.6M557.5 628.0h.6M522.9 635.1h.6M549.3 625.1h.6M534.0 643.9h.6M549.3 620.6h.6M535.6 628.4h.6M538.2 619.9h.6M538.2 622.2h.6M547.4 633.6h.6M535.1 629.1h.6M535.3 640.2h.6M545.1 637.7h.6M523.8 638.2h.6M539.1 627.9h.6M525.9 642.3h.6M555.7 632.0h.6M538.5 625.3h.6M548.6 632.7h.6M533.0 643.7h.6M545.4 634.5h.6M539.5 629.5h.6M532.0 627.1h.6M534.8 639.9h.6M530.4 645.5h.6M551.2 626.1h.6M532.3 616.1h.6M548.7 638.4h.6M556.5 634.5h.6M544.3 629.0h.6M527.7 637.9h.6M536.7 631.4h.6M532.4 636.4h.6M523.1 620.6h.6M551.0 637.3h.6M530.4 634.1h.6M543.9 641.2h.6M551.0 641.1h.6M534.4 649.5h.6M540.3 638.2h.6M546.1 645.4h.6M550.8 616.7h.6M525.8 630.7h.6M532.3 640.8h.6M555.4 643.9h.6M529.8 636.7h.6M549.6 638.5h.6M549.5 656.4h.6M548.3 635.8h.6M545.9 634.9h.6M536.3 632.0h.6M531.0 622.9h.6M540.9 623.8h.6M534.0 625.9h.6M528.7 607.4h.6M546.6 644.3h.6M542.2 625.5h.6M551.4 635.3h.6M526.3 631.2h.6M540.6 623.9h.6M545.5 618.7h.6M540.2 638.5h.6M522.5 637.2h.6M548.7 624.2h.6M528.5 630.1h.6M540.0 630.1h.6M536.9 621.5h.6M522.1 625.2h.6M549.3 638.8h.6M547.2 630.0h.6M534.0 627.2h.6M541.6 619.2h.6M543.5 635.8h.6M533.8 640.0h.6M547.0 611.4h.6M535.9 630.7h.6M525.1 637.5h.6M549.5 636.6h.6M538.5 644.9h.6M540.7 634.6h.6M544.7 642.1h.6M523.0 640.2h.6M543.4 644.7h.6M542.0 631.1h.6M533.2 632.3h.6M534.2 636.6h.6M540.4 625.1h.6M546.8 631.4h.6M536.0 644.3h.6M544.4 635.9h.6M532.6 643.5h.6M545.8 621.2h.6M537.1 643.3h.6M549.5 631.0h.6M542.1 633.6h.6M525.2 638.4h.6M554.4 627.0h.6M541.1 640.7h.6M542.5 641.4h.6M540.3 629.8h.6M533.1 631.2h.6M527.0 621.2h.6M540.9 623.7h.6M541.3 631.1h.6M538.4 636.9h.6M535.3 622.5h.6M537.3 630.2h.6M553.2 641.1h.6M526.6 615.7h.6M527.7 636.9h.6M522.3 640.0h.6M536.7 642.0h.6M542.3 623.5h.6M535.8 633.7h.6M551.4 629.5h.6M534.1 633.0h.6M532.1 636.5h.6M543.7 639.9h.6M531.3 642.2h.6M568.2 644.6h.6M540.8 630.9h.6M524.4 636.2h.6M560.4 636.8h.6M543.7 631.3h.6M528.4 653.2h.6M536.5 646.4h.6M540.3 631.2h.6M531.1 633.1h.6M541.8 628.7h.6M538.9 630.2h.6M531.1 625.6h.6M566.4 620.3h.6M546.8 619.5h.6M530.4 640.4h.6M525.4 638.8h.6M554.5 630.0h.6M547.6 641.1h.6M523.7 628.2h.6M535.7 640.2h.6M535.4 620.5h.6M526.4 632.5h.6M540.6 635.9h.6M528.7 636.3h.6M538.7 623.0h.6M527.1 651.5h.6M545.7 628.6h.6M545.6 625.5h.6M556.9 637.1h.6M524.9 628.5h.6M537.3 633.0h.6M528.0 640.7h.6M541.5 645.1h.6M542.0 645.3h.6M555.6 633.0h.6M542.8 640.5h.6M544.6 631.2h.6M563.5 642.8h.6M544.9 621.2h.6M529.0 630.4h.6M528.6 619.0h.6M546.2 638.4h.6M534.1 631.9h.6M551.2 640.2h.6M558.3 630.3h.6M536.3 639.4h.6M558.5 630.7h.6M536.6 629.9h.6M551.3 643.0h.6M530.1 641.8h.6M547.8 643.7h.6M535.2 631.6h.6M545.2 636.9h.6M530.2 639.0h.6M546.1 630.1h.6M544.2 642.4h.6M540.2 632.9h.6M529.7 631.6h.6M533.1 623.3h.6M549.6 636.3h.6M543.3 634.0h.6M553.7 616.8h.6M555.6 628.1h.6M531.0 625.0h.6M531.3 630.8h.6M547.8 624.8h.6M548.1 627.6h.6M540.0 644.8h.6M536.7 622.0h.6M540.8 635.7h.6M536.4 628.4h.6M546.3 623.8h.6M538.7 625.0h.6M546.2 628.3h.6M543.6 631.8h.6M539.3 624.4h.6M552.6 627.4h.6M538.7 620.7h.6M540.8 624.7h.6M529.4 641.2h.6M547.7 634.7h.6M542.0 637.3h.6M540.0 634.0h.6M530.2 628.7h.6M538.4 609.2h.6M528.0 624.4h.6M560.3 617.9h.6M522.4 638.3h.6M530.1 636.5h.6M539.5 646.9h.6M539.9 639.8h.6M538.3 632.6h.6M540.2 631.6h.6M554.2 646.3h.6M540.3 630.1h.6M541.9 641.1h.6M547.3 632.8h.6M524.2 652.9h.6M554.7 636.5h.6M543.3 644.3h.6M556.7 633.1h.6M543.2 630.5h.6M559.5 629.0h.6M535.9 641.7h.6M546.3 632.2h.6M548.6 634.9h.6M540.0 635.4h.6M545.9 634.2h.6M545.1 633.7h.6M545.5 623.9h.6M557.1 641.4h.6M543.4 637.7h.6M558.4 636.6h.6M527.5 635.8h.6M522.9 630.7h.6M554.7 622.6h.6M524.9 629.2h.6M544.1 649.6h.6M537.7 631.8h.6M528.3 651.1h.6M538.7 636.4h.6M550.5 631.1h.6M531.5 628.2h.6M539.4 639.9h.6M550.6 627.7h.6M536.7 619.9h.6M540.6 651.6h.6M544.8 629.6h.6M555.3 636.3h.6M551.8 646.7h.6M528.0 632.9h.6M538.0 643.3h.6M539.3 633.5h.6M523.1 628.0h.6M534.4 623.3h.6M541.8 629.7h.6M542.2 640.4h.6M544.3 632.5h.6M543.5 622.3h.6M536.4 627.3h.6M559.0 621.1h.6M536.5 637.1h.6M535.4 638.1h.6M528.7 641.2h.6M542.2 612.8h.6M526.1 620.9h.6M537.6 629.1h.6M543.4 637.8h.6M546.1 636.4h.6M532.0 619.0h.6M528.1 635.5h.6M530.4 621.4h.6M531.4 635.7h.6M526.9 630.4h.6M547.3 639.5h.6M523.1 631.9h.6M534.4 654.2h.6M537.6 619.6h.6M533.9 632.0h.6M535.4 638.5h.6M536.1 632.5h.6M574.0 636.1h.6M548.4 632.4h.6M525.8 647.2h.6M535.5 638.2h.6M526.0 633.2h.6M550.9 622.3h.6M559.2 640.9h.6M543.9 629.7h.6M549.4 614.0h.6M552.5 614.5h.6M535.0 644.0h.6M543.4 615.3h.6M523.5 620.7h.6M534.8 624.5h.6M549.7 628.9h.6M557.5 644.1h.6M527.7 643.6h.6M553.2 621.7h.6M536.7 624.6h.6M530.0 631.6h.6M543.1 624.7h.6M524.0 637.8h.6M553.3 642.3h.6M525.8 627.5h.6M536.8 625.9h.6M550.7 624.0h.6M537.0 635.3h.6M540.7 634.3h.6M538.6 636.7h.6M543.2 632.6h.6M545.6 635.8h.6M547.1 636.4h.6M544.6 635.3h.6M531.5 627.7h.6M537.1 626.0h.6M535.3 626.0h.6M533.1 635.0h.6M569.9 649.3h.6M540.0 632.7h.6M537.5 630.0h.6M545.7 635.9h.6M542.8 640.3h.6M535.6 638.6h.6M541.7 623.3h.6M552.6 623.8h.6M548.0 625.6h.6M533.1 642.1h.6M544.1 632.0h.6M532.2 616.7h.6M535.1 630.5h.6M548.9 631.9h.6M550.0 627.2h.6M549.1 639.5h.6M537.6 639.4h.6M556.7 619.8h.6M527.0 626.0h.6M534.4 623.5h.6M541.5 619.8h.6M558.0 631.2h.6M542.1 630.4h.6M534.4 633.1h.6M538.7 635.3h.6M547.5 624.7h.6M522.5 626.1h.6M542.4 614.0h.6M544.5 632.9h.6M526.9 633.9h.6M549.3 631.2h.6M544.8 637.1h.6M551.7 642.6h.6M532.7 630.1h.6M540.4 623.2h.6M541.3 635.3h.6M543.2 615.3h.6M533.8 609.9h.6M541.0 631.8h.6M547.9 639.9h.6M530.7 631.1h.6M541.6 638.9h.6M551.5 630.4h.6M525.6 639.0h.6M538.0 616.0h.6M541.8 624.4h.6M540.4 642.6h.6M539.4 624.9h.6M544.2 629.5h.6M541.1 640.8h.6M542.3 636.3h.6M539.5 633.1h.6M529.9 625.2h.6M550.2 643.6h.6M529.3 638.0h.6M548.8 625.0h.6M547.0 637.1h.6M551.9 647.5h.6M540.3 635.4h.6M531.4 634.5h.6M540.4 630.1h.6M541.5 639.7h.6M549.3 638.8h.6M557.8 619.5h.6M538.7 631.3h.6M536.3 628.1h.6M526.4 629.2h.6M552.2 628.2h.6M539.9 635.8h.6M540.1 623.6h.6M535.2 642.4h.6M533.5 621.2h.6M559.0 633.3h.6M529.3 616.6h.6M532.8 620.5h.6M538.8 640.2h.6M547.9 628.8h.6M546.6 628.3h.6M526.1 638.2h.6M532.3 623.6h.6M550.0 632.5h.6M548.8 640.5h.6M547.7 631.0h.6M560.5 623.2h.6M549.7 648.6h.6M538.5 626.7h.6M548.5 641.7h.6M545.8 626.5h.6M541.8 619.2h.6M550.9 642.1h.6M538.5 637.3h.6M537.4 632.6h.6M541.9 630.3h.6M569.2 629.4h.6M550.4 624.3h.6M543.0 631.8h.6M532.2 639.4h.6M548.0 643.7h.6M544.5 623.1h.6M548.4 634.8h.6M558.5 611.3h.6M538.8 633.0h.6M550.7 621.7h.6M551.4 634.7h.6M523.2 652.8h.6M523.7 623.0h.6M532.0 636.1h.6M535.8 631.3h.6M532.8 636.4h.6M548.5 647.4h.6M525.7 625.6h.6M534.4 628.1h.6M538.9 637.7h.6M534.1 626.4h.6M552.7 644.2h.6M558.7 649.9h.6M532.9 643.9h.6M547.4 631.4h.6M546.5 626.4h.6M529.3 629.8h.6M525.3 628.5h.6M541.1 623.3h.6M533.0 614.7h.6M528.8 631.4h.6M533.8 633.3h.6M533.9 627.6h.6M523.9 646.9h.6M537.8 639.9h.6M532.6 621.7h.6M543.0 628.2h.6M539.5 637.6h.6M546.3 639.0h.6M542.2 615.1h.6M545.1 645.4h.6M544.2 641.2h.6M545.1 636.7h.6M546.3 618.8h.6M523.7 632.7h.6M546.4 636.9h.6M537.6 627.8h.6M530.0 635.1h.6M543.6 638.5h.6M539.1 643.2h.6M533.1 641.9h.6M532.4 644.6h.6M550.0 623.4h.6M545.7 623.3h.6M558.4 641.7h.6M541.3 635.4h.6M539.9 628.0h.6M529.5 631.4h.6M550.4 635.2h.6M551.7 641.2h.6M545.7 624.2h.6M530.7 628.7h.6M524.1 618.3h.6M541.2 644.1h.6M562.2 633.7h.6M549.9 635.3h.6M531.6 640.4h.6M540.0 637.7h.6M522.1 629.2h.6M550.1 630.2h.6M540.3 639.9h.6M555.0 644.4h.6M541.8 627.4h.6M550.0 626.4h.6M528.2 625.0h.6M539.9 625.8h.6M532.2 641.0h.6M529.1 621.5h.6M541.0 637.9h.6M535.2 623.6h.6M564.7 628.5h.6M567.2 625.7h.6M553.4 621.4h.6M556.9 637.2h.6M543.3 627.3h.6M556.6 644.5h.6M541.5 634.5h.6M534.3 638.6h.6M537.9 637.5h.6M522.3 636.7h.6M551.2 634.2h.6M556.9 625.9h.6M552.8 634.0h.6M542.0 636.9h.6M554.8 617.1h.6M541.8 632.0h.6M549.0 632.8h.6M536.6 635.1h.6M549.6 626.8h.6M543.0 631.8h.6M535.4 632.8h.6M561.0 628.6h.6M547.0 637.6h.6M553.2 629.9h.6M528.9 639.3h.6M522.6 635.2h.6M551.0 638.4h.6M542.1 630.8h.6M536.2 640.7h.6M524.6 622.2h.6M535.9 631.0h.6M546.1 630.4h.6M541.7 627.9h.6M551.7 640.2h.6M524.4 642.3h.6M544.4 633.6h.6M549.5 636.8h.6M542.9 636.7h.6M523.4 636.4h.6M542.5 623.2h.6M535.5 637.7h.6M536.5 623.9h.6M538.6 627.7h.6M542.1 643.2h.6M561.3 632.6h.6M545.8 623.9h.6M547.9 637.1h.6M534.7 638.9h.6M534.9 633.9h.6M543.7 633.3h.6M544.1 636.6h.6M535.1 634.5h.6M548.0 641.4h.6M532.6 629.1h.6M536.6 621.3h.6M545.3 649.3h.6M535.0 629.9h.6M536.9 632.0h.6M532.6 649.6h.6M530.8 638.6h.6M550.6 634.0h.6M555.2 617.8h.6M528.1 638.5h.6M544.8 631.4h.6M543.3 625.9h.6M531.0 625.8h.6M541.2 637.8h.6M560.1 630.4h.6M524.3 640.7h.6M536.9 623.7h.6M547.7 616.2h.6M528.1 648.9h.6M535.6 636.9h.6M553.8 621.8h.6M542.3 642.8h.6M549.4 644.9h.6M565.6 650.6h.6M547.9 627.2h.6M549.3 626.8h.6M523.0 619.8h.6M541.2 632.1h.6M535.2 642.3h.6M539.4 626.0h.6M540.6 632.3h.6M546.8 632.2h.6M549.8 628.8h.6M539.4 637.7h.6M533.0 634.5h.6M542.6 641.6h.6M525.4 643.9h.6M537.4 633.3h.6M554.8 637.2h.6M526.8 629.9h.6M548.1 630.0h.6M544.4 640.4h.6M560.3 626.6h.6M524.9 626.1h.6M536.2 641.3h.6M543.3 643.8h.6M542.7 620.7h.6M544.6 626.8h.6M543.9 618.3h.6M548.4 623.5h.6M536.7 640.3h.6M538.4 624.7h.6M555.3 629.7h.6M550.4 631.8h.6M522.8 630.8h.6M544.5 631.2h.6M557.2 617.7h.6M533.5 638.2h.6M551.9 640.2h.6M531.2 635.6h.6M545.8 648.5h.6M562.1 636.9h.6M547.1 639.3h.6M539.7 635.2h.6M544.5 633.9h.6M547.4 632.8h.6M535.1 642.6h.6M550.0 626.1h.6M546.7 625.0h.6M543.9 626.4h.6M534.7 636.4h.6M531.7 639.3h.6M556.7 630.5h.6M533.2 636.1h.6M538.4 619.3h.6M562.2 628.3h.6M559.0 640.5h.6M547.4 636.2h.6M537.5 638.2h.6M534.8 636.1h.6M532.1 633.0h.6M527.9 627.8h.6M544.4 633.4h.6M543.7 637.2h.6M557.9 628.1h.6M532.2 637.2h.6M542.8 632.7h.6M547.8 646.6h.6M543.7 624.5h.6M548.0 626.5h.6M525.7 623.2h.6M540.7 620.4h.6M536.9 636.7h.6M524.4 643.5h.6M560.5 631.2h.6M539.7 630.4h.6M528.5 634.3h.6M525.6 631.2h.6M530.0 624.8h.6M533.3 623.4h.6M523.9 643.0h.6M529.8 640.5h.6M548.0 629.8h.6M541.0 633.0h.6M545.6 636.1h.6M537.8 632.2h.6M550.7 625.4h.6M524.0 614.1h.6M537.0 641.0h.6M561.1 627.3h.6M542.2 624.9h.6M541.6 630.9h.6M549.4 639.5h.6M544.8 633.2h.6M549.2 630.8h.6M553.3 645.5h.6M548.9 647.5h.6M534.4 636.9h.6M543.1 626.1h.6M543.8 631.2h.6M545.2 633.8h.6M547.5 629.8h.6M540.6 640.6h.6M553.3 634.0h.6M523.3 640.6h.6M546.8 623.1h.6M522.6 618.6h.6M524.8 648.2h.6M536.2 631.2h.6M547.9 645.5h.6M542.1 631.9h.6M550.7 644.2h.6M543.1 627.7h.6M530.0 640.1h.6M531.0 627.6h.6M523.7 621.8h.6M546.6 627.5h.6M548.1 631.2h.6M535.1 640.6h.6M541.8 629.7h.6M555.4 623.9h.6M529.3 632.7h.6M540.2 616.0h.6M537.5 630.3h.6M531.8 634.3h.6M523.6 636.3h.6M550.6 652.4h.6M527.5 640.9h.6M532.4 618.2h.6M540.2 625.3h.6M534.5 625.0h.6M545.0 630.9h.6M544.5 634.5h.6M544.7 632.9h.6M528.5 638.4h.6M536.6 633.0h.6M541.7 633.6h.6M533.7 627.2h.6M531.2 629.7h.6M547.4 624.5h.6M543.1 647.7h.6M526.3 633.0h.6M543.5 630.3h.6M534.8 638.9h.6M539.2 634.5h.6M529.3 643.3h.6M559.6 630.0h.6M544.5 627.7h.6M552.5 636.3h.6M542.6 631.6h.6M530.8 634.4h.6M543.9 616.3h.6M541.5 616.1h.6M555.6 633.6h.6M545.2 625.7h.6M558.4 635.8h.6M541.5 631.0h.6M532.1 629.2h.6M537.2 621.9h.6M551.2 618.6h.6M544.5 643.6h.6M542.9 635.6h.6M536.2 623.3h.6M557.7 619.6h.6M544.6 622.7h.6M545.8 638.1h.6M551.9 632.6h.6M540.8 629.7h.6M540.7 631.8h.6M548.5 630.7h.6M538.5 652.6h.6M528.9 633.5h.6M564.9 621.0h.6M554.5 634.3h.6M550.9 638.4h.6M526.0 640.7h.6M537.2 619.2h.6M545.2 623.4h.6M538.7 635.1h.6M525.8 639.4h.6M548.0 633.4h.6M549.4 631.6h.6M555.4 628.6h.6M542.5 638.6h.6M545.1 618.8h.6M537.4 642.5h.6M535.3 619.3h.6M544.8 623.8h.6M552.9 626.7h.6M525.2 621.5h.6M529.8 626.2h.6M543.3 632.9h.6M549.3 625.1h.6M535.5 635.6h.6M545.1 639.7h.6M525.6 633.9h.6M544.5 636.8h.6M537.3 634.4h.6M523.4 623.3h.6M551.5 624.6h.6M543.4 651.6h.6M524.3 623.3h.6M541.6 634.8h.6M541.7 633.6h.6M528.3 629.5h.6M549.9 622.7h.6M538.2 632.0h.6M549.1 626.3h.6M553.3 634.8h.6M542.9 630.2h.6M533.9 621.7h.6M547.7 632.0h.6M548.4 638.8h.6M531.6 633.2h.6M533.7 615.8h.6M549.8 633.1h.6M541.2 642.9h.6M529.1 642.4h.6M535.3 635.3h.6M540.9 624.8h.6M526.1 641.4h.6M536.1 635.6h.6M535.6 634.2h.6M538.4 631.5h.6M548.4 646.8h.6M530.5 627.1h.6M544.0 629.2h.6M539.4 639.0h.6M540.2 623.1h.6M548.7 633.7h.6M544.7 633.6h.6M522.1 643.1h.6M533.0 642.3h.6M528.3 633.0h.6M543.0 627.0h.6M544.6 636.9h.6M535.0 637.8h.6M541.1 637.9h.6M532.5 626.9h.6M535.7 627.9h.6M536.4 637.0h.6M543.7 625.7h.6M538.3 636.4h.6M532.7 629.2h.6M535.8 623.8h.6M530.1 625.5h.6M546.7 628.9h.6M543.9 627.4h.6M525.7 627.5h.6M548.5 633.0h.6M535.1 634.9h.6M540.0 627.6h.6M534.3 634.8h.6M536.0 618.6h.6M543.1 621.4h.6M522.9 620.0h.6M523.8 643.0h.6M537.4 641.0h.6M543.3 629.4h.6M525.0 636.9h.6M538.0 630.9h.6M526.6 643.8h.6M531.8 635.0h.6M540.1 647.0h.6M556.2 636.3h.6M537.6 642.1h.6M548.8 617.9h.6M540.7 626.5h.6M552.9 646.1h.6M532.4 629.2h.6M531.9 637.1h.6M549.1 619.1h.6M524.7 637.8h.6M542.6 625.2h.6M544.3 642.2h.6M555.1 637.1h.6M534.2 639.7h.6M545.4 627.7h.6M555.0 644.8h.6M562.1 633.4h.6M537.1 630.6h.6M541.4 625.0h.6M526.8 647.7h.6M547.8 636.3h.6M550.4 627.5h.6M537.4 630.8h.6M554.2 631.5h.6M543.2 628.7h.6M544.8 637.6h.6M540.6 629.0h.6M559.0 624.2h.6M533.4 638.7h.6M530.6 623.9h.6M544.9 640.5h.6M562.8 649.4h.6M545.1 649.2h.6M528.5 631.0h.6M525.7 644.7h.6M534.8 634.2h.6M536.7 634.4h.6M537.3 638.5h.6M550.7 629.3h.6M540.1 630.1h.6M532.6 646.6h.6M522.5 616.4h.6M524.0 643.2h.6M546.3 641.7h.6M529.1 631.1h.6M560.6 620.8h.6M522.9 619.9h.6M537.4 639.9h.6M548.6 630.9h.6M543.7 631.7h.6M536.3 644.3h.6M541.4 630.7h.6M540.7 633.9h.6M545.0 641.9h.6M540.4 636.5h.6M537.5 627.6h.6M559.5 628.7h.6M557.7 619.5h.6M557.5 622.6h.6M539.8 633.2h.6M540.7 632.4h.6M533.5 639.6h.6M537.6 623.2h.6M548.7 636.7h.6M534.0 621.0h.6M550.3 633.5h.6M548.3 611.3h.6M534.9 633.4h.6M556.4 610.5h.6M559.1 621.6h.6M552.8 599.9h.6M557.8 625.8h.6M535.7 624.1h.6M547.6 620.7h.6M536.5 626.8h.6M550.8 617.6h.6M554.8 607.3h.6M556.9 637.0h.6M559.6 618.3h.6M538.4 620.8h.6M550.0 615.3h.6M543.6 617.4h.6M559.6 619.3h.6M555.7 621.4h.6M525.1 644.4h.6M560.6 617.0h.6M550.8 629.0h.6M558.3 635.0h.6M530.7 620.1h.6M541.1 621.2h.6M555.3 623.0h.6M537.7 626.1h.6M564.3 620.4h.6M552.4 634.7h.6M563.8 613.6h.6M566.8 623.6h.6M537.8 611.8h.6M525.5 609.9h.6M551.0 628.4h.6M549.9 613.9h.6M546.7 611.8h.6M544.7 637.5h.6M552.0 606.7h.6M549.5 611.2h.6M535.9 609.2h.6M575.3 609.0h.6M539.7 616.9h.6M565.6 642.0h.6M558.9 623.3h.6M545.9 616.6h.6M569.6 611.2h.6M559.7 608.6h.6M549.1 616.8h.6M562.7 598.8h.6M529.5 618.6h.6M552.3 626.9h.6M530.9 629.1h.6M558.6 616.3h.6M569.7 612.5h.6M565.6 633.0h.6M549.0 620.8h.6M544.5 620.9h.6M557.3 613.7h.6M550.3 622.3h.6M533.4 619.4h.6M552.7 635.2h.6M557.4 615.2h.6M549.3 625.3h.6M537.0 623.7h.6M539.4 629.2h.6M565.2 610.2h.6M561.8 627.1h.6M534.0 615.0h.6M549.6 628.8h.6M541.5 631.0h.6M565.1 617.2h.6M546.9 621.3h.6M556.8 624.4h.6M531.3 612.7h.6M530.2 631.3h.6M563.1 617.0h.6M559.7 607.1h.6M550.8 624.0h.6M529.0 619.4h.6M534.8 629.0h.6M549.2 614.8h.6M536.3 629.4h.6M552.5 612.6h.6M542.8 610.0h.6M566.8 613.9h.6M574.7 614.7h.6M538.0 615.9h.6M548.9 626.6h.6M584.0 638.4h.6M559.7 603.8h.6M571.8 638.4h.6M530.6 616.3h.6M556.4 641.8h.6M564.0 620.6h.6M523.5 629.7h.6M533.7 612.5h.6M531.1 624.7h.6M578.0 621.3h.6M563.1 611.3h.6M533.8 622.0h.6M527.2 609.5h.6M551.9 607.9h.6M557.3 643.1h.6M562.4 633.6h.6M539.4 616.5h.6M550.1 624.1h.6M534.9 611.0h.6M564.7 625.6h.6M575.1 636.3h.6M556.4 611.6h.6M541.5 608.5h.6M562.9 629.6h.6M571.1 613.3h.6M568.1 612.8h.6M551.2 612.5h.6M556.9 620.6h.6M551.7 594.6h.6M556.6 628.8h.6M563.7 605.3h.6M522.3 632.8h.6M550.8 614.4h.6M535.7 610.8h.6M534.9 610.5h.6M556.6 599.6h.6M574.1 632.2h.6M526.1 620.6h.6M552.8 628.3h.6M531.0 632.3h.6M570.9 612.2h.6M544.6 628.6h.6M555.1 637.5h.6M533.6 604.6h.6M547.7 619.2h.6M543.3 625.1h.6M540.9 624.4h.6M534.3 636.2h.6M562.3 620.4h.6M539.0 614.7h.6M537.2 602.8h.6M536.6 631.3h.6M545.4 629.1h.6M552.5 613.2h.6M534.1 614.5h.6M550.8 610.1h.6M540.4 606.4h.6M569.6 601.6h.6M556.9 605.4h.6M544.9 638.0h.6M539.6 623.1h.6M534.6 637.7h.6M568.1 634.7h.6M539.5 601.1h.6M532.7 601.7h.6M566.4 621.1h.6M547.1 609.1h.6M556.0 615.1h.6M542.5 620.9h.6M535.3 602.0h.6M564.8 637.5h.6M522.8 624.0h.6M528.6 611.5h.6M544.6 628.4h.6M525.8 634.2h.6M549.7 636.4h.6M537.8 594.1h.6M560.7 606.4h.6M584.7 622.1h.6M564.5 606.4h.6M548.1 620.5h.6M524.0 602.8h.6M552.2 623.8h.6M543.0 640.0h.6M570.1 596.7h.6M541.1 605.2h.6M534.2 612.6h.6M522.0 621.8h.6M567.7 633.0h.6M525.8 621.0h.6M556.8 613.1h.6M574.5 625.5h.6M568.2 619.3h.6M558.8 626.8h.6M535.6 599.2h.6M550.4 606.9h.6M563.1 606.1h.6M556.6 603.7h.6M577.9 620.7h.6M532.7 618.0h.6M551.5 590.6h.6M533.7 621.7h.6M537.5 614.0h.6M570.3 631.6h.6M552.1 622.8h.6M572.6 622.2h.6M528.4 620.4h.6M532.0 609.2h.6M550.3 617.4h.6M548.3 626.5h.6M546.2 620.5h.6M560.0 612.5h.6M545.9 614.7h.6M533.3 608.8h.6M556.0 619.1h.6M528.9 625.9h.6M560.1 628.3h.6M567.2 619.4h.6M557.9 616.0h.6M535.1 617.0h.6M556.0 620.9h.6M540.7 610.2h.6M540.9 613.5h.6M545.3 623.8h.6M547.8 593.7h.6M560.0 612.8h.6M577.3 638.2h.6M563.8 615.6h.6M548.5 602.1h.6M570.2 612.8h.6M563.9 622.3h.6M576.5 620.2h.6M550.2 612.6h.6M526.0 623.0h.6M539.7 629.0h.6M566.8 621.2h.6M582.2 622.3h.6M561.6 610.0h.6M559.5 617.3h.6M570.3 617.5h.6M523.9 628.1h.6M566.0 604.8h.6M549.4 622.5h.6M561.2 607.8h.6M538.5 612.6h.6M543.0 611.5h.6M552.7 602.9h.6M555.5 607.4h.6M542.2 610.9h.6M561.0 619.9h.6M542.2 622.1h.6M535.4 620.5h.6M552.4 618.6h.6M531.6 622.0h.6M557.7 622.3h.6M543.2 629.3h.6M575.4 631.3h.6M553.8 636.5h.6M539.1 599.0h.6M537.7 610.7h.6M541.0 616.5h.6M554.2 614.7h.6M535.4 614.5h.6M556.5 607.2h.6M529.4 613.1h.6M544.9 654.3h.6M553.7 611.5h.6M545.1 611.1h.6M560.1 641.9h.6M556.1 611.8h.6M552.7 647.1h.6M537.2 611.0h.6M542.8 613.3h.6M525.1 606.7h.6M545.6 626.4h.6M535.6 605.6h.6M545.1 603.4h.6M522.8 618.4h.6M554.6 613.2h.6M555.7 623.6h.6M560.8 615.4h.6M557.0 611.8h.6M552.4 627.3h.6M573.9 622.7h.6M543.1 612.0h.6M533.5 626.6h.6M567.1 609.8h.6M543.5 616.3h.6M529.0 604.6h.6M557.2 610.7h.6M557.9 622.1h.6M569.3 610.7h.6M569.8 613.3h.6M550.2 632.1h.6M542.8 605.5h.6M559.6 614.5h.6M527.8 632.2h.6M540.2 626.6h.6M548.8 609.4h.6M551.3 603.0h.6M565.5 607.0h.6M550.5 644.5h.6M546.4 618.0h.6M531.0 635.0h.6M553.1 620.4h.6M529.5 613.6h.6M547.7 613.2h.6M540.5 593.8h.6M534.5 641.5h.6M554.8 627.2h.6M532.6 631.9h.6M542.6 614.1h.6M552.2 616.5h.6M558.8 606.3h.6M551.2 605.1h.6M582.7 601.1h.6M569.1 631.4h.6M546.5 616.2h.6M547.7 623.2h.6M557.8 623.0h.6M560.5 621.6h.6M537.5 624.7h.6M541.6 606.4h.6M554.8 615.6h.6M527.3 626.6h.6M549.9 622.8h.6M531.7 615.5h.6M541.0 617.2h.6M565.4 607.7h.6M544.3 613.7h.6M554.5 600.6h.6M558.8 611.4h.6M569.4 631.1h.6M545.3 611.1h.6M543.6 610.2h.6M563.2 639.1h.6M532.2 609.0h.6M551.7 620.3h.6M555.8 604.0h.6M560.9 614.2h.6M558.4 615.6h.6M530.1 627.8h.6M546.7 611.6h.6M530.5 613.5h.6M566.7 631.2h.6M559.6 611.7h.6M551.9 620.4h.6M541.4 613.9h.6M552.8 607.6h.6M546.1 605.7h.6M540.8 612.4h.6M555.1 624.1h.6M539.9 619.2h.6M570.2 594.1h.6M547.8 601.7h.6M567.0 623.2h.6M556.6 621.6h.6M526.7 630.8h.6M545.8 616.1h.6M528.9 618.7h.6M526.4 600.9h.6M582.7 615.2h.6M581.7 633.9h.6M567.9 596.1h.6M573.1 618.9h.6M541.7 640.9h.6M562.0 627.2h.6M534.8 614.5h.6M558.9 617.1h.6M522.5 619.9h.6M549.1 614.6h.6M554.3 612.2h.6M568.8 599.2h.6M539.5 624.0h.6M563.6 635.6h.6M564.3 604.9h.6M562.3 614.0h.6M569.6 628.7h.6M537.6 614.9h.6M552.3 604.8h.6M528.4 613.7h.6M560.2 633.5h.6M556.5 620.1h.6M544.0 632.9h.6M530.5 623.9h.6M565.0 633.3h.6M538.3 607.3h.6M544.6 626.7h.6M556.3 617.6h.6M562.7 617.6h.6M547.3 636.8h.6M544.6 621.4h.6M539.8 623.4h.6M541.4 625.9h.6M546.7 617.6h.6M582.4 625.3h.6M563.3 613.9h.6M545.3 626.8h.6M561.9 622.6h.6M565.7 594.4h.6M551.1 630.5h.6M559.1 630.8h.6M536.7 623.8h.6M538.7 600.7h.6M574.5 625.8h.6M571.6 610.7h.6M548.9 610.5h.6M567.5 612.0h.6M541.7 613.8h.6M543.0 611.0h.6M575.6 605.8h.6M537.6 603.2h.6M566.2 608.3h.6M560.5 633.7h.6M555.6 638.3h.6M541.6 645.4h.6M562.2 602.2h.6M558.7 613.9h.6M570.7 603.9h.6M563.4 601.5h.6M557.9 599.3h.6M526.2 622.9h.6M532.8 630.9h.6M551.3 611.0h.6M564.8 638.6h.6M543.9 610.3h.6M550.6 605.2h.6M544.4 606.6h.6M571.5 605.7h.6M569.0 629.9h.6M545.5 616.9h.6M536.2 635.3h.6M542.1 620.4h.6M543.4 618.1h.6M558.4 623.4h.6M565.4 618.3h.6M558.0 600.6h.6M544.4 597.6h.6M562.5 617.9h.6M531.5 611.1h.6M555.3 634.0h.6M542.3 622.0h.6M532.2 644.1h.6M533.2 626.7h.6M548.0 609.2h.6M567.3 639.9h.6M563.8 618.7h.6M564.4 611.2h.6M544.4 605.4h.6M543.7 614.6h.6M552.4 609.6h.6M542.5 589.0h.6M571.8 627.7h.6M557.1 619.7h.6M531.9 603.8h.6M544.5 612.2h.6M555.4 611.2h.6M525.5 625.8h.6M541.8 622.8h.6M547.5 625.6h.6M559.3 612.1h.6M553.5 618.6h.6M550.3 603.3h.6M540.5 617.7h.6M545.4 594.9h.6M560.7 617.9h.6M545.8 607.9h.6M538.9 618.0h.6M569.1 631.0h.6M550.0 619.0h.6M552.7 626.5h.6M564.7 627.3h.6M549.3 629.1h.6M522.5 605.8h.6M556.2 626.7h.6M538.8 628.3h.6M546.5 616.1h.6M548.7 612.8h.6M564.3 613.2h.6M539.8 626.2h.6M533.7 617.4h.6M538.4 616.5h.6M528.0 613.0h.6M526.2 620.4h.6M552.0 606.9h.6M529.5 608.3h.6M537.1 633.9h.6M560.1 609.8h.6M560.4 621.0h.6M532.6 599.8h.6M539.5 603.4h.6M538.7 611.2h.6M554.1 597.5h.6M576.9 612.2h.6M535.3 608.6h.6M535.3 630.0h.6M536.9 590.5h.6M538.3 623.5h.6M533.3 616.8h.6M568.3 626.9h.6M533.0 626.2h.6M549.6 613.6h.6M577.5 609.5h.6M559.3 612.9h.6M539.3 602.0h.6M556.4 620.4h.6M573.4 608.2h.6M567.8 612.2h.6M531.4 620.4h.6M562.0 614.6h.6M566.7 636.6h.6M571.6 620.2h.6M537.9 636.4h.6M553.9 613.3h.6M533.4 623.3h.6M575.5 623.7h.6M536.7 619.9h.6M544.4 622.6h.6M574.8 599.1h.6M553.8 613.6h.6M553.8 613.9h.6M536.2 633.1h.6M545.3 613.1h.6M565.0 626.2h.6M564.3 610.0h.6M545.4 625.5h.6M540.6 606.1h.6M535.9 610.8h.6M529.3 610.8h.6M542.4 627.3h.6M534.8 615.4h.6M543.0 608.2h.6M533.8 616.6h.6M558.5 617.7h.6M530.1 629.6h.6M550.5 616.4h.6M529.1 613.2h.6M575.4 620.8h.6M548.4 640.0h.6M566.5 614.4h.6M536.6 607.0h.6M547.4 610.4h.6M558.3 608.6h.6M563.8 604.1h.6M526.6 630.4h.6M535.8 620.1h.6M557.9 619.3h.6M566.5 625.2h.6M550.0 617.6h.6M568.7 617.7h.6M562.7 625.8h.6M541.2 623.7h.6M590.3 607.2h.6M562.3 595.4h.6M546.1 613.0h.6M557.0 619.6h.6M531.3 604.3h.6M548.3 610.3h.6M546.4 619.2h.6M549.5 633.4h.6M554.3 621.7h.6M538.6 632.9h.6M565.7 619.5h.6M547.3 622.4h.6M565.7 628.7h.6M541.0 627.3h.6M549.8 610.2h.6M545.5 626.3h.6M575.6 614.1h.6M542.7 619.0h.6M544.0 603.4h.6M567.1 607.0h.6M545.2 618.4h.6M546.8 626.0h.6M534.7 603.3h.6M553.6 616.6h.6M533.7 625.8h.6M553.2 599.9h.6M553.1 623.5h.6M559.7 609.7h.6M547.1 616.6h.6M556.9 609.4h.6M548.3 613.8h.6M547.8 609.0h.6M554.9 628.2h.6M568.7 616.6h.6M554.8 618.2h.6M555.1 606.0h.6M525.9 633.5h.6M586.1 609.9h.6M562.6 620.8h.6M568.3 606.2h.6M552.4 640.3h.6M581.1 605.8h.6M550.6 614.6h.6M577.6 627.1h.6M539.1 623.6h.6M548.3 603.3h.6M543.2 627.6h.6M522.7 634.6h.6M559.9 627.4h.6M522.9 624.2h.6M537.8 601.0h.6M539.0 621.1h.6M549.6 646.7h.6M566.2 633.8h.6M559.9 620.5h.6M551.3 646.0h.6M545.4 605.3h.6M556.6 617.3h.6M550.8 603.6h.6M539.0 616.3h.6M544.5 621.3h.6M570.1 622.0h.6M556.1 613.9h.6M530.6 621.6h.6M550.2 610.4h.6M539.2 626.2h.6M558.3 616.9h.6M561.3 601.0h.6M548.6 632.9h.6M545.2 620.7h.6M546.5 621.8h.6M536.0 601.9h.6M562.5 623.2h.6M563.5 607.6h.6M553.3 616.0h.6M523.0 602.7h.6M556.7 636.0h.6M542.9 636.2h.6M535.3 624.6h.6M545.3 605.2h.6M561.9 610.5h.6M556.6 627.6h.6M540.4 610.3h.6M548.3 616.8h.6M575.1 624.8h.6M541.1 619.5h.6M547.1 616.7h.6M563.2 623.8h.6M545.5 626.4h.6M563.9 624.0h.6M541.9 634.5h.6M570.9 608.7h.6M562.3 626.3h.6M557.3 625.8h.6M546.9 615.3h.6M593.8 649.8h.6M530.8 642.2h.6M560.6 618.8h.6M563.1 632.9h.6M551.9 623.2h.6M569.7 608.0h.6M529.7 623.4h.6M571.6 613.8h.6M556.1 613.1h.6M549.8 616.6h.6M580.3 600.0h.6M541.4 603.5h.6M554.6 640.8h.6M522.5 586.8h.6M558.7 616.7h.6M548.6 618.5h.6M549.9 614.3h.6M544.2 618.9h.6M542.2 613.4h.6M559.4 625.5h.6M564.0 630.3h.6M554.5 638.4h.6M557.4 620.5h.6M523.0 630.2h.6M556.2 616.5h.6M527.9 614.7h.6M536.0 616.6h.6M554.0 616.9h.6M547.9 616.2h.6M579.0 607.3h.6M558.4 608.3h.6M545.6 630.5h.6M535.8 617.2h.6M534.0 633.8h.6M554.8 626.2h.6M548.8 629.6h.6M532.1 624.1h.6M523.5 631.7h.6M541.6 612.8h.6M568.8 617.6h.6M558.0 612.4h.6M544.1 628.8h.6M540.9 612.0h.6M558.2 614.4h.6M528.8 615.7h.6M573.1 609.9h.6M528.8 627.5h.6M543.1 611.7h.6M579.6 619.4h.6M534.4 624.5h.6M544.3 648.2h.6M555.5 614.4h.6M543.3 616.8h.6M540.0 626.1h.6M578.1 597.0h.6M549.8 624.2h.6M549.9 629.3h.6M564.0 619.2h.6M541.2 629.1h.6M540.6 610.9h.6M546.8 620.2h.6M542.3 615.0h.6M553.0 630.3h.6M540.2 608.1h.6M531.2 615.1h.6M552.4 624.4h.6M544.0 604.2h.6M532.4 628.6h.6M559.4 626.6h.6M563.3 618.7h.6M543.1 606.3h.6M550.7 614.9h.6M534.2 611.1h.6M531.7 623.7h.6M551.7 632.8h.6M551.1 615.3h.6M560.4 621.3h.6M523.0 617.6h.6M530.5 603.2h.6M534.9 630.7h.6M574.2 613.3h.6M557.8 626.8h.6M554.4 639.1h.6M547.7 611.8h.6M531.1 608.2h.6M549.0 596.3h.6M564.7 599.0h.6M530.8 611.4h.6M543.4 613.4h.6M545.3 637.3h.6M543.7 625.6h.6M535.9 635.2h.6M547.3 620.4h.6M533.2 608.1h.6M549.8 602.6h.6M556.0 620.4h.6M530.7 620.0h.6M562.8 607.8h.6M554.9 636.1h.6M548.8 616.6h.6M572.2 621.9h.6M569.7 607.6h.6M548.0 623.7h.6M557.9 628.3h.6M562.5 614.6h.6M545.3 614.3h.6M560.2 627.1h.6M539.9 622.9h.6M545.4 611.4h.6M551.4 628.6h.6M545.1 608.1h.6M576.1 644.4h.6M538.2 613.6h.6M549.5 618.5h.6M545.9 615.9h.6M554.8 602.2h.6M540.1 634.0h.6M545.4 630.0h.6M545.6 612.1h.6M532.8 622.4h.6M553.7 586.2h.6M541.8 633.9h.6M562.8 624.9h.6M537.7 621.4h.6M538.3 617.0h.6M560.5 630.8h.6M526.9 629.8h.6M575.4 608.3h.6M550.5 628.5h.6M549.3 627.8h.6M551.2 626.1h.6M590.3 631.6h.6M547.7 609.9h.6M555.7 606.8h.6M531.2 611.4h.6M552.3 613.3h.6M552.6 607.2h.6M564.6 620.4h.6M547.8 608.0h.6M547.9 613.5h.6M546.7 602.5h.6M559.0 618.9h.6M573.4 629.2h.6M531.0 609.7h.6M556.6 621.7h.6M552.2 616.7h.6M570.2 657.2h.6M533.1 639.5h.6M534.7 620.8h.6M539.6 652.8h.6M586.7 660.6h.6M563.1 636.4h.6M556.9 646.3h.6M548.4 638.8h.6M540.8 633.6h.6M559.9 641.0h.6M567.7 657.5h.6M572.3 648.7h.6M543.5 653.3h.6M600.9 635.2h.6M526.3 613.9h.6M581.3 651.5h.6M559.3 637.6h.6M586.6 633.1h.6M571.9 636.6h.6M573.8 657.9h.6M572.2 655.5h.6M553.1 647.4h.6M571.8 658.1h.6M563.0 645.2h.6M546.7 645.8h.6M525.7 636.3h.6M585.2 631.4h.6M552.4 650.2h.6M542.8 644.6h.6M537.7 634.8h.6M581.9 622.4h.6M523.1 617.3h.6M570.7 633.2h.6M585.9 616.8h.6M564.3 609.4h.6M602.9 650.1h.6M550.8 632.5h.6M557.1 610.7h.6M525.3 622.0h.6M546.8 623.1h.6M585.7 608.8h.6M569.7 624.4h.6M552.4 630.2h.6M561.6 646.3h.6M533.8 657.5h.6M539.2 618.4h.6M554.1 651.9h.6M565.3 635.0h.6M587.5 624.2h.6M541.2 660.0h.6M582.6 633.6h.6M559.6 632.5h.6M563.5 638.8h.6M536.3 622.1h.6M555.8 629.7h.6M547.5 634.0h.6M555.0 660.0h.6M564.1 631.3h.6M566.2 622.6h.6M539.0 642.7h.6M540.0 626.2h.6M588.6 659.8h.6M576.5 624.4h.6M523.3 627.7h.6M532.4 628.2h.6M548.8 644.6h.6M601.9 626.3h.6M552.3 617.8h.6M587.0 652.8h.6M564.6 628.6h.6M554.7 643.9h.6M527.7 640.1h.6M568.4 625.7h.6M582.1 632.2h.6M568.5 652.0h.6M570.7 622.8h.6M564.3 648.5h.6M547.6 624.5h.6M559.6 649.6h.6M586.4 659.8h.6M566.5 615.2h.6M556.7 634.8h.6M586.0 650.2h.6M532.6 620.6h.6M560.9 625.4h.6M522.5 616.2h.6M584.8 645.4h.6M534.9 637.1h.6M546.6 628.1h.6M578.9 657.6h.6M579.5 634.4h.6M583.2 619.7h.6M523.0 630.0h.6M547.4 651.3h.6M535.8 641.0h.6M563.6 645.1h.6M547.2 634.0h.6M539.9 638.1h.6M542.0 646.9h.6M562.8 638.1h.6M560.3 641.5h.6M574.3 655.5h.6M523.2 657.5h.6M565.2 652.2h.6M579.7 634.0h.6M540.4 653.4h.6M594.0 632.6h.6M524.4 652.6h.6M576.1 637.9h.6M534.9 659.0h.6M551.4 643.0h.6M545.4 660.5h.6M564.6 657.4h.6M575.1 649.1h.6M553.8 635.3h.6M545.1 635.2h.6M530.1 648.0h.6M579.6 641.2h.6M533.3 628.5h.6M524.8 635.0h.6M587.8 621.0h.6M546.8 639.1h.6M556.4 646.0h.6M577.5 646.4h.6M551.0 618.7h.6M559.7 630.7h.6M561.3 642.7h.6M541.3 639.9h.6M556.9 616.5h.6M550.8 649.6h.6M524.2 639.3h.6M582.9 625.3h.6M550.8 619.8h.6M588.6 643.6h.6M561.9 640.2h.6M559.8 651.7h.6M561.1 618.4h.6M568.4 653.7h.6M582.2 642.4h.6M562.4 633.9h.6M547.7 631.4h.6M553.7 639.0h.6M556.7 621.5h.6M547.3 643.4h.6M571.6 649.8h.6M544.5 648.9h.6M558.6 655.6h.6M547.1 659.5h.6M554.9 641.9h.6M559.5 641.4h.6M539.5 648.8h.6M549.4 656.9h.6M555.4 624.5h.6M523.2 624.3h.6M573.5 640.2h.6M578.2 650.8h.6M570.2 623.0h.6M560.4 625.9h.6M586.3 632.2h.6M564.4 633.5h.6M565.5 660.9h.6M564.4 660.6h.6M531.3 628.1h.6M534.0 643.0h.6M535.1 659.5h.6M561.3 646.0h.6M606.8 629.0h.6M552.7 647.5h.6M546.5 646.1h.6M530.2 645.3h.6M534.0 646.6h.6M536.9 656.0h.6M544.7 646.4h.6M536.8 647.5h.6M525.6 594.3h.6M541.9 653.7h.6M573.9 660.8h.6M561.8 624.0h.6M558.6 647.3h.6M545.7 645.8h.6M571.5 628.6h.6M591.5 627.2h.6M549.4 638.5h.6M555.3 627.0h.6M586.4 639.9h.6M547.8 626.4h.6M567.3 642.8h.6M545.7 644.2h.6M596.3 640.1h.6M529.6 647.8h.6M589.8 638.1h.6M543.9 647.9h.6M552.3 652.9h.6M565.7 643.2h.6M550.0 651.5h.6M561.9 632.3h.6M566.4 632.1h.6M584.0 641.8h.6M556.2 649.8h.6M545.9 634.5h.6M574.0 660.8h.6M571.2 613.2h.6M556.5 653.9h.6M542.2 642.8h.6M552.8 656.1h.6M575.8 651.3h.6M527.9 658.9h.6M555.1 642.0h.6M533.2 631.0h.6M580.1 627.1h.6M561.9 651.9h.6M552.5 660.5h.6M538.1 635.5h.6M568.4 617.7h.6M548.1 644.8h.6M565.5 652.5h.6M551.2 648.5h.6M583.2 644.4h.6M533.7 645.0h.6M604.0 631.3h.6M544.2 648.6h.6M554.1 628.4h.6M562.0 658.8h.6M563.7 656.4h.6M557.7 628.8h.6M578.7 640.2h.6M581.7 653.0h.6M566.1 642.4h.6M552.0 605.9h.6M553.7 635.7h.6M551.5 651.1h.6M551.1 628.0h.6M572.9 625.1h.6M575.9 644.9h.6M575.3 660.7h.6M586.5 648.3h.6M557.8 657.2h.6M562.4 643.1h.6M552.1 632.9h.6M583.3 659.2h.6M580.4 620.0h.6M573.0 619.4h.6M527.8 660.5h.6M563.2 657.9h.6M591.6 619.1h.6M525.1 659.4h.6M539.8 636.2h.6M569.0 657.1h.6M572.9 622.6h.6M559.4 641.0h.6M586.9 632.7h.6M583.4 657.0h.6M558.1 636.6h.6M584.3 659.4h.6M535.1 614.5h.6M556.7 648.4h.6M551.6 618.2h.6M543.3 649.7h.6M537.3 655.0h.6M563.3 638.5h.6M524.8 612.2h.6M558.3 646.3h.6M572.7 660.6h.6M558.8 638.5h.6M566.8 660.2h.6M552.6 660.4h.6M580.5 595.5h.6M569.7 659.0h.6M559.8 658.2h.6M559.1 646.7h.6M554.0 642.0h.6M530.1 624.1h.6M539.1 656.3h.6M579.2 645.0h.6M573.6 625.2h.6M548.1 648.9h.6M537.7 616.0h.6M525.0 660.9h.6M556.8 640.9h.6M564.4 661.0h.6M531.5 626.9h.6M549.5 656.9h.6M529.8 620.9h.6M557.6 631.8h.6M581.5 643.0h.6M556.7 660.8h.6M522.6 619.9h.6M580.3 619.6h.6M548.1 634.1h.6M595.6 644.2h.6M565.5 654.5h.6M539.8 655.3h.6M566.0 606.8h.6M536.9 623.6h.6M571.6 646.3h.6M585.8 650.4h.6M524.7 614.7h.6M538.2 640.3h.6M523.0 621.6h.6M560.7 623.1h.6M558.4 641.5h.6M523.4 649.4h.6M578.1 636.9h.6M562.8 642.2h.6M567.0 615.5h.6M556.8 627.2h.6M546.7 619.5h.6M550.5 621.9h.6M588.8 629.6h.6M537.2 649.9h.6M582.2 634.8h.6M567.3 639.2h.6M553.2 642.0h.6M572.2 643.2h.6M558.1 634.0h.6M583.7 658.0h.6M539.4 642.1h.6M575.8 637.7h.6M558.8 659.0h.6M564.0 623.9h.6M548.2 628.4h.6M553.4 642.7h.6M563.4 635.7h.6M530.7 628.2h.6M571.7 639.8h.6M556.4 637.3h.6M591.5 638.0h.6M567.4 633.9h.6M573.2 625.8h.6M566.7 648.4h.6M551.8 636.0h.6M569.5 656.4h.6M587.4 638.9h.6M589.2 624.1h.6M562.3 657.8h.6M552.5 647.8h.6M578.6 636.0h.6M577.2 607.2h.6M556.4 644.7h.6M543.9 626.2h.6M553.7 641.7h.6M558.2 640.8h.6M537.7 634.2h.6M569.0 645.8h.6M574.9 654.1h.6M599.6 638.6h.6M558.0 623.0h.6M557.4 657.1h.6M594.6 647.5h.6M542.6 650.6h.6M536.8 620.8h.6M591.4 631.5h.6M588.0 629.2h.6M563.7 624.2h.6M577.2 660.8h.6M559.2 635.1h.6M536.2 620.0h.6M584.2 632.4h.6M537.5 651.6h.6M553.9 644.5h.6M535.5 645.7h.6M523.6 641.8h.6M556.8 649.1h.6M536.8 641.3h.6M522.1 619.8h.6M581.4 634.8h.6M556.0 644.9h.6M557.5 650.4h.6M537.1 649.4h.6M587.7 625.0h.6M540.1 629.4h.6M594.2 619.0h.6M550.9 621.2h.6M563.1 649.7h.6M581.1 626.2h.6M540.0 659.3h.6M562.3 643.2h.6M525.2 634.7h.6M533.5 638.7h.6M564.1 647.7h.6M556.0 654.2h.6M582.0 638.0h.6M573.0 660.7h.6M599.8 619.0h.6M574.2 659.8h.6M576.7 625.4h.6M564.1 640.2h.6M561.5 639.6h.6M533.3 637.7h.6M564.1 651.5h.6M581.4 641.8h.6M565.2 631.2h.6M557.8 640.9h.6M531.2 655.0h.6M541.1 659.0h.6M587.5 640.5h.6M567.9 641.7h.6M562.8 612.3h.6M555.5 623.5h.6M571.1 639.5h.6M538.7 647.7h.6M582.6 639.4h.6M528.0 649.4h.6M582.4 647.7h.6M604.1 629.5h.6M537.3 646.8h.6M536.9 644.4h.6M557.7 651.4h.6M569.9 640.6h.6M543.6 630.0h.6M571.7 643.7h.6M557.0 639.0h.6M546.3 653.6h.6M547.8 652.7h.6M590.4 642.3h.6M554.5 645.3h.6M535.4 619.8h.6M586.0 644.3h.6M556.9 658.4h.6M566.6 620.7h.6M556.5 633.5h.6M578.5 630.6h.6M556.3 652.2h.6M545.3 636.6h.6M579.0 645.9h.6M568.9 637.2h.6M534.2 641.7h.6M583.8 621.6h.6M556.8 648.1h.6M563.6 641.2h.6M572.1 660.7h.6M544.5 633.2h.6M576.4 628.3h.6M544.7 656.0h.6M581.9 623.8h.6M560.6 651.5h.6M584.5 652.0h.6M541.1 632.0h.6M578.0 641.3h.6M542.8 647.7h.6M565.7 627.1h.6M546.1 643.5h.6M574.2 643.0h.6M544.3 612.1h.6M541.9 621.9h.6M556.0 625.2h.6M565.3 620.2h.6M563.4 659.0h.6M554.4 625.9h.6M563.0 658.1h.6M549.8 622.8h.6M583.3 639.8h.6M529.6 630.3h.6M580.8 620.9h.6M542.1 657.5h.6M548.2 621.3h.6M556.1 655.4h.6M523.7 655.5h.6M563.0 646.2h.6M571.1 638.6h.6M523.5 639.3h.6M571.1 656.8h.6M546.7 624.5h.6M575.3 623.5h.6M550.7 630.1h.6M544.4 634.7h.6M555.5 617.5h.6M541.6 648.0h.6M557.3 625.7h.6M546.6 651.0h.6M566.3 607.7h.6M578.1 652.2h.6M549.8 647.3h.6M566.8 655.2h.6M550.7 597.9h.6M561.1 641.4h.6M533.2 637.3h.6M571.3 643.3h.6M553.3 632.1h.6M549.6 649.1h.6M578.8 640.3h.6M543.1 637.7h.6M535.2 638.5h.6M577.2 637.0h.6M573.7 614.6h.6M605.3 645.5h.6M542.6 637.7h.6M533.6 640.1h.6M540.6 659.6h.6M574.1 646.7h.6M548.5 627.7h.6M541.5 659.1h.6M531.8 642.7h.6M549.6 640.3h.6M568.8 651.6h.6M574.3 642.4h.6M542.7 627.0h.6M547.1 645.5h.6M575.1 643.4h.6M575.9 641.1h.6M540.5 628.2h.6M585.1 645.5h.6M562.2 636.3h.6M567.1 643.5h.6M547.2 640.2h.6M547.1 631.0h.6M560.2 625.4h.6M572.7 634.9h.6M576.6 625.8h.6M540.3 658.5h.6M587.6 644.0h.6M588.3 647.8h.6M567.3 644.8h.6M589.4 654.4h.6M534.5 642.2h.6M524.2 635.1h.6M553.6 650.3h.6M575.6 635.1h.6" stroke="#9a2563" stroke-width="0.6" fill="none"/>
<rect x="508.5" y="575.1" width="102.2" height="102.2" fill="none" stroke="#58595b" stroke-width="1"/>
<line x1="542.9" y1="575.1" x2="542.9" y2="677.3" stroke="#6d6e71" stroke-width="1.0"/>
<line x1="508.5" y1="640.7" x2="610.7" y2="640.7" stroke="#6d6e71" stroke-width="1.0"/>
<text x="513.0" y="583.5" font-size="7.3" letter-spacing="-0.3">13.32</text>
<text x="605.2" y="583.5" font-size="7.3" text-anchor="end" letter-spacing="-0.3">11.85</text>
<text x="513.0" y="673.9" font-size="7.3" letter-spacing="-0.3">50.69</text>
<text x="605.2" y="673.9" font-size="7.3" text-anchor="end" letter-spacing="-0.3">24.14</text>
<text x="361.3" y="587.0" font-size="8.8" text-anchor="end" letter-spacing="-0.2">10<tspan font-size="5.5" dy="-3.3">5</tspan></text>
<text x="361.3" y="612.7" font-size="8.8" text-anchor="end" letter-spacing="-0.2">10<tspan font-size="5.5" dy="-3.3">4</tspan></text>
<text x="361.3" y="640.4" font-size="8.8" text-anchor="end" letter-spacing="-0.2">10<tspan font-size="5.5" dy="-3.3">3</tspan></text>
<text x="361.3" y="657.1" font-size="8.8" text-anchor="end" letter-spacing="-0.2">0</text>
<text x="361.3" y="674.6" font-size="8.8" text-anchor="end" letter-spacing="-0.2">−10<tspan font-size="5.5" dy="-3.3">3</tspan></text>
<line x1="365.5" y1="583.8" x2="368.5" y2="583.8" stroke="#58595b" stroke-width="0.8"/>
<line x1="365.5" y1="609.5" x2="368.5" y2="609.5" stroke="#58595b" stroke-width="0.8"/>
<line x1="365.5" y1="637.2" x2="368.5" y2="637.2" stroke="#58595b" stroke-width="0.8"/>
<line x1="365.5" y1="653.9" x2="368.5" y2="653.9" stroke="#58595b" stroke-width="0.8"/>
<line x1="365.5" y1="671.4" x2="368.5" y2="671.4" stroke="#58595b" stroke-width="0.8"/>
<line x1="367.0" y1="576.0" x2="368.5" y2="576.0" stroke="#58595b" stroke-width="0.5"/>
<line x1="367.0" y1="579.4" x2="368.5" y2="579.4" stroke="#58595b" stroke-width="0.5"/>
<line x1="367.0" y1="582.8" x2="368.5" y2="582.8" stroke="#58595b" stroke-width="0.5"/>
<line x1="367.0" y1="586.2" x2="368.5" y2="586.2" stroke="#58595b" stroke-width="0.5"/>
<line x1="367.0" y1="589.6" x2="368.5" y2="589.6" stroke="#58595b" stroke-width="0.5"/>
<line x1="367.0" y1="593.0" x2="368.5" y2="593.0" stroke="#58595b" stroke-width="0.5"/>
<line x1="367.0" y1="596.4" x2="368.5" y2="596.4" stroke="#58595b" stroke-width="0.5"/>
<line x1="367.0" y1="599.8" x2="368.5" y2="599.8" stroke="#58595b" stroke-width="0.5"/>
<line x1="367.0" y1="603.2" x2="368.5" y2="603.2" stroke="#58595b" stroke-width="0.5"/>
<line x1="367.0" y1="606.6" x2="368.5" y2="606.6" stroke="#58595b" stroke-width="0.5"/>
<line x1="367.0" y1="610.0" x2="368.5" y2="610.0" stroke="#58595b" stroke-width="0.5"/>
<line x1="367.0" y1="613.4" x2="368.5" y2="613.4" stroke="#58595b" stroke-width="0.5"/>
<line x1="367.0" y1="616.8" x2="368.5" y2="616.8" stroke="#58595b" stroke-width="0.5"/>
<line x1="367.0" y1="620.2" x2="368.5" y2="620.2" stroke="#58595b" stroke-width="0.5"/>
<line x1="367.0" y1="623.6" x2="368.5" y2="623.6" stroke="#58595b" stroke-width="0.5"/>
<line x1="367.0" y1="627.0" x2="368.5" y2="627.0" stroke="#58595b" stroke-width="0.5"/>
<line x1="367.0" y1="630.4" x2="368.5" y2="630.4" stroke="#58595b" stroke-width="0.5"/>
<line x1="367.0" y1="633.8" x2="368.5" y2="633.8" stroke="#58595b" stroke-width="0.5"/>
<line x1="367.0" y1="637.2" x2="368.5" y2="637.2" stroke="#58595b" stroke-width="0.5"/>
<line x1="367.0" y1="640.6" x2="368.5" y2="640.6" stroke="#58595b" stroke-width="0.5"/>
<line x1="367.0" y1="644.0" x2="368.5" y2="644.0" stroke="#58595b" stroke-width="0.5"/>
<line x1="367.0" y1="647.4" x2="368.5" y2="647.4" stroke="#58595b" stroke-width="0.5"/>
<line x1="367.0" y1="650.8" x2="368.5" y2="650.8" stroke="#58595b" stroke-width="0.5"/>
<line x1="367.0" y1="654.2" x2="368.5" y2="654.2" stroke="#58595b" stroke-width="0.5"/>
<line x1="367.0" y1="657.6" x2="368.5" y2="657.6" stroke="#58595b" stroke-width="0.5"/>
<line x1="367.0" y1="661.0" x2="368.5" y2="661.0" stroke="#58595b" stroke-width="0.5"/>
<line x1="367.0" y1="664.4" x2="368.5" y2="664.4" stroke="#58595b" stroke-width="0.5"/>
<line x1="367.0" y1="667.8" x2="368.5" y2="667.8" stroke="#58595b" stroke-width="0.5"/>
<line x1="367.0" y1="671.2" x2="368.5" y2="671.2" stroke="#58595b" stroke-width="0.5"/>
<line x1="367.0" y1="674.6" x2="368.5" y2="674.6" stroke="#58595b" stroke-width="0.5"/>
<text x="501.3" y="587.0" font-size="8.8" text-anchor="end" letter-spacing="-0.2">10<tspan font-size="5.5" dy="-3.3">5</tspan></text>
<text x="501.3" y="612.7" font-size="8.8" text-anchor="end" letter-spacing="-0.2">10<tspan font-size="5.5" dy="-3.3">4</tspan></text>
<text x="501.3" y="640.4" font-size="8.8" text-anchor="end" letter-spacing="-0.2">10<tspan font-size="5.5" dy="-3.3">3</tspan></text>
<text x="501.3" y="657.1" font-size="8.8" text-anchor="end" letter-spacing="-0.2">0</text>
<text x="501.3" y="674.6" font-size="8.8" text-anchor="end" letter-spacing="-0.2">−10<tspan font-size="5.5" dy="-3.3">3</tspan></text>
<line x1="505.5" y1="583.8" x2="508.5" y2="583.8" stroke="#58595b" stroke-width="0.8"/>
<line x1="505.5" y1="609.5" x2="508.5" y2="609.5" stroke="#58595b" stroke-width="0.8"/>
<line x1="505.5" y1="637.2" x2="508.5" y2="637.2" stroke="#58595b" stroke-width="0.8"/>
<line x1="505.5" y1="653.9" x2="508.5" y2="653.9" stroke="#58595b" stroke-width="0.8"/>
<line x1="505.5" y1="671.4" x2="508.5" y2="671.4" stroke="#58595b" stroke-width="0.8"/>
<line x1="507.0" y1="576.0" x2="508.5" y2="576.0" stroke="#58595b" stroke-width="0.5"/>
<line x1="507.0" y1="579.4" x2="508.5" y2="579.4" stroke="#58595b" stroke-width="0.5"/>
<line x1="507.0" y1="582.8" x2="508.5" y2="582.8" stroke="#58595b" stroke-width="0.5"/>
<line x1="507.0" y1="586.2" x2="508.5" y2="586.2" stroke="#58595b" stroke-width="0.5"/>
<line x1="507.0" y1="589.6" x2="508.5" y2="589.6" stroke="#58595b" stroke-width="0.5"/>
<line x1="507.0" y1="593.0" x2="508.5" y2="593.0" stroke="#58595b" stroke-width="0.5"/>
<line x1="507.0" y1="596.4" x2="508.5" y2="596.4" stroke="#58595b" stroke-width="0.5"/>
<line x1="507.0" y1="599.8" x2="508.5" y2="599.8" stroke="#58595b" stroke-width="0.5"/>
<line x1="507.0" y1="603.2" x2="508.5" y2="603.2" stroke="#58595b" stroke-width="0.5"/>
<line x1="507.0" y1="606.6" x2="508.5" y2="606.6" stroke="#58595b" stroke-width="0.5"/>
<line x1="507.0" y1="610.0" x2="508.5" y2="610.0" stroke="#58595b" stroke-width="0.5"/>
<line x1="507.0" y1="613.4" x2="508.5" y2="613.4" stroke="#58595b" stroke-width="0.5"/>
<line x1="507.0" y1="616.8" x2="508.5" y2="616.8" stroke="#58595b" stroke-width="0.5"/>
<line x1="507.0" y1="620.2" x2="508.5" y2="620.2" stroke="#58595b" stroke-width="0.5"/>
<line x1="507.0" y1="623.6" x2="508.5" y2="623.6" stroke="#58595b" stroke-width="0.5"/>
<line x1="507.0" y1="627.0" x2="508.5" y2="627.0" stroke="#58595b" stroke-width="0.5"/>
<line x1="507.0" y1="630.4" x2="508.5" y2="630.4" stroke="#58595b" stroke-width="0.5"/>
<line x1="507.0" y1="633.8" x2="508.5" y2="633.8" stroke="#58595b" stroke-width="0.5"/>
<line x1="507.0" y1="637.2" x2="508.5" y2="637.2" stroke="#58595b" stroke-width="0.5"/>
<line x1="507.0" y1="640.6" x2="508.5" y2="640.6" stroke="#58595b" stroke-width="0.5"/>
<line x1="507.0" y1="644.0" x2="508.5" y2="644.0" stroke="#58595b" stroke-width="0.5"/>
<line x1="507.0" y1="647.4" x2="508.5" y2="647.4" stroke="#58595b" stroke-width="0.5"/>
<line x1="507.0" y1="650.8" x2="508.5" y2="650.8" stroke="#58595b" stroke-width="0.5"/>
<line x1="507.0" y1="654.2" x2="508.5" y2="654.2" stroke="#58595b" stroke-width="0.5"/>
<line x1="507.0" y1="657.6" x2="508.5" y2="657.6" stroke="#58595b" stroke-width="0.5"/>
<line x1="507.0" y1="661.0" x2="508.5" y2="661.0" stroke="#58595b" stroke-width="0.5"/>
<line x1="507.0" y1="664.4" x2="508.5" y2="664.4" stroke="#58595b" stroke-width="0.5"/>
<line x1="507.0" y1="667.8" x2="508.5" y2="667.8" stroke="#58595b" stroke-width="0.5"/>
<line x1="507.0" y1="671.2" x2="508.5" y2="671.2" stroke="#58595b" stroke-width="0.5"/>
<line x1="507.0" y1="674.6" x2="508.5" y2="674.6" stroke="#58595b" stroke-width="0.5"/>
<text x="375.3" y="692.1" font-size="8.8" text-anchor="middle" letter-spacing="-0.2">−10<tspan font-size="5.5" dy="-3.3">3</tspan></text>
<line x1="375.3" y1="677.3" x2="375.3" y2="680.5" stroke="#58595b" stroke-width="0.8"/>
<text x="391.1" y="692.1" font-size="8.8" text-anchor="middle" letter-spacing="-0.2">0</text>
<line x1="391.1" y1="677.3" x2="391.1" y2="680.5" stroke="#58595b" stroke-width="0.8"/>
<text x="408.0" y="692.1" font-size="8.8" text-anchor="middle" letter-spacing="-0.2">10<tspan font-size="5.5" dy="-3.3">3</tspan></text>
<line x1="408.0" y1="677.3" x2="408.0" y2="680.5" stroke="#58595b" stroke-width="0.8"/>
<text x="435.8" y="692.1" font-size="8.8" text-anchor="middle" letter-spacing="-0.2">10<tspan font-size="5.5" dy="-3.3">4</tspan></text>
<line x1="435.8" y1="677.3" x2="435.8" y2="680.5" stroke="#58595b" stroke-width="0.8"/>
<text x="460.0" y="692.1" font-size="8.8" text-anchor="middle" letter-spacing="-0.2">10<tspan font-size="5.5" dy="-3.3">5</tspan></text>
<line x1="460.0" y1="677.3" x2="460.0" y2="680.5" stroke="#58595b" stroke-width="0.8"/>
<line x1="369.5" y1="677.3" x2="369.5" y2="679.0" stroke="#58595b" stroke-width="0.5"/>
<line x1="372.9" y1="677.3" x2="372.9" y2="679.0" stroke="#58595b" stroke-width="0.5"/>
<line x1="376.3" y1="677.3" x2="376.3" y2="679.0" stroke="#58595b" stroke-width="0.5"/>
<line x1="379.7" y1="677.3" x2="379.7" y2="679.0" stroke="#58595b" stroke-width="0.5"/>
<line x1="383.1" y1="677.3" x2="383.1" y2="679.0" stroke="#58595b" stroke-width="0.5"/>
<line x1="386.5" y1="677.3" x2="386.5" y2="679.0" stroke="#58595b" stroke-width="0.5"/>
<line x1="389.9" y1="677.3" x2="389.9" y2="679.0" stroke="#58595b" stroke-width="0.5"/>
<line x1="393.3" y1="677.3" x2="393.3" y2="679.0" stroke="#58595b" stroke-width="0.5"/>
<line x1="396.7" y1="677.3" x2="396.7" y2="679.0" stroke="#58595b" stroke-width="0.5"/>
<line x1="400.1" y1="677.3" x2="400.1" y2="679.0" stroke="#58595b" stroke-width="0.5"/>
<line x1="403.5" y1="677.3" x2="403.5" y2="679.0" stroke="#58595b" stroke-width="0.5"/>
<line x1="406.9" y1="677.3" x2="406.9" y2="679.0" stroke="#58595b" stroke-width="0.5"/>
<line x1="410.3" y1="677.3" x2="410.3" y2="679.0" stroke="#58595b" stroke-width="0.5"/>
<line x1="413.7" y1="677.3" x2="413.7" y2="679.0" stroke="#58595b" stroke-width="0.5"/>
<line x1="417.1" y1="677.3" x2="417.1" y2="679.0" stroke="#58595b" stroke-width="0.5"/>
<line x1="420.5" y1="677.3" x2="420.5" y2="679.0" stroke="#58595b" stroke-width="0.5"/>
<line x1="423.9" y1="677.3" x2="423.9" y2="679.0" stroke="#58595b" stroke-width="0.5"/>
<line x1="427.3" y1="677.3" x2="427.3" y2="679.0" stroke="#58595b" stroke-width="0.5"/>
<line x1="430.7" y1="677.3" x2="430.7" y2="679.0" stroke="#58595b" stroke-width="0.5"/>
<line x1="434.1" y1="677.3" x2="434.1" y2="679.0" stroke="#58595b" stroke-width="0.5"/>
<line x1="437.5" y1="677.3" x2="437.5" y2="679.0" stroke="#58595b" stroke-width="0.5"/>
<line x1="440.9" y1="677.3" x2="440.9" y2="679.0" stroke="#58595b" stroke-width="0.5"/>
<line x1="444.3" y1="677.3" x2="444.3" y2="679.0" stroke="#58595b" stroke-width="0.5"/>
<line x1="447.7" y1="677.3" x2="447.7" y2="679.0" stroke="#58595b" stroke-width="0.5"/>
<line x1="451.1" y1="677.3" x2="451.1" y2="679.0" stroke="#58595b" stroke-width="0.5"/>
<line x1="454.5" y1="677.3" x2="454.5" y2="679.0" stroke="#58595b" stroke-width="0.5"/>
<line x1="457.9" y1="677.3" x2="457.9" y2="679.0" stroke="#58595b" stroke-width="0.5"/>
<line x1="461.3" y1="677.3" x2="461.3" y2="679.0" stroke="#58595b" stroke-width="0.5"/>
<line x1="464.7" y1="677.3" x2="464.7" y2="679.0" stroke="#58595b" stroke-width="0.5"/>
<line x1="468.1" y1="677.3" x2="468.1" y2="679.0" stroke="#58595b" stroke-width="0.5"/>
<text x="514.4" y="692.1" font-size="8.8" text-anchor="middle" letter-spacing="-0.2">−10<tspan font-size="5.5" dy="-3.3">3</tspan></text>
<line x1="514.4" y1="677.3" x2="514.4" y2="680.5" stroke="#58595b" stroke-width="0.8"/>
<text x="533.3" y="692.1" font-size="8.8" text-anchor="middle" letter-spacing="-0.2">0</text>
<line x1="533.3" y1="677.3" x2="533.3" y2="680.5" stroke="#58595b" stroke-width="0.8"/>
<text x="549.4" y="692.1" font-size="8.8" text-anchor="middle" letter-spacing="-0.2">10<tspan font-size="5.5" dy="-3.3">3</tspan></text>
<line x1="549.4" y1="677.3" x2="549.4" y2="680.5" stroke="#58595b" stroke-width="0.8"/>
<text x="575.8" y="692.1" font-size="8.8" text-anchor="middle" letter-spacing="-0.2">10<tspan font-size="5.5" dy="-3.3">4</tspan></text>
<line x1="575.8" y1="677.3" x2="575.8" y2="680.5" stroke="#58595b" stroke-width="0.8"/>
<text x="610.8" y="692.1" font-size="8.8" text-anchor="middle" letter-spacing="-0.2">10<tspan font-size="5.5" dy="-3.3">5</tspan></text>
<line x1="610.8" y1="677.3" x2="610.8" y2="680.5" stroke="#58595b" stroke-width="0.8"/>
<line x1="509.4" y1="677.3" x2="509.4" y2="679.0" stroke="#58595b" stroke-width="0.5"/>
<line x1="512.8" y1="677.3" x2="512.8" y2="679.0" stroke="#58595b" stroke-width="0.5"/>
<line x1="516.2" y1="677.3" x2="516.2" y2="679.0" stroke="#58595b" stroke-width="0.5"/>
<line x1="519.6" y1="677.3" x2="519.6" y2="679.0" stroke="#58595b" stroke-width="0.5"/>
<line x1="523.0" y1="677.3" x2="523.0" y2="679.0" stroke="#58595b" stroke-width="0.5"/>
<line x1="526.4" y1="677.3" x2="526.4" y2="679.0" stroke="#58595b" stroke-width="0.5"/>
<line x1="529.8" y1="677.3" x2="529.8" y2="679.0" stroke="#58595b" stroke-width="0.5"/>
<line x1="533.2" y1="677.3" x2="533.2" y2="679.0" stroke="#58595b" stroke-width="0.5"/>
<line x1="536.6" y1="677.3" x2="536.6" y2="679.0" stroke="#58595b" stroke-width="0.5"/>
<line x1="540.0" y1="677.3" x2="540.0" y2="679.0" stroke="#58595b" stroke-width="0.5"/>
<line x1="543.4" y1="677.3" x2="543.4" y2="679.0" stroke="#58595b" stroke-width="0.5"/>
<line x1="546.8" y1="677.3" x2="546.8" y2="679.0" stroke="#58595b" stroke-width="0.5"/>
<line x1="550.2" y1="677.3" x2="550.2" y2="679.0" stroke="#58595b" stroke-width="0.5"/>
<line x1="553.6" y1="677.3" x2="553.6" y2="679.0" stroke="#58595b" stroke-width="0.5"/>
<line x1="557.0" y1="677.3" x2="557.0" y2="679.0" stroke="#58595b" stroke-width="0.5"/>
<line x1="560.4" y1="677.3" x2="560.4" y2="679.0" stroke="#58595b" stroke-width="0.5"/>
<line x1="563.8" y1="677.3" x2="563.8" y2="679.0" stroke="#58595b" stroke-width="0.5"/>
<line x1="567.2" y1="677.3" x2="567.2" y2="679.0" stroke="#58595b" stroke-width="0.5"/>
<line x1="570.6" y1="677.3" x2="570.6" y2="679.0" stroke="#58595b" stroke-width="0.5"/>
<line x1="574.0" y1="677.3" x2="574.0" y2="679.0" stroke="#58595b" stroke-width="0.5"/>
<line x1="577.4" y1="677.3" x2="577.4" y2="679.0" stroke="#58595b" stroke-width="0.5"/>
<line x1="580.8" y1="677.3" x2="580.8" y2="679.0" stroke="#58595b" stroke-width="0.5"/>
<line x1="584.2" y1="677.3" x2="584.2" y2="679.0" stroke="#58595b" stroke-width="0.5"/>
<line x1="587.6" y1="677.3" x2="587.6" y2="679.0" stroke="#58595b" stroke-width="0.5"/>
<line x1="591.0" y1="677.3" x2="591.0" y2="679.0" stroke="#58595b" stroke-width="0.5"/>
<line x1="594.4" y1="677.3" x2="594.4" y2="679.0" stroke="#58595b" stroke-width="0.5"/>
<line x1="597.8" y1="677.3" x2="597.8" y2="679.0" stroke="#58595b" stroke-width="0.5"/>
<line x1="601.2" y1="677.3" x2="601.2" y2="679.0" stroke="#58595b" stroke-width="0.5"/>
<line x1="604.6" y1="677.3" x2="604.6" y2="679.0" stroke="#58595b" stroke-width="0.5"/>
<line x1="608.0" y1="677.3" x2="608.0" y2="679.0" stroke="#58595b" stroke-width="0.5"/>
<path d="M365.5,652.4 L367.9,654.0 L365.5,655.6 Z" fill="#111"/>
<path d="M505.5,652.4 L507.9,654.0 L505.5,655.6 Z" fill="#111"/>
<path d="M389.5,678.2 L391.1,680.2 L392.7,678.2 Z" fill="#111"/>
<path d="M531.7,678.2 L533.3,680.2 L534.9,678.2 Z" fill="#111"/>
<text x="368.6" y="706.0" font-size="9.8" letter-spacing="-0.05">CD45RA (BV711)</text>
<line x1="446.0" y1="703.1" x2="608.0" y2="703.1" stroke="#4a5878" stroke-width="1.0"/>
<path d="M611,703.1 l-4.5,-2.3 v4.6 z" fill="#4a5878"/>
<text transform="translate(335.7,627.6) rotate(-90)" x="0.12" y="0" font-size="9.9" letter-spacing="0.24" text-anchor="middle">CD62L (BV605)</text>
<text x="0.3" y="729.8" font-size="15" font-weight="bold">i</text>
<line x1="49.9" y1="743.2" x2="49.9" y2="860.9" stroke="#58595b" stroke-width="1"/>
<line x1="49.9" y1="860.5" x2="224.7" y2="860.5" stroke="#58595b" stroke-width="1"/>
<line x1="45.9" y1="743.2" x2="49.9" y2="743.2" stroke="#58595b" stroke-width="1"/>
<text x="42.0" y="746.6" font-size="9.6" text-anchor="end" letter-spacing="-0.3">60</text>
<line x1="45.9" y1="782.3" x2="49.9" y2="782.3" stroke="#58595b" stroke-width="1"/>
<text x="42.0" y="785.7" font-size="9.6" text-anchor="end" letter-spacing="-0.3">40</text>
<line x1="45.9" y1="821.4" x2="49.9" y2="821.4" stroke="#58595b" stroke-width="1"/>
<text x="42.0" y="824.8" font-size="9.6" text-anchor="end" letter-spacing="-0.3">20</text>
<line x1="45.9" y1="860.5" x2="49.9" y2="860.5" stroke="#58595b" stroke-width="1"/>
<text x="42.0" y="863.9" font-size="9.6" text-anchor="end" letter-spacing="-0.3">0</text>
<line x1="69.5" y1="860.5" x2="69.5" y2="863.8" stroke="#58595b" stroke-width="1"/>
<text x="69.0" y="876.9" font-size="11" text-anchor="middle" letter-spacing="-0.3">T<tspan font-size="7.8" dy="3">SCM</tspan></text>
<line x1="114.6" y1="860.5" x2="114.6" y2="863.8" stroke="#58595b" stroke-width="1"/>
<text x="114.1" y="876.9" font-size="11" text-anchor="middle" letter-spacing="-0.3">T<tspan font-size="7.8" dy="3">CM</tspan></text>
<line x1="159.6" y1="860.5" x2="159.6" y2="863.8" stroke="#58595b" stroke-width="1"/>
<text x="159.1" y="876.9" font-size="11" text-anchor="middle" letter-spacing="-0.3">T<tspan font-size="7.8" dy="3">EM</tspan></text>
<line x1="204.7" y1="860.5" x2="204.7" y2="863.8" stroke="#58595b" stroke-width="1"/>
<text x="204.2" y="876.9" font-size="11" text-anchor="middle" letter-spacing="-0.3">T<tspan font-size="7.8" dy="3">EMRA</tspan></text>
<line x1="60.9" y1="740.0" x2="78.0" y2="740.0" stroke="#4d4d4f" stroke-width="1.1"/>
<text x="69.5" y="737.6" font-size="10.2" text-anchor="middle" letter-spacing="-0.6">NS</text>
<line x1="106.0" y1="740.0" x2="122.8" y2="740.0" stroke="#4d4d4f" stroke-width="1.1"/>
<text x="114.4" y="737.6" font-size="10.2" text-anchor="middle" letter-spacing="-0.6">NS</text>
<line x1="151.4" y1="740.0" x2="168.0" y2="740.0" stroke="#4d4d4f" stroke-width="1.1"/>
<text x="159.7" y="737.6" font-size="10.2" text-anchor="middle" letter-spacing="-0.6">NS</text>
<line x1="196.5" y1="740.0" x2="213.3" y2="740.0" stroke="#4d4d4f" stroke-width="1.1"/>
<text x="204.9" y="737.6" font-size="10.2" text-anchor="middle" letter-spacing="-0.6">NS</text>
<circle cx="60.9" cy="818.6" r="1.75" fill="#d59a5e"/>
<circle cx="60.9" cy="827.0" r="1.75" fill="#d59a5e"/>
<circle cx="60.9" cy="835.2" r="1.75" fill="#d59a5e"/>
<circle cx="60.9" cy="840.3" r="1.75" fill="#d59a5e"/>
<circle cx="106.2" cy="828.9" r="1.75" fill="#d59a5e"/>
<circle cx="102.4" cy="842.2" r="1.75" fill="#d59a5e"/>
<circle cx="110.0" cy="841.2" r="1.75" fill="#d59a5e"/>
<circle cx="151.4" cy="756.2" r="1.75" fill="#d59a5e"/>
<circle cx="151.4" cy="763.8" r="1.75" fill="#d59a5e"/>
<circle cx="151.4" cy="769.5" r="1.75" fill="#d59a5e"/>
<circle cx="151.4" cy="790.4" r="1.75" fill="#d59a5e"/>
<circle cx="192.3" cy="805.6" r="1.75" fill="#d59a5e"/>
<circle cx="199.9" cy="806.6" r="1.75" fill="#d59a5e"/>
<circle cx="196.1" cy="809.1" r="1.75" fill="#d59a5e"/>
<circle cx="196.1" cy="823.3" r="1.75" fill="#d59a5e"/>
<line x1="55.2" y1="831.7" x2="66.6" y2="831.7" stroke="#d59a5e" stroke-width="1.4"/>
<line x1="100.3" y1="837.4" x2="111.7" y2="837.4" stroke="#d59a5e" stroke-width="1.4"/>
<line x1="145.7" y1="766.3" x2="157.1" y2="766.3" stroke="#d59a5e" stroke-width="1.4"/>
<line x1="190.4" y1="807.2" x2="201.8" y2="807.2" stroke="#d59a5e" stroke-width="1.4"/>
<circle cx="74.2" cy="829.4" r="1.75" fill="#9e2b6e"/>
<circle cx="81.8" cy="826.2" r="1.75" fill="#9e2b6e"/>
<circle cx="78.0" cy="836.7" r="1.75" fill="#9e2b6e"/>
<circle cx="78.0" cy="840.9" r="1.75" fill="#9e2b6e"/>
<circle cx="119.0" cy="829.4" r="1.75" fill="#9e2b6e"/>
<circle cx="126.6" cy="828.1" r="1.75" fill="#9e2b6e"/>
<circle cx="119.0" cy="835.2" r="1.75" fill="#9e2b6e"/>
<circle cx="126.6" cy="832.3" r="1.75" fill="#9e2b6e"/>
<circle cx="168.2" cy="754.3" r="1.75" fill="#9e2b6e"/>
<circle cx="168.2" cy="762.3" r="1.75" fill="#9e2b6e"/>
<circle cx="164.3" cy="772.9" r="1.75" fill="#9e2b6e"/>
<circle cx="172.0" cy="770.4" r="1.75" fill="#9e2b6e"/>
<circle cx="209.5" cy="817.1" r="1.75" fill="#9e2b6e"/>
<circle cx="217.1" cy="813.6" r="1.75" fill="#9e2b6e"/>
<circle cx="209.5" cy="823.7" r="1.75" fill="#9e2b6e"/>
<circle cx="217.1" cy="819.9" r="1.75" fill="#9e2b6e"/>
<line x1="71.9" y1="833.6" x2="83.4" y2="833.6" stroke="#9e2b6e" stroke-width="1.4"/>
<line x1="116.5" y1="830.4" x2="129.4" y2="830.4" stroke="#9e2b6e" stroke-width="1.4"/>
<line x1="162.8" y1="766.0" x2="174.2" y2="766.0" stroke="#9e2b6e" stroke-width="1.4"/>
<line x1="207.6" y1="818.4" x2="219.0" y2="818.4" stroke="#9e2b6e" stroke-width="1.4"/>
<text transform="translate(21.3,801.7) rotate(-90)" x="0.21" y="0" font-size="9.9" letter-spacing="0.42" text-anchor="middle">Percent positive cells</text>
<circle cx="225.6" cy="763.4" r="1.75" fill="#d59a5e"/>
<circle cx="225.6" cy="776.1" r="1.75" fill="#9e2b6e"/>
<text x="232.7" y="766.7" font-size="9.2" letter-spacing="-0.45">CD19-4-1BBζ</text>
<text x="232.7" y="779.4" font-size="9.2" letter-spacing="-0.45">CD19-4-1BBζ +</text>
<text x="232.7" y="790.9" font-size="9.2" letter-spacing="-0.25">MT-SLP-76</text>
<text x="327.8" y="729.5" font-size="15" font-weight="bold">j</text>
<line x1="401.0" y1="743.3" x2="401.0" y2="860.5" stroke="#58595b" stroke-width="1"/>
<line x1="401.0" y1="860.1" x2="575.8" y2="860.1" stroke="#58595b" stroke-width="1"/>
<line x1="397.0" y1="743.3" x2="401.0" y2="743.3" stroke="#58595b" stroke-width="1"/>
<text x="393.5" y="746.5" font-size="9" text-anchor="end" letter-spacing="-0.3">1.5 × 10<tspan font-size="5.5" dy="-3.3">5</tspan></text>
<line x1="397.0" y1="782.2" x2="401.0" y2="782.2" stroke="#58595b" stroke-width="1"/>
<text x="393.5" y="785.4" font-size="9" text-anchor="end" letter-spacing="-0.3">1.0 × 10<tspan font-size="5.5" dy="-3.3">5</tspan></text>
<line x1="397.0" y1="821.0" x2="401.0" y2="821.0" stroke="#58595b" stroke-width="1"/>
<text x="393.5" y="824.2" font-size="9" text-anchor="end" letter-spacing="-0.3">5.0 × 10<tspan font-size="5.5" dy="-3.3">4</tspan></text>
<line x1="397.0" y1="860.1" x2="401.0" y2="860.1" stroke="#58595b" stroke-width="1"/>
<text x="393.5" y="863.3" font-size="9" text-anchor="end" letter-spacing="-0.3">0</text>
<line x1="400.8" y1="860.1" x2="400.8" y2="863.4" stroke="#58595b" stroke-width="1"/>
<text x="400.8" y="875.4" font-size="9.6" text-anchor="middle" letter-spacing="-0.3">0</text>
<line x1="459.2" y1="860.1" x2="459.2" y2="863.4" stroke="#58595b" stroke-width="1"/>
<text x="459.2" y="875.4" font-size="9.6" text-anchor="middle" letter-spacing="-0.3">10</text>
<line x1="517.6" y1="860.1" x2="517.6" y2="863.4" stroke="#58595b" stroke-width="1"/>
<text x="517.6" y="875.4" font-size="9.6" text-anchor="middle" letter-spacing="-0.3">20</text>
<line x1="576.0" y1="860.1" x2="576.0" y2="863.4" stroke="#58595b" stroke-width="1"/>
<text x="576.0" y="875.4" font-size="9.6" text-anchor="middle" letter-spacing="-0.3">30</text>
<text transform="translate(337.4,802.9) rotate(-90)" x="0.11" y="0" font-size="9.9" letter-spacing="0.22" text-anchor="middle">No. CAR<tspan font-size="7" dy="-3.5">+</tspan><tspan dy="3.5"> T cells in</tspan></text>
<text transform="translate(349.1,802.3) rotate(-90)" x="0.22" y="0" font-size="9.9" letter-spacing="0.44" text-anchor="middle">live spleen</text>
<text x="424.6" y="891.0" font-size="9.9" letter-spacing="0.39">Time after treatment (days)</text>
<polyline points="429.9,820.1 447.4,799.7 470.8,817.2 564.7,840.7" fill="none" stroke="#d4166f" stroke-width="0.9" stroke-linejoin="round" stroke-dasharray="2.2,1"/>
<polyline points="429.9,823.0 447.4,856.0 470.8,859.5 564.7,851.2" fill="none" stroke="#4f9da0" stroke-width="0.9" stroke-linejoin="round" stroke-dasharray="2.2,1"/>
<circle cx="429.9" cy="805.5" r="1.75" fill="#4f9da0"/>
<circle cx="429.9" cy="824.5" r="1.75" fill="#4f9da0"/>
<circle cx="429.9" cy="826.0" r="1.75" fill="#4f9da0"/>
<circle cx="429.9" cy="839.7" r="1.75" fill="#4f9da0"/>
<circle cx="429.9" cy="816.6" r="1.75" fill="#d4166f"/>
<circle cx="429.9" cy="820.7" r="1.75" fill="#d4166f"/>
<circle cx="429.9" cy="826.0" r="1.75" fill="#d4166f"/>
<circle cx="447.4" cy="854.6" r="1.75" fill="#4f9da0"/>
<circle cx="447.4" cy="856.6" r="1.75" fill="#4f9da0"/>
<circle cx="447.4" cy="771.0" r="1.75" fill="#d4166f"/>
<circle cx="447.4" cy="781.6" r="1.75" fill="#d4166f"/>
<circle cx="447.4" cy="811.4" r="1.75" fill="#d4166f"/>
<circle cx="447.4" cy="833.8" r="1.75" fill="#d4166f"/>
<circle cx="470.8" cy="858.0" r="1.75" fill="#4f9da0"/>
<circle cx="470.8" cy="860.0" r="1.75" fill="#4f9da0"/>
<circle cx="470.8" cy="800.5" r="1.75" fill="#d4166f"/>
<circle cx="470.8" cy="820.7" r="1.75" fill="#d4166f"/>
<circle cx="470.8" cy="823.9" r="1.75" fill="#d4166f"/>
<circle cx="564.7" cy="826.6" r="1.75" fill="#4f9da0"/>
<circle cx="564.7" cy="857.2" r="1.75" fill="#4f9da0"/>
<circle cx="564.7" cy="858.7" r="1.75" fill="#4f9da0"/>
<circle cx="564.7" cy="861.1" r="1.75" fill="#4f9da0"/>
<circle cx="564.7" cy="833.2" r="1.75" fill="#d4166f"/>
<circle cx="564.7" cy="837.1" r="1.75" fill="#d4166f"/>
<circle cx="564.7" cy="839.2" r="1.75" fill="#d4166f"/>
<circle cx="564.7" cy="840.7" r="1.75" fill="#d4166f"/>
<line x1="420.3" y1="778.1" x2="438.7" y2="778.1" stroke="#4d4d4f" stroke-width="1.1"/>
<text x="429.5" y="775.6" font-size="10.2" text-anchor="middle" letter-spacing="-0.6">NS</text>
<line x1="437.8" y1="750.3" x2="456.8" y2="750.3" stroke="#4d4d4f" stroke-width="1.1"/>
<text x="447.3" y="747.6" font-size="9.4" text-anchor="middle" letter-spacing="-0.25">0.0286</text>
<line x1="461.5" y1="778.1" x2="479.6" y2="778.1" stroke="#4d4d4f" stroke-width="1.1"/>
<text x="470.6" y="775.3" font-size="9.4" text-anchor="middle" letter-spacing="-0.25">0.0286</text>
<line x1="554.2" y1="803.6" x2="573.7" y2="803.6" stroke="#4d4d4f" stroke-width="1.1"/>
<text x="564.0" y="801.0" font-size="10.2" text-anchor="middle" letter-spacing="-0.6">NS</text>
<line x1="538.4" y1="744.9" x2="550.9" y2="744.9" stroke="#4f9da0" stroke-width="0.9" stroke-dasharray="2,1"/>
<circle cx="544.4" cy="744.9" r="1.5" fill="#4f9da0"/>
<line x1="538.4" y1="757.5" x2="550.9" y2="757.5" stroke="#d4166f" stroke-width="0.9" stroke-dasharray="2,1"/>
<circle cx="544.4" cy="757.5" r="1.5" fill="#d4166f"/>
<text x="555.7" y="748.2" font-size="9.2" letter-spacing="-0.45">CD19-CD28ζ</text>
<text x="555.7" y="760.8" font-size="9.2" letter-spacing="-0.45">CD19-CD28ζ +</text>
<text x="555.7" y="772.8" font-size="9.2" letter-spacing="-0.25">MT-SLP-76</text>
</svg></body></html>
